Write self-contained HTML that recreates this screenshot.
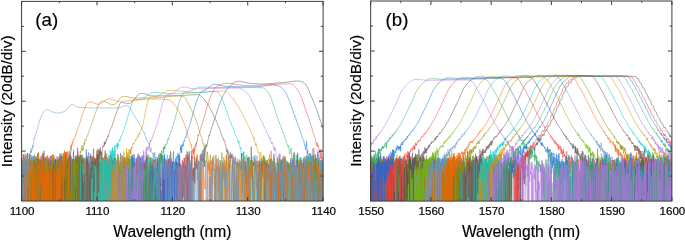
<!DOCTYPE html>
<html><head><meta charset="utf-8"><title>spectra</title>
<style>html,body{margin:0;padding:0;background:#fff;}body{width:685px;height:241px;overflow:hidden;}</style></head>
<body>
<svg width="685" height="241" viewBox="0 0 685 241" style="display:block;will-change:transform;font-family:'Liberation Sans',sans-serif" fill="#000">
<defs><clipPath id="ca"><rect x="21.6" y="1.4" width="301.5" height="199.6"/></clipPath><clipPath id="cb"><rect x="370.65" y="1.0" width="301.25" height="200.1"/></clipPath></defs>
<rect width="685" height="241" fill="#fff"/>
<polyline clip-path="url(#ca)" fill="none" stroke="#515151" stroke-width="0.5" stroke-linejoin="round" points="20.6,159.7 20.9,161.2 21.2,164.7 21.5,216 21.8,187.5 22.1,216 22.4,160.1 22.7,168.1 23,174.2 23.3,156.5 23.6,154.7 23.9,163.9 24.2,166.1 24.5,164.7 24.8,171 25.1,189.1 25.4,166.1 25.7,216 26,169.3 26.3,160.1 26.6,160.7 26.9,175.3 27.2,164.7 27.5,153.1 27.8,181.2 28.1,171.9 28.4,216 28.7,186.9 29,157.9 29.3,153.6 29.6,166.2 29.9,165.5 30.2,216 30.5,161.4 30.8,159.8 31.1,170 31.4,166.6 31.7,167.5 32,161.2 32.3,177.7 32.6,175.7 32.9,216 33.2,161.1 33.5,185.8 33.8,188.5 34.1,162.3 34.4,184.4 34.7,160.5 35,192.7 35.3,191.2 35.6,172.3 35.9,177 36.2,170.2 36.5,170.1 36.8,168.6 37.1,165.6 37.4,176.1 37.7,153.2 38,177.4 38.3,161 38.6,187.9 38.9,171.4 39.2,172.1 39.5,187.8 39.8,216 40.1,164.9 40.4,167.5 40.7,161.9 41,168.1 41.3,160 41.6,164.3 41.9,162.4 42.2,215.1 42.5,170.1 42.8,162.7 43.1,216 43.4,158.5 43.7,174.7 44,165.4 44.3,173.5 44.6,178.1 44.9,216 45.2,157.3 45.5,165.7 45.8,169 46.1,216 46.4,162.7 46.7,160.8 47,166.6 47.3,163.8 47.6,184.4 47.9,171.5 48.2,164.8 48.5,163.4 48.8,170.4 49.1,189 49.4,173.5 49.7,166.3 50,163.7 50.3,174.2 50.6,177.2 50.9,156.3 51.2,181.4 51.5,162.9 51.8,216 52.1,216 52.4,183.4 52.7,166.1 53,180.3 53.3,171.8 53.6,157.2 53.9,156.9 54.2,185.3 54.5,165.7 54.8,173.3 55.1,166.2 55.4,159.7 55.7,165.7 56,189 56.3,216 56.6,165.4 56.9,194.6 57.2,162.1 57.5,176.1 57.8,194.2 58.1,177.7 58.4,198.3 58.7,169.9 59,162.1 59.3,156.4 59.6,171.9 59.9,161.9 60.2,158.6 60.5,216 60.8,176.9 61.1,153.7 61.4,176.8 61.7,216 62,162.4 62.3,165.4 62.6,216 62.9,172.9 63.2,153.1 63.5,216 63.8,161.3 64.1,166 64.4,176.4 64.7,216 65,159.8 65.3,154.9 65.6,179.2 65.9,152.4 66.2,155.4 66.5,168.4 66.8,168.9 67.1,164.1 67.4,164.7 67.7,169.7 68,195.8 68.3,163 68.6,161.2 68.9,164.6 69.2,216 69.5,173.8 69.8,194.8 70.1,190.3 70.4,216 70.7,216 71,157.1 71.3,216 71.6,186.8 71.9,164.3 72.2,161.4 72.5,161.1 72.8,173 73.1,190.5 73.4,176.5 73.7,181.5 74,160.1 74.3,176.4 74.6,168.3 74.9,194.1 75.2,160.3 75.5,156 75.8,173.7 76.1,166.5 76.4,161.8 76.7,155.6 77,181.7 77.3,216 77.6,162.5 77.9,159.6 78.2,179.2 78.5,168.6 78.8,179.1 79.1,167.5 79.4,161.6 79.7,179.6 80,163.7 80.3,169.2 80.6,154.8 80.9,166.5 81.2,166.8 81.5,171.6 81.8,184.6 82.1,174 82.4,158.8 82.7,176.8 83,159.3 83.3,173.3 83.6,167.4 83.9,159 84.2,161.1 84.5,161.5 84.8,171.8 85.1,166.5 85.4,216 85.7,168.5 86,163.7 86.3,194 86.6,174.5 86.9,158.6 87.2,165 87.5,162.7 87.8,161.4 88.1,161.9 88.4,216 88.7,176.2 89,165 89.3,180.5 89.6,164.4 89.9,171.8 90.2,158.2 90.5,173.1 90.8,156.2 91.1,216 91.4,161.7 91.7,190.6 92,172.3 92.3,157.7 92.6,165.2 92.9,161.9 93.2,163.1 93.5,148.8 93.8,166 94.1,170.2 94.4,216 94.7,164.3 95,181.2 95.3,163.6 95.6,162.4 95.9,163.9 96.2,170.2 96.5,180.7 96.8,162.2 97.1,165.2 97.4,154.9 97.7,177.5 98,148.8 98.3,163.1 98.6,205 98.9,156.8 99.2,166.2 99.5,166.5 99.8,162.9 100.1,192.9 100.4,173.7 100.7,173 101,180.9 101.3,171.1 101.6,161.4 101.9,165.5 102.2,216 102.5,160 102.8,161.3 103.1,158.8 103.4,167.8 103.7,165.6 104,163.9 104.3,169.9 104.6,216 104.9,176.4 105.2,150.6 105.5,181.3 105.8,156.2 106.1,167.6 106.4,165.5 106.7,170 107,163.2 107.3,162.6 107.6,185.4 107.9,165.5 108.2,167.9 108.5,162.2 108.8,158.3 109.1,155.3 109.4,170.1 109.7,185.2 110,183 110.3,159.9 110.6,180.7 110.9,183 111.2,174.4 111.5,162.5 111.8,178.3 112.1,179.3 112.4,167.5 112.7,178.3 113,169.2 113.3,160.4 113.6,216 113.9,159.6 114.2,157.9 114.5,216 114.8,216 115.1,172.2 115.4,167 115.7,158.3 116,165 116.3,216 116.6,216 116.9,174 117.2,175.1 117.5,166.8 117.8,157.5 118.1,158.7 118.4,171.4 118.7,172.5 119,191 119.3,199.1 119.6,165.5 119.9,216 120.2,216 120.5,167.2 120.8,193 121.1,216 121.4,164.3 121.7,162 122,168.4 122.3,156.5 122.6,169.8 122.9,166.3 123.2,173 123.5,160.2 123.8,169 124.1,172.3 124.4,157 124.7,216 125,161.1 125.3,216 125.6,174.8 125.9,173.9 126.2,163.4 126.5,173 126.8,159.2 127.1,165.2 127.4,156.9 127.7,165.4 128,156.6 128.3,216 128.6,174.7 128.9,194.6 129.2,170.5 129.5,166.6 129.8,178.5 130.1,216 130.4,178.5 130.7,216 131,166.5 131.3,158.4 131.6,213 131.9,155.3 132.2,166.7 132.5,164.8 132.8,216 133.1,163.8 133.4,170.8 133.7,158.5 134,163.1 134.3,162.8 134.6,163.1 134.9,167.7 135.2,191.2 135.5,216 135.8,169.5 136.1,216 136.4,161.4 136.7,159.1 137,157.8 137.3,175.1 137.6,169.3 137.9,165.1 138.2,172.9 138.5,170.1 138.8,170 139.1,179.3 139.4,155.5 139.7,176.7 140,177.9 140.3,168.1 140.6,157.6 140.9,163.6 141.2,170.7 141.5,164.9 141.8,164.1 142.1,167.5 142.4,173.5 142.7,160 143,154.9 143.3,216 143.6,162.3 143.9,167.6 144.2,164.5 144.5,165.9 144.8,171.3 145.1,163.8 145.4,173.4 145.7,216 146,162.1 146.3,167.2 146.6,161.5 146.9,154.5 147.2,204.4 147.5,216 147.8,190.7 148.1,216 148.4,171.7 148.7,216 149,216 149.3,216 149.6,170.4 149.9,187.3 150.2,161.1 150.5,185.3 150.8,157.2 151.1,164.4 151.4,175.6 151.7,167.4 152,159.3 152.3,158.2 152.6,190.9 152.9,166.7 153.2,160.4 153.5,173.4 153.8,178.7 154.1,160 154.4,159.8 154.7,162.6 155,159.2 155.3,162.5 155.6,161.4 155.9,157.4 156.2,161.7 156.5,173.1 156.8,184.2 157.1,172.6 157.4,162.6 157.7,186.7 158,216 158.3,185.4 158.6,159.1 158.9,161.6 159.2,190 159.5,216 159.8,157.2 160.1,153 160.4,216 160.7,183.4 161,186 161.3,154.6 161.6,159 161.9,163 162.2,155.6 162.5,161.5 162.8,216 163.1,159.2 163.4,180.2 163.7,170.1 164,216 164.3,172.2 164.6,216 164.9,167.2 165.2,172.9 165.5,164.7 165.8,169.6 166.1,216 166.4,159.7 166.7,179.7 167,166.9 167.3,161.2 167.6,163.6 167.9,186.6 168.2,165.3 168.5,158.7 168.8,177.4 169.1,174.8 169.4,160.6 169.7,160.2 170,216 170.3,165.1 170.6,151.5 170.9,155.6 171.2,184.7 171.5,164.1 171.8,171.9 172.1,176.8 172.4,162.3 172.7,163.9 173,172.3 173.3,177.1 173.6,182.2 173.9,170 174.2,191.1 174.5,185 174.8,170.3 175.1,216 175.4,168.9 175.7,175.6 176,162.1 176.3,216 176.6,162.8 176.9,167.5 177.2,216 177.5,176.9 177.8,163.8 178.1,162.6 178.4,180.3 178.7,175.4 179,178.7 179.3,216 179.6,216 179.9,165.4 180.2,173.8 180.5,216 180.8,216 181.1,179.2 181.4,166.4 181.7,216 182,169.4 182.3,172.4 182.6,216 182.9,161.1 183.2,197.1 183.5,163.7 183.8,167.3 184.1,157.7 184.4,160.4 184.7,216 185,177.4 185.3,165.1 185.6,169.9 185.9,216 186.2,192 186.5,165.7 186.8,171.6 187.1,151.5 187.4,216 187.7,161.8 188,154.6 188.3,216 188.6,175.3 188.9,168.9 189.2,151.3 189.5,216 189.8,168.9 190.1,175.4 190.4,216 190.7,165.7 191,170.7 191.3,177 191.6,155.9 191.9,158.4 192.2,216 192.5,173.8 192.8,168.9 193.1,168.5 193.4,180.7 193.7,167.7 194,216 194.3,157.1 194.6,161.7 194.9,183.2 195.2,162.8 195.5,168.9 195.8,169.1 196.1,161.5 196.4,158.2 196.7,168.7 197,159.1 197.3,169.5 197.6,164.5 197.9,169.7 198.2,165.7 198.5,164.6 198.8,160.8 199.1,166.6 199.4,216 199.7,187.1 200,156.4 200.3,155 200.6,157 200.9,216 201.2,153.2 201.5,158.9 201.8,160.9 202.1,159.2 202.4,161.1 202.7,150.3 203,150.1 203.3,162.5 203.6,155.4 203.9,152.4 204.2,148.8 204.5,166.9 204.8,148.2 205.1,145.9 205.4,149.5 205.7,147.7 206,144.3 206.3,144.9 206.6,147 206.9,145.5 207.2,144 207.5,143.4 207.8,140.5 208.1,140 208.4,138.5 208.7,136.9 209,135.2 209.3,135.4 209.6,135.8 209.9,132.8 210.2,132.7 210.5,131.1 210.8,130.9 211.1,129.6 211.4,128.8 211.7,127.8 212,126.5 212.3,126.1 212.6,125 212.9,124 213.2,123.3 214.2,120.5 215.2,117.1 216.2,114.3 217.2,111 218.2,107.9 219.2,104.9 220.2,102.2 221.2,99.7 222.2,97.6 223.2,95.6 224.2,93.8 225.2,92 226.2,90.4 227.2,89 228.2,87.8 229.2,86.8 230.2,85.9 231.2,85 232.2,84.1 233.2,83.3 234.2,82.6 235.2,82.1 236.2,81.6 237.2,81.4 238.2,81.3 239.2,81.3 240.2,81.4 241.2,81.6 242.2,81.8 243.2,82 244.2,82.2 245.2,82.4 246.2,82.7 247.2,82.9 248.2,83.1 249.2,83.2 250.2,83.3 251.2,83.4 252.2,83.5 253.2,83.6 254.2,83.7 255.2,83.7 256.2,83.8 257.2,83.9 258.2,83.9 259.2,83.9 260.2,84 261.2,84 262.2,84 263.2,84 264.2,84 265.2,83.9 266.2,83.9 267.2,83.8 268.2,83.8 269.2,83.7 270.2,83.6 271.2,83.6 272.2,83.5 273.2,83.4 274.2,83.3 275.2,83.2 276.2,83.1 277.2,83 278.2,82.9 279.2,82.9 280.2,82.8 281.2,82.7 282.2,82.6 283.2,82.5 284.2,82.4 285.2,82.3 286.2,82.1 287.2,82 288.2,81.9 289.2,81.8 290.2,81.6 291.2,81.5 292.2,81.4 293.2,81.3 294.2,81.2 295.2,81.1 296.2,81.1 297.2,81 298.2,81 299.2,81 300.2,81.2 301.2,81.5 302.2,82 303.2,82.6 304.2,83.2 305.2,84 306.2,85.3 307.2,87 308.2,89.1 309.2,91.4 310.2,93.8 311.2,96.1 312.2,98.4 313.2,100.9 314.2,103.3 315.2,106 316.2,108.7 317.2,111.4 318.2,114.2 319.2,117.2 320.2,120.1 321.2,122.7 321.7,124 322.2,125.3 322.7,126.9 323.2,128.5 323.7,130.2"/>
<polyline clip-path="url(#ca)" fill="none" stroke="#F14040" stroke-width="0.5" stroke-linejoin="round" points="20.6,216 20.9,216 21.2,161.5 21.5,216 21.8,216 22.1,194.1 22.4,216 22.7,161.2 23,172.6 23.3,154.3 23.6,181.4 23.9,155.5 24.2,216 24.5,180.5 24.8,216 25.1,216 25.4,216 25.7,169.1 26,160.6 26.3,216 26.6,216 26.9,216 27.2,216 27.5,216 27.8,160 28.1,162.4 28.4,216 28.7,216 29,216 29.3,216 29.6,165.4 29.9,216 30.2,164.5 30.5,167.5 30.8,168.4 31.1,168.1 31.4,216 31.7,163.2 32,162.8 32.3,173.7 32.6,216 32.9,160.6 33.2,159.2 33.5,216 33.8,165 34.1,187.7 34.4,154.6 34.7,216 35,216 35.3,216 35.6,164.1 35.9,216 36.2,167.5 36.5,216 36.8,160.2 37.1,158.6 37.4,161.8 37.7,216 38,216 38.3,216 38.6,153.3 38.9,216 39.2,216 39.5,188.4 39.8,168.1 40.1,216 40.4,186.5 40.7,198 41,216 41.3,157.2 41.6,157.6 41.9,190.3 42.2,216 42.5,156.8 42.8,154.1 43.1,187 43.4,168 43.7,216 44,173.4 44.3,216 44.6,216 44.9,170.6 45.2,216 45.5,171.8 45.8,184.1 46.1,167.8 46.4,175.4 46.7,216 47,171.1 47.3,216 47.6,159.5 47.9,216 48.2,216 48.5,163.8 48.8,216 49.1,163.2 49.4,159.1 49.7,165.1 50,216 50.3,156.4 50.6,169.9 50.9,216 51.2,155.8 51.5,177 51.8,167.1 52.1,163.6 52.4,216 52.7,163.6 53,216 53.3,216 53.6,216 53.9,155 54.2,167.3 54.5,161.1 54.8,216 55.1,168.3 55.4,216 55.7,216 56,170 56.3,216 56.6,216 56.9,216 57.2,166.7 57.5,159.7 57.8,216 58.1,158 58.4,216 58.7,167 59,173.1 59.3,162.1 59.6,216 59.9,162.6 60.2,180 60.5,216 60.8,216 61.1,216 61.4,174 61.7,216 62,216 62.3,182.5 62.6,198.7 62.9,169.5 63.2,163.9 63.5,216 63.8,216 64.1,176.5 64.4,187.7 64.7,216 65,166.5 65.3,157.7 65.6,216 65.9,216 66.2,165.8 66.5,194.7 66.8,183.5 67.1,177.9 67.4,216 67.7,210.3 68,216 68.3,216 68.6,162.9 68.9,175.8 69.2,216 69.5,160.3 69.8,216 70.1,162.2 70.4,165.3 70.7,216 71,216 71.3,165.6 71.6,178.4 71.9,163.3 72.2,216 72.5,216 72.8,178.1 73.1,174.3 73.4,184.7 73.7,175.3 74,216 74.3,216 74.6,216 74.9,216 75.2,185.3 75.5,216 75.8,216 76.1,216 76.4,175 76.7,216 77,216 77.3,216 77.6,183.9 77.9,151.4 78.2,157.9 78.5,216 78.8,159.2 79.1,156.8 79.4,163.5 79.7,157 80,178.7 80.3,167.9 80.6,216 80.9,216 81.2,195.7 81.5,216 81.8,216 82.1,155.1 82.4,166.7 82.7,216 83,157.7 83.3,159.5 83.6,216 83.9,216 84.2,157.6 84.5,185.3 84.8,179.8 85.1,216 85.4,216 85.7,161.8 86,216 86.3,169.4 86.6,156.9 86.9,169.4 87.2,216 87.5,167.8 87.8,169 88.1,216 88.4,176.3 88.7,216 89,216 89.3,216 89.6,216 89.9,216 90.2,216 90.5,180.2 90.8,156.9 91.1,216 91.4,216 91.7,216 92,216 92.3,156 92.6,216 92.9,216 93.2,216 93.5,154.1 93.8,216 94.1,216 94.4,161.2 94.7,216 95,216 95.3,162.1 95.6,164.2 95.9,216 96.2,216 96.5,216 96.8,216 97.1,216 97.4,216 97.7,157.5 98,162.8 98.3,216 98.6,216 98.9,190 99.2,216 99.5,216 99.8,157.7 100.1,216 100.4,216 100.7,216 101,216 101.3,216 101.6,216 101.9,216 102.2,161.8 102.5,216 102.8,160.8 103.1,216 103.4,216 103.7,180.4 104,216 104.3,165.8 104.6,168.3 104.9,154.8 105.2,216 105.5,216 105.8,216 106.1,216 106.4,216 106.7,153.6 107,216 107.3,168.2 107.6,216 107.9,216 108.2,163 108.5,216 108.8,166.5 109.1,161.1 109.4,161.9 109.7,216 110,216 110.3,216 110.6,216 110.9,216 111.2,156 111.5,216 111.8,216 112.1,216 112.4,159.5 112.7,216 113,173.3 113.3,166.2 113.6,165.2 113.9,216 114.2,216 114.5,168.7 114.8,216 115.1,216 115.4,216 115.7,176 116,216 116.3,216 116.6,216 116.9,216 117.2,216 117.5,162 117.8,182.3 118.1,179.2 118.4,159.7 118.7,216 119,161.5 119.3,176.7 119.6,183.1 119.9,216 120.2,216 120.5,216 120.8,216 121.1,172.8 121.4,176.2 121.7,216 122,162.2 122.3,216 122.6,216 122.9,216 123.2,216 123.5,166.3 123.8,175.1 124.1,216 124.4,162.2 124.7,216 125,216 125.3,158.7 125.6,174.4 125.9,216 126.2,216 126.5,161.7 126.8,216 127.1,216 127.4,216 127.7,216 128,166.6 128.3,216 128.6,216 128.9,216 129.2,157 129.5,161 129.8,185.7 130.1,216 130.4,216 130.7,178.6 131,216 131.3,216 131.6,216 131.9,216 132.2,216 132.5,184.5 132.8,216 133.1,154.1 133.4,171.5 133.7,169.4 134,164.4 134.3,216 134.6,216 134.9,216 135.2,170.2 135.5,170.9 135.8,158.6 136.1,160.3 136.4,163.4 136.7,162.4 137,178.1 137.3,165.2 137.6,216 137.9,216 138.2,164 138.5,216 138.8,159.8 139.1,156.9 139.4,216 139.7,165.9 140,179.3 140.3,216 140.6,172.3 140.9,168.9 141.2,162.7 141.5,216 141.8,179.5 142.1,216 142.4,162.6 142.7,216 143,164.1 143.3,216 143.6,180.3 143.9,216 144.2,216 144.5,161.7 144.8,216 145.1,216 145.4,160.3 145.7,216 146,156.2 146.3,216 146.6,216 146.9,155 147.2,216 147.5,157.1 147.8,171.4 148.1,169 148.4,216 148.7,178.1 149,216 149.3,162.8 149.6,216 149.9,216 150.2,216 150.5,216 150.8,163.1 151.1,167.1 151.4,216 151.7,216 152,216 152.3,165.3 152.6,164.8 152.9,216 153.2,216 153.5,216 153.8,216 154.1,169.5 154.4,216 154.7,172.9 155,165.3 155.3,162.8 155.6,216 155.9,166.6 156.2,216 156.5,216 156.8,178.1 157.1,161.4 157.4,159.7 157.7,216 158,216 158.3,174.8 158.6,216 158.9,168.3 159.2,162.7 159.5,216 159.8,216 160.1,216 160.4,216 160.7,216 161,174.2 161.3,216 161.6,216 161.9,216 162.2,216 162.5,168.9 162.8,216 163.1,216 163.4,166.1 163.7,216 164,216 164.3,216 164.6,216 164.9,168.7 165.2,158.4 165.5,181.6 165.8,216 166.1,159.8 166.4,216 166.7,177 167,171.9 167.3,216 167.6,216 167.9,183.2 168.2,159.5 168.5,169.9 168.8,216 169.1,177.6 169.4,164.3 169.7,157.8 170,166.2 170.3,176.9 170.6,160.4 170.9,165.2 171.2,185.6 171.5,216 171.8,187.6 172.1,164.4 172.4,216 172.7,216 173,171.1 173.3,216 173.6,216 173.9,216 174.2,216 174.5,201.3 174.8,184.5 175.1,170.9 175.4,216 175.7,216 176,216 176.3,161.7 176.6,166.6 176.9,169.2 177.2,216 177.5,216 177.8,172.1 178.1,216 178.4,216 178.7,163.7 179,216 179.3,216 179.6,157.9 179.9,216 180.2,182.8 180.5,163.2 180.8,216 181.1,216 181.4,216 181.7,216 182,216 182.3,159.8 182.6,174.8 182.9,166.7 183.2,175.8 183.5,172.3 183.8,216 184.1,216 184.4,166.4 184.7,183.5 185,158.1 185.3,216 185.6,174.9 185.9,154.6 186.2,216 186.5,216 186.8,170.4 187.1,156.3 187.4,216 187.7,171.2 188,176.6 188.3,216 188.6,175.1 188.9,157.1 189.2,165.2 189.5,216 189.8,177.1 190.1,162.8 190.4,216 190.7,170.5 191,164.3 191.3,216 191.6,150.6 191.9,181 192.2,156.1 192.5,156.3 192.8,157.4 193.1,149.5 193.4,152.2 193.7,154.5 194,147.4 194.3,148 194.6,151.2 194.9,151.4 195.2,144.8 195.5,145.7 195.8,147.2 196.1,142.6 196.4,144.6 196.7,142.4 197,141.5 197.3,141.8 197.6,137.9 197.9,134.9 198.2,136.1 198.5,135.3 198.8,134.8 199.1,133.7 199.4,132.5 199.7,131.4 200,130.9 200.3,129.7 200.6,128.8 200.9,127.6 201.2,126.5 201.5,125.5 201.8,125 202.1,124 203.1,120.5 204.1,117.4 205.1,113.9 206.1,110.3 207.1,106.8 208.1,103.4 209.1,100.4 210.1,97.7 211.1,95.4 212.1,93.1 213.1,91 214.1,89.2 215.1,87.8 216.1,86.9 217.1,86.4 218.1,85.8 219.1,85.3 220.1,84.9 221.1,84.5 222.1,84.1 223.1,83.8 224.1,83.6 225.1,83.4 226.1,83.3 227.1,83.3 228.1,83.3 229.1,83.4 230.1,83.5 231.1,83.7 232.1,83.8 233.1,84 234.1,84.2 235.1,84.4 236.1,84.6 237.1,84.7 238.1,84.8 239.1,84.9 240.1,85 241.1,85.1 242.1,85.2 243.1,85.3 244.1,85.3 245.1,85.4 246.1,85.5 247.1,85.5 248.1,85.6 249.1,85.6 250.1,85.6 251.1,85.6 252.1,85.6 253.1,85.6 254.1,85.5 255.1,85.5 256.1,85.5 257.1,85.4 258.1,85.4 259.1,85.3 260.1,85.2 261.1,85.2 262.1,85.1 263.1,85 264.1,85 265.1,84.9 266.1,84.8 267.1,84.8 268.1,84.7 269.1,84.6 270.1,84.6 271.1,84.5 272.1,84.4 273.1,84.4 274.1,84.3 275.1,84.3 276.1,84.2 277.1,84.2 278.1,84.2 279.1,84.1 280.1,84.1 281.1,84 282.1,84 283.1,84 284.1,83.9 285.1,83.9 286.1,83.9 287.1,83.8 288.1,83.8 289.1,83.8 290.1,83.8 291.1,83.8 292.1,84.1 293.1,84.8 294.1,85.7 295.1,86.7 296.1,87.9 297.1,89.1 298.1,90.6 299.1,92.3 300.1,94.4 301.1,96.8 302.1,99.4 303.1,102.1 304.1,105 305.1,108 306.1,111.1 307.1,113.8 308.1,116.7 309.1,119.6 310.1,122.9 310.6,124.2 311.1,125.9 311.6,126.6 312.1,129.2 312.6,130.8 313.1,132.1 313.6,133.3 314.1,135.5 314.6,136.9 315.1,138.1 315.6,140 316.1,144.4 316.6,145.4 317.1,142.5 317.6,146.7 318.1,144.8 318.6,146.7 319.1,148.6 319.6,153.1 320.1,149.6 320.6,159.1 321.1,149.3 321.6,156 322.1,157 322.6,166.8 323.1,172.9 323.6,168.8 324.1,178.8"/>
<polyline clip-path="url(#ca)" fill="none" stroke="#1A6FDF" stroke-width="0.5" stroke-linejoin="round" points="20.6,216 20.9,216 21.2,165.1 21.5,216 21.8,216 22.1,216 22.4,164.2 22.7,216 23,216 23.3,170.2 23.6,216 23.9,216 24.2,216 24.5,181 24.8,191.1 25.1,216 25.4,216 25.7,171.3 26,216 26.3,216 26.6,216 26.9,170.5 27.2,216 27.5,166.5 27.8,216 28.1,165.7 28.4,216 28.7,165.5 29,179.3 29.3,167.6 29.6,216 29.9,164.9 30.2,216 30.5,216 30.8,216 31.1,216 31.4,216 31.7,216 32,216 32.3,216 32.6,178 32.9,216 33.2,216 33.5,167.9 33.8,156.3 34.1,216 34.4,216 34.7,166.3 35,216 35.3,164.3 35.6,216 35.9,216 36.2,216 36.5,163.8 36.8,216 37.1,192.1 37.4,216 37.7,167.6 38,174.5 38.3,168.6 38.6,155.9 38.9,216 39.2,162.1 39.5,168.9 39.8,163 40.1,216 40.4,162.1 40.7,216 41,159.1 41.3,163.5 41.6,183.3 41.9,167.5 42.2,168.3 42.5,174.8 42.8,152.9 43.1,216 43.4,216 43.7,216 44,216 44.3,182.8 44.6,165.6 44.9,162.3 45.2,173.1 45.5,175.9 45.8,216 46.1,162 46.4,159.1 46.7,193.9 47,164.8 47.3,216 47.6,183 47.9,176.9 48.2,163.2 48.5,216 48.8,178.4 49.1,162.9 49.4,170.4 49.7,165.5 50,216 50.3,216 50.6,216 50.9,216 51.2,216 51.5,161.7 51.8,173.8 52.1,216 52.4,216 52.7,183.7 53,163 53.3,166.3 53.6,216 53.9,216 54.2,175.6 54.5,162.9 54.8,216 55.1,216 55.4,168 55.7,179.6 56,159.8 56.3,169.7 56.6,162.9 56.9,216 57.2,216 57.5,216 57.8,216 58.1,173.2 58.4,216 58.7,169.9 59,216 59.3,163.5 59.6,164.9 59.9,216 60.2,216 60.5,216 60.8,165.4 61.1,166 61.4,157.4 61.7,216 62,179.3 62.3,216 62.6,216 62.9,216 63.2,216 63.5,176.8 63.8,216 64.1,216 64.4,160.1 64.7,216 65,179.8 65.3,216 65.6,216 65.9,216 66.2,171.2 66.5,216 66.8,171.2 67.1,158.1 67.4,161.9 67.7,216 68,216 68.3,164.5 68.6,216 68.9,216 69.2,157.8 69.5,173.3 69.8,165.3 70.1,216 70.4,152.5 70.7,151.4 71,216 71.3,164.7 71.6,216 71.9,170.1 72.2,159.9 72.5,160.2 72.8,216 73.1,170.9 73.4,152.2 73.7,162.8 74,158.9 74.3,167.4 74.6,216 74.9,216 75.2,216 75.5,216 75.8,216 76.1,216 76.4,165.3 76.7,216 77,170.2 77.3,216 77.6,147.7 77.9,216 78.2,177.8 78.5,156.9 78.8,216 79.1,180.2 79.4,178.1 79.7,167.7 80,216 80.3,156.9 80.6,161.1 80.9,178.1 81.2,160.4 81.5,216 81.8,216 82.1,216 82.4,169.2 82.7,216 83,216 83.3,169.6 83.6,216 83.9,172.3 84.2,216 84.5,176.2 84.8,206.1 85.1,172.1 85.4,216 85.7,216 86,216 86.3,149.4 86.6,216 86.9,216 87.2,216 87.5,159.4 87.8,160.5 88.1,164.2 88.4,216 88.7,162.5 89,216 89.3,160.5 89.6,216 89.9,216 90.2,216 90.5,216 90.8,153.8 91.1,216 91.4,216 91.7,216 92,216 92.3,216 92.6,216 92.9,173.2 93.2,216 93.5,216 93.8,199.6 94.1,216 94.4,216 94.7,192.9 95,162.8 95.3,166.9 95.6,170.1 95.9,163.9 96.2,216 96.5,161.8 96.8,216 97.1,216 97.4,216 97.7,167.4 98,216 98.3,168.8 98.6,216 98.9,216 99.2,172.9 99.5,216 99.8,161.5 100.1,216 100.4,216 100.7,161.5 101,216 101.3,164.6 101.6,194.3 101.9,185.2 102.2,181.4 102.5,216 102.8,158.3 103.1,170.2 103.4,168.2 103.7,165.9 104,164 104.3,176.5 104.6,216 104.9,216 105.2,216 105.5,216 105.8,163.8 106.1,216 106.4,216 106.7,169.6 107,216 107.3,216 107.6,216 107.9,186.5 108.2,216 108.5,216 108.8,216 109.1,175.9 109.4,159.1 109.7,216 110,172.4 110.3,216 110.6,216 110.9,216 111.2,216 111.5,216 111.8,175.9 112.1,216 112.4,160.5 112.7,166.4 113,168.8 113.3,216 113.6,173.3 113.9,216 114.2,216 114.5,216 114.8,216 115.1,163.2 115.4,163.8 115.7,166.5 116,160.3 116.3,216 116.6,216 116.9,216 117.2,216 117.5,166.2 117.8,153.9 118.1,216 118.4,169.9 118.7,196.8 119,185.6 119.3,190.9 119.6,167.9 119.9,216 120.2,216 120.5,153.1 120.8,216 121.1,216 121.4,216 121.7,172 122,169.1 122.3,178.2 122.6,159 122.9,216 123.2,165.1 123.5,216 123.8,216 124.1,216 124.4,166.2 124.7,216 125,216 125.3,216 125.6,216 125.9,216 126.2,185.7 126.5,216 126.8,216 127.1,216 127.4,190.5 127.7,216 128,185.7 128.3,159.6 128.6,216 128.9,216 129.2,176.8 129.5,216 129.8,159.1 130.1,216 130.4,216 130.7,173.7 131,216 131.3,216 131.6,216 131.9,156.2 132.2,160.7 132.5,158 132.8,216 133.1,207.1 133.4,164.4 133.7,216 134,216 134.3,154.5 134.6,174.8 134.9,175 135.2,216 135.5,216 135.8,216 136.1,216 136.4,181.3 136.7,216 137,216 137.3,157.3 137.6,174.8 137.9,216 138.2,156.3 138.5,166.9 138.8,178.7 139.1,216 139.4,160.1 139.7,190.7 140,162.1 140.3,158.4 140.6,216 140.9,157.4 141.2,166.2 141.5,192.9 141.8,216 142.1,156.7 142.4,176.6 142.7,169.1 143,216 143.3,169.2 143.6,164.6 143.9,159.5 144.2,216 144.5,216 144.8,216 145.1,216 145.4,178.8 145.7,216 146,182.1 146.3,161.3 146.6,158.3 146.9,205 147.2,216 147.5,216 147.8,216 148.1,216 148.4,216 148.7,216 149,216 149.3,166 149.6,172.4 149.9,177.9 150.2,216 150.5,165.8 150.8,216 151.1,216 151.4,171.3 151.7,216 152,216 152.3,164.7 152.6,216 152.9,216 153.2,216 153.5,173 153.8,216 154.1,216 154.4,216 154.7,216 155,168.4 155.3,168.8 155.6,216 155.9,187.3 156.2,167.9 156.5,216 156.8,197.4 157.1,216 157.4,157.1 157.7,216 158,216 158.3,216 158.6,168.2 158.9,181.6 159.2,216 159.5,158.4 159.8,184.7 160.1,176.7 160.4,216 160.7,216 161,216 161.3,190.6 161.6,216 161.9,216 162.2,167.6 162.5,178 162.8,216 163.1,216 163.4,163.1 163.7,216 164,156.1 164.3,216 164.6,154 164.9,173 165.2,216 165.5,172.5 165.8,190.9 166.1,216 166.4,194.7 166.7,193.1 167,216 167.3,166.6 167.6,216 167.9,194.2 168.2,166.6 168.5,196.3 168.8,216 169.1,164.9 169.4,216 169.7,175.2 170,216 170.3,216 170.6,216 170.9,157.9 171.2,216 171.5,162.1 171.8,216 172.1,170.9 172.4,216 172.7,161 173,169.5 173.3,153.5 173.6,151.1 173.9,216 174.2,161.8 174.5,216 174.8,216 175.1,169 175.4,158.7 175.7,159.8 176,167.6 176.3,156.1 176.6,216 176.9,179.1 177.2,162.1 177.5,216 177.8,152.9 178.1,159.6 178.4,160 178.7,154.7 179,166.7 179.3,155.6 179.6,166.3 179.9,153.9 180.2,152 180.5,147.3 180.8,150.6 181.1,144.9 181.4,149 181.7,152.9 182,145.8 182.3,146.4 182.6,146.8 182.9,143.4 183.2,145.9 183.5,143.8 183.8,141.4 184.1,140.5 184.4,141.4 184.7,139.5 185,138.8 185.3,137.5 185.6,137.4 185.9,138 186.2,135.7 186.5,133.6 186.8,134.1 187.1,132.8 187.4,131.4 187.7,131 188,130.4 188.3,129.1 188.6,128.2 188.9,127.5 189.2,126.3 189.5,125.7 189.8,124.8 190.1,123.7 191.1,120.3 192.1,117 193.1,113.5 194.1,109.5 195.1,105.8 196.1,102.5 197.1,99.7 198.1,97.4 199.1,95.2 200.1,93.4 201.1,91.9 202.1,91.1 203.1,90.6 204.1,90.3 205.1,89.9 206.1,89.4 207.1,88.8 208.1,88 209.1,87.1 210.1,86.3 211.1,85.5 212.1,84.9 213.1,84.5 214.1,84.4 215.1,84.4 216.1,84.5 217.1,84.7 218.1,84.8 219.1,85 220.1,85.2 221.1,85.5 222.1,85.7 223.1,85.9 224.1,86.1 225.1,86.2 226.1,86.4 227.1,86.5 228.1,86.5 229.1,86.5 230.1,86.5 231.1,86.6 232.1,86.6 233.1,86.6 234.1,86.6 235.1,86.6 236.1,86.7 237.1,86.7 238.1,86.7 239.1,86.7 240.1,86.7 241.1,86.7 242.1,86.7 243.1,86.7 244.1,86.8 245.1,86.8 246.1,86.8 247.1,86.8 248.1,86.8 249.1,86.8 250.1,86.8 251.1,86.8 252.1,86.8 253.1,86.8 254.1,86.8 255.1,86.8 256.1,86.8 257.1,86.7 258.1,86.7 259.1,86.5 260.1,86.4 261.1,86.3 262.1,86.2 263.1,86 264.1,85.9 265.1,85.7 266.1,85.6 267.1,85.4 268.1,85.3 269.1,85.2 270.1,85.1 271.1,85.1 272.1,85 273.1,85 274.1,85.1 275.1,85.2 276.1,85.3 277.1,85.5 278.1,85.8 279.1,86.2 280.1,86.7 281.1,87.4 282.1,88.2 283.1,89.1 284.1,90.1 285.1,91.6 286.1,93.3 287.1,95.4 288.1,97.7 289.1,100.2 290.1,102.9 291.1,105.7 292.1,108.6 293.1,111.5 294.1,114.3 295.1,116.9 296.1,119.2 297.1,122.4 297.6,123.7 298.1,125.3 298.6,126.5 299.1,127.9 299.6,129 300.1,131.3 300.6,131.8 301.1,133.4 301.6,135.2 302.1,137.5 302.6,139 303.1,139.7 303.6,140.4 304.1,142.7 304.6,145.4 305.1,145.1 305.6,149.7 306.1,146.9 306.6,141.3 307.1,153.9 307.6,149.8 308.1,160.2 308.6,155.4 309.1,154.8 309.6,153 310.1,160.2 310.6,153.9 311.1,177.2 311.6,167.6 312.1,166.2 312.6,166.3 313.1,171.6 313.6,154.5 314.1,191.5 314.6,159.9 315.1,166.2 315.6,154.6 316.1,193.1 316.6,163.9 317.1,165.9 317.6,151.9 318.1,169 318.6,161.6 319.1,158.1 319.6,164.1 320.1,216 320.6,160.4 321.1,163.2 321.6,216 322.1,167.2 322.6,166 323.1,159.7 323.6,161.4 324.1,175.8"/>
<polyline clip-path="url(#ca)" fill="none" stroke="#37AD6B" stroke-width="0.5" stroke-linejoin="round" points="20.6,162.2 20.9,216 21.2,163.7 21.5,216 21.8,216 22.1,216 22.4,165.5 22.7,177.3 23,166.7 23.3,216 23.6,176.1 23.9,216 24.2,158.1 24.5,158.9 24.8,172.5 25.1,216 25.4,216 25.7,168.8 26,174.6 26.3,216 26.6,166.8 26.9,165 27.2,169.5 27.5,172.8 27.8,177.7 28.1,201.5 28.4,216 28.7,216 29,161.1 29.3,216 29.6,183.2 29.9,164.7 30.2,154.7 30.5,216 30.8,159.9 31.1,160.6 31.4,163.5 31.7,156.8 32,216 32.3,162.9 32.6,216 32.9,170.1 33.2,216 33.5,216 33.8,216 34.1,170.4 34.4,216 34.7,216 35,216 35.3,216 35.6,216 35.9,177.7 36.2,165.2 36.5,216 36.8,216 37.1,168 37.4,216 37.7,216 38,174.1 38.3,163.8 38.6,216 38.9,216 39.2,216 39.5,216 39.8,216 40.1,192.7 40.4,216 40.7,166.9 41,216 41.3,174.4 41.6,170.6 41.9,172.5 42.2,175.8 42.5,174.2 42.8,216 43.1,216 43.4,155.7 43.7,158.7 44,160.4 44.3,165.5 44.6,216 44.9,157 45.2,216 45.5,216 45.8,166.2 46.1,216 46.4,160.7 46.7,216 47,161.4 47.3,170.4 47.6,216 47.9,160 48.2,162 48.5,165.9 48.8,164.2 49.1,216 49.4,163 49.7,163 50,161 50.3,167.9 50.6,216 50.9,170.4 51.2,216 51.5,216 51.8,216 52.1,184.7 52.4,216 52.7,176.9 53,171.7 53.3,185.5 53.6,211.4 53.9,176.8 54.2,168.5 54.5,216 54.8,216 55.1,163.8 55.4,198.9 55.7,216 56,163.4 56.3,163.1 56.6,216 56.9,216 57.2,216 57.5,216 57.8,216 58.1,216 58.4,164.9 58.7,216 59,216 59.3,163.7 59.6,216 59.9,179.8 60.2,216 60.5,216 60.8,167.8 61.1,161.3 61.4,163.4 61.7,156.4 62,216 62.3,216 62.6,216 62.9,189.3 63.2,162.5 63.5,171.5 63.8,216 64.1,160.7 64.4,173.5 64.7,182.1 65,216 65.3,174.6 65.6,170.4 65.9,216 66.2,216 66.5,216 66.8,173.6 67.1,159.1 67.4,162.2 67.7,162.8 68,157.9 68.3,168.1 68.6,160.8 68.9,163.5 69.2,179.3 69.5,216 69.8,216 70.1,172.3 70.4,216 70.7,216 71,161.5 71.3,216 71.6,164.4 71.9,191.6 72.2,216 72.5,169 72.8,166.7 73.1,216 73.4,170.4 73.7,216 74,184.4 74.3,175.4 74.6,216 74.9,185.3 75.2,159.4 75.5,216 75.8,216 76.1,216 76.4,216 76.7,216 77,216 77.3,184.4 77.6,174 77.9,216 78.2,187.3 78.5,158.3 78.8,172.8 79.1,178.6 79.4,166.6 79.7,216 80,163.9 80.3,156.6 80.6,216 80.9,216 81.2,216 81.5,216 81.8,176.4 82.1,160.8 82.4,168 82.7,157.3 83,169.9 83.3,182.3 83.6,216 83.9,171.2 84.2,216 84.5,216 84.8,216 85.1,157.9 85.4,163.9 85.7,186.2 86,216 86.3,216 86.6,216 86.9,158.5 87.2,168.1 87.5,168.5 87.8,216 88.1,163 88.4,152.7 88.7,216 89,216 89.3,178.4 89.6,162.9 89.9,175 90.2,181.8 90.5,158.8 90.8,216 91.1,216 91.4,216 91.7,165.1 92,163.4 92.3,216 92.6,216 92.9,216 93.2,172.9 93.5,163.6 93.8,216 94.1,216 94.4,216 94.7,216 95,167.8 95.3,181.8 95.6,174.6 95.9,189.1 96.2,176.3 96.5,216 96.8,216 97.1,175.2 97.4,173.5 97.7,162.8 98,216 98.3,216 98.6,216 98.9,216 99.2,164.9 99.5,216 99.8,170.3 100.1,169.6 100.4,169.6 100.7,168.6 101,216 101.3,161.7 101.6,157.9 101.9,164.6 102.2,158 102.5,170.2 102.8,216 103.1,162.5 103.4,188.8 103.7,216 104,157.7 104.3,216 104.6,160.9 104.9,216 105.2,216 105.5,164.6 105.8,177 106.1,173.3 106.4,172.2 106.7,160.9 107,169.5 107.3,216 107.6,185 107.9,167.5 108.2,216 108.5,168.4 108.8,216 109.1,185.9 109.4,179.3 109.7,164.1 110,216 110.3,200.3 110.6,167.4 110.9,151.9 111.2,172.5 111.5,165.2 111.8,216 112.1,149.2 112.4,203.6 112.7,216 113,173.6 113.3,216 113.6,216 113.9,216 114.2,216 114.5,156.5 114.8,216 115.1,154.4 115.4,171.6 115.7,216 116,174.7 116.3,165 116.6,181.5 116.9,168.7 117.2,216 117.5,216 117.8,188.3 118.1,157 118.4,216 118.7,190.8 119,216 119.3,216 119.6,171.9 119.9,216 120.2,161.2 120.5,162.8 120.8,216 121.1,216 121.4,166.5 121.7,171.7 122,216 122.3,216 122.6,159.7 122.9,185.6 123.2,172.2 123.5,216 123.8,158.9 124.1,216 124.4,177.3 124.7,216 125,216 125.3,201.9 125.6,171.5 125.9,166.5 126.2,216 126.5,162.7 126.8,216 127.1,216 127.4,193.6 127.7,216 128,216 128.3,157.1 128.6,216 128.9,216 129.2,168.7 129.5,216 129.8,162.3 130.1,216 130.4,183 130.7,168.4 131,155.5 131.3,159.5 131.6,216 131.9,165 132.2,176.3 132.5,216 132.8,216 133.1,157.7 133.4,216 133.7,216 134,216 134.3,216 134.6,216 134.9,174.3 135.2,172 135.5,163.4 135.8,216 136.1,216 136.4,173.3 136.7,185.7 137,216 137.3,216 137.6,216 137.9,216 138.2,159.5 138.5,168 138.8,216 139.1,161.8 139.4,216 139.7,170.2 140,186.1 140.3,216 140.6,161 140.9,216 141.2,216 141.5,216 141.8,216 142.1,216 142.4,191.5 142.7,180.3 143,216 143.3,170.9 143.6,172.9 143.9,167.1 144.2,216 144.5,216 144.8,169.7 145.1,216 145.4,216 145.7,216 146,171.3 146.3,161.5 146.6,216 146.9,216 147.2,166.9 147.5,159.4 147.8,175.9 148.1,216 148.4,166.3 148.7,154.7 149,171.2 149.3,165.7 149.6,157.3 149.9,216 150.2,164 150.5,158.5 150.8,161.9 151.1,173 151.4,216 151.7,216 152,216 152.3,216 152.6,216 152.9,180 153.2,187.5 153.5,216 153.8,216 154.1,170.1 154.4,216 154.7,163.5 155,168.9 155.3,163.3 155.6,182.3 155.9,175.4 156.2,167.4 156.5,167.3 156.8,177.7 157.1,174.1 157.4,179.3 157.7,172.5 158,185.9 158.3,184.9 158.6,211.2 158.9,154.6 159.2,171.5 159.5,162.5 159.8,174.7 160.1,159.1 160.4,153.3 160.7,164.4 161,156.9 161.3,157.4 161.6,150.5 161.9,155.7 162.2,155 162.5,154.7 162.8,164.6 163.1,149.2 163.4,147.2 163.7,153.1 164,147.6 164.3,149 164.6,145.4 164.9,148.9 165.2,146.1 165.5,144.1 165.8,144.7 166.1,144.6 166.4,144.2 166.7,144.3 167,142.5 167.3,143.2 167.6,139.4 167.9,139.8 168.2,139.7 168.5,140.2 168.8,137.1 169.1,136.1 169.4,135.9 169.7,134.8 170,134 170.3,133.7 170.6,132.9 170.9,131.8 171.2,130.5 171.5,130.3 171.8,129.8 172.1,128.2 172.4,127.3 172.7,126.4 173,125.4 173.3,124.8 173.6,123.7 174.6,120.3 175.6,116.9 176.6,113 177.6,108.7 178.6,104.6 179.6,101.1 180.6,98.5 181.6,96.1 182.6,94.1 183.6,92.8 184.6,92.2 185.6,91.9 186.6,91.7 187.6,91.5 188.6,91.4 189.6,91.1 190.6,90.8 191.6,90.4 192.6,90 193.6,89.5 194.6,88.9 195.6,88.5 196.6,88 197.6,87.6 198.6,87.3 199.6,87.1 200.6,87 201.6,87 202.6,87 203.6,87.1 204.6,87.1 205.6,87.1 206.6,87.2 207.6,87.2 208.6,87.3 209.6,87.3 210.6,87.4 211.6,87.4 212.6,87.4 213.6,87.5 214.6,87.5 215.6,87.5 216.6,87.5 217.6,87.5 218.6,87.5 219.6,87.5 220.6,87.5 221.6,87.5 222.6,87.6 223.6,87.5 224.6,87.6 225.6,87.6 226.6,87.6 227.6,87.5 228.6,87.6 229.6,87.6 230.6,87.6 231.6,87.6 232.6,87.6 233.6,87.6 234.6,87.6 235.6,87.6 236.6,87.6 237.6,87.6 238.6,87.6 239.6,87.6 240.6,87.6 241.6,87.6 242.6,87.6 243.6,87.6 244.6,87.6 245.6,87.6 246.6,87.6 247.6,87.6 248.6,87.6 249.6,87.6 250.6,87.6 251.6,87.6 252.6,87.6 253.6,87.6 254.6,87.6 255.6,87.6 256.6,87.6 257.6,87.7 258.6,87.7 259.6,87.7 260.6,87.7 261.6,87.7 262.6,87.8 263.6,88.1 264.6,88.7 265.6,89.5 266.6,90.5 267.6,91.6 268.6,92.8 269.6,94.5 270.6,96.8 271.6,99.5 272.6,102.5 273.6,105.6 274.6,109 275.6,112 276.6,115 277.6,117.9 278.6,120.7 279.5,123.1 280,124.6 280.5,125.6 281,126.9 281.5,127.9 282,129.7 282.5,130.7 283,132.5 283.5,134.1 284,135.1 284.5,137 285,138.4 285.5,138.3 286,139.6 286.5,142.7 287,144.3 287.5,144.6 288,147.1 288.5,145.6 289,149.1 289.5,153.8 290,153.8 290.5,151 291,147.8 291.5,153 292,167.5 292.5,164.9 293,158.1 293.5,161.9 294,160.7 294.5,152.3 295,216 295.5,181.2 296,168.4 296.5,168.4 297,167 297.5,161.3 298,173.9 298.5,160.4 299,171.5 299.5,168.6 300,216 300.5,167.7 301,178.6 301.5,166.5 302,170.2 302.5,216 303,216 303.5,158 304,216 304.5,177.6 305,190.2 305.5,160.1 306,167.5 306.5,216 307,160.5 307.5,161.2 308,216 308.5,158.6 309,162 309.5,194.9 310,216 310.5,185.4 311,162.8 311.5,180.8 312,155.9 312.5,182.9 313,156.4 313.5,181.5 314,159 314.5,216 315,172.3 315.5,158.8 316,180.2 316.5,157.8 317,216 317.5,170.1 318,216 318.5,158 319,154.5 319.5,163.6 320,177 320.5,160.7 321,216 321.5,216 322,165.7 322.5,216 323,216 323.5,167 324,163.8"/>
<polyline clip-path="url(#ca)" fill="none" stroke="#B177DE" stroke-width="0.5" stroke-linejoin="round" points="20.6,216 20.9,216 21.2,216 21.5,216 21.8,216 22.1,216 22.4,216 22.7,216 23,162.6 23.3,216 23.6,156.6 23.9,162.2 24.2,216 24.5,158.5 24.8,162.3 25.1,161.3 25.4,181.4 25.7,216 26,216 26.3,176.7 26.6,216 26.9,216 27.2,155.9 27.5,170.7 27.8,216 28.1,216 28.4,164.9 28.7,216 29,179.2 29.3,216 29.6,216 29.9,172.6 30.2,167.4 30.5,216 30.8,171.8 31.1,216 31.4,216 31.7,216 32,216 32.3,157.5 32.6,167 32.9,216 33.2,187.7 33.5,216 33.8,216 34.1,216 34.4,177.3 34.7,216 35,179.9 35.3,166 35.6,216 35.9,180.1 36.2,176.4 36.5,216 36.8,216 37.1,162.7 37.4,187.2 37.7,216 38,161 38.3,216 38.6,216 38.9,216 39.2,216 39.5,216 39.8,216 40.1,159.9 40.4,216 40.7,155.8 41,216 41.3,216 41.6,192.3 41.9,216 42.2,167.3 42.5,216 42.8,216 43.1,167.1 43.4,216 43.7,168 44,162.6 44.3,165.7 44.6,159.8 44.9,216 45.2,161.1 45.5,216 45.8,216 46.1,216 46.4,156.5 46.7,216 47,157.5 47.3,216 47.6,164.4 47.9,170.5 48.2,216 48.5,216 48.8,167.5 49.1,167.9 49.4,170.5 49.7,163.6 50,216 50.3,156.3 50.6,164.4 50.9,216 51.2,155.4 51.5,197.6 51.8,171.2 52.1,159.8 52.4,216 52.7,216 53,216 53.3,216 53.6,216 53.9,160.1 54.2,216 54.5,187.2 54.8,216 55.1,165.3 55.4,216 55.7,216 56,216 56.3,156.3 56.6,216 56.9,216 57.2,216 57.5,167.6 57.8,164.8 58.1,216 58.4,179.5 58.7,216 59,174.4 59.3,216 59.6,216 59.9,164.1 60.2,163.5 60.5,216 60.8,181.8 61.1,216 61.4,216 61.7,161.3 62,216 62.3,216 62.6,163 62.9,216 63.2,216 63.5,167.7 63.8,216 64.1,216 64.4,216 64.7,184.3 65,216 65.3,178.9 65.6,216 65.9,216 66.2,163.1 66.5,216 66.8,216 67.1,216 67.4,180 67.7,216 68,216 68.3,168.6 68.6,216 68.9,216 69.2,164.8 69.5,154.3 69.8,216 70.1,216 70.4,160.5 70.7,216 71,216 71.3,216 71.6,169.5 71.9,176.8 72.2,216 72.5,162.8 72.8,167 73.1,216 73.4,216 73.7,216 74,216 74.3,216 74.6,216 74.9,170 75.2,216 75.5,216 75.8,178.2 76.1,164 76.4,169.6 76.7,216 77,216 77.3,160.4 77.6,207.5 77.9,216 78.2,179.6 78.5,216 78.8,216 79.1,168.1 79.4,216 79.7,216 80,166.8 80.3,162 80.6,216 80.9,216 81.2,216 81.5,216 81.8,171.3 82.1,166.8 82.4,216 82.7,216 83,216 83.3,216 83.6,216 83.9,172.3 84.2,216 84.5,216 84.8,216 85.1,163.5 85.4,166.4 85.7,171.5 86,180.5 86.3,167.8 86.6,216 86.9,164.8 87.2,216 87.5,159.5 87.8,164.6 88.1,161.6 88.4,216 88.7,152.5 89,168.9 89.3,175.6 89.6,216 89.9,173.5 90.2,216 90.5,160.3 90.8,170.2 91.1,216 91.4,160 91.7,169.3 92,170.7 92.3,216 92.6,173.4 92.9,216 93.2,216 93.5,179.9 93.8,216 94.1,216 94.4,216 94.7,216 95,158.6 95.3,216 95.6,216 95.9,158.8 96.2,216 96.5,216 96.8,198 97.1,216 97.4,163.1 97.7,216 98,216 98.3,183.9 98.6,216 98.9,161.1 99.2,175 99.5,216 99.8,216 100.1,194.9 100.4,216 100.7,178.3 101,176 101.3,216 101.6,177.4 101.9,165.2 102.2,216 102.5,216 102.8,165.9 103.1,163.7 103.4,163.8 103.7,157.5 104,216 104.3,216 104.6,177.1 104.9,216 105.2,172.3 105.5,166 105.8,182.8 106.1,168.5 106.4,191.1 106.7,175.2 107,216 107.3,157.8 107.6,216 107.9,216 108.2,216 108.5,216 108.8,216 109.1,216 109.4,158.7 109.7,172.6 110,216 110.3,204.1 110.6,162.9 110.9,164.9 111.2,174.8 111.5,164.2 111.8,216 112.1,164.8 112.4,216 112.7,216 113,216 113.3,182.6 113.6,216 113.9,174.9 114.2,216 114.5,166.9 114.8,216 115.1,168.1 115.4,216 115.7,216 116,161.5 116.3,162.7 116.6,216 116.9,216 117.2,159.8 117.5,190.9 117.8,216 118.1,216 118.4,216 118.7,164.8 119,159.6 119.3,216 119.6,216 119.9,216 120.2,216 120.5,173.6 120.8,216 121.1,163.6 121.4,155.5 121.7,161.2 122,216 122.3,216 122.6,216 122.9,216 123.2,157.6 123.5,183.1 123.8,216 124.1,169.3 124.4,216 124.7,216 125,216 125.3,216 125.6,216 125.9,168.1 126.2,216 126.5,163.5 126.8,216 127.1,216 127.4,158.8 127.7,216 128,216 128.3,216 128.6,216 128.9,186.7 129.2,165 129.5,172.2 129.8,189.4 130.1,216 130.4,185 130.7,165.7 131,216 131.3,216 131.6,216 131.9,216 132.2,190.2 132.5,216 132.8,216 133.1,216 133.4,168.6 133.7,216 134,165.7 134.3,216 134.6,216 134.9,165.9 135.2,216 135.5,161.7 135.8,216 136.1,188.9 136.4,216 136.7,216 137,173 137.3,216 137.6,154.7 137.9,216 138.2,153.1 138.5,162.4 138.8,170.2 139.1,216 139.4,155.7 139.7,162.5 140,158.1 140.3,216 140.6,216 140.9,178.4 141.2,161.4 141.5,158.8 141.8,156 142.1,203.1 142.4,216 142.7,157.2 143,182.4 143.3,161.4 143.6,150.5 143.9,162.6 144.2,156.1 144.5,155.9 144.8,156.5 145.1,153.9 145.4,152.7 145.7,153.7 146,148.4 146.3,149.3 146.6,155.4 146.9,146.9 147.2,149.5 147.5,149.7 147.8,150.8 148.1,146.3 148.4,147.4 148.7,148.5 149,147.8 149.3,143.4 149.6,145.2 149.9,144.6 150.2,140 150.5,142 150.8,140.8 151.1,140.7 151.4,140.1 151.7,140.4 152,137.5 152.3,137.5 152.6,137.6 152.9,136.1 153.2,134 153.5,134.2 153.8,133.5 154.1,133 154.4,132 154.7,130.6 155,129.6 155.3,129 155.6,127.8 155.9,127.5 156.2,126.4 156.5,125.3 156.8,124.1 157.1,123.6 158.1,120.1 159.1,117.1 160.1,113 161.1,108.8 162.1,104.9 163.1,101.7 164.1,99 165.1,96.7 166.1,95.4 167.1,95 168.1,94.6 169.1,94.4 170.1,94.2 171.1,93.9 172.1,93.6 173.1,93.1 174.1,92.4 175.1,91.7 176.1,90.9 177.1,90.1 178.1,89.3 179.1,88.5 180.1,87.9 181.1,87.4 182.1,87.1 183.1,87 184.1,87 185.1,87.2 186.1,87.3 187.1,87.6 188.1,87.8 189.1,88.1 190.1,88.3 191.1,88.5 192.1,88.7 193.1,88.8 194.1,88.8 195.1,88.8 196.1,88.8 197.1,88.8 198.1,88.8 199.1,88.8 200.1,88.8 201.1,88.8 202.1,88.7 203.1,88.7 204.1,88.7 205.1,88.7 206.1,88.7 207.1,88.6 208.1,88.6 209.1,88.6 210.1,88.6 211.1,88.5 212.1,88.5 213.1,88.5 214.1,88.5 215.1,88.4 216.1,88.4 217.1,88.4 218.1,88.3 219.1,88.3 220.1,88.3 221.1,88.3 222.1,88.2 223.1,88.2 224.1,88.2 225.1,88.2 226.1,88.1 227.1,88.1 228.1,88.1 229.1,88.1 230.1,88.1 231.1,88.1 232.1,88 233.1,88 234.1,88 235.1,88 236.1,88 237.1,88 238.1,88 239.1,88.1 240.1,88.4 241.1,88.8 242.1,89.3 243.1,89.9 244.1,90.6 245.1,91.3 246.1,92.1 247.1,93 248.1,94.2 249.1,95.6 250.1,97.2 251.1,99 252.1,101 253.1,103 254.1,105.2 255.1,107.4 256.1,109.7 257.1,111.8 258.1,114.1 259.1,116.2 260.1,118.2 261.1,120.2 262.1,122.3 262.6,122.9 263.1,124.5 263.6,125.9 264.1,126.5 264.6,128.2 265.1,128.6 265.6,129.1 266.1,129.6 266.6,132.2 267.1,132.6 267.6,134.6 268.1,134.7 268.6,135.1 269.1,137.7 269.6,137 270.1,139.1 270.6,137.9 271.1,142.9 271.6,144 272.1,142 272.6,143.5 273.1,145 273.6,149 274.1,148 274.6,151 275.1,146.8 275.6,149.8 276.1,155.4 276.6,157.7 277.1,164.8 277.6,159.2 278.1,156.9 278.6,155.7 279.1,153.5 279.6,164.2 280.1,153.9 280.6,165.3 281.1,163.9 281.6,158.7 282.1,173.7 282.6,163.2 283.1,159.1 283.6,186 284.1,165.8 284.6,158.3 285.1,167.4 285.6,158.8 286.1,175.7 286.6,163 287.1,166.7 287.6,163.5 288.1,183.3 288.6,168.2 289.1,166.3 289.6,175 290.1,173.3 290.6,162.8 291.1,163.6 291.6,179.4 292.1,216 292.6,216 293.1,180.1 293.6,155.6 294.1,167.6 294.6,156.7 295.1,168.3 295.6,169.1 296.1,216 296.6,160.3 297.1,161.6 297.6,170.9 298.1,209.2 298.6,216 299.1,162.8 299.6,160.6 300.1,170 300.6,180.6 301.1,160.7 301.6,216 302.1,216 302.6,216 303.1,172.3 303.6,159.3 304.1,216 304.6,160.5 305.1,156.4 305.6,161.5 306.1,157.4 306.6,187.6 307.1,216 307.6,172.9 308.1,162.6 308.6,168.9 309.1,175.1 309.6,164.2 310.1,216 310.6,164.3 311.1,216 311.6,158.8 312.1,153.7 312.6,148.7 313.1,216 313.6,216 314.1,164.8 314.6,216 315.1,155.4 315.6,164.2 316.1,216 316.6,204.3 317.1,216 317.6,176.1 318.1,150.2 318.6,175.7 319.1,163.7 319.6,216 320.1,161.4 320.6,185.4 321.1,177.1 321.6,170.4 322.1,185.9 322.6,160.1 323.1,195 323.6,216 324.1,216"/>
<polyline clip-path="url(#ca)" fill="none" stroke="#CC9900" stroke-width="0.5" stroke-linejoin="round" points="20.6,159.6 20.9,216 21.2,216 21.5,175.1 21.8,168.8 22.1,162 22.4,216 22.7,216 23,182 23.3,184.8 23.6,216 23.9,174.6 24.2,160.2 24.5,164.2 24.8,216 25.1,216 25.4,216 25.7,216 26,216 26.3,216 26.6,216 26.9,173.8 27.2,166.3 27.5,216 27.8,170.2 28.1,194.6 28.4,159 28.7,216 29,216 29.3,216 29.6,216 29.9,216 30.2,216 30.5,160 30.8,167.5 31.1,164.3 31.4,178.4 31.7,216 32,216 32.3,164.1 32.6,216 32.9,216 33.2,216 33.5,164.1 33.8,216 34.1,167.7 34.4,169.1 34.7,216 35,182.6 35.3,216 35.6,216 35.9,170.6 36.2,173.7 36.5,174.9 36.8,200 37.1,165.7 37.4,168.4 37.7,189.4 38,216 38.3,152.1 38.6,154.9 38.9,216 39.2,159.1 39.5,216 39.8,161.4 40.1,216 40.4,201.6 40.7,216 41,166.1 41.3,164.2 41.6,182 41.9,216 42.2,185.1 42.5,216 42.8,158.7 43.1,216 43.4,216 43.7,216 44,216 44.3,170.9 44.6,216 44.9,172.2 45.2,216 45.5,161.7 45.8,216 46.1,166.7 46.4,216 46.7,156.1 47,216 47.3,167.8 47.6,216 47.9,161.5 48.2,216 48.5,216 48.8,170.5 49.1,216 49.4,216 49.7,172 50,216 50.3,216 50.6,191 50.9,216 51.2,216 51.5,167.2 51.8,170.2 52.1,160.6 52.4,216 52.7,216 53,154 53.3,165.8 53.6,167.9 53.9,216 54.2,216 54.5,166.8 54.8,216 55.1,216 55.4,179.7 55.7,216 56,168.6 56.3,216 56.6,216 56.9,216 57.2,216 57.5,216 57.8,171.5 58.1,216 58.4,216 58.7,173.9 59,184.9 59.3,188 59.6,153.2 59.9,216 60.2,216 60.5,170.6 60.8,216 61.1,165.8 61.4,216 61.7,158.4 62,216 62.3,216 62.6,166.1 62.9,216 63.2,165.5 63.5,167.4 63.8,165.7 64.1,216 64.4,165.4 64.7,204.8 65,176.7 65.3,216 65.6,171.1 65.9,165.7 66.2,174 66.5,170.4 66.8,181.3 67.1,216 67.4,170.5 67.7,216 68,216 68.3,171 68.6,163.5 68.9,157.6 69.2,161.9 69.5,184.9 69.8,216 70.1,173.7 70.4,216 70.7,216 71,216 71.3,161 71.6,161.8 71.9,216 72.2,182.2 72.5,167.3 72.8,158.7 73.1,159.4 73.4,216 73.7,173.5 74,216 74.3,216 74.6,187 74.9,216 75.2,216 75.5,216 75.8,155.4 76.1,216 76.4,192.4 76.7,163.5 77,164.8 77.3,216 77.6,159.3 77.9,159.4 78.2,176.9 78.5,173.7 78.8,216 79.1,168.3 79.4,173.9 79.7,161.5 80,216 80.3,163.4 80.6,216 80.9,159.2 81.2,161.1 81.5,216 81.8,192 82.1,216 82.4,216 82.7,216 83,165.1 83.3,216 83.6,216 83.9,199.1 84.2,216 84.5,188.5 84.8,167.1 85.1,163.9 85.4,161.9 85.7,216 86,216 86.3,216 86.6,216 86.9,166.5 87.2,167.4 87.5,216 87.8,190.7 88.1,165 88.4,216 88.7,216 89,174.7 89.3,183.4 89.6,216 89.9,161.1 90.2,216 90.5,216 90.8,179 91.1,157.8 91.4,216 91.7,165.5 92,216 92.3,167.4 92.6,216 92.9,216 93.2,167.6 93.5,154 93.8,216 94.1,216 94.4,216 94.7,156.7 95,193.4 95.3,216 95.6,165.4 95.9,168.3 96.2,216 96.5,160.7 96.8,175.2 97.1,164.4 97.4,216 97.7,168.5 98,164.5 98.3,216 98.6,150.5 98.9,159.2 99.2,177.8 99.5,216 99.8,216 100.1,216 100.4,171.7 100.7,216 101,216 101.3,160.8 101.6,216 101.9,156.3 102.2,216 102.5,216 102.8,216 103.1,158.1 103.4,178.9 103.7,216 104,161 104.3,170.5 104.6,216 104.9,216 105.2,216 105.5,195.9 105.8,170.4 106.1,159.2 106.4,153.6 106.7,163.3 107,216 107.3,216 107.6,169.4 107.9,216 108.2,182.6 108.5,216 108.8,194 109.1,162.9 109.4,169.4 109.7,216 110,216 110.3,216 110.6,216 110.9,158 111.2,196.7 111.5,153.9 111.8,166.5 112.1,168.8 112.4,216 112.7,216 113,164.9 113.3,216 113.6,158.1 113.9,162.4 114.2,162.4 114.5,174.6 114.8,216 115.1,160.1 115.4,216 115.7,180.4 116,163.6 116.3,216 116.6,216 116.9,216 117.2,160.5 117.5,156.3 117.8,216 118.1,159.5 118.4,155 118.7,155.6 119,159.8 119.3,216 119.6,216 119.9,216 120.2,163.6 120.5,156.7 120.8,157 121.1,171.3 121.4,162.8 121.7,178.5 122,216 122.3,190.9 122.6,157.2 122.9,155.1 123.2,163.8 123.5,164.3 123.8,151.1 124.1,159.5 124.4,166.2 124.7,216 125,169.8 125.3,158.3 125.6,166 125.9,157 126.2,163.7 126.5,148.4 126.8,161.4 127.1,153.3 127.4,162.5 127.7,155 128,152.2 128.3,154.3 128.6,168.3 128.9,149.2 129.2,151 129.5,157 129.8,154 130.1,149.7 130.4,153.9 130.7,148.7 131,154.1 131.3,148.8 131.6,146.6 131.9,148.7 132.2,146.7 132.5,145.5 132.8,143.2 133.1,143 133.4,143.9 133.7,143.2 134,143.5 134.3,142.9 134.6,142.4 134.9,141.9 135.2,139.6 135.5,140.3 135.8,140.5 136.1,139.9 136.4,138.7 136.7,137.7 137,138.1 137.3,138 137.6,136.5 137.9,135.5 138.2,136.5 138.5,135.5 138.8,136.1 139.1,132.8 139.4,134.4 139.7,133.9 140,132.5 140.3,132.2 140.6,131 140.9,131.1 141.2,130 141.5,129.2 141.8,128.4 142.1,127.1 142.4,126.8 142.7,125.9 143,124.3 143.3,123.2 144.3,117.9 145.3,112.7 146.3,107.8 147.3,103.9 148.3,100.1 149.3,97.4 150.3,96.9 151.3,96.8 152.3,96.7 153.3,96.7 154.3,96.7 155.3,96.6 156.3,96.5 157.3,96.2 158.3,95.9 159.3,95.4 160.3,94.9 161.3,94.3 162.3,93.6 163.3,93 164.3,92.4 165.3,91.8 166.3,91.3 167.3,90.8 168.3,90.5 169.3,90.3 170.3,90.3 171.3,90.3 172.3,90.4 173.3,90.4 174.3,90.5 175.3,90.6 176.3,90.7 177.3,90.8 178.3,90.9 179.3,91 180.3,91.2 181.3,91.3 182.3,91.4 183.3,91.6 184.3,91.7 185.3,91.8 186.3,92 187.3,92.1 188.3,92.2 189.3,92.3 190.3,92.4 191.3,92.4 192.3,92.5 193.3,92.5 194.3,92.5 195.3,92.5 196.3,92.5 197.3,92.5 198.3,92.4 199.3,92.4 200.3,92.3 201.3,92.3 202.3,92.2 203.3,92.2 204.3,92.1 205.3,92.1 206.3,92 207.3,91.9 208.3,91.8 209.3,91.8 210.3,91.7 211.3,91.6 212.3,91.5 213.3,91.5 214.3,91.4 215.3,91.3 216.3,91.3 217.3,91.2 218.3,91.2 219.3,91.1 220.3,91.1 221.3,91.1 222.3,91 223.3,91 224.3,91 225.3,91 226.3,91.5 227.3,92.3 228.3,93.2 229.3,94.3 230.3,95.3 231.3,96.4 232.3,97.6 233.3,98.8 234.3,100.2 235.3,101.7 236.3,103.2 237.3,104.8 238.3,106.5 239.3,108.3 240.3,110.1 241.3,111.7 242.3,113.8 243.3,115.5 244.3,117.6 245.3,119 246.3,121.6 247.1,123.3 247.6,124.2 248.1,125.5 248.6,126.1 249.1,127.1 249.6,128 250.1,128.9 250.6,131.4 251.1,132 251.6,133.7 252.1,135 252.6,135.4 253.1,135.4 253.6,139.2 254.1,137.5 254.6,140.4 255.1,142.9 255.6,145.6 256.1,143.5 256.6,146 257.1,148 257.6,150.8 258.1,150.9 258.6,152.9 259.1,152.3 259.6,168.5 260.1,154.2 260.6,152.2 261.1,153.8 261.6,180.8 262.1,159.4 262.6,159.2 263.1,155.1 263.6,157.1 264.1,156.9 264.6,168.7 265.1,160.3 265.6,174.1 266.1,179.2 266.6,162.3 267.1,166.7 267.6,183.2 268.1,160.9 268.6,158.6 269.1,181.4 269.6,168.9 270.1,170.3 270.6,192.4 271.1,172 271.6,163.3 272.1,167.1 272.6,216 273.1,162.5 273.6,169.1 274.1,166.9 274.6,162.5 275.1,161.7 275.6,183.8 276.1,173.7 276.6,196.6 277.1,171.1 277.6,216 278.1,158.4 278.6,216 279.1,169.1 279.6,193.2 280.1,193 280.6,216 281.1,162.5 281.6,216 282.1,171.7 282.6,176.4 283.1,216 283.6,165.8 284.1,171.9 284.6,169 285.1,160.2 285.6,161.8 286.1,216 286.6,216 287.1,173.3 287.6,164.9 288.1,216 288.6,175.9 289.1,216 289.6,216 290.1,187.5 290.6,216 291.1,216 291.6,162 292.1,163 292.6,158.2 293.1,160.3 293.6,216 294.1,168 294.6,167.4 295.1,181.6 295.6,216 296.1,173 296.6,216 297.1,216 297.6,154.8 298.1,193.9 298.6,171.9 299.1,216 299.6,216 300.1,169.7 300.6,164.3 301.1,216 301.6,172 302.1,173.8 302.6,216 303.1,167.4 303.6,171.8 304.1,162.8 304.6,168.4 305.1,160.6 305.6,171.2 306.1,216 306.6,155.3 307.1,170.8 307.6,155.8 308.1,169.4 308.6,172.5 309.1,167.1 309.6,159.3 310.1,161.2 310.6,183.7 311.1,159.3 311.6,164.6 312.1,216 312.6,216 313.1,177.3 313.6,216 314.1,161.9 314.6,216 315.1,216 315.6,164.5 316.1,216 316.6,164.5 317.1,166.9 317.6,216 318.1,173.4 318.6,172 319.1,216 319.6,216 320.1,216 320.6,216 321.1,216 321.6,161.7 322.1,170.1 322.6,216 323.1,170.9 323.6,170.7 324.1,172.6"/>
<polyline clip-path="url(#ca)" fill="none" stroke="#00CBCC" stroke-width="0.5" stroke-linejoin="round" points="20.6,155.1 20.9,216 21.2,163.2 21.5,216 21.8,174.5 22.1,216 22.4,171.4 22.7,216 23,216 23.3,163.1 23.6,216 23.9,162.7 24.2,216 24.5,166 24.8,173.4 25.1,216 25.4,164 25.7,177.1 26,159 26.3,167.7 26.6,161.6 26.9,216 27.2,160.5 27.5,216 27.8,216 28.1,216 28.4,216 28.7,216 29,188.9 29.3,190.1 29.6,216 29.9,182.3 30.2,165.4 30.5,216 30.8,216 31.1,163.2 31.4,172.4 31.7,216 32,167.9 32.3,172.4 32.6,155.8 32.9,165 33.2,166 33.5,216 33.8,216 34.1,216 34.4,216 34.7,216 35,162.5 35.3,216 35.6,158.3 35.9,216 36.2,216 36.5,164.4 36.8,216 37.1,216 37.4,173 37.7,216 38,185.5 38.3,216 38.6,183.8 38.9,216 39.2,168 39.5,216 39.8,190.2 40.1,216 40.4,172.1 40.7,216 41,216 41.3,216 41.6,216 41.9,216 42.2,165.6 42.5,216 42.8,216 43.1,216 43.4,216 43.7,164 44,216 44.3,178.8 44.6,216 44.9,216 45.2,216 45.5,174.5 45.8,216 46.1,216 46.4,216 46.7,172.9 47,216 47.3,159.6 47.6,216 47.9,216 48.2,160.7 48.5,175.3 48.8,216 49.1,216 49.4,168.5 49.7,162 50,216 50.3,216 50.6,164.9 50.9,216 51.2,177.3 51.5,186.8 51.8,216 52.1,216 52.4,216 52.7,216 53,216 53.3,187.5 53.6,216 53.9,216 54.2,161.5 54.5,170.6 54.8,216 55.1,167.8 55.4,216 55.7,216 56,216 56.3,216 56.6,166.1 56.9,165.5 57.2,164.6 57.5,216 57.8,216 58.1,216 58.4,182.6 58.7,216 59,216 59.3,171.8 59.6,171.2 59.9,216 60.2,216 60.5,216 60.8,192 61.1,216 61.4,161.7 61.7,156 62,216 62.3,216 62.6,216 62.9,157.3 63.2,216 63.5,170.5 63.8,167.2 64.1,165.3 64.4,177 64.7,158.2 65,172.5 65.3,192.3 65.6,216 65.9,216 66.2,216 66.5,164.8 66.8,216 67.1,186.4 67.4,216 67.7,216 68,184.4 68.3,159.2 68.6,216 68.9,158.4 69.2,216 69.5,216 69.8,216 70.1,166 70.4,216 70.7,216 71,166.1 71.3,165.3 71.6,216 71.9,173.2 72.2,161.2 72.5,172.9 72.8,216 73.1,216 73.4,216 73.7,156 74,180 74.3,216 74.6,216 74.9,174.7 75.2,168.6 75.5,216 75.8,216 76.1,216 76.4,166 76.7,162.2 77,178.2 77.3,185.7 77.6,191.3 77.9,216 78.2,216 78.5,171.6 78.8,181.7 79.1,174.8 79.4,216 79.7,167.7 80,216 80.3,162.3 80.6,216 80.9,179.6 81.2,216 81.5,216 81.8,216 82.1,193 82.4,216 82.7,163.3 83,187.1 83.3,169 83.6,216 83.9,172.9 84.2,216 84.5,216 84.8,216 85.1,216 85.4,167.5 85.7,216 86,216 86.3,216 86.6,172.3 86.9,164.1 87.2,216 87.5,163.8 87.8,178.3 88.1,184.6 88.4,216 88.7,216 89,162.6 89.3,163.9 89.6,155.9 89.9,216 90.2,161.5 90.5,216 90.8,216 91.1,216 91.4,216 91.7,176.5 92,160.1 92.3,180.8 92.6,216 92.9,160.7 93.2,173.9 93.5,216 93.8,160.2 94.1,189.8 94.4,166 94.7,216 95,216 95.3,171.8 95.6,216 95.9,186.5 96.2,164.3 96.5,170.8 96.8,216 97.1,216 97.4,216 97.7,159.1 98,174.1 98.3,177.2 98.6,216 98.9,170.9 99.2,165.2 99.5,216 99.8,157.6 100.1,164.2 100.4,216 100.7,216 101,153.7 101.3,165.2 101.6,216 101.9,216 102.2,161.4 102.5,216 102.8,179.9 103.1,216 103.4,216 103.7,216 104,216 104.3,161.7 104.6,163.7 104.9,159.3 105.2,216 105.5,158 105.8,166 106.1,157.9 106.4,179.8 106.7,163.2 107,216 107.3,157.6 107.6,166.1 107.9,185.9 108.2,170.5 108.5,164.9 108.8,216 109.1,163.5 109.4,216 109.7,166.1 110,161 110.3,150.4 110.6,158.1 110.9,195.9 111.2,156.2 111.5,172.3 111.8,167.7 112.1,162.8 112.4,152.5 112.7,147.1 113,152.3 113.3,162.5 113.6,153 113.9,150.2 114.2,171.9 114.5,153.9 114.8,145 115.1,155.1 115.4,152.7 115.7,152.5 116,145.4 116.3,145.8 116.6,145.6 116.9,143.1 117.2,147.2 117.5,149.3 117.8,143.7 118.1,146.9 118.4,142.3 118.7,141.8 119,141.6 119.3,139.7 119.6,139.7 119.9,141.1 120.2,139.8 120.5,137.6 120.8,138 121.1,136.2 121.4,136.2 121.7,135 122,135.1 122.3,133.7 122.6,133.8 122.9,132.4 123.2,131 123.5,130.7 123.8,130 124.1,128.5 124.4,127.7 124.7,127.5 125,126.2 125.3,125.2 125.6,124.6 125.9,123.5 126.9,120 127.9,116.2 128.9,112.9 129.9,109.7 130.9,106.9 131.9,103.6 132.9,100.8 133.9,99.5 134.9,99.5 135.9,99.5 136.9,99.5 137.9,99.5 138.9,99.5 139.9,99.4 140.9,99.4 141.9,99.2 142.9,98.7 143.9,98.1 144.9,97.4 145.9,96.7 146.9,95.9 147.9,95.1 148.9,94.4 149.9,93.7 150.9,93.1 151.9,92.6 152.9,92.3 153.9,92.2 154.9,92.2 155.9,92.2 156.9,92.3 157.9,92.4 158.9,92.5 159.9,92.6 160.9,92.8 161.9,92.9 162.9,93 163.9,93.1 164.9,93.3 165.9,93.4 166.9,93.5 167.9,93.6 168.9,93.6 169.9,93.7 170.9,93.7 171.9,93.7 172.9,93.7 173.9,93.7 174.9,93.7 175.9,93.7 176.9,93.6 177.9,93.6 178.9,93.6 179.9,93.5 180.9,93.5 181.9,93.5 182.9,93.4 183.9,93.4 184.9,93.3 185.9,93.3 186.9,93.2 187.9,93.2 188.9,93.1 189.9,93.1 190.9,93 191.9,92.9 192.9,92.9 193.9,92.8 194.9,92.8 195.9,92.7 196.9,92.7 197.9,92.6 198.9,92.5 199.9,92.5 200.9,92.4 201.9,92.4 202.9,92.3 203.9,92.2 204.9,92.1 205.9,92 206.9,92 207.9,91.9 208.9,91.8 209.9,91.7 210.9,91.6 211.9,91.6 212.9,91.5 213.9,91.4 214.9,91.4 215.9,91.4 216.9,91.7 217.9,92.5 218.9,93.6 219.9,94.9 220.9,96.4 221.9,98.3 222.9,100.7 223.9,103.4 224.9,106.2 225.9,109.2 226.9,112.1 227.9,115.1 228.9,117.6 229.9,120.3 230.9,122.8 231.4,124.1 231.9,125.7 232.4,126.6 232.9,127.8 233.4,129.2 233.9,130.4 234.4,131.7 234.9,133.3 235.4,134.8 235.9,135.6 236.4,136.9 236.9,137.7 237.4,138.4 237.9,141.2 238.4,143.2 238.9,140.8 239.4,144.8 239.9,146 240.4,149.2 240.9,147.7 241.4,158.9 241.9,153.8 242.4,153.4 242.9,157.1 243.4,154.1 243.9,151.7 244.4,155.8 244.9,162 245.4,163 245.9,173.4 246.4,155.2 246.9,154.5 247.4,160.4 247.9,159.2 248.4,160.2 248.9,163.9 249.4,204.1 249.9,181 250.4,164.7 250.9,160.5 251.4,177.6 251.9,156.2 252.4,216 252.9,172.1 253.4,164.2 253.9,156.4 254.4,166.9 254.9,216 255.4,163.8 255.9,172.8 256.4,170.7 256.9,216 257.4,171.9 257.9,216 258.4,178.3 258.9,216 259.4,162.1 259.9,163.2 260.4,216 260.9,186.5 261.4,161.4 261.9,167.9 262.4,216 262.9,216 263.4,216 263.9,216 264.4,158.7 264.9,216 265.4,160.7 265.9,170.2 266.4,162.5 266.9,216 267.4,172.3 267.9,190.7 268.4,216 268.9,177.6 269.4,166.8 269.9,162.8 270.4,159 270.9,216 271.4,171.5 271.9,171.6 272.4,216 272.9,161.2 273.4,159.1 273.9,216 274.4,194.3 274.9,167.9 275.4,173.8 275.9,216 276.4,171.9 276.9,216 277.4,171.1 277.9,165.9 278.4,162.6 278.9,216 279.4,160.3 279.9,216 280.4,161.6 280.9,173.1 281.4,160.1 281.9,194.5 282.4,170.8 282.9,158.5 283.4,216 283.9,216 284.4,160.1 284.9,216 285.4,173.5 285.9,160 286.4,216 286.9,216 287.4,161.7 287.9,216 288.4,168.4 288.9,169 289.4,162.7 289.9,163.3 290.4,181.1 290.9,216 291.4,163.6 291.9,216 292.4,192.9 292.9,168.1 293.4,152.7 293.9,167.7 294.4,172.8 294.9,216 295.4,216 295.9,216 296.4,154.9 296.9,216 297.4,185.9 297.9,216 298.4,216 298.9,216 299.4,157.9 299.9,167 300.4,157 300.9,216 301.4,176.4 301.9,216 302.4,164.3 302.9,159.9 303.4,163.7 303.9,162.5 304.4,176 304.9,216 305.4,216 305.9,216 306.4,155.3 306.9,216 307.4,216 307.9,216 308.4,216 308.9,216 309.4,158.1 309.9,162.1 310.4,216 310.9,155.8 311.4,165.8 311.9,174.8 312.4,177 312.9,175.8 313.4,164.4 313.9,216 314.4,166.7 314.9,216 315.4,154.6 315.9,173.9 316.4,184.2 316.9,168.7 317.4,190 317.9,216 318.4,179.5 318.9,188.3 319.4,216 319.9,216 320.4,166.9 320.9,166.7 321.4,185.8 321.9,156.3 322.4,216 322.9,216 323.4,216 323.9,216"/>
<polyline clip-path="url(#ca)" fill="none" stroke="#7D4E4E" stroke-width="0.5" stroke-linejoin="round" points="20.6,177.9 20.9,216 21.2,166 21.5,167 21.8,216 22.1,216 22.4,191.7 22.7,168.8 23,216 23.3,181.2 23.6,194.7 23.9,216 24.2,216 24.5,173.1 24.8,161.6 25.1,216 25.4,168.9 25.7,171.6 26,216 26.3,216 26.6,216 26.9,180.2 27.2,168.5 27.5,216 27.8,216 28.1,186.5 28.4,216 28.7,216 29,162.5 29.3,216 29.6,216 29.9,182.9 30.2,159.6 30.5,216 30.8,179.4 31.1,216 31.4,216 31.7,216 32,216 32.3,170.1 32.6,178.3 32.9,216 33.2,186.8 33.5,216 33.8,216 34.1,216 34.4,160.6 34.7,216 35,170 35.3,162.3 35.6,187.8 35.9,168.7 36.2,156.3 36.5,216 36.8,216 37.1,163.4 37.4,190.9 37.7,159.2 38,216 38.3,184.8 38.6,167.7 38.9,216 39.2,159.7 39.5,185.6 39.8,216 40.1,216 40.4,216 40.7,160.3 41,216 41.3,160.4 41.6,216 41.9,170.7 42.2,216 42.5,197.6 42.8,163.4 43.1,216 43.4,216 43.7,163.3 44,150.8 44.3,216 44.6,216 44.9,216 45.2,216 45.5,216 45.8,172.6 46.1,216 46.4,174.2 46.7,178.9 47,167.9 47.3,159.3 47.6,216 47.9,216 48.2,177.8 48.5,169.2 48.8,157.6 49.1,190 49.4,216 49.7,216 50,169 50.3,216 50.6,163.6 50.9,160.7 51.2,199.5 51.5,169.1 51.8,191.9 52.1,168.7 52.4,216 52.7,216 53,158.7 53.3,216 53.6,216 53.9,164.4 54.2,216 54.5,216 54.8,216 55.1,159.7 55.4,216 55.7,158.8 56,178.8 56.3,216 56.6,183.9 56.9,216 57.2,164.3 57.5,216 57.8,163.2 58.1,170 58.4,159.6 58.7,172.1 59,176.9 59.3,216 59.6,216 59.9,216 60.2,216 60.5,216 60.8,154.9 61.1,172.7 61.4,216 61.7,160.7 62,188.1 62.3,216 62.6,186.4 62.9,216 63.2,170.4 63.5,216 63.8,163.3 64.1,216 64.4,179.7 64.7,216 65,152.2 65.3,216 65.6,156.7 65.9,216 66.2,163.5 66.5,216 66.8,216 67.1,160.3 67.4,216 67.7,169.4 68,216 68.3,156 68.6,163.1 68.9,216 69.2,216 69.5,163.1 69.8,155.2 70.1,216 70.4,216 70.7,156.1 71,216 71.3,216 71.6,216 71.9,216 72.2,216 72.5,159.4 72.8,189.1 73.1,216 73.4,216 73.7,176.1 74,216 74.3,216 74.6,216 74.9,216 75.2,181.5 75.5,216 75.8,157.7 76.1,216 76.4,216 76.7,216 77,159.8 77.3,216 77.6,216 77.9,158.4 78.2,163.9 78.5,179.5 78.8,216 79.1,155.2 79.4,216 79.7,157.3 80,216 80.3,216 80.6,216 80.9,216 81.2,216 81.5,216 81.8,154.6 82.1,216 82.4,174.4 82.7,216 83,216 83.3,181.8 83.6,188.7 83.9,216 84.2,175.7 84.5,173.7 84.8,186.2 85.1,216 85.4,216 85.7,216 86,216 86.3,159.3 86.6,177.6 86.9,216 87.2,156.2 87.5,165.5 87.8,216 88.1,170.4 88.4,162.7 88.7,163.2 89,216 89.3,174.7 89.6,216 89.9,216 90.2,167.6 90.5,216 90.8,197.4 91.1,161.3 91.4,165.1 91.7,178.8 92,167.4 92.3,170.9 92.6,158.1 92.9,164.1 93.2,161.8 93.5,216 93.8,173.3 94.1,191.7 94.4,158.3 94.7,159.1 95,165.1 95.3,158.3 95.6,164 95.9,166.3 96.2,158.8 96.5,160.3 96.8,150.6 97.1,216 97.4,154.8 97.7,170.3 98,154.8 98.3,167.7 98.6,192.7 98.9,150.7 99.2,157.2 99.5,149.7 99.8,158.7 100.1,158.4 100.4,147.4 100.7,155.4 101,151.9 101.3,154.8 101.6,151.5 101.9,159.4 102.2,150.5 102.5,149.3 102.8,146.2 103.1,145.5 103.4,147 103.7,146 104,145.6 104.3,141.7 104.6,145.4 104.9,142.3 105.2,142.6 105.5,143.9 105.8,140.7 106.1,139.4 106.4,139.6 106.7,140.5 107,138 107.3,137.3 107.6,137.4 107.9,135.7 108.2,136.8 108.5,136.2 108.8,134.3 109.1,133.4 109.4,132.1 109.7,131.4 110,131.4 110.3,129.9 110.6,128.9 110.9,128.4 111.2,128 111.5,127.2 111.8,126.6 112.1,126 112.4,124.8 112.7,124.1 113.7,120.8 114.7,117.8 115.7,114.8 116.7,112 117.7,109.5 118.7,106.7 119.7,104.1 120.7,102.6 121.7,102.5 122.7,102.7 123.7,102.8 124.7,103 125.7,103.2 126.7,103.4 127.7,103.5 128.7,103.6 129.7,103.4 130.7,102.9 131.7,102.1 132.7,101.1 133.7,99.9 134.7,98.7 135.7,97.4 136.7,96.2 137.7,95 138.7,94.2 139.7,93.6 140.7,93.3 141.7,93.3 142.7,93.5 143.7,93.6 144.7,93.9 145.7,94.2 146.7,94.5 147.7,94.8 148.7,95.2 149.7,95.4 150.7,95.7 151.7,95.8 152.7,95.9 153.7,95.9 154.7,95.9 155.7,95.9 156.7,95.9 157.7,95.9 158.7,95.9 159.7,95.9 160.7,95.9 161.7,95.8 162.7,95.8 163.7,95.8 164.7,95.8 165.7,95.8 166.7,95.8 167.7,95.7 168.7,95.7 169.7,95.7 170.7,95.7 171.7,95.7 172.7,95.6 173.7,95.6 174.7,95.6 175.7,95.6 176.7,95.6 177.7,95.6 178.7,95.5 179.7,95.5 180.7,95.5 181.7,95.5 182.7,95.4 183.7,95.4 184.7,95.3 185.7,95.3 186.7,95.2 187.7,95.1 188.7,95.1 189.7,95 190.7,95 191.7,94.9 192.7,94.9 193.7,94.8 194.7,94.8 195.7,94.7 196.7,94.7 197.7,94.7 198.7,94.7 199.7,95.1 200.7,95.8 201.7,96.7 202.7,97.7 203.7,98.7 204.7,99.9 205.7,101.2 206.7,102.6 207.7,104.2 208.7,105.9 209.7,107.6 210.7,109.6 211.7,111.5 212.7,113.5 213.7,115.7 214.7,117.7 215.7,119.6 216.7,121.9 217.2,123.2 217.7,124.2 218.2,125.3 218.7,126.8 219.2,128.1 219.7,129.1 220.2,130.9 220.7,132.1 221.2,133.2 221.7,135.7 222.2,136.2 222.7,137 223.2,139.6 223.7,138.9 224.2,141.1 224.7,141.2 225.2,144.6 225.7,144.8 226.2,147.6 226.7,152.2 227.2,148.9 227.7,154.5 228.2,151.2 228.7,159.9 229.2,155.6 229.7,158.7 230.2,152.5 230.7,162 231.2,154.4 231.7,158.2 232.2,153.9 232.7,170.5 233.2,157.6 233.7,158.4 234.2,160.6 234.7,162.9 235.2,156.7 235.7,164.5 236.2,161.8 236.7,216 237.2,165 237.7,161.9 238.2,168.2 238.7,216 239.2,216 239.7,161.1 240.2,170 240.7,168.5 241.2,160.4 241.7,153.2 242.2,192.4 242.7,167.6 243.2,162.2 243.7,156.6 244.2,170.6 244.7,167.6 245.2,182.3 245.7,161.3 246.2,165.3 246.7,216 247.2,165 247.7,157.5 248.2,216 248.7,157.2 249.2,166.8 249.7,182.6 250.2,216 250.7,182.2 251.2,146.7 251.7,167.5 252.2,166.9 252.7,189.5 253.2,162.2 253.7,165.7 254.2,162.5 254.7,160.4 255.2,163.7 255.7,169.6 256.2,160.7 256.7,171.7 257.2,177.3 257.7,216 258.2,216 258.7,164.1 259.2,160.5 259.7,175.2 260.2,177.1 260.7,216 261.2,216 261.7,163.2 262.2,172.7 262.7,160.6 263.2,177.3 263.7,156.3 264.2,170 264.7,216 265.2,161.1 265.7,216 266.2,163.7 266.7,169.8 267.2,159.8 267.7,172.9 268.2,179.5 268.7,164.1 269.2,169.9 269.7,216 270.2,216 270.7,164.6 271.2,159.1 271.7,216 272.2,170.6 272.7,169.3 273.2,216 273.7,216 274.2,157.8 274.7,173.3 275.2,216 275.7,170.5 276.2,216 276.7,174.6 277.2,216 277.7,173.1 278.2,163 278.7,191.4 279.2,216 279.7,216 280.2,164.7 280.7,216 281.2,160.1 281.7,216 282.2,216 282.7,216 283.2,170.5 283.7,216 284.2,171.5 284.7,216 285.2,216 285.7,169.6 286.2,216 286.7,185.2 287.2,161.8 287.7,169.8 288.2,168.6 288.7,163.2 289.2,166.4 289.7,165 290.2,181.2 290.7,158.5 291.2,176.4 291.7,199.1 292.2,216 292.7,160.4 293.2,164.7 293.7,216 294.2,171.1 294.7,216 295.2,165.5 295.7,216 296.2,160.3 296.7,159.9 297.2,166.6 297.7,152.9 298.2,216 298.7,178.5 299.2,179.6 299.7,175.5 300.2,163.8 300.7,216 301.2,160.6 301.7,216 302.2,163 302.7,165.5 303.2,216 303.7,216 304.2,161.4 304.7,216 305.2,168.5 305.7,166.9 306.2,181.7 306.7,166.5 307.2,163 307.7,216 308.2,216 308.7,216 309.2,216 309.7,216 310.2,168.7 310.7,162.1 311.2,168.7 311.7,194.8 312.2,216 312.7,170.6 313.2,157.3 313.7,216 314.2,216 314.7,216 315.2,163 315.7,158.5 316.2,216 316.7,168.7 317.2,174 317.7,216 318.2,160.2 318.7,216 319.2,216 319.7,172.1 320.2,216 320.7,174.9 321.2,172 321.7,216 322.2,216 322.7,216 323.2,188.9 323.7,159.9"/>
<polyline clip-path="url(#ca)" fill="none" stroke="#8E8E00" stroke-width="0.5" stroke-linejoin="round" points="20.6,216 20.9,216 21.2,216 21.5,216 21.8,216 22.1,216 22.4,216 22.7,216 23,169.4 23.3,169.8 23.6,187.6 23.9,181.8 24.2,216 24.5,216 24.8,166.8 25.1,168.8 25.4,159.5 25.7,155.8 26,157.3 26.3,216 26.6,216 26.9,216 27.2,160.7 27.5,175.3 27.8,216 28.1,216 28.4,216 28.7,216 29,161.2 29.3,154.1 29.6,216 29.9,216 30.2,165.4 30.5,167.4 30.8,216 31.1,175.1 31.4,174 31.7,216 32,166.8 32.3,216 32.6,179.1 32.9,160.5 33.2,216 33.5,165 33.8,166 34.1,158.5 34.4,216 34.7,167.9 35,216 35.3,216 35.6,160 35.9,156.6 36.2,167.3 36.5,216 36.8,216 37.1,172.6 37.4,216 37.7,171.6 38,190.4 38.3,189.5 38.6,158.1 38.9,216 39.2,216 39.5,165.1 39.8,158.6 40.1,216 40.4,216 40.7,216 41,216 41.3,216 41.6,159.8 41.9,216 42.2,216 42.5,216 42.8,187.8 43.1,216 43.4,216 43.7,164.9 44,167.4 44.3,216 44.6,161.8 44.9,158.7 45.2,170.4 45.5,216 45.8,164.4 46.1,216 46.4,164.3 46.7,216 47,216 47.3,216 47.6,216 47.9,158.3 48.2,216 48.5,216 48.8,189.2 49.1,216 49.4,216 49.7,216 50,165.1 50.3,216 50.6,216 50.9,186.4 51.2,161.9 51.5,166.5 51.8,179.6 52.1,216 52.4,154.6 52.7,160.4 53,172.9 53.3,216 53.6,216 53.9,216 54.2,216 54.5,216 54.8,216 55.1,216 55.4,216 55.7,216 56,216 56.3,216 56.6,160 56.9,216 57.2,216 57.5,216 57.8,156.2 58.1,168.4 58.4,168 58.7,173.4 59,216 59.3,157.4 59.6,216 59.9,216 60.2,173.3 60.5,166 60.8,184.9 61.1,170.5 61.4,168.4 61.7,176.4 62,156.1 62.3,159.5 62.6,169.2 62.9,181.5 63.2,216 63.5,216 63.8,216 64.1,216 64.4,216 64.7,216 65,167.6 65.3,183.9 65.6,216 65.9,216 66.2,216 66.5,153.8 66.8,216 67.1,169.1 67.4,176.4 67.7,216 68,166.3 68.3,216 68.6,216 68.9,216 69.2,171.9 69.5,155.3 69.8,216 70.1,216 70.4,216 70.7,188.5 71,216 71.3,170.7 71.6,216 71.9,216 72.2,160.3 72.5,159.1 72.8,163.9 73.1,216 73.4,154.3 73.7,150.1 74,216 74.3,160.7 74.6,174.8 74.9,163.5 75.2,164.7 75.5,160.7 75.8,188.4 76.1,163.8 76.4,216 76.7,161.4 77,162.9 77.3,174.6 77.6,162.9 77.9,166.8 78.2,158.3 78.5,158.1 78.8,157 79.1,216 79.4,158.5 79.7,160.9 80,159 80.3,151.3 80.6,151.2 80.9,152.9 81.2,148.1 81.5,147.9 81.8,149.6 82.1,146 82.4,145.2 82.7,151.2 83,150.8 83.3,149.1 83.6,146.8 83.9,145.3 84.2,142.5 84.5,144.7 84.8,140.9 85.1,139.4 85.4,139.7 85.7,140.4 86,140.5 86.3,137.7 86.6,137.6 86.9,137.4 87.2,135.8 87.5,135.4 87.8,135.3 88.1,133.7 88.4,133.1 88.7,132.5 89,131.4 89.3,131.1 89.6,129.9 89.9,129.3 90.2,128 90.5,127.4 90.8,126.6 91.1,125.5 91.4,125 91.7,124.1 92,122.8 93,120.1 94,116.7 95,113.9 96,111.3 97,108.8 98,106.1 99,104 100,102.5 101,101.6 102,101.1 103,101 104,101.2 105,101.5 106,101.9 107,102.4 108,102.9 109,103.5 110,103.9 111,104.3 112,104.6 113,104.6 114,104.6 115,104.1 116,103.2 117,102.2 118,100.9 119,99.7 120,98.5 121,97.4 122,96.7 123,96.3 124,96.3 125,96.4 126,96.5 127,96.7 128,96.9 129,97.1 130,97.3 131,97.5 132,97.8 133,97.9 134,98 135,98 136,98 137,98 138,98 139,98 140,98 141,98 142,98 143,98 144,98 145,98 146,98 147,98 148,98 149,98 150,98 151,98 152,98 153,98 154,97.9 155,97.9 156,97.8 157,97.7 158,97.7 159,97.6 160,97.5 161,97.4 162,97.3 163,97.2 164,97.1 165,97 166,96.9 167,96.8 168,96.7 169,96.6 170,96.5 171,96.4 172,96.3 173,96.3 174,96.2 175,96.1 176,96.1 177,96.1 178,96 179,96 180,96 181,96.1 182,96.3 183,96.6 184,97 185,97.5 186,98.7 187,100.9 188,103 189,105 190,107 191,109 192,111 193,113.2 194,115.6 195,117.7 196,120.2 196.9,123.1 197.4,124.3 197.9,125.7 198.4,126.9 198.9,129.7 199.4,130.3 199.9,132.3 200.4,134.4 200.9,136.2 201.4,137.3 201.9,138.3 202.4,141.1 202.9,144.4 203.4,144.3 203.9,143.5 204.4,150.1 204.9,147.9 205.4,147.8 205.9,153.1 206.4,158 206.9,162 207.4,151.7 207.9,155.2 208.4,160.9 208.9,160.2 209.4,174.6 209.9,167.3 210.4,154.8 210.9,161.3 211.4,162.7 211.9,161.7 212.4,184.4 212.9,167.7 213.4,165.3 213.9,155.7 214.4,185.1 214.9,175.4 215.4,216 215.9,154.9 216.4,177.4 216.9,216 217.4,216 217.9,166.3 218.4,216 218.9,216 219.4,167.1 219.9,216 220.4,167.1 220.9,160.1 221.4,216 221.9,152.5 222.4,216 222.9,165.1 223.4,164 223.9,179.6 224.4,171.8 224.9,160.2 225.4,216 225.9,216 226.4,154.5 226.9,168.8 227.4,168.8 227.9,216 228.4,161.9 228.9,169.8 229.4,159.8 229.9,168.2 230.4,161.5 230.9,164.9 231.4,216 231.9,173.2 232.4,162.2 232.9,188 233.4,216 233.9,171.3 234.4,216 234.9,179.7 235.4,216 235.9,174.1 236.4,169.5 236.9,162.8 237.4,216 237.9,216 238.4,163.5 238.9,188.6 239.4,216 239.9,216 240.4,216 240.9,163.7 241.4,216 241.9,216 242.4,158.5 242.9,165.6 243.4,165.2 243.9,161.7 244.4,216 244.9,162.1 245.4,216 245.9,174.6 246.4,186.7 246.9,165.9 247.4,216 247.9,199.6 248.4,167.3 248.9,157.2 249.4,177.7 249.9,166.5 250.4,160.2 250.9,216 251.4,216 251.9,216 252.4,160.5 252.9,174.7 253.4,177.7 253.9,216 254.4,180.6 254.9,157.6 255.4,167 255.9,168.9 256.4,168.2 256.9,168.5 257.4,164.1 257.9,161.1 258.4,167 258.9,216 259.4,216 259.9,175.7 260.4,165 260.9,216 261.4,162.4 261.9,159 262.4,160.5 262.9,183.7 263.4,216 263.9,216 264.4,156.6 264.9,159.2 265.4,216 265.9,171.5 266.4,177.9 266.9,160.6 267.4,162.1 267.9,175.8 268.4,216 268.9,216 269.4,216 269.9,167.6 270.4,164.2 270.9,158.9 271.4,196.1 271.9,216 272.4,161.2 272.9,187.6 273.4,164.5 273.9,155 274.4,160.7 274.9,173.2 275.4,171.9 275.9,163.6 276.4,181.9 276.9,216 277.4,216 277.9,157.7 278.4,216 278.9,191.7 279.4,171.7 279.9,216 280.4,216 280.9,216 281.4,194.5 281.9,216 282.4,162.6 282.9,161.7 283.4,181.6 283.9,173.1 284.4,158.4 284.9,157.6 285.4,171.7 285.9,170.9 286.4,192.9 286.9,216 287.4,175 287.9,216 288.4,162.5 288.9,193.8 289.4,175 289.9,167.7 290.4,216 290.9,163.1 291.4,216 291.9,216 292.4,165.9 292.9,166 293.4,169 293.9,165.9 294.4,216 294.9,169.5 295.4,184.3 295.9,169.3 296.4,172.5 296.9,216 297.4,216 297.9,175.2 298.4,165.8 298.9,164.4 299.4,216 299.9,169 300.4,159.1 300.9,165.3 301.4,177.8 301.9,183.7 302.4,169 302.9,166.4 303.4,216 303.9,162.8 304.4,188.5 304.9,165.7 305.4,216 305.9,160.7 306.4,176.2 306.9,216 307.4,216 307.9,157.1 308.4,168.5 308.9,162.4 309.4,216 309.9,193.6 310.4,177.5 310.9,170 311.4,191.8 311.9,171.9 312.4,164.7 312.9,154.9 313.4,216 313.9,147.9 314.4,170.8 314.9,159.6 315.4,181 315.9,161.2 316.4,169.4 316.9,216 317.4,166.5 317.9,216 318.4,163.4 318.9,216 319.4,185.7 319.9,175.9 320.4,191.5 320.9,185.5 321.4,216 321.9,216 322.4,169.6 322.9,172.6 323.4,183.3 323.9,166.1"/>
<polyline clip-path="url(#ca)" fill="none" stroke="#FB6501" stroke-width="0.5" stroke-linejoin="round" points="20.6,175.5 20.9,157.5 21.2,161.9 21.5,216 21.8,171.3 22.1,216 22.4,216 22.7,216 23,216 23.3,216 23.6,216 23.9,216 24.2,176.5 24.5,216 24.8,216 25.1,153.6 25.4,216 25.7,216 26,216 26.3,163.5 26.6,216 26.9,194.7 27.2,216 27.5,163.3 27.8,216 28.1,216 28.4,170.2 28.7,172.4 29,165.2 29.3,168.3 29.6,157 29.9,216 30.2,166.4 30.5,166.8 30.8,173.6 31.1,154.7 31.4,158.3 31.7,171.9 32,160.7 32.3,216 32.6,177.6 32.9,216 33.2,161 33.5,216 33.8,216 34.1,172.4 34.4,188.2 34.7,216 35,194 35.3,161.4 35.6,192.6 35.9,216 36.2,216 36.5,216 36.8,216 37.1,165.5 37.4,171.4 37.7,160.8 38,216 38.3,216 38.6,216 38.9,164.8 39.2,216 39.5,216 39.8,216 40.1,169.8 40.4,176 40.7,185.6 41,161.2 41.3,186.1 41.6,216 41.9,155.8 42.2,216 42.5,216 42.8,155.5 43.1,187.4 43.4,174.8 43.7,216 44,216 44.3,216 44.6,172.1 44.9,216 45.2,170.7 45.5,216 45.8,216 46.1,172.9 46.4,216 46.7,216 47,162.3 47.3,216 47.6,155 47.9,165.6 48.2,166.6 48.5,216 48.8,172.1 49.1,182.3 49.4,216 49.7,216 50,216 50.3,165 50.6,216 50.9,216 51.2,178.2 51.5,216 51.8,169 52.1,176.1 52.4,216 52.7,216 53,216 53.3,216 53.6,216 53.9,216 54.2,216 54.5,169.1 54.8,216 55.1,216 55.4,168.5 55.7,163.3 56,167.7 56.3,216 56.6,177.5 56.9,216 57.2,162.5 57.5,216 57.8,188.3 58.1,179.6 58.4,168.3 58.7,216 59,216 59.3,175 59.6,216 59.9,173.5 60.2,216 60.5,216 60.8,161.8 61.1,166.2 61.4,165.7 61.7,158.8 62,161.6 62.3,165.1 62.6,216 62.9,216 63.2,156.1 63.5,216 63.8,157.8 64.1,161.2 64.4,150.2 64.7,177.3 65,155.6 65.3,169.3 65.6,164.8 65.9,151.9 66.2,151.9 66.5,157.7 66.8,151.7 67.1,154.7 67.4,157 67.7,151.8 68,163.3 68.3,161.6 68.6,216 68.9,151.2 69.2,155.2 69.5,152.6 69.8,150.3 70.1,149.7 70.4,147.4 70.7,148.2 71,145 71.3,151 71.6,144.2 71.9,143.5 72.2,145 72.5,141.5 72.8,143.1 73.1,139.5 73.4,139.7 73.7,140 74,139.6 74.3,138.3 74.6,137.8 74.9,137.2 75.2,136.1 75.5,134.7 75.8,134.9 76.1,134.8 76.4,132 76.7,132.1 77,131.1 77.3,130.6 77.6,129.9 77.9,128.5 78.2,127.6 78.5,127.2 78.8,126.4 79.1,125.2 79.4,124.2 79.7,123.4 80.7,119.9 81.7,116.7 82.7,113.7 83.7,110.8 84.7,108.2 85.7,105.7 86.7,103.9 87.7,103 88.7,102.5 89.7,102 90.7,102 91.7,102.2 92.7,102.5 93.7,103 94.7,103.4 95.7,103.8 96.7,104 97.7,104.2 98.7,104.2 99.7,103.9 100.7,103.5 101.7,102.9 102.7,102.4 103.7,101.7 104.7,101 105.7,100.3 106.7,99.7 107.7,99.2 108.7,98.9 109.7,98.7 110.7,98.7 111.7,99.1 112.7,99.4 113.7,99.9 114.7,100.5 115.7,100.9 116.7,101.3 117.7,101.4 118.7,101.4 119.7,101.3 120.7,101.3 121.7,101.3 122.7,101.3 123.7,101.2 124.7,101.1 125.7,101.1 126.7,101 127.7,100.9 128.7,100.9 129.7,100.8 130.7,100.6 131.7,100.6 132.7,100.5 133.7,100.4 134.7,100.3 135.7,100.3 136.7,100.2 137.7,100 138.7,99.9 139.7,99.8 140.7,99.7 141.7,99.6 142.7,99.5 143.7,99.4 144.7,99.3 145.7,99.2 146.7,99.1 147.7,99.1 148.7,99 149.7,99 150.7,99 151.7,99 152.7,99 153.7,99 154.7,99.1 155.7,99 156.7,99.1 157.7,99.1 158.7,99.1 159.7,99.1 160.7,99.2 161.7,99.3 162.7,99.3 163.7,99.3 164.7,99.4 165.7,99.4 166.7,99.5 167.7,99.6 168.7,99.7 169.7,100 170.7,100.7 171.7,101.7 172.7,102.7 173.7,103.7 174.7,105 175.7,106.3 176.7,107.8 177.7,109.4 178.7,111.3 179.7,113.1 180.7,115.2 181.7,117.5 182.7,119.6 183.7,122.3 184.2,123.6 184.7,124.8 185.2,126.5 185.7,128.1 186.2,128.8 186.7,130.8 187.2,132.5 187.7,133.9 188.2,136.8 188.7,137.4 189.2,140.2 189.7,140.7 190.2,142.6 190.7,144.8 191.2,144.1 191.7,148.5 192.2,149.2 192.7,151.7 193.2,152.5 193.7,150.8 194.2,149.3 194.7,157.1 195.2,162 195.7,164.2 196.2,164.6 196.7,155.6 197.2,180 197.7,167.7 198.2,216 198.7,179.8 199.2,173.7 199.7,216 200.2,188.5 200.7,178.8 201.2,216 201.7,183.5 202.2,164.7 202.7,216 203.2,154.4 203.7,169.8 204.2,179 204.7,187.9 205.2,189.2 205.7,160.6 206.2,216 206.7,198.8 207.2,216 207.7,162.5 208.2,169.9 208.7,162.1 209.2,216 209.7,167.5 210.2,161.4 210.7,216 211.2,160.2 211.7,216 212.2,216 212.7,157.2 213.2,170.2 213.7,171 214.2,168.5 214.7,216 215.2,169.8 215.7,205.4 216.2,159.2 216.7,171.5 217.2,159.4 217.7,158.9 218.2,192.9 218.7,161.7 219.2,216 219.7,174.7 220.2,164.6 220.7,163.4 221.2,166.4 221.7,216 222.2,173.9 222.7,162.9 223.2,176.8 223.7,157.4 224.2,158.7 224.7,216 225.2,167.1 225.7,216 226.2,155.3 226.7,157.7 227.2,216 227.7,216 228.2,175.1 228.7,158.3 229.2,216 229.7,164.2 230.2,216 230.7,216 231.2,216 231.7,194 232.2,164.9 232.7,169.3 233.2,160.2 233.7,216 234.2,180.6 234.7,161.3 235.2,216 235.7,216 236.2,216 236.7,175.7 237.2,183.7 237.7,216 238.2,181.2 238.7,166.7 239.2,159.3 239.7,166.8 240.2,174.1 240.7,192.9 241.2,216 241.7,161.6 242.2,177.7 242.7,178.1 243.2,216 243.7,159.7 244.2,216 244.7,160.2 245.2,156.5 245.7,161.6 246.2,216 246.7,171.2 247.2,216 247.7,178.2 248.2,169.7 248.7,216 249.2,216 249.7,176.1 250.2,167.8 250.7,174.3 251.2,177.6 251.7,177.9 252.2,161.7 252.7,171 253.2,216 253.7,189.1 254.2,216 254.7,216 255.2,166.7 255.7,162.3 256.2,178.3 256.7,189.1 257.2,176.9 257.7,163.9 258.2,216 258.7,181.8 259.2,161.6 259.7,216 260.2,161.1 260.7,216 261.2,158.2 261.7,157.6 262.2,164.6 262.7,169.2 263.2,216 263.7,216 264.2,164.4 264.7,168.9 265.2,184.7 265.7,162 266.2,216 266.7,165.9 267.2,171.1 267.7,203.5 268.2,216 268.7,165.7 269.2,216 269.7,154.3 270.2,216 270.7,169.5 271.2,150.8 271.7,161.3 272.2,216 272.7,162.6 273.2,216 273.7,190.1 274.2,181.7 274.7,174.5 275.2,182.1 275.7,166.7 276.2,216 276.7,216 277.2,216 277.7,169.2 278.2,216 278.7,171.7 279.2,216 279.7,159.3 280.2,174.3 280.7,172.1 281.2,216 281.7,173.1 282.2,164.2 282.7,169.1 283.2,157.4 283.7,189.7 284.2,156.2 284.7,216 285.2,166.8 285.7,216 286.2,216 286.7,169.2 287.2,216 287.7,216 288.2,216 288.7,216 289.2,216 289.7,178.9 290.2,216 290.7,165 291.2,216 291.7,216 292.2,179.7 292.7,186.6 293.2,163.9 293.7,161.1 294.2,216 294.7,154.5 295.2,216 295.7,182.7 296.2,179 296.7,216 297.2,216 297.7,213 298.2,185.8 298.7,164 299.2,169.5 299.7,166.6 300.2,160.5 300.7,168 301.2,216 301.7,169.6 302.2,164.7 302.7,216 303.2,216 303.7,216 304.2,156.8 304.7,216 305.2,216 305.7,165.5 306.2,216 306.7,216 307.2,216 307.7,161.9 308.2,216 308.7,163.3 309.2,197.3 309.7,160.4 310.2,216 310.7,165.7 311.2,165.3 311.7,156.7 312.2,184.4 312.7,161 313.2,163.2 313.7,216 314.2,216 314.7,216 315.2,216 315.7,216 316.2,163.6 316.7,164.4 317.2,216 317.7,173.5 318.2,171.5 318.7,167.9 319.2,216 319.7,216 320.2,168.9 320.7,216 321.2,177.8 321.7,160.1 322.2,216 322.7,216 323.2,216 323.7,160.3"/>
<polyline clip-path="url(#ca)" fill="none" stroke="#6699CC" stroke-width="0.5" stroke-linejoin="round" points="20.6,175.2 20.9,216 21.2,216 21.5,165.4 21.8,174.7 22.1,157.9 22.4,216 22.7,179 23,167.5 23.3,216 23.6,183.6 23.9,216 24.2,190 24.5,161.5 24.8,170.2 25.1,175.6 25.4,186.1 25.7,163.1 26,216 26.3,154.1 26.6,163 26.9,162.4 27.2,160.6 27.5,187.4 27.8,157.6 28.1,159.8 28.4,170.7 28.7,165.3 29,165 29.3,173.6 29.6,216 29.9,160 30.2,155.6 30.5,150.9 30.8,153 31.1,148.3 31.4,152.6 31.7,151.1 32,149.6 32.3,149.4 32.6,145.1 32.9,147.8 33.2,144.4 33.5,143.1 33.8,142.3 34.1,138.2 34.4,139.1 34.7,138.8 35,136.3 35.3,136 35.6,134.6 35.9,134.2 36.2,133.7 36.5,130.6 36.8,130.3 37.1,129.5 37.4,129 37.7,127.5 38,126.4 38.3,125.3 38.6,124.8 38.9,123.4 39.9,119.9 40.9,117.2 41.9,114.3 42.9,112.5 43.9,111.6 44.9,110.6 45.9,110.1 46.9,109.7 47.9,109.7 48.9,110.1 49.9,110.8 50.9,111.2 51.9,111.8 52.9,112 53.9,112.4 54.9,112.7 55.9,112.8 56.9,113.1 57.9,113.1 58.9,112.8 59.9,112.8 60.9,112.7 61.9,112.2 62.9,112 63.9,111.7 64.9,111.2 65.9,110.7 66.9,109.5 67.9,108.2 68.9,107 69.9,105.6 70.9,104.5 71.9,104.1 72.9,104.5 73.9,105.2 74.9,105.8 75.9,106.2 76.9,106.9 77.9,107.1 78.9,107.3 79.9,107.4 80.9,107.6 81.9,107.5 82.9,107.6 83.9,107.6 84.9,107.6 85.9,107.7 86.9,107.7 87.9,107.8 88.9,107.8 89.9,107.8 90.9,107.8 91.9,107.9 92.9,107.8 93.9,107.8 94.9,107.9 95.9,107.9 96.9,107.9 97.9,107.9 98.9,107.8 99.9,108 100.9,108.1 101.9,107.9 102.9,108 103.9,108 104.9,108 105.9,108 106.9,108 107.9,107.9 108.9,108 109.9,108 110.9,108 111.9,108 112.9,108 113.9,108.1 114.9,108 115.9,107.9 116.9,108 117.9,108 118.9,107.9 119.9,107.6 120.9,107.3 121.9,107 122.9,106.6 123.9,106.2 124.9,105.8 125.9,105.3 126.9,105.4 127.9,105.9 128.9,106.8 129.9,107.9 130.9,109.4 131.9,111.4 132.9,113.4 133.9,115 134.9,116.7 135.9,118.4 136.9,120 137.9,121.4 138.9,123 139.4,124.3 139.9,124.7 140.4,125.4 140.9,126.1 141.4,127.1 141.9,128.7 142.4,129.7 142.9,130.2 143.4,132.3 143.9,133 144.4,132.4 144.9,136 145.4,136.1 145.9,138.7 146.4,138.1 146.9,141.1 147.4,140.8 147.9,141.7 148.4,143.1 148.9,143 149.4,143.5 149.9,151.6 150.4,151.8 150.9,147.6 151.4,151.6 151.9,152 152.4,154.2 152.9,153.1 153.4,160.3 153.9,153 154.4,157.5 154.9,152.1 155.4,186 155.9,179.5 156.4,169.9 156.9,165.5 157.4,216 157.9,184.8 158.4,172.6 158.9,155 159.4,216 159.9,172.2 160.4,174.3 160.9,164 161.4,173.3 161.9,162.1 162.4,160.3 162.9,179.6 163.4,161 163.9,170.1 164.4,178.7 164.9,164.8 165.4,216 165.9,159.9 166.4,216 166.9,162 167.4,154.7 167.9,177.1 168.4,164.7 168.9,216 169.4,172.9 169.9,154.9 170.4,216 170.9,159 171.4,158.7 171.9,216 172.4,180.5 172.9,170.2 173.4,162.8 173.9,188.5 174.4,162.5 174.9,166.9 175.4,174.3 175.9,216 176.4,177.2 176.9,165.4 177.4,216 177.9,173.4 178.4,156 178.9,216 179.4,190.4 179.9,166.9 180.4,216 180.9,173.7 181.4,164.8 181.9,216 182.4,163.3 182.9,168.5 183.4,183.5 183.9,163.2 184.4,168.8 184.9,216 185.4,181 185.9,216 186.4,216 186.9,163.2 187.4,176.3 187.9,165.4 188.4,161.2 188.9,216 189.4,152.1 189.9,216 190.4,160.2 190.9,216 191.4,166.4 191.9,216 192.4,216 192.9,176.1 193.4,178.3 193.9,216 194.4,201 194.9,216 195.4,174 195.9,161 196.4,216 196.9,216 197.4,154.2 197.9,163 198.4,216 198.9,160.8 199.4,216 199.9,171.5 200.4,216 200.9,216 201.4,168.7 201.9,161.6 202.4,166.1 202.9,156 203.4,174.1 203.9,216 204.4,216 204.9,216 205.4,216 205.9,216 206.4,195.5 206.9,161.2 207.4,163.3 207.9,216 208.4,216 208.9,216 209.4,177 209.9,196.1 210.4,176.4 210.9,216 211.4,167.6 211.9,216 212.4,189.9 212.9,159.2 213.4,216 213.9,216 214.4,216 214.9,164.5 215.4,163.5 215.9,175.7 216.4,168.7 216.9,216 217.4,164.7 217.9,166 218.4,157.4 218.9,216 219.4,216 219.9,160 220.4,216 220.9,171.3 221.4,216 221.9,216 222.4,170.1 222.9,161 223.4,216 223.9,170 224.4,186.5 224.9,178.3 225.4,162.4 225.9,216 226.4,170.4 226.9,216 227.4,174.5 227.9,155.6 228.4,157.6 228.9,164.7 229.4,216 229.9,168.7 230.4,216 230.9,216 231.4,180.6 231.9,178.2 232.4,162.2 232.9,216 233.4,156.1 233.9,216 234.4,160.1 234.9,216 235.4,165.5 235.9,168.8 236.4,216 236.9,158.4 237.4,161.5 237.9,160.7 238.4,216 238.9,182.2 239.4,179.3 239.9,172.6 240.4,160.6 240.9,167.4 241.4,168.2 241.9,161.6 242.4,194 242.9,216 243.4,151.8 243.9,167.4 244.4,161.9 244.9,216 245.4,196.5 245.9,177.9 246.4,171.1 246.9,161.5 247.4,175.2 247.9,216 248.4,174 248.9,160.9 249.4,157.5 249.9,164.2 250.4,162.5 250.9,161.8 251.4,165.5 251.9,216 252.4,216 252.9,177.3 253.4,216 253.9,216 254.4,166 254.9,154.9 255.4,175.3 255.9,216 256.4,216 256.9,155.7 257.4,163.2 257.9,169 258.4,175.4 258.9,216 259.4,216 259.9,216 260.4,161.8 260.9,170.1 261.4,213.7 261.9,216 262.4,216 262.9,216 263.4,216 263.9,161.4 264.4,161.8 264.9,159.2 265.4,160.1 265.9,216 266.4,213.9 266.9,167.1 267.4,216 267.9,200.5 268.4,216 268.9,164.6 269.4,216 269.9,160.5 270.4,166.3 270.9,172.7 271.4,165.1 271.9,177.5 272.4,216 272.9,161.8 273.4,172.4 273.9,153.6 274.4,195.4 274.9,216 275.4,216 275.9,171.7 276.4,216 276.9,162.4 277.4,212.9 277.9,171.3 278.4,170.9 278.9,168.5 279.4,155 279.9,216 280.4,184.6 280.9,163.4 281.4,206.7 281.9,184.4 282.4,161.2 282.9,216 283.4,155.7 283.9,174.6 284.4,178.5 284.9,216 285.4,156.3 285.9,216 286.4,197.1 286.9,190.1 287.4,161 287.9,216 288.4,171.8 288.9,173.9 289.4,216 289.9,216 290.4,160.6 290.9,216 291.4,216 291.9,176.3 292.4,162 292.9,174.6 293.4,167.7 293.9,216 294.4,155.9 294.9,216 295.4,167.3 295.9,216 296.4,160.2 296.9,216 297.4,216 297.9,167.9 298.4,216 298.9,184.2 299.4,216 299.9,216 300.4,164.7 300.9,216 301.4,157.8 301.9,158.1 302.4,216 302.9,216 303.4,168.3 303.9,187.5 304.4,159.1 304.9,158.5 305.4,216 305.9,216 306.4,164.1 306.9,158.4 307.4,216 307.9,216 308.4,179.7 308.9,216 309.4,153.4 309.9,216 310.4,165.1 310.9,165.6 311.4,216 311.9,216 312.4,158.3 312.9,165.8 313.4,155.1 313.9,171.6 314.4,205.5 314.9,216 315.4,180.5 315.9,181 316.4,216 316.9,178.9 317.4,155.5 317.9,174.4 318.4,216 318.9,216 319.4,169.7 319.9,176.2 320.4,179.4 320.9,216 321.4,168.6 321.9,163.6 322.4,216 322.9,171 323.4,169.4 323.9,154.5"/>
<polyline clip-path="url(#cb)" fill="none" stroke="#515151" stroke-width="0.5" stroke-linejoin="round" points="369.65,216.1 369.9,189.8 370.15,216.1 370.4,176.9 370.65,216.1 370.9,190.3 371.15,216.1 371.4,216.1 371.65,216.1 371.9,216.1 372.15,216.1 372.4,168.4 372.65,216.1 372.9,175.5 373.15,216.1 373.4,216.1 373.65,216.1 373.9,216.1 374.15,172.8 374.4,173.7 374.65,170.3 374.9,178.8 375.15,216.1 375.4,216.1 375.65,160.7 375.9,161.1 376.15,216.1 376.4,157.7 376.65,216.1 376.9,164.3 377.15,216.1 377.4,175.7 377.65,185.5 377.9,167.1 378.15,182 378.4,216.1 378.65,162.1 378.9,216.1 379.15,216.1 379.4,216.1 379.65,167.5 379.9,186.8 380.15,216.1 380.4,162.1 380.65,165.1 380.9,216.1 381.15,216.1 381.4,185.1 381.65,216.1 381.9,166.5 382.15,173.3 382.4,183 382.65,172.5 382.9,216.1 383.15,167.7 383.4,163.4 383.65,173.3 383.9,216.1 384.15,185.8 384.4,216.1 384.65,163.9 384.9,164.1 385.15,216.1 385.4,177.9 385.65,216.1 385.9,184.1 386.15,216.1 386.4,162.7 386.65,216.1 386.9,164.3 387.15,216.1 387.4,172.8 387.65,207.5 387.9,216.1 388.15,216.1 388.4,178 388.65,169.3 388.9,172 389.15,170.8 389.4,216.1 389.65,164.7 389.9,216.1 390.15,216.1 390.4,216.1 390.65,176.4 390.9,216.1 391.15,166.5 391.4,177.2 391.65,171 391.9,153.4 392.15,178.9 392.4,216.1 392.65,216.1 392.9,170 393.15,216.1 393.4,172 393.65,174.3 393.9,216.1 394.15,216.1 394.4,216.1 394.65,216.1 394.9,180.7 395.15,216.1 395.4,178.1 395.65,159.7 395.9,216.1 396.15,216.1 396.4,216.1 396.65,184.1 396.9,216.1 397.15,158.2 397.4,216.1 397.65,216.1 397.9,216.1 398.15,171 398.4,161.5 398.65,160 398.9,165.4 399.15,204.3 399.4,216.1 399.65,216.1 399.9,173 400.15,188.8 400.4,216.1 400.65,216.1 400.9,216.1 401.15,175.6 401.4,174.2 401.65,170.1 401.9,216.1 402.15,216.1 402.4,216.1 402.65,216.1 402.9,216.1 403.15,216.1 403.4,185.3 403.65,216.1 403.9,161.7 404.15,169.5 404.4,216.1 404.65,216.1 404.9,216.1 405.15,171.9 405.4,168.7 405.65,168.7 405.9,172.3 406.15,174.2 406.4,216.1 406.65,216.1 406.9,185.1 407.15,173.1 407.4,216.1 407.65,168 407.9,164.6 408.15,216.1 408.4,216.1 408.65,216.1 408.9,216.1 409.15,178.4 409.4,165.1 409.65,164.3 409.9,216.1 410.15,216.1 410.4,161.8 410.65,169.2 410.9,175.2 411.15,216.1 411.4,216.1 411.65,171.1 411.9,202.8 412.15,216.1 412.4,216.1 412.65,171.6 412.9,166.8 413.15,171.4 413.4,186.2 413.65,216.1 413.9,174.3 414.15,216.1 414.4,216.1 414.65,216.1 414.9,216.1 415.15,216.1 415.4,200.5 415.65,170.8 415.9,160 416.15,216.1 416.4,166.2 416.65,216.1 416.9,166.9 417.15,186.1 417.4,216.1 417.65,216.1 417.9,173.8 418.15,171.2 418.4,190.3 418.65,170.4 418.9,161.7 419.15,183.3 419.4,170.7 419.65,216.1 419.9,216.1 420.15,163.3 420.4,166.5 420.65,216.1 420.9,216.1 421.15,169.5 421.4,184.1 421.65,216.1 421.9,216.1 422.15,162.6 422.4,216.1 422.65,216.1 422.9,173 423.15,169.8 423.4,162.6 423.65,216.1 423.9,216.1 424.15,188.1 424.4,216.1 424.65,159.1 424.9,216.1 425.15,165 425.4,216.1 425.65,216.1 425.9,216.1 426.15,216.1 426.4,216.1 426.65,216.1 426.9,172.3 427.15,163.5 427.4,165.7 427.65,164.8 427.9,160.4 428.15,178.2 428.4,165.1 428.65,163.7 428.9,216.1 429.15,183.1 429.4,166.1 429.65,160.9 429.9,216.1 430.15,161.3 430.4,216.1 430.65,216.1 430.9,216.1 431.15,216.1 431.4,216.1 431.65,192.3 431.9,162.9 432.15,169.3 432.4,162.5 432.65,157.3 432.9,160.3 433.15,216.1 433.4,216.1 433.65,182.3 433.9,216.1 434.15,169.9 434.4,216.1 434.65,216.1 434.9,164.4 435.15,171.7 435.4,157.7 435.65,162.7 435.9,216.1 436.15,160.5 436.4,169.9 436.65,168.6 436.9,168.4 437.15,216.1 437.4,216.1 437.65,216.1 437.9,216.1 438.15,216.1 438.4,216.1 438.65,167.5 438.9,175.1 439.15,190.9 439.4,168.7 439.65,216.1 439.9,158.6 440.15,216.1 440.4,179 440.65,188.9 440.9,216.1 441.15,171.8 441.4,216.1 441.65,167.5 441.9,166.7 442.15,216.1 442.4,159.6 442.65,167.8 442.9,216.1 443.15,216.1 443.4,168.8 443.65,216.1 443.9,216.1 444.15,181.9 444.4,170.6 444.65,184 444.9,186.2 445.15,216.1 445.4,216.1 445.65,161.3 445.9,216.1 446.15,178.9 446.4,216.1 446.65,162.9 446.9,216.1 447.15,216.1 447.4,216.1 447.65,216.1 447.9,175.5 448.15,216.1 448.4,158.2 448.65,216.1 448.9,168.4 449.15,216.1 449.4,185.4 449.65,168.1 449.9,194.8 450.15,172.4 450.4,195.8 450.65,173.1 450.9,216.1 451.15,216.1 451.4,177.8 451.65,216.1 451.9,216.1 452.15,216.1 452.4,216.1 452.65,173.6 452.9,170.9 453.15,216.1 453.4,216.1 453.65,216.1 453.9,171.1 454.15,216.1 454.4,197 454.65,216.1 454.9,169.7 455.15,188.1 455.4,216.1 455.65,216.1 455.9,216.1 456.15,216.1 456.4,216.1 456.65,166 456.9,166.8 457.15,174.8 457.4,198.5 457.65,158.3 457.9,216.1 458.15,206.7 458.4,216.1 458.65,216.1 458.9,165.8 459.15,216.1 459.4,216.1 459.65,216.1 459.9,216.1 460.15,216.1 460.4,216.1 460.65,216.1 460.9,179.9 461.15,216.1 461.4,216.1 461.65,158.3 461.9,177.1 462.15,216.1 462.4,185.3 462.65,216.1 462.9,216.1 463.15,160.5 463.4,182.4 463.65,165.5 463.9,216.1 464.15,216.1 464.4,170.5 464.65,162.6 464.9,174.4 465.15,216.1 465.4,167.8 465.65,174.3 465.9,216.1 466.15,216.1 466.4,191.9 466.65,216.1 466.9,216.1 467.15,216.1 467.4,164.3 467.65,176.7 467.9,170.6 468.15,216.1 468.4,168.2 468.65,172 468.9,216.1 469.15,164.3 469.4,216.1 469.65,181.8 469.9,175.6 470.15,216.1 470.4,216.1 470.65,216.1 470.9,188 471.15,216.1 471.4,170.6 471.65,216.1 471.9,216.1 472.15,181.8 472.4,216.1 472.65,179.6 472.9,160.7 473.15,165.6 473.4,159.7 473.65,184.7 473.9,181.7 474.15,216.1 474.4,184.8 474.65,170.9 474.9,168.3 475.15,182.5 475.4,216.1 475.65,166.9 475.9,216.1 476.15,216.1 476.4,179.2 476.65,160.2 476.9,168.1 477.15,161.1 477.4,173.3 477.65,216.1 477.9,216.1 478.15,216.1 478.4,190.6 478.65,216.1 478.9,216.1 479.15,169.3 479.4,169 479.65,159.5 479.9,216.1 480.15,181.3 480.4,162.6 480.65,179.1 480.9,216.1 481.15,216.1 481.4,216.1 481.65,216.1 481.9,178.7 482.15,180 482.4,216.1 482.65,216.1 482.9,151.1 483.15,163.7 483.4,178 483.65,216.1 483.9,165.5 484.15,216.1 484.4,216.1 484.65,171.5 484.9,159.5 485.15,216.1 485.4,216.1 485.65,216.1 485.9,170.7 486.15,216.1 486.4,216.1 486.65,216.1 486.9,171.8 487.15,165.2 487.4,216.1 487.65,162.6 487.9,216.1 488.15,172.6 488.4,190.1 488.65,216.1 488.9,216.1 489.15,216.1 489.4,182.7 489.65,154.5 489.9,161.9 490.15,167.7 490.4,172.6 490.65,216.1 490.9,170.3 491.15,216.1 491.4,172.8 491.65,165.1 491.9,216.1 492.15,216.1 492.4,166.8 492.65,171.6 492.9,196.5 493.15,162.9 493.4,161.9 493.65,216.1 493.9,216.1 494.15,216.1 494.4,180 494.65,157.7 494.9,164.3 495.15,216.1 495.4,163.9 495.65,216.1 495.9,216.1 496.15,216.1 496.4,192.2 496.65,169.1 496.9,172.1 497.15,216.1 497.4,186.7 497.65,216.1 497.9,216.1 498.15,216.1 498.4,216.1 498.65,159.5 498.9,168.6 499.15,216.1 499.4,170.9 499.65,172.3 499.9,216.1 500.15,216.1 500.4,216.1 500.65,162.3 500.9,216.1 501.15,216.1 501.4,216.1 501.65,162.8 501.9,216.1 502.15,216.1 502.4,216.1 502.65,216.1 502.9,181.2 503.15,170.5 503.4,216.1 503.65,216.1 503.9,171.3 504.15,177.9 504.4,166.2 504.65,216.1 504.9,165.2 505.15,163.9 505.4,216.1 505.65,190.7 505.9,172.7 506.15,177.4 506.4,165.2 506.65,162.2 506.9,163.1 507.15,216.1 507.4,161.3 507.65,165.1 507.9,216.1 508.15,216.1 508.4,168.5 508.65,216.1 508.9,216.1 509.15,216.1 509.4,163.5 509.65,216.1 509.9,163.4 510.15,216.1 510.4,216.1 510.65,174.1 510.9,165.7 511.15,158 511.4,174.4 511.65,216.1 511.9,216.1 512.15,160.5 512.4,172.5 512.65,169.8 512.9,170.9 513.15,170.3 513.4,177.8 513.65,171.2 513.9,170.1 514.15,170.8 514.4,163.3 514.65,167.1 514.9,216.1 515.15,216.1 515.4,216.1 515.65,170.4 515.9,160.5 516.15,162.7 516.4,165.9 516.65,172.2 516.9,216.1 517.15,167.2 517.4,162.4 517.65,216.1 517.9,163.8 518.15,164.7 518.4,189.8 518.65,164.6 518.9,164.8 519.15,180 519.4,169.6 519.65,165.8 519.9,171.3 520.15,216.1 520.4,164.5 520.65,216.1 520.9,160 521.15,162.1 521.4,158 521.65,163 521.9,168.5 522.15,164.6 522.4,186 522.65,159.1 522.9,160.8 523.15,163.2 523.4,156 523.65,180.4 523.9,159.9 524.15,168.7 524.4,184.1 524.65,162.3 524.9,166.5 525.15,154 525.4,163.6 525.65,177.6 525.9,153.2 526.15,156.2 526.4,154.7 526.65,155.7 526.9,154.9 527.15,150.1 527.4,152 527.65,157.1 527.9,152 528.15,175.9 528.4,156.8 528.65,156.9 528.9,155.9 529.15,153.5 529.4,153.5 529.65,149.5 529.9,159.3 530.15,153.7 530.4,150.3 530.65,150.5 530.9,154.5 531.15,152.3 531.4,152.8 531.65,151.5 531.9,151.3 532.15,153.7 532.4,151.4 532.65,151.5 532.9,148.2 533.15,145.9 533.4,145.1 533.65,145.7 533.9,146.8 534.15,150.6 534.4,147 534.65,150 534.9,148.6 535.15,147.3 535.4,145.3 535.65,144.6 535.9,145.6 536.15,145.7 536.4,142.7 536.65,143 536.9,144.9 537.15,142.6 537.4,144.5 537.65,142.3 537.9,141.7 538.15,140.4 538.4,141 538.65,141.5 538.9,138.2 539.15,140.4 539.4,138.9 539.65,139.3 539.9,138.7 540.15,138.3 540.4,138.2 540.65,139.7 540.9,140.4 541.15,137.3 541.4,136.5 541.65,136.1 541.9,135 542.15,135.2 542.4,134.9 542.65,135.4 542.9,134.4 543.15,135.2 543.4,134.6 543.65,135.1 543.9,134.9 544.15,135.5 544.4,133.1 544.65,132.4 544.9,131.3 545.15,131.3 545.4,130.5 545.65,130.6 545.9,130.6 546.15,130.9 546.4,130.8 546.65,130.3 546.9,129.7 547.15,129.7 547.4,128.6 547.65,127.5 547.9,127 548.15,126 548.4,126 548.65,125.8 549.15,125.7 549.65,125.6 550.15,124.3 550.65,122.5 551.15,121 551.65,120.3 552.15,120.4 552.65,119.8 553.15,118.4 553.65,116.5 554.15,114.6 554.65,113.8 555.15,113.5 555.65,113 556.15,111.5 556.65,109.4 557.15,107.7 557.65,106.7 558.15,106.5 558.65,105.9 559.15,104.4 559.65,102.4 560.15,100.6 560.65,99.8 561.15,99.6 561.65,99 562.15,97.6 562.65,95.5 563.15,93.8 563.65,92.9 564.15,92.6 564.65,92.1 565.15,90.8 565.65,88.9 566.15,87.3 566.65,86.7 567.15,86.8 567.65,86.7 568.15,85.7 568.65,84.1 569.15,82.8 569.65,82.5 570.15,82.8 570.65,82.8 571.15,82 571.65,80.6 572.15,79.6 572.65,79.4 573.15,79.8 573.65,79.8 574.15,79.2 574.65,78.2 575.15,77.5 575.65,77.4 576.15,77.6 576.65,77.7 577.15,77.2 577.65,76.4 578.15,75.8 578.65,75.8 579.15,75.9 579.65,75.9 580.15,75.7 580.65,75.7 581.15,75.7 581.65,75.7 582.15,75.7 582.65,75.8 583.15,75.8 583.65,75.8 584.15,75.8 584.65,75.8 585.15,75.9 585.65,75.9 586.15,75.9 586.65,75.9 587.15,75.9 587.65,76 588.15,76.1 588.65,76.2 589.15,76.3 589.65,76.2 590.15,76.2 590.65,76.3 591.15,76.4 591.65,76.5 592.15,76.5 592.65,76.5 593.15,76.5 593.65,76.5 594.15,76.5 594.65,76.5 595.15,76.5 595.65,76.5 596.15,76.5 596.65,76.5 597.15,76.5 597.65,76.5 598.15,76.5 598.65,76.5 599.15,76.5 599.65,76.5 600.15,76.5 600.65,76.5 601.15,76.5 601.65,76.4 602.15,76.4 602.65,76.4 603.15,76.4 603.65,76.4 604.15,76.4 604.65,76.4 605.15,76.4 605.65,76.4 606.15,76.4 606.65,76.4 607.15,76.4 607.65,76.4 608.15,76.4 608.65,76.4 609.15,76.4 609.65,76.4 610.15,76.4 610.65,76.3 611.15,76.3 611.65,76.3 612.15,76.3 612.65,76.3 613.15,76.3 613.65,76.3 614.15,76.3 614.65,76.3 615.15,76.3 615.65,76.3 616.15,76.3 616.65,76.3 617.15,76.3 617.65,76.3 618.15,76.3 618.65,76.3 619.15,76.3 619.65,76.2 620.15,76.2 620.65,76.2 621.15,76.2 621.65,76.2 622.15,76.2 622.65,76.2 623.15,76.2 623.65,76.2 624.15,76.2 624.65,76.2 625.15,76.2 625.65,76.2 626.15,76.2 626.65,76.2 627.15,76.2 627.65,76.2 628.15,76.2 628.65,76.2 629.15,76.2 629.65,76.2 630.15,76.2 630.65,76.3 631.15,76.3 631.65,76.3 632.15,76.3 632.65,76.3 633.15,76.4 633.65,76.5 634.15,76.5 634.65,76.4 635.15,76.3 635.65,76.4 636.15,77.3 636.65,78.2 637.15,78.5 637.65,78.2 638.15,78.1 638.65,79.1 639.15,80.8 639.65,82.4 640.15,83 640.65,83 641.15,83.2 641.65,84.3 642.15,86 642.65,87.5 643.15,88 643.65,88 644.15,88.3 644.65,89.5 645.15,91.3 645.65,92.8 646.15,93.5 646.65,93.6 647.15,94 647.65,95.2 648.15,97 648.65,98.7 649.15,99.4 649.65,99.4 650.15,99.8 650.65,101 651.15,102.9 651.65,104.5 652.15,105.2 652.65,105.3 653.15,105.8 653.65,107 654.15,108.9 654.65,110.5 655.15,111.2 655.65,111.3 656.15,111.8 656.65,113.1 657.15,114.9 657.65,116.5 658.15,117.1 658.65,117.2 659.15,117.7 659.65,118.7 660.15,120.6 660.65,122.3 661.15,122.5 661.65,122.8 662.15,123 662.65,123.9 663.15,125.8 663.55,127 663.8,127.4 664.05,127.5 664.3,127.6 664.55,127.2 664.8,127.6 665.05,127.2 665.3,127.7 665.55,128.2 665.8,129.1 666.05,130.4 666.3,130.8 666.55,131.2 666.8,131.4 667.05,132.2 667.3,132 667.55,131.8 667.8,131.5 668.05,131.8 668.3,132.6 668.55,133.1 668.8,133.4 669.05,134.5 669.3,133.9 669.55,136.3 669.8,136 670.05,136.9 670.3,136 670.55,135.2 670.8,137.2 671.05,136.4 671.3,136.7 671.55,136.7 671.8,138 672.05,138.4 672.3,140 672.55,139.1 672.8,139.5"/>
<polyline clip-path="url(#cb)" fill="none" stroke="#F14040" stroke-width="0.5" stroke-linejoin="round" points="369.65,216.1 369.9,216.1 370.15,187.4 370.4,184.4 370.65,216.1 370.9,160.7 371.15,216.1 371.4,173.2 371.65,185.5 371.9,163.6 372.15,216.1 372.4,216.1 372.65,159.2 372.9,179.8 373.15,216.1 373.4,216.1 373.65,216.1 373.9,216.1 374.15,216.1 374.4,216.1 374.65,216.1 374.9,168.4 375.15,216.1 375.4,216.1 375.65,216.1 375.9,216.1 376.15,216.1 376.4,165.3 376.65,216.1 376.9,216.1 377.15,216.1 377.4,216.1 377.65,216.1 377.9,170.6 378.15,159 378.4,160.9 378.65,162.8 378.9,161.5 379.15,167.8 379.4,183.8 379.65,181.5 379.9,216.1 380.15,216.1 380.4,216.1 380.65,216.1 380.9,216.1 381.15,174.3 381.4,216.1 381.65,216.1 381.9,159.2 382.15,216.1 382.4,216.1 382.65,161 382.9,216.1 383.15,164.9 383.4,216.1 383.65,162.4 383.9,175.8 384.15,216.1 384.4,216.1 384.65,172.4 384.9,216.1 385.15,175 385.4,216.1 385.65,172.1 385.9,216.1 386.15,165 386.4,172.1 386.65,165.6 386.9,166.6 387.15,216.1 387.4,216.1 387.65,174.7 387.9,164 388.15,171.5 388.4,216.1 388.65,163.6 388.9,174 389.15,163 389.4,216.1 389.65,216.1 389.9,216.1 390.15,216.1 390.4,162.1 390.65,216.1 390.9,216.1 391.15,216.1 391.4,216.1 391.65,168.4 391.9,163.4 392.15,169.9 392.4,216.1 392.65,181.8 392.9,216.1 393.15,216.1 393.4,216.1 393.65,177.8 393.9,216.1 394.15,175.8 394.4,216.1 394.65,216.1 394.9,187.9 395.15,216.1 395.4,216.1 395.65,216.1 395.9,161.2 396.15,216.1 396.4,158.3 396.65,216.1 396.9,167.3 397.15,164.2 397.4,162.6 397.65,216.1 397.9,216.1 398.15,216.1 398.4,178.9 398.65,157.3 398.9,216.1 399.15,174.1 399.4,172.9 399.65,159.9 399.9,168.9 400.15,160.5 400.4,216.1 400.65,216.1 400.9,211.1 401.15,216.1 401.4,168.3 401.65,201.9 401.9,165.9 402.15,216.1 402.4,216.1 402.65,216.1 402.9,164.5 403.15,216.1 403.4,216.1 403.65,161.6 403.9,216.1 404.15,216.1 404.4,161.1 404.65,216.1 404.9,164.2 405.15,216.1 405.4,216.1 405.65,189.7 405.9,179.4 406.15,216.1 406.4,162.1 406.65,216.1 406.9,216.1 407.15,182.5 407.4,216.1 407.65,216.1 407.9,216.1 408.15,216.1 408.4,174 408.65,216.1 408.9,216.1 409.15,162 409.4,216.1 409.65,216.1 409.9,156.4 410.15,179.5 410.4,216.1 410.65,173.8 410.9,172.7 411.15,216.1 411.4,169.6 411.65,216.1 411.9,216.1 412.15,169.7 412.4,170.1 412.65,174.2 412.9,175.6 413.15,216.1 413.4,216.1 413.65,216.1 413.9,166.9 414.15,173.4 414.4,160.4 414.65,176.2 414.9,216.1 415.15,216.1 415.4,216.1 415.65,216.1 415.9,155.4 416.15,216.1 416.4,216.1 416.65,216.1 416.9,167.3 417.15,185 417.4,216.1 417.65,167.7 417.9,216.1 418.15,176.1 418.4,160.9 418.65,216.1 418.9,216.1 419.15,173.3 419.4,168.9 419.65,168.4 419.9,216.1 420.15,176.5 420.4,191.4 420.65,166.1 420.9,216.1 421.15,216.1 421.4,216.1 421.65,216.1 421.9,216.1 422.15,177.4 422.4,164 422.65,216.1 422.9,159.1 423.15,216.1 423.4,163.9 423.65,171 423.9,216.1 424.15,216.1 424.4,216.1 424.65,173.4 424.9,159.7 425.15,177.9 425.4,160 425.65,199.2 425.9,216.1 426.15,185.9 426.4,216.1 426.65,176.1 426.9,159.6 427.15,185.4 427.4,216.1 427.65,194.4 427.9,166.5 428.15,216.1 428.4,216.1 428.65,216.1 428.9,161.3 429.15,216.1 429.4,163.6 429.65,208.1 429.9,216.1 430.15,180.4 430.4,165.7 430.65,216.1 430.9,216.1 431.15,216.1 431.4,216.1 431.65,164.7 431.9,216.1 432.15,216.1 432.4,216.1 432.65,216.1 432.9,216.1 433.15,216.1 433.4,175.5 433.65,216.1 433.9,157 434.15,160.6 434.4,216.1 434.65,159.6 434.9,187.4 435.15,174.3 435.4,216.1 435.65,171.9 435.9,165 436.15,169.9 436.4,174.4 436.65,165.3 436.9,169.2 437.15,216.1 437.4,216.1 437.65,172.8 437.9,216.1 438.15,158.1 438.4,170.9 438.65,192.2 438.9,177.7 439.15,171.6 439.4,216.1 439.65,216.1 439.9,216.1 440.15,165.5 440.4,177.7 440.65,216.1 440.9,165.2 441.15,184.1 441.4,216.1 441.65,216.1 441.9,159 442.15,164.6 442.4,170.7 442.65,170.7 442.9,193 443.15,191.5 443.4,160.5 443.65,216.1 443.9,216.1 444.15,165 444.4,216.1 444.65,216.1 444.9,216.1 445.15,195.4 445.4,216.1 445.65,216.1 445.9,216.1 446.15,180 446.4,167.9 446.65,162.3 446.9,176.4 447.15,216.1 447.4,216.1 447.65,216.1 447.9,157.9 448.15,161.1 448.4,163.5 448.65,167.9 448.9,216.1 449.15,163.3 449.4,201.7 449.65,216.1 449.9,216.1 450.15,174.7 450.4,216.1 450.65,160.1 450.9,162.1 451.15,166.6 451.4,169.9 451.65,166 451.9,216.1 452.15,216.1 452.4,179.8 452.65,216.1 452.9,216.1 453.15,173.8 453.4,216.1 453.65,216.1 453.9,166.2 454.15,163.5 454.4,216.1 454.65,192.8 454.9,174.8 455.15,216.1 455.4,177.6 455.65,216.1 455.9,216.1 456.15,173 456.4,188.2 456.65,158.8 456.9,216.1 457.15,216.1 457.4,175.6 457.65,170 457.9,174.8 458.15,162.4 458.4,173.8 458.65,165.3 458.9,216.1 459.15,164.6 459.4,172 459.65,216.1 459.9,163.9 460.15,166 460.4,216.1 460.65,175.1 460.9,162.2 461.15,216.1 461.4,161.9 461.65,216.1 461.9,162.8 462.15,175.3 462.4,216.1 462.65,188 462.9,216.1 463.15,174.8 463.4,216.1 463.65,164.5 463.9,175.8 464.15,188.7 464.4,216.1 464.65,216.1 464.9,216.1 465.15,176.2 465.4,216.1 465.65,216.1 465.9,216.1 466.15,164.2 466.4,163.1 466.65,216.1 466.9,216.1 467.15,216.1 467.4,216.1 467.65,172.5 467.9,157.9 468.15,216.1 468.4,168.3 468.65,216.1 468.9,160.2 469.15,157.3 469.4,184.2 469.65,172.6 469.9,158.9 470.15,172 470.4,216.1 470.65,173.5 470.9,216.1 471.15,160.8 471.4,171.8 471.65,163.2 471.9,166.7 472.15,168.9 472.4,216.1 472.65,169.4 472.9,202.2 473.15,216.1 473.4,155.5 473.65,216.1 473.9,177.8 474.15,216.1 474.4,216.1 474.65,181.2 474.9,179 475.15,164.2 475.4,216.1 475.65,165.7 475.9,216.1 476.15,164.2 476.4,216.1 476.65,216.1 476.9,204 477.15,216.1 477.4,216.1 477.65,216.1 477.9,165.9 478.15,216.1 478.4,163.8 478.65,169.6 478.9,216.1 479.15,216.1 479.4,169.5 479.65,216.1 479.9,216.1 480.15,171 480.4,164.2 480.65,163.9 480.9,216.1 481.15,216.1 481.4,216.1 481.65,202.8 481.9,173.4 482.15,159.7 482.4,216.1 482.65,216.1 482.9,166.2 483.15,216.1 483.4,216.1 483.65,185.5 483.9,186.3 484.15,216.1 484.4,216.1 484.65,216.1 484.9,216.1 485.15,216.1 485.4,173.5 485.65,158.5 485.9,176.7 486.15,163.2 486.4,166.3 486.65,158 486.9,216.1 487.15,216.1 487.4,216.1 487.65,171.2 487.9,167.1 488.15,216.1 488.4,216.1 488.65,216.1 488.9,216.1 489.15,169.1 489.4,216.1 489.65,165.9 489.9,216.1 490.15,168.6 490.4,167.7 490.65,168.5 490.9,165.3 491.15,216.1 491.4,169.9 491.65,216.1 491.9,216.1 492.15,216.1 492.4,174.3 492.65,216.1 492.9,163.5 493.15,216.1 493.4,216.1 493.65,216.1 493.9,166.2 494.15,216.1 494.4,175.6 494.65,173.5 494.9,216.1 495.15,216.1 495.4,167.5 495.65,168.6 495.9,216.1 496.15,172.9 496.4,181.4 496.65,164 496.9,216.1 497.15,216.1 497.4,164.1 497.65,216.1 497.9,216.1 498.15,177.1 498.4,182.8 498.65,216.1 498.9,187.3 499.15,216.1 499.4,169.3 499.65,216.1 499.9,181.5 500.15,168.3 500.4,178 500.65,216.1 500.9,216.1 501.15,216.1 501.4,216.1 501.65,216.1 501.9,216.1 502.15,216.1 502.4,216.1 502.65,163.5 502.9,216.1 503.15,216.1 503.4,186.3 503.65,166.3 503.9,195.4 504.15,174 504.4,216.1 504.65,167.5 504.9,169.4 505.15,164.2 505.4,173.1 505.65,157.9 505.9,164 506.15,163.1 506.4,162.2 506.65,216.1 506.9,167.2 507.15,164.9 507.4,165 507.65,216.1 507.9,216.1 508.15,216.1 508.4,216.1 508.65,172.5 508.9,216.1 509.15,178 509.4,179.1 509.65,196.8 509.9,216.1 510.15,216.1 510.4,162.3 510.65,216.1 510.9,173.3 511.15,216.1 511.4,216.1 511.65,189.7 511.9,157.3 512.15,168.7 512.4,165.4 512.65,164.6 512.9,162.6 513.15,168.4 513.4,159.7 513.65,169.6 513.9,216.1 514.15,174 514.4,173.1 514.65,158.4 514.9,216.1 515.15,216.1 515.4,171.3 515.65,169.7 515.9,174.7 516.15,216.1 516.4,172.1 516.65,167.5 516.9,216.1 517.15,173.2 517.4,169 517.65,168.2 517.9,156.7 518.15,216.1 518.4,162.5 518.65,162.8 518.9,216.1 519.15,159.7 519.4,216.1 519.65,164.1 519.9,178.6 520.15,169.3 520.4,159.9 520.65,157.2 520.9,161.5 521.15,160.4 521.4,162.4 521.65,156.4 521.9,158.4 522.15,216.1 522.4,153.8 522.65,168 522.9,202.5 523.15,167.6 523.4,160.8 523.65,161 523.9,168 524.15,155.3 524.4,159.7 524.65,156.6 524.9,151.5 525.15,156 525.4,177.5 525.65,163.3 525.9,159 526.15,154.6 526.4,151.9 526.65,156.9 526.9,154.6 527.15,152.2 527.4,151 527.65,150 527.9,150 528.15,155.7 528.4,151 528.65,155.2 528.9,151.9 529.15,149.8 529.4,149.3 529.65,149.8 529.9,150.6 530.15,146.1 530.4,147.1 530.65,152.3 530.9,144.9 531.15,146.5 531.4,151.9 531.65,145.8 531.9,146.4 532.15,146.2 532.4,147.9 532.65,146.5 532.9,144.4 533.15,143.2 533.4,143.2 533.65,141.9 533.9,144.2 534.15,145.6 534.4,145 534.65,142.9 534.9,142 535.15,141.6 535.4,141.3 535.65,140.3 535.9,140.1 536.15,139.2 536.4,138.7 536.65,138.8 536.9,139.8 537.15,140.4 537.4,139.6 537.65,137.7 537.9,138.8 538.15,139.1 538.4,138.2 538.65,137.3 538.9,135.7 539.15,135 539.4,136 539.65,135.6 539.9,135.6 540.15,137.7 540.4,135.6 540.65,135.5 540.9,134.9 541.15,134.8 541.4,133.8 541.65,132.7 541.9,132.2 542.15,131.1 542.4,130.8 542.65,131.1 542.9,131.1 543.15,131.3 543.4,130.5 543.65,131.3 543.9,131.2 544.15,130.7 544.4,129.8 544.65,128.4 544.9,127.7 545.15,127.2 545.4,127.4 545.65,126.3 545.9,126.5 546.15,127.1 546.65,126.4 547.15,125.5 547.65,123.1 548.15,122 548.65,121.5 549.15,121.4 549.65,120.7 550.15,119.6 550.65,117.6 551.15,115.8 551.65,115 552.15,114.8 552.65,114.1 553.15,112.7 553.65,110.6 554.15,108.9 554.65,107.9 555.15,107.6 555.65,107 556.15,105.6 556.65,103.6 557.15,101.8 557.65,100.9 558.15,100.7 558.65,100.2 559.15,98.8 559.65,96.7 560.15,95 560.65,94.1 561.15,93.8 561.65,93.2 562.15,91.9 562.65,89.9 563.15,88.3 563.65,87.6 564.15,87.6 564.65,87.4 565.15,86.4 565.65,84.8 566.15,83.5 566.65,83.1 567.15,83.3 567.65,83.3 568.15,82.5 568.65,81.1 569.15,80 569.65,79.8 570.15,80.1 570.65,80.2 571.15,79.5 571.65,78.5 572.15,77.7 572.65,77.6 573.15,77.8 573.65,77.9 574.15,77.4 574.65,76.6 575.15,76 575.65,75.9 576.15,76.1 576.65,76 577.15,75.7 577.65,75.6 578.15,75.6 578.65,75.6 579.15,75.6 579.65,75.7 580.15,75.7 580.65,75.7 581.15,75.6 581.65,75.7 582.15,75.7 582.65,75.8 583.15,75.8 583.65,75.8 584.15,75.8 584.65,75.8 585.15,75.9 585.65,76.1 586.15,76.1 586.65,76.1 587.15,76 587.65,76.1 588.15,76.3 588.65,76.4 589.15,76.4 589.65,76.4 590.15,76.4 590.65,76.4 591.15,76.4 591.65,76.4 592.15,76.4 592.65,76.4 593.15,76.4 593.65,76.4 594.15,76.4 594.65,76.4 595.15,76.4 595.65,76.4 596.15,76.4 596.65,76.4 597.15,76.4 597.65,76.4 598.15,76.4 598.65,76.3 599.15,76.3 599.65,76.3 600.15,76.3 600.65,76.3 601.15,76.3 601.65,76.3 602.15,76.3 602.65,76.3 603.15,76.3 603.65,76.3 604.15,76.3 604.65,76.3 605.15,76.3 605.65,76.3 606.15,76.3 606.65,76.3 607.15,76.3 607.65,76.2 608.15,76.2 608.65,76.2 609.15,76.2 609.65,76.2 610.15,76.2 610.65,76.2 611.15,76.2 611.65,76.2 612.15,76.2 612.65,76.2 613.15,76.2 613.65,76.2 614.15,76.2 614.65,76.2 615.15,76.2 615.65,76.2 616.15,76.1 616.65,76.1 617.15,76.1 617.65,76.1 618.15,76.1 618.65,76.1 619.15,76.1 619.65,76.1 620.15,76.1 620.65,76.1 621.15,76.1 621.65,76.1 622.15,76.1 622.65,76.1 623.15,76.1 623.65,76.1 624.15,76.1 624.65,76.1 625.15,76.1 625.65,76.1 626.15,76.1 626.65,76.2 627.15,76.2 627.65,76.3 628.15,76.3 628.65,76.3 629.15,76.3 629.65,76.3 630.15,76.5 630.65,77.1 631.15,77.4 631.65,77.2 632.15,77 632.65,77.8 633.15,79.2 633.65,80.6 634.15,81.1 634.65,81.2 635.15,81.5 635.65,82.7 636.15,84.4 636.65,85.8 637.15,86.3 637.65,86.3 638.15,86.5 638.65,87.6 639.15,89.4 639.65,90.9 640.15,91.6 640.65,91.6 641.15,92 641.65,93.3 642.15,95.1 642.65,96.7 643.15,97.4 643.65,97.5 644.15,97.9 644.65,99.1 645.15,100.9 645.65,102.5 646.15,103.2 646.65,103.4 647.15,103.7 647.65,105 648.15,106.9 648.65,108.5 649.15,109.2 649.65,109.4 650.15,109.7 650.65,111 651.15,113 651.65,114.4 652.15,115.1 652.65,115.2 653.15,115.6 653.65,117 654.15,118.8 654.65,120.2 655.15,120.8 655.65,121 656.15,121.1 656.65,122.3 657.15,124.3 657.65,125.5 658.15,125.5 658.55,126.1 658.8,125.9 659.05,126.2 659.3,126.4 659.55,126.8 659.8,127.8 660.05,128.3 660.3,128.9 660.55,129.7 660.8,131 661.05,130.6 661.3,130.7 661.55,130.5 661.8,130.1 662.05,130.9 662.3,130.5 662.55,131.5 662.8,131.8 663.05,132.8 663.3,133.6 663.55,133.9 663.8,134 664.05,135.6 664.3,134.8 664.55,136 664.8,134.9 665.05,134.1 665.3,135.6 665.55,135.8 665.8,136.7 666.05,137.4 666.3,137.5 666.55,137.9 666.8,139.5 667.05,140 667.3,139.2 667.55,138.5 667.8,138.6 668.05,138.1 668.3,138.8 668.55,139.9 668.8,140.1 669.05,142.9 669.3,140.8 669.55,143.1 669.8,143.7 670.05,143.6 670.3,142.6 670.55,143.5 670.8,145 671.05,140.3 671.3,143.7 671.55,146 671.8,147.2 672.05,145.5 672.3,148.8 672.55,147.8 672.8,150.1"/>
<polyline clip-path="url(#cb)" fill="none" stroke="#1A6FDF" stroke-width="0.5" stroke-linejoin="round" points="369.65,216.1 369.9,167.4 370.15,168.2 370.4,216.1 370.65,190.9 370.9,216.1 371.15,179.9 371.4,166.2 371.65,216.1 371.9,216.1 372.15,186.3 372.4,216.1 372.65,165.6 372.9,216.1 373.15,216.1 373.4,216.1 373.65,216.1 373.9,216.1 374.15,172.9 374.4,216.1 374.65,216.1 374.9,216.1 375.15,168.4 375.4,164.6 375.65,164.8 375.9,216.1 376.15,216.1 376.4,193.3 376.65,168.4 376.9,177.3 377.15,216.1 377.4,172.5 377.65,169.6 377.9,216.1 378.15,216.1 378.4,167.8 378.65,172.7 378.9,179.5 379.15,169.7 379.4,216.1 379.65,216.1 379.9,169.6 380.15,216.1 380.4,216.1 380.65,153.3 380.9,216.1 381.15,164.9 381.4,166 381.65,167.1 381.9,174.9 382.15,216.1 382.4,165.4 382.65,174.1 382.9,166.9 383.15,165.4 383.4,156.2 383.65,216.1 383.9,175.7 384.15,156.2 384.4,216.1 384.65,165.3 384.9,169.1 385.15,180.5 385.4,216.1 385.65,216.1 385.9,216.1 386.15,216.1 386.4,216.1 386.65,216.1 386.9,177.1 387.15,216.1 387.4,216.1 387.65,216.1 387.9,216.1 388.15,216.1 388.4,216.1 388.65,216.1 388.9,216.1 389.15,192.9 389.4,216.1 389.65,197.6 389.9,216.1 390.15,166.4 390.4,216.1 390.65,179.5 390.9,216.1 391.15,216.1 391.4,216.1 391.65,161.6 391.9,166.8 392.15,165.4 392.4,181.5 392.65,175.7 392.9,216.1 393.15,163.6 393.4,164.8 393.65,216.1 393.9,207 394.15,216.1 394.4,172.3 394.65,168.5 394.9,160.4 395.15,175.7 395.4,181.1 395.65,169.7 395.9,216.1 396.15,216.1 396.4,178.9 396.65,162.1 396.9,162.7 397.15,175.8 397.4,164.5 397.65,175.4 397.9,216.1 398.15,216.1 398.4,172.5 398.65,184 398.9,190.2 399.15,216.1 399.4,176.8 399.65,216.1 399.9,171.9 400.15,216.1 400.4,216.1 400.65,181.2 400.9,216.1 401.15,187.1 401.4,157.7 401.65,216.1 401.9,166.2 402.15,216.1 402.4,165.8 402.65,216.1 402.9,216.1 403.15,216.1 403.4,165.8 403.65,170.9 403.9,216.1 404.15,216.1 404.4,216.1 404.65,216.1 404.9,170.3 405.15,216.1 405.4,186.6 405.65,184 405.9,176.1 406.15,216.1 406.4,159.6 406.65,216.1 406.9,216.1 407.15,216.1 407.4,216.1 407.65,162.8 407.9,174.2 408.15,175.8 408.4,167.6 408.65,166.8 408.9,216.1 409.15,196.9 409.4,216.1 409.65,175.5 409.9,179.5 410.15,201.7 410.4,170.8 410.65,216.1 410.9,156.3 411.15,165.6 411.4,216.1 411.65,216.1 411.9,162.3 412.15,164.8 412.4,197.8 412.65,216.1 412.9,216.1 413.15,216.1 413.4,216.1 413.65,216.1 413.9,216.1 414.15,216.1 414.4,170.6 414.65,216.1 414.9,171.3 415.15,216.1 415.4,216.1 415.65,216.1 415.9,178.1 416.15,216.1 416.4,216.1 416.65,182.2 416.9,175.1 417.15,216.1 417.4,216.1 417.65,201.9 417.9,170 418.15,216.1 418.4,172 418.65,172.5 418.9,167.3 419.15,160.1 419.4,216.1 419.65,173.4 419.9,216.1 420.15,162.7 420.4,216.1 420.65,216.1 420.9,216.1 421.15,216.1 421.4,177.3 421.65,216.1 421.9,216.1 422.15,171.7 422.4,216.1 422.65,216.1 422.9,216.1 423.15,183.6 423.4,216.1 423.65,163.6 423.9,216.1 424.15,216.1 424.4,161.1 424.65,216.1 424.9,167.8 425.15,168.4 425.4,216.1 425.65,216.1 425.9,216.1 426.15,216.1 426.4,170.2 426.65,216.1 426.9,216.1 427.15,216.1 427.4,216.1 427.65,160.4 427.9,216.1 428.15,216.1 428.4,171 428.65,161.3 428.9,216.1 429.15,174.1 429.4,216.1 429.65,174.7 429.9,166.6 430.15,195.7 430.4,171.7 430.65,216.1 430.9,216.1 431.15,166.2 431.4,168.8 431.65,163.6 431.9,168.9 432.15,181 432.4,173.8 432.65,216.1 432.9,216.1 433.15,216.1 433.4,161.3 433.65,216.1 433.9,216.1 434.15,216.1 434.4,216.1 434.65,216.1 434.9,216.1 435.15,216.1 435.4,171.7 435.65,189.7 435.9,216.1 436.15,216.1 436.4,216.1 436.65,165.3 436.9,161.9 437.15,216.1 437.4,216.1 437.65,216.1 437.9,216.1 438.15,216.1 438.4,160.1 438.65,157 438.9,170.3 439.15,216.1 439.4,158.8 439.65,216.1 439.9,167.5 440.15,216.1 440.4,179.8 440.65,216.1 440.9,174.5 441.15,161.8 441.4,216.1 441.65,216.1 441.9,216.1 442.15,216.1 442.4,157.4 442.65,169.9 442.9,184.3 443.15,166.4 443.4,216.1 443.65,174 443.9,216.1 444.15,188.5 444.4,216.1 444.65,216.1 444.9,216.1 445.15,162.5 445.4,216.1 445.65,158.6 445.9,216.1 446.15,216.1 446.4,159.9 446.65,216.1 446.9,176.9 447.15,216.1 447.4,216.1 447.65,192.5 447.9,216.1 448.15,182.3 448.4,165.5 448.65,216.1 448.9,216.1 449.15,169.7 449.4,171.1 449.65,216.1 449.9,166.5 450.15,167.7 450.4,216.1 450.65,216.1 450.9,172.3 451.15,216.1 451.4,216.1 451.65,216.1 451.9,216.1 452.15,205.4 452.4,159.1 452.65,189.7 452.9,216.1 453.15,216.1 453.4,163.8 453.65,166.8 453.9,216.1 454.15,193.1 454.4,216.1 454.65,156.5 454.9,216.1 455.15,174.1 455.4,216.1 455.65,194.8 455.9,216.1 456.15,163.5 456.4,165.7 456.65,178.6 456.9,172.6 457.15,164.2 457.4,216.1 457.65,172.3 457.9,186.6 458.15,216.1 458.4,216.1 458.65,216.1 458.9,216.1 459.15,170.5 459.4,216.1 459.65,216.1 459.9,216.1 460.15,173.6 460.4,216.1 460.65,216.1 460.9,216.1 461.15,166.5 461.4,216.1 461.65,216.1 461.9,216.1 462.15,174.7 462.4,165.4 462.65,216.1 462.9,192.2 463.15,171.3 463.4,175.3 463.65,181 463.9,164.7 464.15,216.1 464.4,216.1 464.65,216.1 464.9,216.1 465.15,216.1 465.4,165.7 465.65,216.1 465.9,183.3 466.15,170.9 466.4,216.1 466.65,216.1 466.9,216.1 467.15,165.2 467.4,216.1 467.65,177.4 467.9,167.1 468.15,160.8 468.4,216.1 468.65,216.1 468.9,216.1 469.15,216.1 469.4,216.1 469.65,216.1 469.9,216.1 470.15,216.1 470.4,167.6 470.65,216.1 470.9,216.1 471.15,216.1 471.4,173.6 471.65,216.1 471.9,216.1 472.15,216.1 472.4,183.2 472.65,169.9 472.9,216.1 473.15,216.1 473.4,196.4 473.65,216.1 473.9,216.1 474.15,172.7 474.4,185.1 474.65,216.1 474.9,216.1 475.15,216.1 475.4,216.1 475.65,178.8 475.9,216.1 476.15,157.3 476.4,216.1 476.65,216.1 476.9,194.4 477.15,166.6 477.4,180.9 477.65,216.1 477.9,216.1 478.15,216.1 478.4,216.1 478.65,216.1 478.9,216.1 479.15,166.8 479.4,216.1 479.65,216.1 479.9,172.5 480.15,163.8 480.4,216.1 480.65,194.1 480.9,159.2 481.15,216.1 481.4,162 481.65,216.1 481.9,179.2 482.15,216.1 482.4,216.1 482.65,166.1 482.9,216.1 483.15,195.8 483.4,169.9 483.65,216.1 483.9,216.1 484.15,166.6 484.4,184.1 484.65,167.5 484.9,216.1 485.15,216.1 485.4,216.1 485.65,216.1 485.9,166.1 486.15,161.3 486.4,216.1 486.65,172.3 486.9,176.3 487.15,180.3 487.4,164.9 487.65,216.1 487.9,169.8 488.15,216.1 488.4,216.1 488.65,174.4 488.9,214.5 489.15,216.1 489.4,171.9 489.65,166.9 489.9,168.8 490.15,216.1 490.4,216.1 490.65,216.1 490.9,216.1 491.15,170.7 491.4,216.1 491.65,167.2 491.9,216.1 492.15,157.7 492.4,216.1 492.65,178.1 492.9,173.6 493.15,216.1 493.4,166.5 493.65,170.4 493.9,216.1 494.15,168.3 494.4,216.1 494.65,216.1 494.9,173.9 495.15,156.8 495.4,164.9 495.65,167.9 495.9,165.2 496.15,171.6 496.4,216.1 496.65,194.8 496.9,216.1 497.15,159.1 497.4,170.8 497.65,175.4 497.9,173.9 498.15,187 498.4,216.1 498.65,160.6 498.9,186.6 499.15,180.7 499.4,175.1 499.65,216.1 499.9,216.1 500.15,216.1 500.4,216.1 500.65,216.1 500.9,162.6 501.15,216.1 501.4,167.5 501.65,216.1 501.9,199 502.15,216.1 502.4,216.1 502.65,176.7 502.9,216.1 503.15,169.1 503.4,160.9 503.65,163.9 503.9,162.5 504.15,170.9 504.4,160.1 504.65,164.3 504.9,155.1 505.15,216.1 505.4,164.3 505.65,174 505.9,171.1 506.15,216.1 506.4,168.6 506.65,163.5 506.9,162 507.15,158.1 507.4,216.1 507.65,167.9 507.9,163.2 508.15,155.3 508.4,163.8 508.65,157.7 508.9,165.5 509.15,161.8 509.4,216.1 509.65,171 509.9,173.9 510.15,165.8 510.4,158.4 510.65,172 510.9,162.2 511.15,196.2 511.4,162.1 511.65,168.3 511.9,173.5 512.15,165 512.4,165.7 512.65,167.9 512.9,170.8 513.15,157.9 513.4,159.9 513.65,151.2 513.9,168.2 514.15,162.6 514.4,156.6 514.65,162.7 514.9,175.3 515.15,157.4 515.4,151.7 515.65,163.6 515.9,165.6 516.15,156.4 516.4,160.7 516.65,163.4 516.9,158.8 517.15,156.6 517.4,154.2 517.65,153.1 517.9,159.6 518.15,154 518.4,151.4 518.65,148.3 518.9,153.8 519.15,154.1 519.4,150.7 519.65,152.2 519.9,153.9 520.15,154.9 520.4,154.4 520.65,146.8 520.9,156.2 521.15,152.2 521.4,151.7 521.65,151.4 521.9,151.4 522.15,149.2 522.4,150 522.65,158.6 522.9,149.6 523.15,147.2 523.4,147.2 523.65,153.1 523.9,145.8 524.15,146.7 524.4,149.1 524.65,145.8 524.9,147 525.15,146.8 525.4,146 525.65,149.2 525.9,146.1 526.15,147.4 526.4,143.5 526.65,149.5 526.9,144.5 527.15,144.4 527.4,143.1 527.65,142.2 527.9,141.9 528.15,143.3 528.4,142.2 528.65,143.4 528.9,141.4 529.15,140.3 529.4,142.9 529.65,141.6 529.9,140.2 530.15,139 530.4,139.1 530.65,140.4 530.9,140.1 531.15,138.7 531.4,137.5 531.65,139.2 531.9,138.6 532.15,138.5 532.4,137.5 532.65,136 532.9,136.5 533.15,137.2 533.4,136 533.65,136.1 533.9,135 534.15,134.5 534.4,135.3 534.65,134.9 534.9,133.8 535.15,133.6 535.4,133.5 535.65,133.7 535.9,132.4 536.15,132 536.4,131.6 536.65,132.1 536.9,132.3 537.15,130.9 537.4,130.2 537.65,131.4 537.9,130.5 538.15,129.9 538.4,129.5 538.65,128.8 538.9,128.4 539.15,127.7 539.4,128 539.65,127.5 539.9,126.7 540.15,127.4 540.4,126.8 540.65,126.9 541.15,125.5 541.65,124.6 542.15,123.7 542.65,122.6 543.15,122.5 543.65,121.6 544.15,120.5 544.65,119.3 545.15,118 545.65,117.2 546.15,116.5 546.65,115.8 547.15,114.6 547.65,113.1 548.15,111.8 548.65,110.7 549.15,110.1 549.65,109.3 550.15,108.1 550.65,106.6 551.15,105.2 551.65,104.3 552.15,103.5 552.65,102.7 553.15,101.5 553.65,100 554.15,98.7 554.65,97.7 555.15,97 555.65,96.1 556.15,94.8 556.65,93.2 557.15,91.8 557.65,90.8 558.15,90.1 558.65,89.3 559.15,88.3 559.65,87 560.15,86 560.65,85.3 561.15,85 561.65,84.6 562.15,83.8 562.65,82.8 563.15,81.9 563.65,81.4 564.15,81.3 564.65,81.1 565.15,80.5 565.65,79.7 566.15,79 566.65,78.7 567.15,78.6 567.65,78.5 568.15,78 568.65,77.5 569.15,77 569.65,76.8 570.15,76.7 570.65,76.6 571.15,76.2 571.65,75.8 572.15,75.5 572.65,75.5 573.15,75.5 573.65,75.5 574.15,75.5 574.65,75.5 575.15,75.5 575.65,75.5 576.15,75.6 576.65,75.6 577.15,75.6 577.65,75.6 578.15,75.6 578.65,75.7 579.15,75.7 579.65,75.8 580.15,75.8 580.65,75.8 581.15,75.8 581.65,75.9 582.15,76 582.65,76.1 583.15,76.1 583.65,76.2 584.15,76.2 584.65,76.2 585.15,76.3 585.65,76.3 586.15,76.3 586.65,76.3 587.15,76.3 587.65,76.3 588.15,76.3 588.65,76.3 589.15,76.3 589.65,76.3 590.15,76.3 590.65,76.3 591.15,76.3 591.65,76.3 592.15,76.3 592.65,76.3 593.15,76.3 593.65,76.3 594.15,76.3 594.65,76.2 595.15,76.2 595.65,76.2 596.15,76.2 596.65,76.2 597.15,76.2 597.65,76.2 598.15,76.2 598.65,76.2 599.15,76.2 599.65,76.2 600.15,76.2 600.65,76.2 601.15,76.2 601.65,76.2 602.15,76.2 602.65,76.1 603.15,76.1 603.65,76.1 604.15,76.1 604.65,76.1 605.15,76.1 605.65,76.1 606.15,76.1 606.65,76.1 607.15,76.1 607.65,76.1 608.15,76.1 608.65,76.1 609.15,76.1 609.65,76.1 610.15,76.1 610.65,76.1 611.15,76.1 611.65,76.1 612.15,76 612.65,76 613.15,76 613.65,76 614.15,76 614.65,76 615.15,76 615.65,76 616.15,76 616.65,76 617.15,76 617.65,76 618.15,76 618.65,76 619.15,76 619.65,76 620.15,76 620.65,76 621.15,76 621.65,76 622.15,76 622.65,76 623.15,76 623.65,76.1 624.15,76.1 624.65,76.2 625.15,76.2 625.65,76.2 626.15,76.2 626.65,76.3 627.15,76.4 627.65,76.7 628.15,77 628.65,77.2 629.15,77.4 629.65,78 630.15,78.9 630.65,79.9 631.15,80.6 631.65,81.2 632.15,81.8 632.65,82.8 633.15,84 633.65,85.1 634.15,85.8 634.65,86.2 635.15,86.8 635.65,87.8 636.15,89.1 636.65,90.2 637.15,91 637.65,91.6 638.15,92.3 638.65,93.4 639.15,94.8 639.65,96 640.15,96.9 640.65,97.5 641.15,98.1 641.65,99.2 642.15,100.6 642.65,101.8 643.15,102.7 643.65,103.3 644.15,104 644.65,105.2 645.15,106.5 645.65,107.8 646.15,108.7 646.65,109.3 647.15,110.1 647.65,111.1 648.15,112.6 648.65,113.8 649.15,114.8 649.65,115.2 650.15,116.1 650.65,117.1 651.15,118.4 651.65,119.6 652.15,120.5 652.65,121 653.15,121.5 653.65,122.4 654.15,123.7 654.65,124.7 655.15,125.3 655.65,125.8 655.9,126.1 656.15,126.1 656.4,126.5 656.65,127.4 656.9,128.1 657.15,128.3 657.4,128.7 657.65,130.2 657.9,129.6 658.15,130.1 658.4,130.2 658.65,130.1 658.9,130.8 659.15,130.9 659.4,131.6 659.65,131.7 659.9,132.8 660.15,132.9 660.4,133.4 660.65,133.4 660.9,134.1 661.15,133.9 661.4,134.8 661.65,133 661.9,134.7 662.15,135.7 662.4,136 662.65,135.2 662.9,135.6 663.15,136.9 663.4,138.1 663.65,138.5 663.9,138.3 664.15,137.5 664.4,139.4 664.65,138 664.9,138.5 665.15,140.1 665.4,139.5 665.65,139.3 665.9,140.4 666.15,141.1 666.4,142.5 666.65,139.2 666.9,140.9 667.15,140.9 667.4,142.8 667.65,141.9 667.9,142.8 668.15,144.4 668.4,143.9 668.65,145.2 668.9,146.2 669.15,145.5 669.4,144.3 669.65,145.1 669.9,146.1 670.15,146.7 670.4,148.8 670.65,145.1 670.9,147.1 671.15,146.9 671.4,148 671.65,147.9 671.9,150.3 672.15,148 672.4,151.9 672.65,153 672.9,153.7"/>
<polyline clip-path="url(#cb)" fill="none" stroke="#37AD6B" stroke-width="0.5" stroke-linejoin="round" points="369.65,216.1 369.9,179.3 370.15,216.1 370.4,169.5 370.65,175 370.9,160.9 371.15,176.3 371.4,163 371.65,216.1 371.9,199.8 372.15,216.1 372.4,216.1 372.65,216.1 372.9,216.1 373.15,175.4 373.4,161.7 373.65,216.1 373.9,216.1 374.15,164.1 374.4,171.1 374.65,216.1 374.9,172.9 375.15,216.1 375.4,216.1 375.65,216.1 375.9,170.1 376.15,176.4 376.4,178.4 376.65,216.1 376.9,216.1 377.15,169.8 377.4,181.5 377.65,160 377.9,216.1 378.15,165.6 378.4,168.7 378.65,187.5 378.9,216.1 379.15,216.1 379.4,171.6 379.65,168.1 379.9,171.9 380.15,216.1 380.4,216.1 380.65,216.1 380.9,216.1 381.15,216.1 381.4,201.9 381.65,172.9 381.9,216.1 382.15,167.5 382.4,216.1 382.65,216.1 382.9,216.1 383.15,216.1 383.4,181.4 383.65,216.1 383.9,216.1 384.15,191.4 384.4,216.1 384.65,216.1 384.9,166.3 385.15,162.2 385.4,161.8 385.65,216.1 385.9,216.1 386.15,216.1 386.4,216.1 386.65,216.1 386.9,216.1 387.15,180.4 387.4,216.1 387.65,177 387.9,216.1 388.15,172.3 388.4,216.1 388.65,159.8 388.9,216.1 389.15,216.1 389.4,216.1 389.65,162.8 389.9,216.1 390.15,216.1 390.4,178.3 390.65,216.1 390.9,160.3 391.15,169.8 391.4,216.1 391.65,175.5 391.9,216.1 392.15,216.1 392.4,171.3 392.65,216.1 392.9,171.1 393.15,216.1 393.4,162.8 393.65,170.3 393.9,216.1 394.15,216.1 394.4,216.1 394.65,203.1 394.9,172.2 395.15,179.9 395.4,216.1 395.65,216.1 395.9,175.1 396.15,177.7 396.4,159.8 396.65,216.1 396.9,216.1 397.15,216.1 397.4,179.2 397.65,162.7 397.9,216.1 398.15,216.1 398.4,168.8 398.65,216.1 398.9,171.4 399.15,216.1 399.4,162 399.65,169.7 399.9,216.1 400.15,160.3 400.4,158.6 400.65,175.3 400.9,176.4 401.15,216.1 401.4,216.1 401.65,166.2 401.9,216.1 402.15,174.7 402.4,216.1 402.65,216.1 402.9,175.4 403.15,167.6 403.4,168.1 403.65,216.1 403.9,162.5 404.15,166.7 404.4,169.5 404.65,166.9 404.9,168.8 405.15,216.1 405.4,216.1 405.65,216.1 405.9,165.8 406.15,216.1 406.4,178.2 406.65,216.1 406.9,216.1 407.15,216.1 407.4,167.8 407.65,183.8 407.9,216.1 408.15,216.1 408.4,216.1 408.65,159.9 408.9,216.1 409.15,172.3 409.4,195.9 409.65,169.2 409.9,181.4 410.15,216.1 410.4,170.2 410.65,162.3 410.9,163.1 411.15,216.1 411.4,163.9 411.65,166.5 411.9,187.7 412.15,166.9 412.4,216.1 412.65,169.6 412.9,216.1 413.15,170.8 413.4,166.2 413.65,216.1 413.9,216.1 414.15,189.1 414.4,216.1 414.65,172.2 414.9,178.3 415.15,156.7 415.4,216.1 415.65,216.1 415.9,174.6 416.15,216.1 416.4,164.6 416.65,216.1 416.9,188.5 417.15,216.1 417.4,195 417.65,216.1 417.9,166.7 418.15,173.8 418.4,216.1 418.65,169.3 418.9,167.8 419.15,216.1 419.4,216.1 419.65,216.1 419.9,170.4 420.15,184.3 420.4,204 420.65,216.1 420.9,216.1 421.15,207.9 421.4,170.8 421.65,202.5 421.9,216.1 422.15,216.1 422.4,173.8 422.65,216.1 422.9,216.1 423.15,216.1 423.4,216.1 423.65,173.2 423.9,186.8 424.15,180.9 424.4,216.1 424.65,216.1 424.9,216.1 425.15,182.4 425.4,175.2 425.65,160.1 425.9,216.1 426.15,216.1 426.4,216.1 426.65,157.9 426.9,173.5 427.15,167.7 427.4,216.1 427.65,216.1 427.9,167.2 428.15,216.1 428.4,216.1 428.65,171.3 428.9,193.9 429.15,216.1 429.4,216.1 429.65,196.6 429.9,216.1 430.15,165.8 430.4,216.1 430.65,179.5 430.9,216.1 431.15,184.1 431.4,166.1 431.65,167.5 431.9,216.1 432.15,213.7 432.4,216.1 432.65,216.1 432.9,216.1 433.15,216.1 433.4,184.8 433.65,161.6 433.9,216.1 434.15,160.1 434.4,216.1 434.65,216.1 434.9,216.1 435.15,184.9 435.4,216.1 435.65,216.1 435.9,161.7 436.15,163.5 436.4,166.2 436.65,175.7 436.9,184.7 437.15,216.1 437.4,216.1 437.65,186.1 437.9,216.1 438.15,216.1 438.4,186.1 438.65,216.1 438.9,216.1 439.15,216.1 439.4,164.6 439.65,216.1 439.9,216.1 440.15,216.1 440.4,170.1 440.65,183.5 440.9,216.1 441.15,216.1 441.4,164.8 441.65,216.1 441.9,179.8 442.15,159.6 442.4,216.1 442.65,177.3 442.9,216.1 443.15,216.1 443.4,216.1 443.65,216.1 443.9,216.1 444.15,181.5 444.4,216.1 444.65,155.6 444.9,216.1 445.15,216.1 445.4,216.1 445.65,216.1 445.9,167.9 446.15,164.5 446.4,167.1 446.65,216.1 446.9,216.1 447.15,161 447.4,163.3 447.65,216.1 447.9,166.3 448.15,216.1 448.4,161.4 448.65,171.4 448.9,216.1 449.15,216.1 449.4,216.1 449.65,193.8 449.9,216.1 450.15,216.1 450.4,216.1 450.65,216.1 450.9,216.1 451.15,164.9 451.4,193.3 451.65,172.5 451.9,216.1 452.15,216.1 452.4,216.1 452.65,216.1 452.9,174.2 453.15,161.7 453.4,216.1 453.65,158.4 453.9,181.5 454.15,168.6 454.4,216.1 454.65,181.9 454.9,174 455.15,163.8 455.4,216.1 455.65,216.1 455.9,216.1 456.15,216.1 456.4,163.7 456.65,178.5 456.9,157.8 457.15,187.4 457.4,168.7 457.65,216.1 457.9,216.1 458.15,216.1 458.4,159.2 458.65,216.1 458.9,216.1 459.15,197.5 459.4,216.1 459.65,161.3 459.9,216.1 460.15,216.1 460.4,216.1 460.65,162.9 460.9,216.1 461.15,164.6 461.4,216.1 461.65,216.1 461.9,166.4 462.15,216.1 462.4,172.8 462.65,216.1 462.9,216.1 463.15,216.1 463.4,216.1 463.65,216.1 463.9,216.1 464.15,216.1 464.4,167.1 464.65,205.3 464.9,216.1 465.15,216.1 465.4,216.1 465.65,170.8 465.9,172.7 466.15,216.1 466.4,162.8 466.65,170.5 466.9,188.3 467.15,216.1 467.4,216.1 467.65,160.4 467.9,164.1 468.15,165.6 468.4,216.1 468.65,216.1 468.9,216.1 469.15,216.1 469.4,216.1 469.65,216.1 469.9,164.8 470.15,216.1 470.4,175.3 470.65,173.4 470.9,216.1 471.15,216.1 471.4,216.1 471.65,216.1 471.9,166.7 472.15,216.1 472.4,156 472.65,163.1 472.9,178.2 473.15,171.5 473.4,186.4 473.65,162.4 473.9,161.7 474.15,216.1 474.4,170.5 474.65,164.2 474.9,216.1 475.15,172 475.4,173.2 475.65,204.6 475.9,216.1 476.15,165.6 476.4,216.1 476.65,168.4 476.9,166.6 477.15,177.3 477.4,216.1 477.65,216.1 477.9,216.1 478.15,216.1 478.4,173.2 478.65,216.1 478.9,163.9 479.15,216.1 479.4,173.4 479.65,216.1 479.9,216.1 480.15,175.7 480.4,216.1 480.65,160.3 480.9,216.1 481.15,216.1 481.4,170.3 481.65,167 481.9,216.1 482.15,175.1 482.4,216.1 482.65,164 482.9,216.1 483.15,216.1 483.4,170.5 483.65,216.1 483.9,177.4 484.15,216.1 484.4,164.9 484.65,183.4 484.9,216.1 485.15,216.1 485.4,216.1 485.65,216.1 485.9,165.2 486.15,163.8 486.4,162.8 486.65,216.1 486.9,216.1 487.15,184.1 487.4,216.1 487.65,216.1 487.9,163.4 488.15,216.1 488.4,216.1 488.65,216.1 488.9,160.3 489.15,216.1 489.4,216.1 489.65,160.9 489.9,216.1 490.15,216.1 490.4,174.6 490.65,180.2 490.9,216.1 491.15,216.1 491.4,164.8 491.65,163.1 491.9,168.7 492.15,216.1 492.4,167.4 492.65,175.2 492.9,216.1 493.15,216.1 493.4,216.1 493.65,180.6 493.9,216.1 494.15,158.8 494.4,216.1 494.65,216.1 494.9,216.1 495.15,162.9 495.4,216.1 495.65,216.1 495.9,216.1 496.15,168.5 496.4,167.9 496.65,156 496.9,181.5 497.15,177.5 497.4,216.1 497.65,176.1 497.9,178.4 498.15,172.6 498.4,216.1 498.65,161.8 498.9,187.9 499.15,216.1 499.4,216.1 499.65,175.3 499.9,166.2 500.15,163.2 500.4,171.4 500.65,158.9 500.9,216.1 501.15,175.1 501.4,164.7 501.65,165.7 501.9,171.4 502.15,216.1 502.4,216.1 502.65,166.3 502.9,216.1 503.15,163.6 503.4,216.1 503.65,175.9 503.9,216.1 504.15,201.8 504.4,163.9 504.65,172.5 504.9,216.1 505.15,155 505.4,177.3 505.65,163.5 505.9,157.7 506.15,216.1 506.4,168.7 506.65,168.3 506.9,160.5 507.15,162.5 507.4,173.4 507.65,193.5 507.9,216.1 508.15,160.3 508.4,157.7 508.65,164.1 508.9,164.5 509.15,157 509.4,170 509.65,166.5 509.9,152.9 510.15,157.7 510.4,160.5 510.65,216.1 510.9,157.3 511.15,164.7 511.4,155.3 511.65,155.5 511.9,157.9 512.15,155 512.4,150.1 512.65,152.6 512.9,157 513.15,154.8 513.4,157.2 513.65,155.8 513.9,160.3 514.15,151.2 514.4,154.3 514.65,152.2 514.9,156.8 515.15,179.1 515.4,155.5 515.65,151.4 515.9,150.8 516.15,148.4 516.4,151.1 516.65,151.6 516.9,149 517.15,150.1 517.4,148.8 517.65,147 517.9,152.9 518.15,146.9 518.4,158.6 518.65,148.9 518.9,149 519.15,147.8 519.4,145.3 519.65,147.8 519.9,147 520.15,146 520.4,147.8 520.65,148.1 520.9,144.6 521.15,144.2 521.4,144.1 521.65,144.4 521.9,145.3 522.15,142.9 522.4,144.4 522.65,142.1 522.9,144 523.15,143 523.4,142.7 523.65,140.1 523.9,141.2 524.15,139.8 524.4,140.9 524.65,138.7 524.9,139.7 525.15,139.1 525.4,139.2 525.65,140.2 525.9,138.1 526.15,138.4 526.4,137 526.65,138.8 526.9,138 527.15,136.4 527.4,136.2 527.65,137.7 527.9,136.6 528.15,136.6 528.4,135.8 528.65,135.2 528.9,135 529.15,135.2 529.4,134.5 529.65,134.1 529.9,134.1 530.15,132.9 530.4,132.9 530.65,133.7 530.9,132.5 531.15,132 531.4,131.6 531.65,131.9 531.9,131.4 532.15,131.3 532.4,130.6 532.65,130 532.9,129.7 533.15,129.4 533.4,129.1 533.65,128.2 533.9,128.2 534.15,128 534.4,128.1 534.65,127.7 534.9,128 535.15,127.1 535.4,126.4 535.65,126.1 536.15,124.9 536.65,124.6 537.15,124 537.65,123.1 538.15,122.7 538.65,121 539.15,119.9 539.65,119.1 540.15,118.4 540.65,117.5 541.15,116.7 541.65,115.3 542.15,114.1 542.65,113.1 543.15,112.5 543.65,111.6 544.15,110.3 544.65,108.9 545.15,107.6 545.65,106.6 546.15,105.9 546.65,105 547.15,103.9 547.65,102.4 548.15,101.1 548.65,100.1 549.15,99.4 549.65,98.6 550.15,97.4 550.65,95.8 551.15,94.4 551.65,93.4 552.15,92.5 552.65,91.6 553.15,90.4 553.65,89.1 554.15,87.8 554.65,87 555.15,86.6 555.65,86.1 556.15,85.2 556.65,84.2 557.15,83.3 557.65,82.7 558.15,82.5 558.65,82.1 559.15,81.5 559.65,80.6 560.15,79.9 560.65,79.6 561.15,79.5 561.65,79.2 562.15,78.7 562.65,78.1 563.15,77.6 563.65,77.4 564.15,77.3 564.65,77.1 565.15,76.8 565.65,76.3 566.15,75.9 566.65,75.7 567.15,75.6 567.65,75.5 568.15,75.4 568.65,75.4 569.15,75.4 569.65,75.4 570.15,75.4 570.65,75.5 571.15,75.5 571.65,75.5 572.15,75.5 572.65,75.5 573.15,75.6 573.65,75.6 574.15,75.6 574.65,75.6 575.15,75.6 575.65,75.7 576.15,75.8 576.65,75.9 577.15,75.9 577.65,75.9 578.15,76 578.65,76 579.15,76.1 579.65,76.2 580.15,76.2 580.65,76.2 581.15,76.2 581.65,76.2 582.15,76.2 582.65,76.2 583.15,76.2 583.65,76.2 584.15,76.2 584.65,76.2 585.15,76.2 585.65,76.2 586.15,76.2 586.65,76.2 587.15,76.2 587.65,76.2 588.15,76.2 588.65,76.2 589.15,76.2 589.65,76.1 590.15,76.1 590.65,76.1 591.15,76.1 591.65,76.1 592.15,76.1 592.65,76.1 593.15,76.1 593.65,76.1 594.15,76.1 594.65,76.1 595.15,76.1 595.65,76.1 596.15,76.1 596.65,76.1 597.15,76.1 597.65,76.1 598.15,76.1 598.65,76 599.15,76 599.65,76 600.15,76 600.65,76 601.15,76 601.65,76 602.15,76 602.65,76 603.15,76 603.65,76 604.15,76 604.65,76 605.15,76 605.65,76 606.15,76 606.65,76 607.15,76 607.65,75.9 608.15,75.9 608.65,75.9 609.15,75.9 609.65,75.9 610.15,75.9 610.65,75.9 611.15,75.9 611.65,75.9 612.15,75.9 612.65,75.9 613.15,75.9 613.65,75.9 614.15,75.9 614.65,75.9 615.15,75.9 615.65,75.9 616.15,75.9 616.65,75.9 617.15,75.9 617.65,75.9 618.15,76 618.65,76 619.15,76 619.65,76 620.15,76 620.65,76.1 621.15,76.1 621.65,76.2 622.15,76.2 622.65,76.3 623.15,76.4 623.65,76.8 624.15,77.5 624.65,78.2 625.15,78.6 625.65,78.9 626.15,79.5 626.65,80.5 627.15,81.8 627.65,82.9 628.15,83.6 628.65,84.1 629.15,84.7 629.65,85.6 630.15,86.8 630.65,87.9 631.15,88.6 631.65,89.2 632.15,89.9 632.65,90.9 633.15,92.2 633.65,93.4 634.15,94.3 634.65,94.9 635.15,95.7 635.65,96.8 636.15,98.1 636.65,99.3 637.15,100.1 637.65,100.8 638.15,101.5 638.65,102.6 639.15,103.9 639.65,105.2 640.15,106.1 640.65,106.7 641.15,107.5 641.65,108.6 642.15,109.9 642.65,111.2 643.15,112.1 643.65,112.6 644.15,113.4 644.65,114.5 645.15,115.9 645.65,117 646.15,117.9 646.65,118.3 647.15,119.2 647.65,120.3 648.15,121.6 648.65,122.4 649.15,123.2 649.65,123.5 650.15,124.3 650.65,125.3 651,126.3 651.25,126.7 651.5,127 651.75,127.9 652,127.8 652.25,128.3 652.5,128.7 652.75,128.4 653,129.1 653.25,129.2 653.5,129.3 653.75,129.6 654,130.1 654.25,131.2 654.5,131.2 654.75,132.2 655,132.3 655.25,132 655.5,132.6 655.75,133.3 656,133.4 656.25,134.1 656.5,134.3 656.75,132.7 657,134.6 657.25,135.4 657.5,136 657.75,135.5 658,136.2 658.25,136.6 658.5,137.4 658.75,137.2 659,136.7 659.25,137.7 659.5,138.5 659.75,138 660,138.6 660.25,140 660.5,140.3 660.75,139.7 661,139.6 661.25,141.8 661.5,140.5 661.75,142.4 662,140.5 662.25,141 662.5,142.1 662.75,143 663,144.1 663.25,145.2 663.5,143.7 663.75,144.8 664,144.3 664.25,143.5 664.5,145.5 664.75,145.1 665,147.4 665.25,143.7 665.5,145.3 665.75,146.2 666,145.6 666.25,150.5 666.5,149 666.75,148.7 667,148 667.25,150.3 667.5,148.6 667.75,148.9 668,151.9 668.25,149 668.5,150.6 668.75,150.9 669,151.1 669.25,154.1 669.5,151 669.75,151.3 670,155.4 670.25,154.6 670.5,156 670.75,148.1 671,152.2 671.25,156.4 671.5,159.8 671.75,155.4 672,153.8 672.25,159.7 672.5,155.6 672.75,160.1"/>
<polyline clip-path="url(#cb)" fill="none" stroke="#B177DE" stroke-width="0.5" stroke-linejoin="round" points="369.65,167.4 369.9,202.9 370.15,216.1 370.4,216.1 370.65,216.1 370.9,216.1 371.15,157.3 371.4,216.1 371.65,179.6 371.9,191.8 372.15,169.9 372.4,179.5 372.65,216.1 372.9,216.1 373.15,195.6 373.4,216.1 373.65,216.1 373.9,216.1 374.15,216.1 374.4,216.1 374.65,216.1 374.9,216.1 375.15,171.2 375.4,216.1 375.65,160 375.9,216.1 376.15,216.1 376.4,159.8 376.65,216.1 376.9,199.6 377.15,162.5 377.4,216.1 377.65,216.1 377.9,216.1 378.15,171.5 378.4,216.1 378.65,216.1 378.9,216.1 379.15,181.1 379.4,216.1 379.65,161.7 379.9,216.1 380.15,186.8 380.4,165.4 380.65,179.5 380.9,216.1 381.15,184.8 381.4,216.1 381.65,216.1 381.9,216.1 382.15,216.1 382.4,201.3 382.65,216.1 382.9,216.1 383.15,175.4 383.4,172.9 383.65,161.3 383.9,216.1 384.15,216.1 384.4,216.1 384.65,167.5 384.9,170.5 385.15,160 385.4,216.1 385.65,216.1 385.9,163.2 386.15,216.1 386.4,216.1 386.65,216.1 386.9,168.7 387.15,164.5 387.4,216.1 387.65,216.1 387.9,216.1 388.15,159.8 388.4,159.2 388.65,184.5 388.9,216.1 389.15,170.1 389.4,169.7 389.65,216.1 389.9,216.1 390.15,216.1 390.4,157.6 390.65,216.1 390.9,216.1 391.15,184.2 391.4,216.1 391.65,216.1 391.9,171.9 392.15,184.9 392.4,163.3 392.65,216.1 392.9,181 393.15,170.4 393.4,186.2 393.65,216.1 393.9,216.1 394.15,216.1 394.4,174.5 394.65,175.3 394.9,196.3 395.15,162 395.4,216.1 395.65,187.2 395.9,216.1 396.15,176.1 396.4,216.1 396.65,216.1 396.9,166.6 397.15,184.3 397.4,216.1 397.65,172.8 397.9,170.1 398.15,178.4 398.4,216.1 398.65,216.1 398.9,165.3 399.15,160.2 399.4,157.1 399.65,167.7 399.9,216.1 400.15,167.8 400.4,216.1 400.65,161.8 400.9,166.3 401.15,216.1 401.4,172.9 401.65,183.6 401.9,216.1 402.15,216.1 402.4,216.1 402.65,182.3 402.9,216.1 403.15,171.9 403.4,216.1 403.65,216.1 403.9,196.1 404.15,171.5 404.4,216.1 404.65,216.1 404.9,165.8 405.15,216.1 405.4,175.2 405.65,216.1 405.9,216.1 406.15,216.1 406.4,216.1 406.65,216.1 406.9,175.6 407.15,163.3 407.4,162.7 407.65,188.1 407.9,216.1 408.15,216.1 408.4,185.7 408.65,216.1 408.9,184.9 409.15,216.1 409.4,172.7 409.65,163.4 409.9,216.1 410.15,159.9 410.4,165.1 410.65,165.1 410.9,177.9 411.15,216.1 411.4,182.7 411.65,206 411.9,166.1 412.15,181.8 412.4,186.7 412.65,216.1 412.9,216.1 413.15,173.2 413.4,189.2 413.65,161 413.9,216.1 414.15,191.1 414.4,216.1 414.65,183.3 414.9,216.1 415.15,176.8 415.4,216.1 415.65,175.4 415.9,166.6 416.15,190.4 416.4,164.1 416.65,216.1 416.9,169.4 417.15,216.1 417.4,174.5 417.65,216.1 417.9,216.1 418.15,216.1 418.4,170.1 418.65,163.5 418.9,216.1 419.15,203.2 419.4,216.1 419.65,216.1 419.9,161.5 420.15,170.8 420.4,216.1 420.65,216.1 420.9,216.1 421.15,162.4 421.4,168.6 421.65,168.2 421.9,172.5 422.15,165.2 422.4,216.1 422.65,179.7 422.9,216.1 423.15,180.4 423.4,167.4 423.65,216.1 423.9,216.1 424.15,216.1 424.4,157.2 424.65,216.1 424.9,172 425.15,160.6 425.4,216.1 425.65,175.8 425.9,216.1 426.15,216.1 426.4,216.1 426.65,216.1 426.9,180.7 427.15,160.3 427.4,192.9 427.65,216.1 427.9,216.1 428.15,170.8 428.4,216.1 428.65,171.9 428.9,178.5 429.15,216.1 429.4,216.1 429.65,216.1 429.9,216.1 430.15,216.1 430.4,216.1 430.65,193.7 430.9,216.1 431.15,165.3 431.4,216.1 431.65,216.1 431.9,216.1 432.15,216.1 432.4,216.1 432.65,163.5 432.9,216.1 433.15,185.4 433.4,216.1 433.65,170.8 433.9,168.3 434.15,173.3 434.4,169.7 434.65,179.3 434.9,168.9 435.15,216.1 435.4,216.1 435.65,216.1 435.9,180.3 436.15,159.2 436.4,170.8 436.65,164 436.9,216.1 437.15,216.1 437.4,216.1 437.65,186.7 437.9,174 438.15,177.8 438.4,216.1 438.65,216.1 438.9,171.9 439.15,216.1 439.4,170.6 439.65,216.1 439.9,216.1 440.15,170.8 440.4,216.1 440.65,170.4 440.9,198.3 441.15,184.7 441.4,171.7 441.65,216.1 441.9,216.1 442.15,216.1 442.4,216.1 442.65,216.1 442.9,186.8 443.15,168.7 443.4,216.1 443.65,161 443.9,216.1 444.15,168.6 444.4,185 444.65,176.6 444.9,216.1 445.15,216.1 445.4,216.1 445.65,172.1 445.9,216.1 446.15,178.2 446.4,216.1 446.65,170.7 446.9,216.1 447.15,216.1 447.4,163.9 447.65,216.1 447.9,176.3 448.15,216.1 448.4,216.1 448.65,166.3 448.9,162 449.15,173.3 449.4,164.7 449.65,216.1 449.9,216.1 450.15,216.1 450.4,171.2 450.65,186 450.9,216.1 451.15,216.1 451.4,216.1 451.65,160.5 451.9,175.1 452.15,161.3 452.4,178.8 452.65,216.1 452.9,216.1 453.15,164.2 453.4,178.2 453.65,216.1 453.9,161.2 454.15,216.1 454.4,175.1 454.65,200.2 454.9,157 455.15,216.1 455.4,171.3 455.65,181.4 455.9,185.2 456.15,216.1 456.4,164.4 456.65,172.7 456.9,170.5 457.15,162.8 457.4,163.7 457.65,216.1 457.9,216.1 458.15,165.1 458.4,216.1 458.65,163.5 458.9,216.1 459.15,159.4 459.4,168 459.65,171.2 459.9,216.1 460.15,216.1 460.4,216.1 460.65,184.6 460.9,187.1 461.15,197.9 461.4,216.1 461.65,216.1 461.9,197.8 462.15,173.8 462.4,216.1 462.65,188.4 462.9,216.1 463.15,172.4 463.4,159.4 463.65,216.1 463.9,159.5 464.15,164.3 464.4,216.1 464.65,195.7 464.9,176.7 465.15,164.9 465.4,216.1 465.65,181.2 465.9,163.8 466.15,216.1 466.4,216.1 466.65,216.1 466.9,216.1 467.15,216.1 467.4,216.1 467.65,163.2 467.9,160.7 468.15,216.1 468.4,216.1 468.65,179.1 468.9,191.5 469.15,216.1 469.4,173.5 469.65,216.1 469.9,167 470.15,216.1 470.4,216.1 470.65,159.6 470.9,186.1 471.15,216.1 471.4,216.1 471.65,173.6 471.9,170.8 472.15,176.8 472.4,161.8 472.65,216.1 472.9,169 473.15,216.1 473.4,216.1 473.65,163.5 473.9,182.2 474.15,216.1 474.4,216.1 474.65,159.7 474.9,216.1 475.15,216.1 475.4,216.1 475.65,170.8 475.9,216.1 476.15,216.1 476.4,194.9 476.65,216.1 476.9,164.2 477.15,216.1 477.4,164.1 477.65,159.9 477.9,194.8 478.15,216.1 478.4,171.5 478.65,164.8 478.9,216.1 479.15,216.1 479.4,183.3 479.65,202.4 479.9,180.8 480.15,216.1 480.4,213.9 480.65,216.1 480.9,165.9 481.15,177.6 481.4,216.1 481.65,216.1 481.9,216.1 482.15,166.4 482.4,216.1 482.65,216.1 482.9,216.1 483.15,161.6 483.4,216.1 483.65,216.1 483.9,216.1 484.15,216.1 484.4,166.4 484.65,216.1 484.9,170.6 485.15,186.2 485.4,216.1 485.65,169.4 485.9,216.1 486.15,175.9 486.4,216.1 486.65,199.8 486.9,216.1 487.15,216.1 487.4,216.1 487.65,216.1 487.9,168.7 488.15,170.9 488.4,216.1 488.65,216.1 488.9,166.2 489.15,162 489.4,166 489.65,216.1 489.9,216.1 490.15,177.8 490.4,168.6 490.65,160.6 490.9,216.1 491.15,175.1 491.4,162.9 491.65,216.1 491.9,163.8 492.15,216.1 492.4,168.7 492.65,196.3 492.9,216.1 493.15,216.1 493.4,167 493.65,216.1 493.9,216.1 494.15,175.5 494.4,172.1 494.65,216.1 494.9,154.7 495.15,159.5 495.4,168.4 495.65,216.1 495.9,216.1 496.15,216.1 496.4,216.1 496.65,166.8 496.9,171.8 497.15,164.4 497.4,207.8 497.65,157.1 497.9,187.9 498.15,186 498.4,174.6 498.65,170.3 498.9,155.5 499.15,166.3 499.4,184.9 499.65,160.3 499.9,216.1 500.15,154.5 500.4,167.3 500.65,168 500.9,180.4 501.15,166.2 501.4,159.3 501.65,158.1 501.9,167.6 502.15,216.1 502.4,158 502.65,157.9 502.9,158.5 503.15,166.2 503.4,153.7 503.65,159.7 503.9,159.7 504.15,157.1 504.4,154.2 504.65,153.2 504.9,162 505.15,168 505.4,161.7 505.65,159.8 505.9,152 506.15,155.2 506.4,153.3 506.65,165 506.9,149.4 507.15,160.8 507.4,152.5 507.65,150.7 507.9,158.4 508.15,162.6 508.4,152.5 508.65,158.1 508.9,153.4 509.15,152.9 509.4,149.4 509.65,150 509.9,151.2 510.15,149.2 510.4,149.7 510.65,149.2 510.9,148.7 511.15,151.4 511.4,154.4 511.65,147.7 511.9,148.9 512.15,150.2 512.4,149.6 512.65,146 512.9,150.6 513.15,147 513.4,147.9 513.65,148.9 513.9,146 514.15,146.1 514.4,146.4 514.65,146.8 514.9,144.7 515.15,144.5 515.4,143.7 515.65,144.9 515.9,143.1 516.15,142.5 516.4,143.2 516.65,143.7 516.9,144.6 517.15,140.8 517.4,141.2 517.65,140.8 517.9,141.1 518.15,140.9 518.4,139.9 518.65,139.9 518.9,139.1 519.15,140.6 519.4,139.4 519.65,139.7 519.9,138 520.15,138.1 520.4,138.2 520.65,137.5 520.9,137.9 521.15,137 521.4,137.1 521.65,137.6 521.9,136.4 522.15,134.9 522.4,136.1 522.65,136.3 522.9,134.6 523.15,134.8 523.4,134.7 523.65,134.2 523.9,134.2 524.15,133.1 524.4,133.1 524.65,133.3 524.9,131.7 525.15,132.5 525.4,132.7 525.65,131.3 525.9,131.4 526.15,131 526.4,131.1 526.65,130.7 526.9,130 527.15,129.2 527.4,129.3 527.65,129 527.9,129.4 528.15,128.2 528.4,128.1 528.65,127.9 528.9,127.4 529.15,127.3 529.4,127 529.65,127 529.9,126 530.9,124.5 531.9,123.2 532.9,121.2 533.9,119.7 534.9,117.9 535.9,116.1 536.9,113.9 537.9,111.9 538.9,109.9 539.9,107.8 540.9,105.7 541.9,103.6 542.9,101.5 543.9,99.4 544.9,97.3 545.9,95 546.9,92.6 547.9,90.3 548.9,88.3 549.9,86.5 550.9,85 551.9,83.6 552.9,82.4 553.9,81.2 554.9,80.2 555.9,79.3 556.9,78.5 557.9,77.8 558.9,77.2 559.9,76.6 560.9,76 561.9,75.5 562.9,75.3 563.9,75.3 564.9,75.3 565.9,75.4 566.9,75.4 567.9,75.4 568.9,75.5 569.9,75.6 570.9,75.7 571.9,75.8 572.9,75.9 573.9,76 574.9,76.1 575.9,76.1 576.9,76.1 577.9,76.1 578.9,76.1 579.9,76.1 580.9,76.1 581.9,76.1 582.9,76.1 583.9,76 584.9,76 585.9,76 586.9,76 587.9,76 588.9,76 589.9,76 590.9,76 591.9,75.9 592.9,75.9 593.9,75.9 594.9,75.9 595.9,75.9 596.9,75.9 597.9,75.9 598.9,75.9 599.9,75.9 600.9,75.8 601.9,75.8 602.9,75.8 603.9,75.8 604.9,75.8 605.9,75.8 606.9,75.8 607.9,75.8 608.9,75.8 609.9,75.8 610.9,75.8 611.9,75.9 612.9,75.9 613.9,76 614.9,76.1 615.9,76.4 616.9,77.2 617.9,78.2 618.9,79.5 619.9,81.4 620.9,83.1 621.9,84.8 622.9,86.4 623.9,88.1 624.9,89.9 625.9,91.8 626.9,93.8 627.9,95.7 628.9,97.7 629.9,99.6 630.9,101.5 631.9,103.5 632.9,105.5 633.9,107.5 634.9,109.5 635.9,111.6 636.9,113.5 637.9,115.5 638.9,117.4 639.9,119.4 640.9,120.9 641.9,122.8 642.9,124.5 643.9,125.8 644.15,126.5 644.4,127 644.65,127.8 644.9,127.8 645.15,127.5 645.4,128.7 645.65,128.4 645.9,129.3 646.15,129.1 646.4,129.7 646.65,130.4 646.9,130.7 647.15,130.8 647.4,131.4 647.65,131.2 647.9,131.6 648.15,133.4 648.4,132.6 648.65,132.9 648.9,133 649.15,133.9 649.4,133.8 649.65,134.8 649.9,135.2 650.15,135.5 650.4,136 650.65,135.4 650.9,135.6 651.15,135 651.4,136.9 651.65,137.7 651.9,139.3 652.15,137.2 652.4,138 652.65,138.5 652.9,136.6 653.15,139.1 653.4,139.5 653.65,140.2 653.9,141.2 654.15,139.3 654.4,140.7 654.65,140.9 654.9,140.9 655.15,144.1 655.4,143 655.65,143.4 655.9,141.5 656.15,144 656.4,145.3 656.65,144.7 656.9,144.4 657.15,145.4 657.4,143.8 657.65,143.5 657.9,145.7 658.15,148.4 658.4,145.2 658.65,150.4 658.9,150.2 659.15,147.1 659.4,146 659.65,146.4 659.9,149 660.15,147.5 660.4,152.2 660.65,152.1 660.9,148.8 661.15,151.9 661.4,153.1 661.65,151.1 661.9,147.7 662.15,149.8 662.4,148.4 662.65,152.4 662.9,153 663.15,150.4 663.4,160.8 663.65,152.3 663.9,168.4 664.15,155.5 664.4,153.6 664.65,154.7 664.9,152.9 665.15,154.5 665.4,163.7 665.65,162.5 665.9,148.9 666.15,166.4 666.4,159.4 666.65,159.9 666.9,157.1 667.15,155.3 667.4,181.3 667.65,160.3 667.9,152.3 668.15,153.5 668.4,158.1 668.65,155.3 668.9,155.5 669.15,173.5 669.4,159.1 669.65,177.2 669.9,156.9 670.15,152.4 670.4,160.9 670.65,168.2 670.9,156 671.15,216.1 671.4,167.3 671.65,216.1 671.9,158 672.15,163.7 672.4,152.4 672.65,157.3 672.9,183.4"/>
<polyline clip-path="url(#cb)" fill="none" stroke="#CC9900" stroke-width="0.5" stroke-linejoin="round" points="369.65,216.1 369.9,162.5 370.15,163.6 370.4,158.4 370.65,167 370.9,216.1 371.15,216.1 371.4,172.1 371.65,172.6 371.9,216.1 372.15,216.1 372.4,216.1 372.65,162.5 372.9,216.1 373.15,156.6 373.4,177.8 373.65,176.7 373.9,216.1 374.15,216.1 374.4,216.1 374.65,216.1 374.9,191.3 375.15,176 375.4,165.2 375.65,163.1 375.9,216.1 376.15,216.1 376.4,216.1 376.65,160.9 376.9,216.1 377.15,216.1 377.4,216.1 377.65,166.3 377.9,167.3 378.15,216.1 378.4,156.6 378.65,165.4 378.9,216.1 379.15,165 379.4,216.1 379.65,175.5 379.9,216.1 380.15,163.8 380.4,172.3 380.65,181.3 380.9,216.1 381.15,171.5 381.4,188.8 381.65,216.1 381.9,216.1 382.15,216.1 382.4,176.8 382.65,216.1 382.9,216.1 383.15,216.1 383.4,216.1 383.65,158.4 383.9,216.1 384.15,169.9 384.4,216.1 384.65,216.1 384.9,216.1 385.15,216.1 385.4,167.8 385.65,170.1 385.9,166.9 386.15,216.1 386.4,216.1 386.65,166.3 386.9,161.2 387.15,170.8 387.4,176.7 387.65,216.1 387.9,216.1 388.15,216.1 388.4,216.1 388.65,216.1 388.9,168.6 389.15,176.7 389.4,159.7 389.65,180.8 389.9,172.7 390.15,172.4 390.4,180.4 390.65,216.1 390.9,165.5 391.15,216.1 391.4,216.1 391.65,216.1 391.9,158.8 392.15,169.1 392.4,177.8 392.65,216.1 392.9,162.1 393.15,216.1 393.4,216.1 393.65,193.6 393.9,216.1 394.15,216.1 394.4,216.1 394.65,168.1 394.9,175.6 395.15,165.3 395.4,216.1 395.65,216.1 395.9,216.1 396.15,166.8 396.4,216.1 396.65,160.5 396.9,168.6 397.15,216.1 397.4,169.6 397.65,178.1 397.9,184.4 398.15,167.7 398.4,170.3 398.65,195.2 398.9,170.9 399.15,165.4 399.4,216.1 399.65,186.5 399.9,216.1 400.15,172.9 400.4,216.1 400.65,216.1 400.9,216.1 401.15,165.6 401.4,216.1 401.65,216.1 401.9,216.1 402.15,216.1 402.4,196.6 402.65,170.5 402.9,161.2 403.15,170.6 403.4,216.1 403.65,216.1 403.9,216.1 404.15,216.1 404.4,170 404.65,159.7 404.9,170.6 405.15,216.1 405.4,186.4 405.65,216.1 405.9,216.1 406.15,216.1 406.4,216.1 406.65,173.3 406.9,216.1 407.15,216.1 407.4,174.1 407.65,216.1 407.9,156.5 408.15,216.1 408.4,216.1 408.65,216.1 408.9,216.1 409.15,173.3 409.4,216.1 409.65,161.1 409.9,216.1 410.15,216.1 410.4,165.6 410.65,158.5 410.9,208.1 411.15,216.1 411.4,166.1 411.65,166.5 411.9,216.1 412.15,216.1 412.4,159.7 412.65,216.1 412.9,159.9 413.15,184.9 413.4,216.1 413.65,162.7 413.9,174.6 414.15,160.2 414.4,216.1 414.65,187.2 414.9,169.2 415.15,167.4 415.4,170.5 415.65,216.1 415.9,182.8 416.15,216.1 416.4,216.1 416.65,216.1 416.9,216.1 417.15,216.1 417.4,176.4 417.65,216.1 417.9,216.1 418.15,167.6 418.4,216.1 418.65,216.1 418.9,165.1 419.15,175.5 419.4,159.2 419.65,182.6 419.9,176.1 420.15,158.6 420.4,216.1 420.65,216.1 420.9,216.1 421.15,160.6 421.4,165.5 421.65,216.1 421.9,216.1 422.15,216.1 422.4,165.6 422.65,216.1 422.9,162.2 423.15,216.1 423.4,165.7 423.65,216.1 423.9,216.1 424.15,216.1 424.4,216.1 424.65,216.1 424.9,216.1 425.15,166.1 425.4,165 425.65,170.8 425.9,188.9 426.15,216.1 426.4,159.6 426.65,216.1 426.9,169.6 427.15,181.2 427.4,216.1 427.65,216.1 427.9,164.3 428.15,216.1 428.4,216.1 428.65,216.1 428.9,182.3 429.15,190 429.4,166.2 429.65,216.1 429.9,216.1 430.15,164.7 430.4,216.1 430.65,216.1 430.9,216.1 431.15,216.1 431.4,216.1 431.65,158.5 431.9,169.2 432.15,216.1 432.4,216.1 432.65,170.9 432.9,216.1 433.15,216.1 433.4,155.6 433.65,165.5 433.9,216.1 434.15,216.1 434.4,216.1 434.65,191.6 434.9,182.9 435.15,216.1 435.4,216.1 435.65,216.1 435.9,173.3 436.15,212 436.4,216.1 436.65,216.1 436.9,166.8 437.15,170.8 437.4,180.9 437.65,162.2 437.9,173.8 438.15,170.2 438.4,174.6 438.65,182.8 438.9,216.1 439.15,185.4 439.4,187.2 439.65,216.1 439.9,216.1 440.15,216.1 440.4,216.1 440.65,164.6 440.9,180 441.15,181.1 441.4,170.6 441.65,173 441.9,216.1 442.15,216.1 442.4,168.1 442.65,167.3 442.9,216.1 443.15,169.3 443.4,216.1 443.65,166.1 443.9,160.9 444.15,167 444.4,163.5 444.65,216.1 444.9,177.5 445.15,192.4 445.4,163.5 445.65,216.1 445.9,216.1 446.15,216.1 446.4,165.9 446.65,216.1 446.9,216.1 447.15,161.3 447.4,161.7 447.65,158.5 447.9,216.1 448.15,171.1 448.4,216.1 448.65,216.1 448.9,160 449.15,216.1 449.4,216.1 449.65,216.1 449.9,154 450.15,216.1 450.4,216.1 450.65,216.1 450.9,167.8 451.15,216.1 451.4,216.1 451.65,201.4 451.9,174.7 452.15,216.1 452.4,216.1 452.65,172.4 452.9,216.1 453.15,216.1 453.4,161.2 453.65,163.4 453.9,170.6 454.15,155.2 454.4,188.3 454.65,216.1 454.9,160.2 455.15,216.1 455.4,216.1 455.65,216.1 455.9,216.1 456.15,170.5 456.4,186 456.65,178 456.9,179.4 457.15,164 457.4,216.1 457.65,216.1 457.9,216.1 458.15,216.1 458.4,167.9 458.65,216.1 458.9,162.4 459.15,216.1 459.4,216.1 459.65,216.1 459.9,159.9 460.15,216.1 460.4,176.7 460.65,216.1 460.9,173.9 461.15,165.4 461.4,216.1 461.65,216.1 461.9,160.2 462.15,216.1 462.4,216.1 462.65,180.1 462.9,216.1 463.15,175.8 463.4,159.3 463.65,168.4 463.9,216.1 464.15,166.1 464.4,216.1 464.65,168.9 464.9,216.1 465.15,169.1 465.4,216.1 465.65,216.1 465.9,160.8 466.15,179.6 466.4,216.1 466.65,216.1 466.9,176.9 467.15,216.1 467.4,162.5 467.65,216.1 467.9,168.9 468.15,160.9 468.4,166.1 468.65,216.1 468.9,216.1 469.15,216.1 469.4,216.1 469.65,216.1 469.9,172.8 470.15,216.1 470.4,216.1 470.65,216.1 470.9,158.7 471.15,216.1 471.4,216.1 471.65,216.1 471.9,216.1 472.15,162.7 472.4,216.1 472.65,172.8 472.9,163.6 473.15,216.1 473.4,191 473.65,177 473.9,181.7 474.15,216.1 474.4,216.1 474.65,168.5 474.9,216.1 475.15,216.1 475.4,216.1 475.65,168.4 475.9,159.4 476.15,169.7 476.4,216.1 476.65,176.8 476.9,169.2 477.15,159.7 477.4,172.5 477.65,216.1 477.9,216.1 478.15,176.7 478.4,216.1 478.65,171.4 478.9,185.1 479.15,181.5 479.4,216.1 479.65,216.1 479.9,174.9 480.15,216.1 480.4,171 480.65,216.1 480.9,159.9 481.15,166 481.4,216.1 481.65,162.2 481.9,179.7 482.15,162.8 482.4,174 482.65,187.8 482.9,216.1 483.15,216.1 483.4,170.7 483.65,161.4 483.9,172.7 484.15,216.1 484.4,164.4 484.65,167.8 484.9,216.1 485.15,171.1 485.4,168.4 485.65,216.1 485.9,159.1 486.15,216.1 486.4,156.7 486.65,164.3 486.9,175.8 487.15,216.1 487.4,216.1 487.65,166.3 487.9,172.2 488.15,165.6 488.4,155.6 488.65,164.3 488.9,161.3 489.15,163.1 489.4,168.5 489.65,158.6 489.9,156.3 490.15,183.4 490.4,157 490.65,157.6 490.9,216.1 491.15,160.5 491.4,216.1 491.65,158.8 491.9,216.1 492.15,159.9 492.4,158.5 492.65,165.5 492.9,161.2 493.15,156.9 493.4,154.2 493.65,167 493.9,160.9 494.15,166.6 494.4,161.2 494.65,160.7 494.9,157.8 495.15,156.8 495.4,169.8 495.65,175.1 495.9,158.4 496.15,159.8 496.4,155.4 496.65,160.8 496.9,161.1 497.15,162.1 497.4,158.7 497.65,153.7 497.9,154.1 498.15,156.1 498.4,154.6 498.65,158.5 498.9,156.9 499.15,161.4 499.4,152.8 499.65,157.5 499.9,153.5 500.15,150.3 500.4,161.3 500.65,154.5 500.9,158.8 501.15,151.9 501.4,159.1 501.65,151 501.9,148.2 502.15,154.9 502.4,150.4 502.65,150.2 502.9,150.4 503.15,149.4 503.4,146.5 503.65,146.8 503.9,152.8 504.15,148.3 504.4,150 504.65,149.5 504.9,147.6 505.15,148.4 505.4,144.5 505.65,146.3 505.9,144.3 506.15,146.4 506.4,144.8 506.65,145.7 506.9,145.2 507.15,144.4 507.4,144.4 507.65,142.3 507.9,143.5 508.15,145 508.4,143.4 508.65,142.9 508.9,141.9 509.15,142 509.4,140.4 509.65,140.8 509.9,140.4 510.15,140.6 510.4,141.4 510.65,140.4 510.9,140.8 511.15,140.1 511.4,141.4 511.65,140.3 511.9,138.4 512.15,139.3 512.4,138.3 512.65,138.3 512.9,136.3 513.15,137.2 513.4,137.9 513.65,136.9 513.9,136.3 514.15,135.9 514.4,136.1 514.65,135.8 514.9,135.6 515.15,134.2 515.4,135.1 515.65,133.8 515.9,133.6 516.15,133.4 516.4,132.7 516.65,133.8 516.9,132.2 517.15,132.1 517.4,131.2 517.65,131.4 517.9,131.1 518.15,131.1 518.4,130.2 518.65,130.1 518.9,130.6 519.15,130.2 519.4,129.6 519.65,128.8 519.9,129.3 520.15,128.7 520.4,128.1 520.65,127.8 520.9,127 521.15,126.7 521.4,126.6 521.65,126.5 521.9,125.9 522.9,124.6 523.9,122.9 524.9,121.6 525.9,119.5 526.9,117.9 527.9,115.8 528.9,114 529.9,111.9 530.9,109.9 531.9,107.8 532.9,105.7 533.9,103.6 534.9,101.5 535.9,99.4 536.9,97.3 537.9,95 538.9,92.6 539.9,90.3 540.9,88.3 541.9,86.5 542.9,85 543.9,83.6 544.9,82.3 545.9,81.2 546.9,80.2 547.9,79.3 548.9,78.5 549.9,77.7 550.9,77.1 551.9,76.5 552.9,75.9 553.9,75.4 554.9,75.2 555.9,75.2 556.9,75.2 557.9,75.3 558.9,75.3 559.9,75.3 560.9,75.4 561.9,75.4 562.9,75.5 563.9,75.7 564.9,75.8 565.9,75.9 566.9,76 567.9,76 568.9,76 569.9,76 570.9,76 571.9,76 572.9,76 573.9,76 574.9,76 575.9,76 576.9,75.9 577.9,75.9 578.9,75.9 579.9,75.9 580.9,75.9 581.9,75.9 582.9,75.9 583.9,75.9 584.9,75.9 585.9,75.8 586.9,75.8 587.9,75.8 588.9,75.8 589.9,75.8 590.9,75.8 591.9,75.8 592.9,75.8 593.9,75.7 594.9,75.7 595.9,75.7 596.9,75.7 597.9,75.7 598.9,75.7 599.9,75.7 600.9,75.7 601.9,75.7 602.9,75.7 603.9,75.7 604.9,75.8 605.9,75.8 606.9,75.9 607.9,75.9 608.9,76 609.9,76.6 610.9,77.4 611.9,78.5 612.9,80.1 613.9,81.9 614.9,83.6 615.9,85.2 616.9,86.9 617.9,88.7 618.9,90.5 619.9,92.4 620.9,94.3 621.9,96.3 622.9,98.2 623.9,100.2 624.9,102.1 625.9,104.1 626.9,106.2 627.9,108.1 628.9,110.1 629.9,112.1 630.9,114.2 631.9,116.1 632.9,118.1 633.9,119.7 634.9,121.7 635.9,123.1 636.9,124.9 637.6,126 637.85,126.5 638.1,126.3 638.35,127.2 638.6,128.1 638.85,128 639.1,128.1 639.35,128.8 639.6,129.1 639.85,128.9 640.1,129.6 640.35,130.2 640.6,129.8 640.85,130.4 641.1,130.8 641.35,132.3 641.6,132.4 641.85,131.9 642.1,132.7 642.35,133.1 642.6,132.8 642.85,133.9 643.1,134.2 643.35,134.2 643.6,134.7 643.85,135.2 644.1,135.8 644.35,134.6 644.6,135.9 644.85,136.2 645.1,136.4 645.35,136.6 645.6,137.9 645.85,137.8 646.1,138.3 646.35,138.1 646.6,139.5 646.85,140.2 647.1,138.9 647.35,138 647.6,140 647.85,139.9 648.1,141.8 648.35,142 648.6,141.7 648.85,142.7 649.1,142.3 649.35,142.9 649.6,144.8 649.85,144.4 650.1,143.5 650.35,146.2 650.6,144.9 650.85,145.9 651.1,145.9 651.35,146 651.6,145.1 651.85,147.6 652.1,148 652.35,147 652.6,148 652.85,148.4 653.1,149.8 653.35,147.9 653.6,150.6 653.85,149.5 654.1,150.6 654.35,148.5 654.6,149.5 654.85,153.9 655.1,151.3 655.35,149.3 655.6,149.6 655.85,153.8 656.1,152.9 656.35,156.8 656.6,156 656.85,157.1 657.1,152.6 657.35,152.8 657.6,152.6 657.85,154.7 658.1,155.5 658.35,156.1 658.6,158.6 658.85,168.4 659.1,163.2 659.35,152 659.6,151.1 659.85,155.6 660.1,159.2 660.35,158.5 660.6,175.9 660.85,158.5 661.1,163.2 661.35,157.6 661.6,160 661.85,159.1 662.1,158.4 662.35,162.7 662.6,165.3 662.85,178.8 663.1,170 663.35,163.8 663.6,167.5 663.85,155.6 664.1,164.4 664.35,152.2 664.6,197.7 664.85,156.3 665.1,169 665.35,168.2 665.6,167.5 665.85,162.9 666.1,171.6 666.35,162.8 666.6,161.5 666.85,176.6 667.1,174.4 667.35,160.2 667.6,170.9 667.85,162.9 668.1,163.5 668.35,167.3 668.6,179.5 668.85,168.2 669.1,174.2 669.35,170.6 669.6,185.1 669.85,165 670.1,179.9 670.35,163.5 670.6,157.9 670.85,163.9 671.1,179.3 671.35,185 671.6,172.8 671.85,216.1 672.1,191 672.35,167.4 672.6,216.1 672.85,216.1"/>
<polyline clip-path="url(#cb)" fill="none" stroke="#00CBCC" stroke-width="0.5" stroke-linejoin="round" points="369.65,169.5 369.9,216.1 370.15,161.7 370.4,216.1 370.65,177 370.9,216.1 371.15,216.1 371.4,216.1 371.65,216.1 371.9,175.2 372.15,167.7 372.4,185.5 372.65,173 372.9,216.1 373.15,216.1 373.4,164.3 373.65,216.1 373.9,165.6 374.15,216.1 374.4,216.1 374.65,216.1 374.9,216.1 375.15,180.2 375.4,216.1 375.65,164.3 375.9,176.2 376.15,166.7 376.4,174.7 376.65,158.6 376.9,180.6 377.15,216.1 377.4,216.1 377.65,216.1 377.9,188 378.15,208.7 378.4,159.1 378.65,190.2 378.9,184.2 379.15,161.9 379.4,165 379.65,166.7 379.9,216.1 380.15,216.1 380.4,216.1 380.65,163.1 380.9,161.6 381.15,216.1 381.4,167.2 381.65,164 381.9,195.7 382.15,187.1 382.4,165.3 382.65,175.1 382.9,216.1 383.15,184.1 383.4,184 383.65,216.1 383.9,216.1 384.15,216.1 384.4,216.1 384.65,216.1 384.9,216.1 385.15,216.1 385.4,216.1 385.65,216.1 385.9,167.8 386.15,216.1 386.4,161.4 386.65,216.1 386.9,216.1 387.15,186.3 387.4,175.9 387.65,180.9 387.9,174.5 388.15,216.1 388.4,178 388.65,194.8 388.9,216.1 389.15,216.1 389.4,216.1 389.65,216.1 389.9,171.4 390.15,216.1 390.4,160.3 390.65,216.1 390.9,216.1 391.15,216.1 391.4,216.1 391.65,170.3 391.9,216.1 392.15,182.9 392.4,216.1 392.65,216.1 392.9,216.1 393.15,188.5 393.4,216.1 393.65,168.1 393.9,169 394.15,216.1 394.4,175.3 394.65,216.1 394.9,216.1 395.15,216.1 395.4,202.4 395.65,166.3 395.9,216.1 396.15,216.1 396.4,216.1 396.65,163 396.9,216.1 397.15,216.1 397.4,216.1 397.65,216.1 397.9,216.1 398.15,216.1 398.4,183.4 398.65,162.2 398.9,216.1 399.15,216.1 399.4,173 399.65,198.2 399.9,165.6 400.15,216.1 400.4,158.5 400.65,207.8 400.9,163.5 401.15,216.1 401.4,216.1 401.65,178.6 401.9,216.1 402.15,160.8 402.4,216.1 402.65,170.9 402.9,216.1 403.15,179.6 403.4,216.1 403.65,173.4 403.9,173.1 404.15,216.1 404.4,181.3 404.65,216.1 404.9,216.1 405.15,164.1 405.4,163.1 405.65,159.1 405.9,213.9 406.15,168.1 406.4,216.1 406.65,216.1 406.9,216.1 407.15,216.1 407.4,216.1 407.65,166 407.9,164.7 408.15,216.1 408.4,178.2 408.65,171.6 408.9,170 409.15,216.1 409.4,187.5 409.65,170 409.9,216.1 410.15,171.9 410.4,216.1 410.65,190.6 410.9,163.4 411.15,173.9 411.4,180 411.65,216.1 411.9,170.9 412.15,161.9 412.4,164 412.65,216.1 412.9,167.8 413.15,216.1 413.4,175.6 413.65,216.1 413.9,216.1 414.15,216.1 414.4,216.1 414.65,216.1 414.9,163.8 415.15,216.1 415.4,165 415.65,169.6 415.9,173.9 416.15,165 416.4,173.6 416.65,216.1 416.9,216.1 417.15,216.1 417.4,216.1 417.65,168.1 417.9,163.7 418.15,216.1 418.4,216.1 418.65,193 418.9,216.1 419.15,169.2 419.4,216.1 419.65,216.1 419.9,216.1 420.15,216.1 420.4,168.7 420.65,216.1 420.9,159.2 421.15,190.7 421.4,216.1 421.65,174.1 421.9,216.1 422.15,216.1 422.4,185.5 422.65,166.5 422.9,216.1 423.15,216.1 423.4,176.1 423.65,216.1 423.9,159.7 424.15,169.5 424.4,216.1 424.65,216.1 424.9,166.9 425.15,172.7 425.4,171.1 425.65,165.3 425.9,166.6 426.15,216.1 426.4,216.1 426.65,172.8 426.9,166.9 427.15,216.1 427.4,216.1 427.65,186 427.9,216.1 428.15,160.3 428.4,216.1 428.65,163.8 428.9,216.1 429.15,216.1 429.4,216.1 429.65,170.9 429.9,216.1 430.15,179.5 430.4,216.1 430.65,216.1 430.9,174.6 431.15,216.1 431.4,164.2 431.65,216.1 431.9,216.1 432.15,216.1 432.4,216.1 432.65,167.8 432.9,216.1 433.15,216.1 433.4,156 433.65,167 433.9,216.1 434.15,216.1 434.4,177.1 434.65,173.3 434.9,216.1 435.15,216.1 435.4,163.7 435.65,187.8 435.9,216.1 436.15,164.8 436.4,181.3 436.65,161.9 436.9,216.1 437.15,158 437.4,216.1 437.65,159.4 437.9,216.1 438.15,216.1 438.4,216.1 438.65,167.3 438.9,165.9 439.15,216.1 439.4,201.8 439.65,161.3 439.9,180.7 440.15,216.1 440.4,164.4 440.65,216.1 440.9,216.1 441.15,216.1 441.4,183.4 441.65,216.1 441.9,216.1 442.15,216.1 442.4,216.1 442.65,216.1 442.9,172.4 443.15,216.1 443.4,181.2 443.65,172.2 443.9,216.1 444.15,158.4 444.4,216.1 444.65,216.1 444.9,170.4 445.15,171.8 445.4,216.1 445.65,216.1 445.9,216.1 446.15,216.1 446.4,181.8 446.65,216.1 446.9,216.1 447.15,159.2 447.4,216.1 447.65,177 447.9,216.1 448.15,216.1 448.4,216.1 448.65,216.1 448.9,165.6 449.15,170.9 449.4,216.1 449.65,187.2 449.9,216.1 450.15,216.1 450.4,170.8 450.65,216.1 450.9,177.6 451.15,216.1 451.4,216.1 451.65,216.1 451.9,216.1 452.15,159.1 452.4,163 452.65,216.1 452.9,216.1 453.15,178.6 453.4,166.9 453.65,216.1 453.9,216.1 454.15,178.9 454.4,203.3 454.65,216.1 454.9,162.6 455.15,193.2 455.4,171.8 455.65,173.6 455.9,170.2 456.15,216.1 456.4,160.4 456.65,216.1 456.9,175.6 457.15,163.8 457.4,173.5 457.65,216.1 457.9,163.4 458.15,216.1 458.4,178.3 458.65,184.4 458.9,216.1 459.15,183.5 459.4,216.1 459.65,180.2 459.9,216.1 460.15,158.7 460.4,163.1 460.65,216.1 460.9,216.1 461.15,163.5 461.4,164.5 461.65,216.1 461.9,162.8 462.15,185.1 462.4,216.1 462.65,216.1 462.9,170.4 463.15,169.3 463.4,155 463.65,173.3 463.9,216.1 464.15,161.3 464.4,167.6 464.65,178.6 464.9,181.6 465.15,216.1 465.4,172.7 465.65,216.1 465.9,177.1 466.15,176.4 466.4,216.1 466.65,188.1 466.9,170.8 467.15,216.1 467.4,216.1 467.65,216.1 467.9,189.9 468.15,163.1 468.4,183.1 468.65,216.1 468.9,216.1 469.15,216.1 469.4,163.4 469.65,216.1 469.9,216.1 470.15,216.1 470.4,216.1 470.65,186 470.9,216.1 471.15,195.9 471.4,177.3 471.65,161.4 471.9,216.1 472.15,161.8 472.4,216.1 472.65,216.1 472.9,160.8 473.15,170.7 473.4,216.1 473.65,216.1 473.9,216.1 474.15,216.1 474.4,162.3 474.65,216.1 474.9,163.9 475.15,216.1 475.4,168.9 475.65,216.1 475.9,216.1 476.15,180.5 476.4,216.1 476.65,167.7 476.9,184.7 477.15,156.8 477.4,216.1 477.65,216.1 477.9,216.1 478.15,216.1 478.4,216.1 478.65,216.1 478.9,161.9 479.15,158.3 479.4,161.4 479.65,216.1 479.9,159.4 480.15,164.2 480.4,164.6 480.65,154.3 480.9,181.3 481.15,165.6 481.4,156.7 481.65,158.4 481.9,189.7 482.15,158.3 482.4,160.9 482.65,162.9 482.9,180.3 483.15,177.2 483.4,181.6 483.65,216.1 483.9,157 484.15,164.2 484.4,168.5 484.65,216.1 484.9,216.1 485.15,158.3 485.4,174.2 485.65,162.2 485.9,216.1 486.15,160.2 486.4,158.9 486.65,166.9 486.9,178.2 487.15,155.9 487.4,157.3 487.65,157.9 487.9,163.1 488.15,160.2 488.4,156.9 488.65,169.7 488.9,161.9 489.15,170 489.4,162.1 489.65,164.5 489.9,156.8 490.15,154.9 490.4,165.4 490.65,150.1 490.9,157 491.15,155 491.4,162.1 491.65,154.3 491.9,158.7 492.15,158.1 492.4,161.3 492.65,151.7 492.9,151.4 493.15,153.3 493.4,151.6 493.65,155.4 493.9,157.5 494.15,153.9 494.4,157.4 494.65,153 494.9,151.2 495.15,149.3 495.4,151.9 495.65,152.9 495.9,157.8 496.15,150.2 496.4,152.4 496.65,149.1 496.9,148.4 497.15,151 497.4,147.5 497.65,146.2 497.9,148.3 498.15,147.9 498.4,148.5 498.65,149.1 498.9,150.1 499.15,146 499.4,147.3 499.65,145.6 499.9,144.5 500.15,146.8 500.4,144.4 500.65,146.3 500.9,144.8 501.15,143.7 501.4,143.8 501.65,145.1 501.9,143.2 502.15,142.3 502.4,146 502.65,144.3 502.9,143.7 503.15,145.3 503.4,141.8 503.65,143.9 503.9,144.8 504.15,142.5 504.4,139.2 504.65,139.7 504.9,139.8 505.15,138.6 505.4,140 505.65,138.2 505.9,139.3 506.15,138.9 506.4,137.7 506.65,137.5 506.9,137.5 507.15,137.3 507.4,136.3 507.65,137 507.9,135.4 508.15,135.3 508.4,135.5 508.65,135.6 508.9,134.8 509.15,134.7 509.4,134.3 509.65,134.8 509.9,133.7 510.15,132.5 510.4,133.2 510.65,133.3 510.9,132 511.15,131.5 511.4,131.9 511.65,131.7 511.9,131.5 512.15,130.4 512.4,130.3 512.65,131.1 512.9,129.6 513.15,129.6 513.4,129.5 513.65,129.1 513.9,128.6 514.15,128.4 514.4,128 514.65,127.9 514.9,127.5 515.15,127.2 515.4,126.7 515.65,126.8 515.9,125.8 516.9,124.8 517.9,122.9 518.9,121.4 519.9,119.6 520.9,117.9 521.9,115.9 522.9,113.9 523.9,112 524.9,110 525.9,107.7 526.9,105.7 527.9,103.6 528.9,101.5 529.9,99.4 530.9,97.3 531.9,95 532.9,92.6 533.9,90.4 534.9,88.3 535.9,86.5 536.9,85 537.9,83.6 538.9,82.3 539.9,81.2 540.9,80.2 541.9,79.3 542.9,78.5 543.9,77.7 544.9,77.1 545.9,76.5 546.9,75.9 547.9,75.4 548.9,75.2 549.9,75.2 550.9,75.2 551.9,75.3 552.9,75.3 553.9,75.3 554.9,75.4 555.9,75.4 556.9,75.5 557.9,75.7 558.9,75.8 559.9,75.9 560.9,76 561.9,76 562.9,76 563.9,76 564.9,76 565.9,76 566.9,76 567.9,76 568.9,76 569.9,75.9 570.9,75.9 571.9,75.9 572.9,75.9 573.9,75.9 574.9,75.9 575.9,75.9 576.9,75.9 577.9,75.8 578.9,75.8 579.9,75.8 580.9,75.8 581.9,75.8 582.9,75.8 583.9,75.8 584.9,75.8 585.9,75.7 586.9,75.7 587.9,75.7 588.9,75.7 589.9,75.7 590.9,75.7 591.9,75.7 592.9,75.7 593.9,75.7 594.9,75.7 595.9,75.8 596.9,75.8 597.9,75.9 598.9,75.9 599.9,76 600.9,76.6 601.9,77.4 602.9,78.5 603.9,80.1 604.9,81.9 605.9,83.6 606.9,85.2 607.9,86.9 608.9,88.6 609.9,90.5 610.9,92.4 611.9,94.3 612.9,96.3 613.9,98.3 614.9,100.2 615.9,102.1 616.9,104.2 617.9,106.1 618.9,108.1 619.9,110.1 620.9,112.1 621.9,114.1 622.9,116.1 623.9,118.1 624.9,119.7 625.9,121.5 626.9,122.8 627.9,125.2 628.6,126 628.85,126.4 629.1,126.7 629.35,126.6 629.6,127.6 629.85,128 630.1,128 630.35,128.4 630.6,129.3 630.85,129.4 631.1,129.6 631.35,130.2 631.6,130.2 631.85,130.9 632.1,130.8 632.35,131.9 632.6,132.8 632.85,132.1 633.1,132.5 633.35,133.6 633.6,133.3 633.85,134.1 634.1,133.8 634.35,134.7 634.6,134.3 634.85,134.7 635.1,134.8 635.35,136 635.6,136.3 635.85,136.7 636.1,136.9 636.35,136.9 636.6,137 636.85,138.5 637.1,138.2 637.35,137.9 637.6,139.1 637.85,139.5 638.1,139.7 638.35,141 638.6,140.8 638.85,142 639.1,140.5 639.35,140.4 639.6,143.3 639.85,141.9 640.1,141.8 640.35,141.8 640.6,143.2 640.85,144.6 641.1,142.9 641.35,144.4 641.6,144.5 641.85,145.8 642.1,144.6 642.35,145 642.6,144.3 642.85,143.6 643.1,146.1 643.35,146.9 643.6,146.3 643.85,147.6 644.1,148.9 644.35,146 644.6,147.5 644.85,148.4 645.1,153 645.35,148.4 645.6,146.8 645.85,149.5 646.1,149.7 646.35,151.8 646.6,149.7 646.85,153 647.1,154.3 647.35,153.9 647.6,154.6 647.85,151 648.1,157 648.35,152.3 648.6,149.7 648.85,161.5 649.1,153.5 649.35,151.9 649.6,157.2 649.85,156.4 650.1,153.8 650.35,153.1 650.6,158 650.85,156.5 651.1,154.8 651.35,168.5 651.6,157.5 651.85,159.3 652.1,157.2 652.35,160.2 652.6,156.3 652.85,160.8 653.1,169.6 653.35,155.6 653.6,154.3 653.85,154.9 654.1,159.2 654.35,161.4 654.6,160.2 654.85,163.9 655.1,162.1 655.35,177.6 655.6,158.2 655.85,172.5 656.1,175.9 656.35,160.6 656.6,166.7 656.85,216.1 657.1,178.3 657.35,216.1 657.6,162.1 657.85,162.5 658.1,170.9 658.35,158.1 658.6,167.7 658.85,176.7 659.1,181.5 659.35,155.3 659.6,172.7 659.85,216.1 660.1,180.1 660.35,216.1 660.6,156.7 660.85,161.2 661.1,159.4 661.35,160.6 661.6,216.1 661.85,160.8 662.1,176.4 662.35,171.4 662.6,156.7 662.85,216.1 663.1,162.8 663.35,163.8 663.6,162.5 663.85,155.7 664.1,166.8 664.35,174 664.6,168.7 664.85,191.6 665.1,216.1 665.35,216.1 665.6,162.8 665.85,216.1 666.1,171.5 666.35,216.1 666.6,176.4 666.85,186.7 667.1,169.7 667.35,164.3 667.6,170.5 667.85,216.1 668.1,163.2 668.35,177 668.6,166.3 668.85,184.1 669.1,168.2 669.35,216.1 669.6,216.1 669.85,216.1 670.1,216.1 670.35,216.1 670.6,172.5 670.85,216.1 671.1,216.1 671.35,216.1 671.6,161.3 671.85,170.9 672.1,216.1 672.35,171.2 672.6,174.4 672.85,216.1"/>
<polyline clip-path="url(#cb)" fill="none" stroke="#7D4E4E" stroke-width="0.5" stroke-linejoin="round" points="369.65,160.3 369.9,216.1 370.15,216.1 370.4,216.1 370.65,216.1 370.9,194.6 371.15,158.9 371.4,162.6 371.65,166 371.9,216.1 372.15,216.1 372.4,216.1 372.65,216.1 372.9,176.6 373.15,216.1 373.4,168.5 373.65,158.8 373.9,203.7 374.15,191.4 374.4,216.1 374.65,179.9 374.9,169.3 375.15,184.9 375.4,194.4 375.65,176.4 375.9,200.6 376.15,216.1 376.4,216.1 376.65,216.1 376.9,216.1 377.15,172.7 377.4,216.1 377.65,216.1 377.9,216.1 378.15,216.1 378.4,216.1 378.65,216.1 378.9,164.7 379.15,182.3 379.4,186.7 379.65,169.2 379.9,216.1 380.15,187.6 380.4,216.1 380.65,216.1 380.9,168.3 381.15,216.1 381.4,216.1 381.65,216.1 381.9,179.6 382.15,166.6 382.4,216.1 382.65,216.1 382.9,188.5 383.15,216.1 383.4,216.1 383.65,168.7 383.9,172.4 384.15,216.1 384.4,216.1 384.65,167 384.9,169.7 385.15,187.6 385.4,216.1 385.65,164.9 385.9,172.3 386.15,165.4 386.4,172.4 386.65,170.7 386.9,216.1 387.15,216.1 387.4,216.1 387.65,216.1 387.9,179.6 388.15,178.4 388.4,216.1 388.65,170.9 388.9,174.8 389.15,216.1 389.4,163 389.65,164.9 389.9,216.1 390.15,170.3 390.4,163.5 390.65,216.1 390.9,216.1 391.15,184.8 391.4,184.1 391.65,178.2 391.9,216.1 392.15,184.7 392.4,172.9 392.65,167.6 392.9,182 393.15,172.3 393.4,216.1 393.65,216.1 393.9,181.9 394.15,180.9 394.4,216.1 394.65,171.1 394.9,176.3 395.15,216.1 395.4,216.1 395.65,178.6 395.9,216.1 396.15,158.4 396.4,204.3 396.65,170.9 396.9,161.5 397.15,216.1 397.4,216.1 397.65,158.7 397.9,216.1 398.15,216.1 398.4,216.1 398.65,203.6 398.9,183.9 399.15,216.1 399.4,216.1 399.65,216.1 399.9,155.5 400.15,174.7 400.4,166.2 400.65,179 400.9,172.2 401.15,168.1 401.4,216.1 401.65,174.2 401.9,178.7 402.15,216.1 402.4,167.9 402.65,175.6 402.9,197.4 403.15,168.7 403.4,216.1 403.65,166.3 403.9,176.7 404.15,216.1 404.4,164.3 404.65,161.4 404.9,216.1 405.15,170 405.4,176.3 405.65,170.6 405.9,186.2 406.15,160.7 406.4,163.3 406.65,216.1 406.9,216.1 407.15,173.8 407.4,216.1 407.65,216.1 407.9,170.2 408.15,216.1 408.4,216.1 408.65,216.1 408.9,196.3 409.15,216.1 409.4,166.4 409.65,158.5 409.9,216.1 410.15,216.1 410.4,216.1 410.65,168 410.9,176.6 411.15,172.2 411.4,216.1 411.65,216.1 411.9,216.1 412.15,172.6 412.4,168.4 412.65,216.1 412.9,216.1 413.15,216.1 413.4,165.9 413.65,216.1 413.9,216.1 414.15,216.1 414.4,159.4 414.65,173.6 414.9,216.1 415.15,216.1 415.4,216.1 415.65,216.1 415.9,177.8 416.15,165.8 416.4,172.2 416.65,174.6 416.9,191.9 417.15,176.8 417.4,216.1 417.65,161.3 417.9,216.1 418.15,216.1 418.4,216.1 418.65,216.1 418.9,186.5 419.15,216.1 419.4,172.9 419.65,216.1 419.9,216.1 420.15,216.1 420.4,174.6 420.65,158.4 420.9,193.9 421.15,177.7 421.4,216.1 421.65,163.6 421.9,216.1 422.15,169.8 422.4,216.1 422.65,216.1 422.9,216.1 423.15,187.3 423.4,171.3 423.65,216.1 423.9,183.8 424.15,178.9 424.4,216.1 424.65,171.5 424.9,175.8 425.15,216.1 425.4,216.1 425.65,216.1 425.9,216.1 426.15,178.1 426.4,169.8 426.65,176.2 426.9,177.4 427.15,216.1 427.4,216.1 427.65,178.4 427.9,216.1 428.15,165.7 428.4,216.1 428.65,216.1 428.9,167 429.15,216.1 429.4,216.1 429.65,216.1 429.9,162.5 430.15,190.1 430.4,196.3 430.65,216.1 430.9,160.2 431.15,204.9 431.4,216.1 431.65,216.1 431.9,216.1 432.15,185.1 432.4,216.1 432.65,178.2 432.9,178.6 433.15,184.2 433.4,216.1 433.65,216.1 433.9,158.9 434.15,216.1 434.4,159.5 434.65,174.9 434.9,170.8 435.15,171.9 435.4,174.1 435.65,171.4 435.9,216.1 436.15,216.1 436.4,216.1 436.65,170 436.9,216.1 437.15,216.1 437.4,216.1 437.65,175 437.9,216.1 438.15,216.1 438.4,187.2 438.65,162.3 438.9,216.1 439.15,181.8 439.4,216.1 439.65,164.4 439.9,165.5 440.15,216.1 440.4,205 440.65,216.1 440.9,216.1 441.15,167.6 441.4,160.9 441.65,216.1 441.9,216.1 442.15,216.1 442.4,178.6 442.65,166.2 442.9,163.2 443.15,183.6 443.4,165.6 443.65,202.8 443.9,216.1 444.15,165.2 444.4,216.1 444.65,216.1 444.9,216.1 445.15,216.1 445.4,183.1 445.65,216.1 445.9,172.8 446.15,216.1 446.4,168.6 446.65,216.1 446.9,165.6 447.15,169.7 447.4,216.1 447.65,216.1 447.9,216.1 448.15,162.5 448.4,169.4 448.65,197 448.9,216.1 449.15,216.1 449.4,160.4 449.65,216.1 449.9,216.1 450.15,176.4 450.4,216.1 450.65,216.1 450.9,216.1 451.15,216.1 451.4,174.6 451.65,216.1 451.9,216.1 452.15,216.1 452.4,216.1 452.65,181.8 452.9,167.2 453.15,216.1 453.4,216.1 453.65,159.2 453.9,157 454.15,158.7 454.4,160.3 454.65,216.1 454.9,184.3 455.15,164.7 455.4,172.3 455.65,172.4 455.9,216.1 456.15,216.1 456.4,172.2 456.65,216.1 456.9,216.1 457.15,175.4 457.4,172 457.65,159.6 457.9,172.3 458.15,216.1 458.4,169.2 458.65,165.4 458.9,216.1 459.15,179.5 459.4,216.1 459.65,216.1 459.9,165.1 460.15,155.7 460.4,163.3 460.65,166.9 460.9,168.6 461.15,216.1 461.4,216.1 461.65,216.1 461.9,216.1 462.15,216.1 462.4,182.9 462.65,170.3 462.9,160.8 463.15,216.1 463.4,216.1 463.65,216.1 463.9,171.4 464.15,216.1 464.4,180.5 464.65,166.5 464.9,216.1 465.15,195.1 465.4,177.4 465.65,216.1 465.9,173.5 466.15,183.2 466.4,158.7 466.65,216.1 466.9,216.1 467.15,176.9 467.4,172.8 467.65,151 467.9,172.9 468.15,172.5 468.4,197 468.65,161.7 468.9,172.3 469.15,161.9 469.4,216.1 469.65,157.1 469.9,172.2 470.15,158.8 470.4,167.2 470.65,216.1 470.9,208.7 471.15,166 471.4,216.1 471.65,162.5 471.9,165.3 472.15,160.2 472.4,216.1 472.65,169.1 472.9,163.6 473.15,216.1 473.4,216.1 473.65,216.1 473.9,161.2 474.15,162.1 474.4,157.8 474.65,157.8 474.9,159.1 475.15,216.1 475.4,157 475.65,153.8 475.9,216.1 476.15,156.1 476.4,160.6 476.65,156.1 476.9,162.8 477.15,159.1 477.4,159.8 477.65,193.5 477.9,161.1 478.15,177.6 478.4,170.8 478.65,162.1 478.9,160.3 479.15,155.6 479.4,172.3 479.65,153.9 479.9,149.4 480.15,151.7 480.4,161.5 480.65,154.4 480.9,160.1 481.15,164.6 481.4,151.3 481.65,154.5 481.9,154.8 482.15,155.8 482.4,154.5 482.65,149 482.9,151 483.15,149.3 483.4,153.3 483.65,152.2 483.9,152.8 484.15,151.3 484.4,151 484.65,151.1 484.9,153 485.15,149.6 485.4,151.1 485.65,152.7 485.9,149 486.15,150.8 486.4,146.8 486.65,146.4 486.9,149.2 487.15,148 487.4,145.9 487.65,146.3 487.9,149.3 488.15,146.6 488.4,144.9 488.65,145.6 488.9,148.2 489.15,144.7 489.4,143.7 489.65,146.7 489.9,144.3 490.15,143.5 490.4,144.7 490.65,141.7 490.9,145.1 491.15,142.4 491.4,141.1 491.65,145.3 491.9,143.2 492.15,140.5 492.4,142.5 492.65,142.1 492.9,139.9 493.15,139.8 493.4,139.6 493.65,138 493.9,138.8 494.15,137.6 494.4,138.2 494.65,137.4 494.9,137.6 495.15,137.4 495.4,137.4 495.65,136 495.9,136.7 496.15,136.3 496.4,136.9 496.65,136.8 496.9,135.5 497.15,135 497.4,135.3 497.65,135.1 497.9,134.5 498.15,133.6 498.4,134.2 498.65,132.9 498.9,132.9 499.15,132.6 499.4,132.9 499.65,132.4 499.9,133 500.15,131.5 500.4,130.5 500.65,131 500.9,130.3 501.15,129.9 501.4,130.7 501.65,130.4 501.9,129.1 502.15,129.7 502.4,128.7 502.65,128 502.9,127.9 503.15,127.5 503.4,127.4 503.65,127 503.9,126.5 504.15,126.2 505.15,124.8 506.15,123.1 507.15,121.6 508.15,119.7 509.15,118 510.15,116.2 511.15,114.3 512.15,112.3 513.15,110.3 514.15,108 515.15,106 516.15,103.9 517.15,101.8 518.15,99.7 519.15,97.6 520.15,95.3 521.15,93 522.15,90.7 523.15,88.6 524.15,86.8 525.15,85.2 526.15,83.8 527.15,82.6 528.15,81.4 529.15,80.4 530.15,79.5 531.15,78.7 532.15,77.9 533.15,77.3 534.15,76.7 535.15,76.1 536.15,75.6 537.15,75.3 538.15,75.3 539.15,75.3 540.15,75.4 541.15,75.4 542.15,75.4 543.15,75.5 544.15,75.5 545.15,75.6 546.15,75.7 547.15,75.9 548.15,76 549.15,76.1 550.15,76.1 551.15,76.1 552.15,76.1 553.15,76.1 554.15,76.1 555.15,76.1 556.15,76.1 557.15,76.1 558.15,76.1 559.15,76 560.15,76 561.15,76 562.15,76 563.15,76 564.15,76 565.15,76 566.15,76 567.15,76 568.15,75.9 569.15,75.9 570.15,75.9 571.15,75.9 572.15,75.9 573.15,75.9 574.15,75.9 575.15,75.9 576.15,75.9 577.15,75.8 578.15,75.8 579.15,75.8 580.15,75.8 581.15,75.8 582.15,75.8 583.15,75.8 584.15,75.8 585.15,75.8 586.15,75.8 587.15,75.8 588.15,75.9 589.15,75.9 590.15,76 591.15,76.1 592.15,76.3 593.15,77 594.15,77.9 595.15,79.1 596.15,80.9 597.15,82.7 598.15,84.4 599.15,86 600.15,87.7 601.15,89.5 602.15,91.3 603.15,93.3 604.15,95.2 605.15,97.2 606.15,99.1 607.15,101.1 608.15,103 609.15,105 610.15,107 611.15,109.1 612.15,111 613.15,113.1 614.15,114.9 615.15,116.8 616.15,118.7 617.15,120.8 618.15,122.6 619.15,124 620.15,126 620.4,125.9 620.65,126.3 620.9,126.6 621.15,127.1 621.4,127.4 621.65,127.7 621.9,128.4 622.15,128.5 622.4,128.8 622.65,129.6 622.9,130.2 623.15,129.9 623.4,131.1 623.65,131 623.9,131.5 624.15,131.7 624.4,132.3 624.65,131.9 624.9,132.6 625.15,132.8 625.4,133.4 625.65,133.6 625.9,134.5 626.15,134.5 626.4,134.6 626.65,135.6 626.9,134.8 627.15,135.3 627.4,135.2 627.65,134.8 627.9,136.3 628.15,137.5 628.4,138.8 628.65,138.7 628.9,138 629.15,139 629.4,139.3 629.65,137.4 629.9,138.7 630.15,140.7 630.4,139.6 630.65,141.3 630.9,141.4 631.15,141.6 631.4,141.4 631.65,142.5 631.9,143.7 632.15,142 632.4,143 632.65,143.3 632.9,143.8 633.15,142.9 633.4,144.3 633.65,144.9 633.9,145 634.15,147.4 634.4,145.4 634.65,145 634.9,151.1 635.15,145.7 635.4,147.9 635.65,145.7 635.9,149.8 636.15,150.5 636.4,149.8 636.65,150.2 636.9,146.1 637.15,147.3 637.4,150.9 637.65,146 637.9,150.3 638.15,150.6 638.4,154.7 638.65,148.2 638.9,150.3 639.15,148.8 639.4,152.7 639.65,150.5 639.9,165.5 640.15,150.9 640.4,158.9 640.65,153.3 640.9,151.9 641.15,151 641.4,158.6 641.65,155.3 641.9,153.7 642.15,153.8 642.4,154.9 642.65,165.1 642.9,157.5 643.15,151.2 643.4,155.5 643.65,156.2 643.9,157.3 644.15,173.6 644.4,153.1 644.65,149 644.9,157.9 645.15,156.8 645.4,157 645.65,164.8 645.9,159.3 646.15,180.5 646.4,157.2 646.65,171.9 646.9,165.2 647.15,171 647.4,158.1 647.65,154.8 647.9,163.5 648.15,159.8 648.4,162.5 648.65,155.5 648.9,162.3 649.15,162.8 649.4,164.5 649.65,158 649.9,168.1 650.15,216.1 650.4,216.1 650.65,216.1 650.9,161.8 651.15,160.5 651.4,160.1 651.65,167.2 651.9,216.1 652.15,166.5 652.4,216.1 652.65,170.6 652.9,173 653.15,161 653.4,154.2 653.65,175.4 653.9,156.9 654.15,216.1 654.4,216.1 654.65,165.6 654.9,180.4 655.15,162.7 655.4,159.3 655.65,160.6 655.9,216.1 656.15,177.3 656.4,169.3 656.65,216.1 656.9,174.8 657.15,216.1 657.4,216.1 657.65,177.4 657.9,163.7 658.15,174.4 658.4,159.8 658.65,173.1 658.9,169.9 659.15,161.5 659.4,189.2 659.65,162.5 659.9,171.6 660.15,179.7 660.4,216.1 660.65,216.1 660.9,216.1 661.15,216.1 661.4,174.3 661.65,216.1 661.9,179.4 662.15,168.1 662.4,165.2 662.65,216.1 662.9,216.1 663.15,175.2 663.4,216.1 663.65,164.1 663.9,182.5 664.15,216.1 664.4,216.1 664.65,216.1 664.9,216.1 665.15,216.1 665.4,216.1 665.65,199.1 665.9,216.1 666.15,216.1 666.4,169.7 666.65,213.6 666.9,216.1 667.15,216.1 667.4,216.1 667.65,216.1 667.9,171.8 668.15,216.1 668.4,216.1 668.65,216.1 668.9,170.5 669.15,159.7 669.4,180.8 669.65,216.1 669.9,163.7 670.15,216.1 670.4,162.2 670.65,216.1 670.9,181.3 671.15,216.1 671.4,205.5 671.65,216.1 671.9,169.1 672.15,168.5 672.4,216.1 672.65,216.1 672.9,178.6"/>
<polyline clip-path="url(#cb)" fill="none" stroke="#8E8E00" stroke-width="0.5" stroke-linejoin="round" points="369.65,174.4 369.9,216.1 370.15,171.6 370.4,216.1 370.65,216.1 370.9,168.5 371.15,170.7 371.4,216.1 371.65,216.1 371.9,180.4 372.15,164.9 372.4,170.1 372.65,216.1 372.9,216.1 373.15,162 373.4,216.1 373.65,216.1 373.9,192.9 374.15,182.8 374.4,216.1 374.65,216.1 374.9,216.1 375.15,162.9 375.4,216.1 375.65,162.5 375.9,182.5 376.15,169 376.4,216.1 376.65,165.8 376.9,216.1 377.15,169.7 377.4,216.1 377.65,216.1 377.9,167.7 378.15,216.1 378.4,216.1 378.65,170.4 378.9,178.1 379.15,177.4 379.4,216.1 379.65,172.7 379.9,216.1 380.15,216.1 380.4,156.4 380.65,182.5 380.9,216.1 381.15,162.1 381.4,216.1 381.65,216.1 381.9,171.4 382.15,159.2 382.4,216.1 382.65,216.1 382.9,177.2 383.15,173.9 383.4,167 383.65,175.3 383.9,216.1 384.15,168.7 384.4,216.1 384.65,200.9 384.9,216.1 385.15,216.1 385.4,178.2 385.65,216.1 385.9,216.1 386.15,186.7 386.4,171.1 386.65,216.1 386.9,216.1 387.15,216.1 387.4,216.1 387.65,180.4 387.9,216.1 388.15,201.4 388.4,161.6 388.65,216.1 388.9,180.6 389.15,216.1 389.4,216.1 389.65,216.1 389.9,177.9 390.15,216.1 390.4,164.6 390.65,172.8 390.9,164.7 391.15,165.5 391.4,190 391.65,163.5 391.9,216.1 392.15,216.1 392.4,160 392.65,170.9 392.9,216.1 393.15,216.1 393.4,167.3 393.65,158.3 393.9,216.1 394.15,216.1 394.4,161.1 394.65,170.7 394.9,164.3 395.15,161.3 395.4,176.6 395.65,216.1 395.9,216.1 396.15,216.1 396.4,216.1 396.65,216.1 396.9,216.1 397.15,216.1 397.4,216.1 397.65,216.1 397.9,162.8 398.15,166 398.4,181.4 398.65,170 398.9,216.1 399.15,216.1 399.4,216.1 399.65,189 399.9,216.1 400.15,164.1 400.4,169.1 400.65,182.3 400.9,182.9 401.15,216.1 401.4,165 401.65,216.1 401.9,192.9 402.15,216.1 402.4,161.1 402.65,188.9 402.9,166.3 403.15,216.1 403.4,216.1 403.65,172.6 403.9,216.1 404.15,216.1 404.4,166.1 404.65,216.1 404.9,188.5 405.15,216.1 405.4,216.1 405.65,166.6 405.9,188.1 406.15,216.1 406.4,177.7 406.65,167.9 406.9,216.1 407.15,216.1 407.4,216.1 407.65,216.1 407.9,175.9 408.15,216.1 408.4,216.1 408.65,216.1 408.9,164.5 409.15,216.1 409.4,216.1 409.65,195.8 409.9,157.2 410.15,216.1 410.4,216.1 410.65,216.1 410.9,216.1 411.15,216.1 411.4,183.7 411.65,216.1 411.9,216.1 412.15,216.1 412.4,216.1 412.65,177.7 412.9,216.1 413.15,194 413.4,216.1 413.65,216.1 413.9,216.1 414.15,216.1 414.4,182.4 414.65,216.1 414.9,179 415.15,216.1 415.4,216.1 415.65,179.9 415.9,159.8 416.15,216.1 416.4,165.9 416.65,155.3 416.9,216.1 417.15,216.1 417.4,161.7 417.65,178.9 417.9,173.3 418.15,166.8 418.4,216.1 418.65,216.1 418.9,216.1 419.15,216.1 419.4,216.1 419.65,216.1 419.9,216.1 420.15,216.1 420.4,169 420.65,175.2 420.9,216.1 421.15,216.1 421.4,216.1 421.65,170.1 421.9,216.1 422.15,216.1 422.4,216.1 422.65,168.3 422.9,216.1 423.15,192 423.4,161.6 423.65,216.1 423.9,169.4 424.15,164 424.4,178.2 424.65,179.3 424.9,197.6 425.15,216.1 425.4,216.1 425.65,216.1 425.9,166 426.15,164.8 426.4,155.3 426.65,171.9 426.9,184.1 427.15,216.1 427.4,178.7 427.65,197.9 427.9,171.4 428.15,216.1 428.4,216.1 428.65,193.7 428.9,181.3 429.15,216.1 429.4,171.6 429.65,177.8 429.9,157.6 430.15,216.1 430.4,216.1 430.65,168.5 430.9,216.1 431.15,216.1 431.4,216.1 431.65,166.3 431.9,216.1 432.15,216.1 432.4,174 432.65,216.1 432.9,216.1 433.15,178 433.4,216.1 433.65,216.1 433.9,216.1 434.15,181.7 434.4,170.6 434.65,168.7 434.9,216.1 435.15,216.1 435.4,216.1 435.65,216.1 435.9,162.2 436.15,216.1 436.4,183.7 436.65,181.8 436.9,166.2 437.15,216.1 437.4,160.6 437.65,216.1 437.9,169.9 438.15,173.1 438.4,178.1 438.65,216.1 438.9,216.1 439.15,170.6 439.4,180 439.65,216.1 439.9,170.3 440.15,216.1 440.4,216.1 440.65,166.5 440.9,216.1 441.15,168.1 441.4,173.9 441.65,175.3 441.9,178.9 442.15,216.1 442.4,216.1 442.65,166.8 442.9,216.1 443.15,216.1 443.4,216.1 443.65,158.3 443.9,216.1 444.15,216.1 444.4,216.1 444.65,216.1 444.9,155.7 445.15,216.1 445.4,168.6 445.65,216.1 445.9,216.1 446.15,167.2 446.4,188.1 446.65,216.1 446.9,178.4 447.15,216.1 447.4,168.8 447.65,162.4 447.9,160.4 448.15,178.7 448.4,163.3 448.65,177.7 448.9,183.1 449.15,216.1 449.4,216.1 449.65,216.1 449.9,216.1 450.15,176.4 450.4,182.3 450.65,166.3 450.9,159 451.15,166 451.4,216.1 451.65,156.7 451.9,152.5 452.15,216.1 452.4,216.1 452.65,171.3 452.9,159.4 453.15,166.4 453.4,167.6 453.65,161.1 453.9,162.1 454.15,216.1 454.4,216.1 454.65,155.9 454.9,166.6 455.15,159.7 455.4,216.1 455.65,184.6 455.9,216.1 456.15,210.5 456.4,170.1 456.65,216.1 456.9,163.1 457.15,166 457.4,174.7 457.65,159.9 457.9,216.1 458.15,163.2 458.4,162.8 458.65,162.5 458.9,216.1 459.15,156.8 459.4,164.3 459.65,160.7 459.9,170.8 460.15,160.4 460.4,161.8 460.65,170.7 460.9,162.4 461.15,165.5 461.4,172.3 461.65,184.2 461.9,166.5 462.15,169.7 462.4,173.6 462.65,164.8 462.9,165 463.15,156.8 463.4,159.9 463.65,157.9 463.9,161.7 464.15,168.3 464.4,165.8 464.65,162.4 464.9,157 465.15,154.7 465.4,159.7 465.65,156.7 465.9,159.7 466.15,162.9 466.4,169.3 466.65,162.6 466.9,159.6 467.15,155 467.4,162.9 467.65,155.2 467.9,152.1 468.15,157.6 468.4,159 468.65,156.4 468.9,154 469.15,153.3 469.4,150.9 469.65,153.4 469.9,157.7 470.15,149 470.4,153.4 470.65,165.4 470.9,155.1 471.15,149.7 471.4,153.1 471.65,149.8 471.9,153.4 472.15,152.1 472.4,151.2 472.65,150.2 472.9,150.8 473.15,147.9 473.4,152.3 473.65,147.5 473.9,147.5 474.15,146.5 474.4,149 474.65,147.1 474.9,146.5 475.15,147.8 475.4,147.3 475.65,148.5 475.9,145.4 476.15,146.4 476.4,143.5 476.65,143.7 476.9,142.9 477.15,143 477.4,143.3 477.65,142.6 477.9,142.5 478.15,143.8 478.4,141 478.65,142.1 478.9,142.8 479.15,143.7 479.4,140.6 479.65,139.9 479.9,140.4 480.15,140.3 480.4,139.9 480.65,140.1 480.9,139.5 481.15,139 481.4,139 481.65,138.1 481.9,138.8 482.15,137.6 482.4,137.4 482.65,137 482.9,136.3 483.15,136.8 483.4,136.7 483.65,136.5 483.9,134.9 484.15,136.2 484.4,134.9 484.65,133.7 484.9,134 485.15,133.5 485.4,133.1 485.65,133.1 485.9,133.5 486.15,132.2 486.4,131.8 486.65,131.8 486.9,131.8 487.15,131.7 487.4,131.3 487.65,130.6 487.9,130.4 488.15,130.1 488.4,130.7 488.65,129.7 488.9,128.9 489.15,128.3 489.4,128.3 489.65,128.3 489.9,127.8 490.15,127.2 490.4,126.9 490.65,126.8 490.9,126.1 491.15,125.9 492.15,124.6 493.15,123 494.15,121.8 495.15,119.5 496.15,117.7 497.15,116 498.15,113.9 499.15,111.9 500.15,109.8 501.15,107.7 502.15,105.5 503.15,103.5 504.15,101.4 505.15,99.3 506.15,97.1 507.15,94.8 508.15,92.5 509.15,90.2 510.15,88.2 511.15,86.5 512.15,85 513.15,83.6 514.15,82.4 515.15,81.3 516.15,80.3 517.15,79.4 518.15,78.6 519.15,77.9 520.15,77.3 521.15,76.7 522.15,76.1 523.15,75.7 524.15,75.5 525.15,75.5 526.15,75.5 527.15,75.6 528.15,75.6 529.15,75.7 530.15,75.7 531.15,75.8 532.15,75.9 533.15,76 534.15,76.1 535.15,76.2 536.15,76.3 537.15,76.3 538.15,76.3 539.15,76.3 540.15,76.3 541.15,76.3 542.15,76.3 543.15,76.3 544.15,76.3 545.15,76.2 546.15,76.2 547.15,76.2 548.15,76.2 549.15,76.2 550.15,76.2 551.15,76.2 552.15,76.2 553.15,76.2 554.15,76.2 555.15,76.1 556.15,76.1 557.15,76.1 558.15,76.1 559.15,76.1 560.15,76.1 561.15,76.1 562.15,76.1 563.15,76.1 564.15,76 565.15,76 566.15,76 567.15,76 568.15,76 569.15,76 570.15,76 571.15,76 572.15,76 573.15,76 574.15,76.1 575.15,76.1 576.15,76.2 577.15,76.2 578.15,76.3 579.15,76.7 580.15,77.5 581.15,78.5 582.15,80 583.15,81.8 584.15,83.6 585.15,85.2 586.15,86.9 587.15,88.6 588.15,90.4 589.15,92.3 590.15,94.3 591.15,96.2 592.15,98.2 593.15,100.1 594.15,102 595.15,104 596.15,106 597.15,108.1 598.15,110 599.15,112.1 600.15,114 601.15,116 602.15,117.8 603.15,119.7 604.15,121.4 605.15,123.3 606.15,124.8 606.85,125.9 607.1,126.5 607.35,126.9 607.6,127.5 607.85,127.4 608.1,127.7 608.35,128.7 608.6,129.2 608.85,128.9 609.1,130.2 609.35,129.7 609.6,130.2 609.85,131 610.1,130.8 610.35,131.3 610.6,131.7 610.85,131.9 611.1,132.3 611.35,132.7 611.6,133.8 611.85,133.5 612.1,133.9 612.35,134.5 612.6,134.1 612.85,135 613.1,135.5 613.35,135.6 613.6,135.6 613.85,135.9 614.1,136.7 614.35,138 614.6,136.3 614.85,137.6 615.1,138.5 615.35,138.8 615.6,139.2 615.85,138.7 616.1,139.3 616.35,139.3 616.6,140.1 616.85,143.2 617.1,141.4 617.35,141 617.6,141.7 617.85,140.9 618.1,141.3 618.35,144.1 618.6,142 618.85,144.1 619.1,142.9 619.35,143.8 619.6,144.6 619.85,145.3 620.1,144.3 620.35,148.5 620.6,144.7 620.85,144.8 621.1,149.9 621.35,146.4 621.6,149.5 621.85,145.9 622.1,149.1 622.35,148.6 622.6,145.8 622.85,149 623.1,149.9 623.35,153.4 623.6,151.5 623.85,147.4 624.1,149 624.35,148.8 624.6,149.6 624.85,151.4 625.1,147.8 625.35,153.6 625.6,151.8 625.85,155.7 626.1,159.6 626.35,157.8 626.6,158.5 626.85,154.7 627.1,153.7 627.35,154.4 627.6,161.1 627.85,154.8 628.1,163.3 628.35,156.3 628.6,154.6 628.85,155.2 629.1,159.1 629.35,168.6 629.6,156.2 629.85,153.8 630.1,154.4 630.35,159.1 630.6,158.2 630.85,152.4 631.1,155.1 631.35,153.6 631.6,154 631.85,168.9 632.1,160.2 632.35,159.9 632.6,165.4 632.85,155.5 633.1,156.6 633.35,169.4 633.6,159 633.85,156 634.1,176 634.35,173.2 634.6,187 634.85,164.1 635.1,158.6 635.35,174.9 635.6,176.6 635.85,168.5 636.1,216.1 636.35,170.2 636.6,155.1 636.85,162.1 637.1,172.9 637.35,158.6 637.6,176 637.85,158.4 638.1,173.9 638.35,166 638.6,163.3 638.85,176.8 639.1,163.4 639.35,188.9 639.6,166.8 639.85,163.9 640.1,216.1 640.35,216.1 640.6,216.1 640.85,160.2 641.1,178.7 641.35,162.7 641.6,216.1 641.85,216.1 642.1,170.9 642.35,163.3 642.6,216.1 642.85,216.1 643.1,165.3 643.35,160.6 643.6,179.9 643.85,160.8 644.1,216.1 644.35,182.5 644.6,165.8 644.85,185.8 645.1,159.5 645.35,163 645.6,159.2 645.85,216.1 646.1,216.1 646.35,216.1 646.6,201.6 646.85,216.1 647.1,184.8 647.35,183.6 647.6,216.1 647.85,216.1 648.1,159.9 648.35,192.3 648.6,216.1 648.85,216.1 649.1,182.7 649.35,216.1 649.6,165.6 649.85,177.6 650.1,216.1 650.35,166.3 650.6,216.1 650.85,165.2 651.1,164.4 651.35,167.4 651.6,163.5 651.85,216.1 652.1,158.3 652.35,216.1 652.6,216.1 652.85,163.9 653.1,165.4 653.35,216.1 653.6,172 653.85,216.1 654.1,216.1 654.35,176.7 654.6,178.1 654.85,168.6 655.1,180.4 655.35,163.1 655.6,216.1 655.85,168.5 656.1,216.1 656.35,161.9 656.6,216.1 656.85,216.1 657.1,161.2 657.35,156 657.6,216.1 657.85,178.2 658.1,186.6 658.35,174.2 658.6,176.2 658.85,180.6 659.1,216.1 659.35,194.2 659.6,216.1 659.85,188.3 660.1,216.1 660.35,187 660.6,164.1 660.85,210.3 661.1,165.2 661.35,216.1 661.6,165.2 661.85,180 662.1,216.1 662.35,216.1 662.6,170.6 662.85,216.1 663.1,162.9 663.35,216.1 663.6,216.1 663.85,216.1 664.1,165.8 664.35,216.1 664.6,167.2 664.85,216.1 665.1,181.2 665.35,216.1 665.6,185.7 665.85,181.6 666.1,164.4 666.35,167.3 666.6,216.1 666.85,216.1 667.1,154.5 667.35,174 667.6,216.1 667.85,216.1 668.1,176.8 668.35,216.1 668.6,216.1 668.85,163.1 669.1,216.1 669.35,186.1 669.6,216.1 669.85,216.1 670.1,216.1 670.35,216.1 670.6,174.8 670.85,216.1 671.1,165.9 671.35,216.1 671.6,196 671.85,216.1 672.1,216.1 672.35,163.3 672.6,169.1 672.85,191.3"/>
<polyline clip-path="url(#cb)" fill="none" stroke="#FB6501" stroke-width="0.5" stroke-linejoin="round" points="369.65,174.4 369.9,216.1 370.15,169.1 370.4,216.1 370.65,175.1 370.9,171 371.15,216.1 371.4,175.5 371.65,216.1 371.9,216.1 372.15,182.3 372.4,216.1 372.65,166.9 372.9,216.1 373.15,177.1 373.4,216.1 373.65,164.6 373.9,173 374.15,216.1 374.4,171.8 374.65,169.6 374.9,216.1 375.15,216.1 375.4,216.1 375.65,216.1 375.9,189.4 376.15,197.8 376.4,216.1 376.65,216.1 376.9,177.3 377.15,167.7 377.4,175.2 377.65,216.1 377.9,159.2 378.15,216.1 378.4,182.6 378.65,177.8 378.9,216.1 379.15,171.4 379.4,187.2 379.65,216.1 379.9,170.6 380.15,165.2 380.4,183 380.65,216.1 380.9,166.4 381.15,171.9 381.4,216.1 381.65,164.5 381.9,216.1 382.15,216.1 382.4,216.1 382.65,158.6 382.9,216.1 383.15,216.1 383.4,172.1 383.65,216.1 383.9,216.1 384.15,216.1 384.4,178.2 384.65,216.1 384.9,197.6 385.15,216.1 385.4,216.1 385.65,175.2 385.9,164.7 386.15,216.1 386.4,198.8 386.65,168.2 386.9,178.1 387.15,166.8 387.4,166.8 387.65,216.1 387.9,216.1 388.15,178.8 388.4,183.2 388.65,169.6 388.9,216.1 389.15,169.7 389.4,176 389.65,216.1 389.9,157.1 390.15,216.1 390.4,166.1 390.65,180.5 390.9,160 391.15,158.8 391.4,169.3 391.65,216.1 391.9,168.1 392.15,216.1 392.4,216.1 392.65,172.4 392.9,157.3 393.15,216.1 393.4,216.1 393.65,194.7 393.9,216.1 394.15,216.1 394.4,169.8 394.65,216.1 394.9,216.1 395.15,216.1 395.4,216.1 395.65,183.2 395.9,216.1 396.15,216.1 396.4,216.1 396.65,199.1 396.9,216.1 397.15,216.1 397.4,216.1 397.65,180.5 397.9,216.1 398.15,216.1 398.4,216.1 398.65,171.8 398.9,172.9 399.15,216.1 399.4,163.8 399.65,216.1 399.9,216.1 400.15,190.6 400.4,216.1 400.65,216.1 400.9,174.8 401.15,216.1 401.4,159.2 401.65,165.1 401.9,161.7 402.15,216.1 402.4,216.1 402.65,158.9 402.9,160.5 403.15,176.5 403.4,179.5 403.65,216.1 403.9,185.2 404.15,165.8 404.4,216.1 404.65,216.1 404.9,170.5 405.15,216.1 405.4,174.6 405.65,178.2 405.9,163.3 406.15,175.2 406.4,216.1 406.65,174.4 406.9,216.1 407.15,216.1 407.4,216.1 407.65,216.1 407.9,163.9 408.15,173.6 408.4,213.8 408.65,171 408.9,175 409.15,200.3 409.4,216.1 409.65,157.8 409.9,172.2 410.15,216.1 410.4,157.2 410.65,216.1 410.9,216.1 411.15,177.5 411.4,200.6 411.65,216.1 411.9,216.1 412.15,216.1 412.4,216.1 412.65,216.1 412.9,216.1 413.15,216.1 413.4,216.1 413.65,158.4 413.9,168.2 414.15,216.1 414.4,158.2 414.65,216.1 414.9,168.3 415.15,216.1 415.4,157.2 415.65,216.1 415.9,174.8 416.15,216.1 416.4,176.9 416.65,216.1 416.9,216.1 417.15,177 417.4,216.1 417.65,216.1 417.9,168.2 418.15,174.1 418.4,216.1 418.65,216.1 418.9,216.1 419.15,216.1 419.4,216.1 419.65,164.7 419.9,166.8 420.15,216.1 420.4,216.1 420.65,216.1 420.9,216.1 421.15,216.1 421.4,184.6 421.65,216.1 421.9,172.9 422.15,216.1 422.4,216.1 422.65,216.1 422.9,216.1 423.15,216.1 423.4,163 423.65,216.1 423.9,216.1 424.15,216.1 424.4,216.1 424.65,216.1 424.9,168.5 425.15,180.3 425.4,216.1 425.65,170.6 425.9,166 426.15,162.6 426.4,168.9 426.65,216.1 426.9,216.1 427.15,180.8 427.4,165.8 427.65,187.4 427.9,216.1 428.15,170.5 428.4,216.1 428.65,169.2 428.9,180.9 429.15,179.9 429.4,216.1 429.65,168.1 429.9,161.6 430.15,216.1 430.4,168.1 430.65,216.1 430.9,216.1 431.15,175.3 431.4,158.9 431.65,216.1 431.9,170.7 432.15,216.1 432.4,216.1 432.65,216.1 432.9,169.8 433.15,171 433.4,177.7 433.65,216.1 433.9,171.6 434.15,216.1 434.4,216.1 434.65,216.1 434.9,216.1 435.15,170.4 435.4,216.1 435.65,173.4 435.9,216.1 436.15,204.3 436.4,168 436.65,216.1 436.9,174.8 437.15,216.1 437.4,216.1 437.65,160.6 437.9,164.8 438.15,177.7 438.4,181.3 438.65,216.1 438.9,173.3 439.15,216.1 439.4,216.1 439.65,162.7 439.9,171.2 440.15,216.1 440.4,216.1 440.65,171.5 440.9,216.1 441.15,216.1 441.4,216.1 441.65,216.1 441.9,200.7 442.15,216.1 442.4,181.2 442.65,165.9 442.9,184.5 443.15,216.1 443.4,164.5 443.65,171 443.9,164.5 444.15,166.2 444.4,216.1 444.65,216.1 444.9,174.4 445.15,167.6 445.4,168.9 445.65,216.1 445.9,164.3 446.15,216.1 446.4,207.9 446.65,164.4 446.9,158.4 447.15,162.3 447.4,216.1 447.65,158.6 447.9,170.3 448.15,159.3 448.4,216.1 448.65,171.4 448.9,169.3 449.15,160.6 449.4,216.1 449.65,157.2 449.9,174.5 450.15,216.1 450.4,216.1 450.65,156.8 450.9,216.1 451.15,191.8 451.4,165 451.65,162.7 451.9,183.7 452.15,169.2 452.4,216.1 452.65,157.2 452.9,176 453.15,156.3 453.4,174.2 453.65,154.2 453.9,168 454.15,153 454.4,177.9 454.65,157.4 454.9,157.4 455.15,165.3 455.4,165 455.65,216.1 455.9,172 456.15,160 456.4,166.5 456.65,159.2 456.9,155.1 457.15,160.1 457.4,166.1 457.65,156.6 457.9,168.1 458.15,152.5 458.4,159 458.65,154.8 458.9,157.1 459.15,153.1 459.4,157.1 459.65,166.7 459.9,153 460.15,158.7 460.4,161.2 460.65,167.8 460.9,156.5 461.15,154.4 461.4,151.9 461.65,153.9 461.9,153.4 462.15,153.9 462.4,151 462.65,152 462.9,159.1 463.15,153.8 463.4,154.1 463.65,152.5 463.9,155.6 464.15,152.1 464.4,154.7 464.65,149.5 464.9,149.7 465.15,149.3 465.4,152.6 465.65,154 465.9,149.1 466.15,150.9 466.4,147.6 466.65,148.2 466.9,148.2 467.15,148.1 467.4,149.4 467.65,148.1 467.9,145.6 468.15,147 468.4,147.9 468.65,147.6 468.9,146.1 469.15,142.9 469.4,145 469.65,143.7 469.9,143 470.15,141.4 470.4,142.1 470.65,142.8 470.9,142 471.15,142.5 471.4,141.1 471.65,141 471.9,141.9 472.15,143.1 472.4,141.6 472.65,142.5 472.9,140.8 473.15,140.1 473.4,139.8 473.65,139.9 473.9,140.7 474.15,139.2 474.4,139.5 474.65,139.2 474.9,138.7 475.15,137.8 475.4,137.6 475.65,137 475.9,137.3 476.15,137.2 476.4,136.7 476.65,136.5 476.9,135.6 477.15,135.3 477.4,135 477.65,135.2 477.9,134.9 478.15,134.2 478.4,135.1 478.65,132.8 478.9,133.2 479.15,132.9 479.4,132.8 479.65,131.5 479.9,132.3 480.15,132.4 480.4,131.5 480.65,130.9 480.9,130 481.15,130.6 481.4,130.7 481.65,130.2 481.9,129.9 482.15,129.3 482.4,128.4 482.65,128.7 482.9,128.1 483.15,128.2 483.4,128.1 483.65,127.4 483.9,127.1 484.15,126.7 484.4,126.5 485.4,124.6 486.4,123.2 487.4,121.8 488.4,119.9 489.4,118.1 490.4,116.1 491.4,114.1 492.4,112.1 493.4,110.1 494.4,108 495.4,105.8 496.4,103.8 497.4,101.7 498.4,99.6 499.4,97.4 500.4,95.1 501.4,92.8 502.4,90.5 503.4,88.5 504.4,86.7 505.4,85.2 506.4,83.9 507.4,82.6 508.4,81.5 509.4,80.5 510.4,79.6 511.4,78.8 512.4,78.1 513.4,77.5 514.4,76.9 515.4,76.3 516.4,75.8 517.4,75.6 518.4,75.6 519.4,75.6 520.4,75.7 521.4,75.7 522.4,75.8 523.4,75.8 524.4,75.9 525.4,76 526.4,76.1 527.4,76.2 528.4,76.3 529.4,76.4 530.4,76.4 531.4,76.4 532.4,76.4 533.4,76.4 534.4,76.4 535.4,76.4 536.4,76.4 537.4,76.4 538.4,76.3 539.4,76.3 540.4,76.3 541.4,76.3 542.4,76.3 543.4,76.3 544.4,76.3 545.4,76.3 546.4,76.3 547.4,76.2 548.4,76.2 549.4,76.2 550.4,76.2 551.4,76.2 552.4,76.2 553.4,76.2 554.4,76.2 555.4,76.2 556.4,76.2 557.4,76.1 558.4,76.1 559.4,76.1 560.4,76.1 561.4,76.1 562.4,76.1 563.4,76.1 564.4,76.1 565.4,76.1 566.4,76.1 567.4,76.1 568.4,76.2 569.4,76.2 570.4,76.3 571.4,76.4 572.4,76.8 573.4,77.5 574.4,78.6 575.4,79.9 576.4,81.7 577.4,83.5 578.4,85.2 579.4,86.8 580.4,88.5 581.4,90.3 582.4,92.2 583.4,94.1 584.4,96.1 585.4,98.1 586.4,100 587.4,101.9 588.4,103.9 589.4,105.9 590.4,107.9 591.4,109.9 592.4,112 593.4,113.9 594.4,115.9 595.4,117.9 596.4,119.7 597.4,121.4 598.4,123.2 599.4,124.9 600.15,125.6 600.4,126.4 600.65,126.5 600.9,127.1 601.15,127.3 601.4,127.8 601.65,128.2 601.9,128.9 602.15,129 602.4,129.5 602.65,129.4 602.9,130.5 603.15,130.7 603.4,130.6 603.65,131.2 603.9,131.8 604.15,131 604.4,132.5 604.65,132.6 604.9,132.1 605.15,134.1 605.4,134 605.65,134.2 605.9,135.2 606.15,135.9 606.4,135.1 606.65,135.5 606.9,136.2 607.15,135.8 607.4,136.5 607.65,137.4 607.9,138.7 608.15,137.5 608.4,138 608.65,139.5 608.9,138.2 609.15,139.2 609.4,139.7 609.65,140.2 609.9,139.8 610.15,141.7 610.4,140.6 610.65,142.8 610.9,141.5 611.15,141.6 611.4,141.9 611.65,141.8 611.9,142.5 612.15,142.2 612.4,143.2 612.65,143.9 612.9,144.4 613.15,141.6 613.4,143.4 613.65,143.7 613.9,144.2 614.15,145.7 614.4,144.2 614.65,145.8 614.9,148.1 615.15,146.3 615.4,151.6 615.65,144.8 615.9,149.5 616.15,147.7 616.4,152.3 616.65,152.3 616.9,151.4 617.15,148.3 617.4,149.8 617.65,154.4 617.9,152.4 618.15,149 618.4,155.9 618.65,154.1 618.9,149.7 619.15,155.1 619.4,154.4 619.65,153.7 619.9,154.5 620.15,155.9 620.4,152 620.65,152 620.9,154.2 621.15,155.9 621.4,155 621.65,155.5 621.9,153.8 622.15,157.8 622.4,157.8 622.65,160.5 622.9,156.8 623.15,158.3 623.4,163.8 623.65,160.2 623.9,167.8 624.15,155.9 624.4,154.3 624.65,171.8 624.9,157.7 625.15,159.4 625.4,160.6 625.65,183.8 625.9,177.7 626.15,163.9 626.4,169.4 626.65,178.2 626.9,154 627.15,176.8 627.4,184.8 627.65,165.9 627.9,166.9 628.15,166.8 628.4,177.5 628.65,161.1 628.9,165.7 629.15,169 629.4,216.1 629.65,165.5 629.9,167 630.15,216.1 630.4,159.6 630.65,175.1 630.9,216.1 631.15,167.9 631.4,158.1 631.65,166.9 631.9,157.5 632.15,158.8 632.4,159.8 632.65,216.1 632.9,175.4 633.15,173.1 633.4,163.1 633.65,168 633.9,216.1 634.15,180.9 634.4,162.4 634.65,165.3 634.9,178.6 635.15,194.1 635.4,160.8 635.65,177.7 635.9,156.9 636.15,169.7 636.4,152.3 636.65,167.8 636.9,158.2 637.15,216.1 637.4,162 637.65,216.1 637.9,216.1 638.15,173.7 638.4,174.2 638.65,181.6 638.9,216.1 639.15,216.1 639.4,167.7 639.65,216.1 639.9,216.1 640.15,184.4 640.4,216.1 640.65,216.1 640.9,166.2 641.15,163.3 641.4,174.7 641.65,168.9 641.9,216.1 642.15,157.6 642.4,216.1 642.65,216.1 642.9,180 643.15,175.6 643.4,170.6 643.65,216.1 643.9,156.8 644.15,216.1 644.4,179.3 644.65,216.1 644.9,165.5 645.15,216.1 645.4,216.1 645.65,163 645.9,216.1 646.15,216.1 646.4,216.1 646.65,182 646.9,216.1 647.15,216.1 647.4,160.7 647.65,162 647.9,163.1 648.15,177 648.4,168.8 648.65,216.1 648.9,216.1 649.15,155.9 649.4,170.4 649.65,184.2 649.9,216.1 650.15,216.1 650.4,216.1 650.65,216.1 650.9,178.6 651.15,216.1 651.4,216.1 651.65,169.9 651.9,178.4 652.15,175.6 652.4,193.6 652.65,162.6 652.9,185.6 653.15,169 653.4,161.8 653.65,164.8 653.9,160.9 654.15,163 654.4,159.9 654.65,170.4 654.9,166.8 655.15,159.9 655.4,161.9 655.65,176.4 655.9,179.3 656.15,166.5 656.4,169.7 656.65,207 656.9,216.1 657.15,216.1 657.4,179.2 657.65,180.3 657.9,167.7 658.15,216.1 658.4,165.3 658.65,216.1 658.9,165.3 659.15,179.5 659.4,216.1 659.65,216.1 659.9,216.1 660.15,216.1 660.4,157.4 660.65,172.6 660.9,169 661.15,157.5 661.4,154.6 661.65,216.1 661.9,177.1 662.15,216.1 662.4,216.1 662.65,171.6 662.9,216.1 663.15,216.1 663.4,216.1 663.65,170.9 663.9,216.1 664.15,216.1 664.4,216.1 664.65,216.1 664.9,216.1 665.15,162.6 665.4,160.6 665.65,178.8 665.9,177.9 666.15,187.8 666.4,178.6 666.65,173.6 666.9,216.1 667.15,216.1 667.4,168.7 667.65,169.1 667.9,216.1 668.15,197.1 668.4,165.1 668.65,177.6 668.9,216.1 669.15,216.1 669.4,165.3 669.65,169.5 669.9,216.1 670.15,216.1 670.4,216.1 670.65,216.1 670.9,216.1 671.15,163.9 671.4,159.7 671.65,180.6 671.9,165.9 672.15,216.1 672.4,159.7 672.65,216.1 672.9,216.1"/>
<polyline clip-path="url(#cb)" fill="none" stroke="#6699CC" stroke-width="0.5" stroke-linejoin="round" points="369.65,175.2 369.9,181.8 370.15,216.1 370.4,216.1 370.65,163.6 370.9,163.7 371.15,216.1 371.4,163.3 371.65,158.1 371.9,157.5 372.15,171.5 372.4,216.1 372.65,158.1 372.9,171.4 373.15,159.5 373.4,216.1 373.65,216.1 373.9,170.8 374.15,190.8 374.4,168.2 374.65,162.2 374.9,216.1 375.15,169.3 375.4,216.1 375.65,216.1 375.9,216.1 376.15,164.7 376.4,165.8 376.65,216.1 376.9,216.1 377.15,216.1 377.4,161.7 377.65,171.3 377.9,195.8 378.15,179 378.4,216.1 378.65,216.1 378.9,216.1 379.15,216.1 379.4,172.5 379.65,216.1 379.9,182.7 380.15,156.2 380.4,179.8 380.65,216.1 380.9,216.1 381.15,216.1 381.4,179.3 381.65,160.5 381.9,165.6 382.15,175.6 382.4,196.9 382.65,168.6 382.9,216.1 383.15,164.5 383.4,169.9 383.65,174.5 383.9,174.3 384.15,173.8 384.4,179.8 384.65,169.1 384.9,216.1 385.15,216.1 385.4,216.1 385.65,160 385.9,170.9 386.15,165 386.4,172.4 386.65,175.3 386.9,216.1 387.15,216.1 387.4,216.1 387.65,216.1 387.9,174.5 388.15,160.1 388.4,162.7 388.65,158.1 388.9,173.1 389.15,190.8 389.4,216.1 389.65,216.1 389.9,169.7 390.15,216.1 390.4,185.7 390.65,216.1 390.9,179.6 391.15,216.1 391.4,216.1 391.65,183.4 391.9,176.1 392.15,176.9 392.4,168.3 392.65,216.1 392.9,167 393.15,216.1 393.4,159 393.65,216.1 393.9,216.1 394.15,216.1 394.4,216.1 394.65,216.1 394.9,216.1 395.15,162.1 395.4,216.1 395.65,173.4 395.9,216.1 396.15,166.3 396.4,216.1 396.65,168.8 396.9,216.1 397.15,173.7 397.4,169.5 397.65,167.6 397.9,160.7 398.15,174.4 398.4,174 398.65,216.1 398.9,177.1 399.15,216.1 399.4,165.3 399.65,216.1 399.9,175.9 400.15,216.1 400.4,164.8 400.65,216.1 400.9,167.1 401.15,216.1 401.4,161.2 401.65,216.1 401.9,216.1 402.15,216.1 402.4,216.1 402.65,216.1 402.9,182.2 403.15,174.8 403.4,194.9 403.65,216.1 403.9,168 404.15,155.4 404.4,164.5 404.65,171.6 404.9,162.8 405.15,170.6 405.4,208.7 405.65,216.1 405.9,216.1 406.15,216.1 406.4,216.1 406.65,170.6 406.9,183.5 407.15,216.1 407.4,174 407.65,216.1 407.9,216.1 408.15,216.1 408.4,182.8 408.65,216.1 408.9,192.1 409.15,216.1 409.4,216.1 409.65,216.1 409.9,199.2 410.15,216.1 410.4,176.1 410.65,166.6 410.9,170.4 411.15,172.5 411.4,216.1 411.65,176.5 411.9,216.1 412.15,216.1 412.4,182.2 412.65,216.1 412.9,216.1 413.15,216.1 413.4,173.8 413.65,196.3 413.9,216.1 414.15,216.1 414.4,164.5 414.65,216.1 414.9,160.2 415.15,216.1 415.4,216.1 415.65,180.5 415.9,216.1 416.15,184.6 416.4,177 416.65,175.3 416.9,216.1 417.15,174.5 417.4,216.1 417.65,157.7 417.9,164.4 418.15,216.1 418.4,163.5 418.65,216.1 418.9,185 419.15,166.4 419.4,216.1 419.65,169.4 419.9,182.6 420.15,176 420.4,216.1 420.65,216.1 420.9,216.1 421.15,216.1 421.4,216.1 421.65,216.1 421.9,216.1 422.15,216.1 422.4,216.1 422.65,165.4 422.9,173.4 423.15,164.1 423.4,216.1 423.65,216.1 423.9,216.1 424.15,216.1 424.4,216.1 424.65,216.1 424.9,187.3 425.15,216.1 425.4,216.1 425.65,169.7 425.9,167 426.15,216.1 426.4,169.1 426.65,164.9 426.9,216.1 427.15,162.1 427.4,216.1 427.65,168 427.9,167.8 428.15,176.4 428.4,216.1 428.65,164.2 428.9,167.2 429.15,157.5 429.4,161.1 429.65,195.2 429.9,175.3 430.15,170.6 430.4,216.1 430.65,166 430.9,216.1 431.15,169.1 431.4,174.5 431.65,155.9 431.9,190.7 432.15,160.5 432.4,167.2 432.65,169.2 432.9,162.5 433.15,162.8 433.4,159.9 433.65,216.1 433.9,168.1 434.15,163 434.4,165.5 434.65,165.8 434.9,165.8 435.15,216.1 435.4,216.1 435.65,154.1 435.9,177.3 436.15,161.2 436.4,165.9 436.65,216.1 436.9,163 437.15,161.6 437.4,175.7 437.65,167.8 437.9,153.4 438.15,168 438.4,175.2 438.65,198.9 438.9,159.3 439.15,168.5 439.4,164.1 439.65,169.8 439.9,158.3 440.15,216.1 440.4,216.1 440.65,169.2 440.9,162.7 441.15,216.1 441.4,159.8 441.65,163.5 441.9,171.7 442.15,159.5 442.4,168.3 442.65,163.2 442.9,161.4 443.15,159.9 443.4,168.1 443.65,171.3 443.9,157.6 444.15,153.7 444.4,159.1 444.65,159 444.9,156.3 445.15,178.9 445.4,155.4 445.65,165.3 445.9,157.7 446.15,152.5 446.4,156 446.65,154.3 446.9,158.5 447.15,161.1 447.4,154.5 447.65,156 447.9,149.3 448.15,149.9 448.4,154.8 448.65,152.1 448.9,151.9 449.15,157.8 449.4,151.7 449.65,153.3 449.9,149.2 450.15,151.1 450.4,149.6 450.65,148.3 450.9,150.7 451.15,151.5 451.4,151.7 451.65,152 451.9,148.7 452.15,147.3 452.4,148.7 452.65,148 452.9,149.4 453.15,145.8 453.4,147.5 453.65,147.4 453.9,146.4 454.15,146.4 454.4,146.3 454.65,145.1 454.9,145 455.15,148.4 455.4,146.3 455.65,143.8 455.9,143.9 456.15,144 456.4,142.1 456.65,142.4 456.9,144.7 457.15,141.3 457.4,141.9 457.65,141.6 457.9,141.2 458.15,140 458.4,140.9 458.65,140.9 458.9,139.3 459.15,139.7 459.4,138.7 459.65,140 459.9,138.8 460.15,138.8 460.4,139.3 460.65,138.6 460.9,138.1 461.15,137.2 461.4,136.7 461.65,136 461.9,137.2 462.15,135 462.4,135.6 462.65,134.4 462.9,134.7 463.15,134.1 463.4,134.5 463.65,134.6 463.9,133.6 464.15,133.5 464.4,134.8 464.65,132.7 464.9,132.2 465.15,132.5 465.4,131.9 465.65,132.4 465.9,131.8 466.15,131.2 466.4,130.6 466.65,130.4 466.9,130.7 467.15,130.1 467.4,129 467.65,129.1 467.9,128.8 468.15,128.5 468.4,128 468.65,127.9 468.9,128.1 469.15,127.2 469.4,126.8 469.65,126.4 470.65,124.8 471.65,123.3 472.65,121.6 473.65,119.7 474.65,117.9 475.65,116 476.65,114.1 477.65,112 478.65,110 479.65,107.8 480.65,105.7 481.65,103.7 482.65,101.5 483.65,99.5 484.65,97.3 485.65,94.9 486.65,92.6 487.65,90.4 488.65,88.4 489.65,86.8 490.65,85.3 491.65,83.9 492.65,82.7 493.65,81.6 494.65,80.7 495.65,79.8 496.65,79 497.65,78.3 498.65,77.7 499.65,77.1 500.65,76.5 501.65,76.1 502.65,76 503.65,76 504.65,76 505.65,76.1 506.65,76.1 507.65,76.2 508.65,76.2 509.65,76.3 510.65,76.4 511.65,76.5 512.65,76.6 513.65,76.7 514.65,76.8 515.65,76.8 516.65,76.8 517.65,76.8 518.65,76.8 519.65,76.8 520.65,76.8 521.65,76.8 522.65,76.8 523.65,76.7 524.65,76.7 525.65,76.7 526.65,76.7 527.65,76.7 528.65,76.7 529.65,76.7 530.65,76.7 531.65,76.7 532.65,76.6 533.65,76.6 534.65,76.6 535.65,76.6 536.65,76.6 537.65,76.6 538.65,76.6 539.65,76.6 540.65,76.6 541.65,76.6 542.65,76.5 543.65,76.5 544.65,76.5 545.65,76.5 546.65,76.5 547.65,76.5 548.65,76.5 549.65,76.5 550.65,76.5 551.65,76.5 552.65,76.5 553.65,76.6 554.65,76.6 555.65,76.7 556.65,76.8 557.65,77.1 558.65,77.9 559.65,78.9 560.65,80.2 561.65,82.1 562.65,83.8 563.65,85.5 564.65,87.1 565.65,88.8 566.65,90.6 567.65,92.5 568.65,94.4 569.65,96.4 570.65,98.4 571.65,100.3 572.65,102.3 573.65,104.2 574.65,106.2 575.65,108.3 576.65,110.2 577.65,112.2 578.65,114.2 579.65,116 580.65,118.2 581.65,119.9 582.65,121.8 583.65,123.5 584.65,125 585.2,125.9 585.45,126.3 585.7,126.9 585.95,127.3 586.2,127.7 586.45,128.1 586.7,128.6 586.95,128.6 587.2,129.1 587.45,129.2 587.7,130.1 587.95,130.2 588.2,130.7 588.45,130.8 588.7,131.1 588.95,131.6 589.2,131.8 589.45,132.8 589.7,132.9 589.95,133.6 590.2,133.7 590.45,133.6 590.7,134.7 590.95,133.9 591.2,135.4 591.45,135.3 591.7,136.2 591.95,135.5 592.2,136 592.45,136.6 592.7,137 592.95,137.2 593.2,137.2 593.45,139.2 593.7,138.6 593.95,139.1 594.2,138.7 594.45,139.7 594.7,140.2 594.95,140 595.2,139.9 595.45,140.4 595.7,142 595.95,141.9 596.2,140.8 596.45,142.5 596.7,143.6 596.95,141.1 597.2,141.7 597.45,145.2 597.7,144.2 597.95,143.5 598.2,145.8 598.45,144.2 598.7,143.9 598.95,144.6 599.2,148.2 599.45,145 599.7,147 599.95,145.8 600.2,147.2 600.45,149 600.7,150.6 600.95,147 601.2,142.6 601.45,148.4 601.7,149.8 601.95,149.8 602.2,149.1 602.45,150.8 602.7,148.9 602.95,148.3 603.2,152.5 603.45,151 603.7,152.6 603.95,157.6 604.2,155.2 604.45,150.5 604.7,152.7 604.95,156.7 605.2,151.8 605.45,164.5 605.7,154.1 605.95,152.3 606.2,175.3 606.45,156.4 606.7,157.6 606.95,152.2 607.2,160.2 607.45,179.2 607.7,160.1 607.95,153.3 608.2,163.4 608.45,157.3 608.7,165.7 608.95,160 609.2,155.1 609.45,159.9 609.7,154.3 609.95,161.1 610.2,158.4 610.45,162.8 610.7,157.2 610.95,216.1 611.2,162.6 611.45,159.8 611.7,170 611.95,156.8 612.2,156.5 612.45,163.7 612.7,168.8 612.95,170.9 613.2,162.1 613.45,160.6 613.7,175.6 613.95,163.9 614.2,186.5 614.45,159.3 614.7,164.2 614.95,171.2 615.2,166.8 615.45,169.5 615.7,162.2 615.95,173.6 616.2,164.1 616.45,164.6 616.7,167.9 616.95,173.3 617.2,160 617.45,184 617.7,163 617.95,216.1 618.2,160.3 618.45,155.5 618.7,157.6 618.95,161.6 619.2,216.1 619.45,164.2 619.7,160.6 619.95,216.1 620.2,174.5 620.45,163.9 620.7,169.8 620.95,175.5 621.2,216.1 621.45,185.1 621.7,216.1 621.95,216.1 622.2,155.7 622.45,168.3 622.7,167.5 622.95,216.1 623.2,216.1 623.45,206.3 623.7,216.1 623.95,164.2 624.2,169.5 624.45,198.3 624.7,216.1 624.95,216.1 625.2,172.6 625.45,170.1 625.7,184.7 625.95,165.7 626.2,159.6 626.45,216.1 626.7,174.1 626.95,161.7 627.2,162.5 627.45,172.5 627.7,216.1 627.95,167.9 628.2,163.3 628.45,216.1 628.7,216.1 628.95,161 629.2,171.5 629.45,173.9 629.7,189.4 629.95,216.1 630.2,216.1 630.45,216.1 630.7,156.1 630.95,162.1 631.2,216.1 631.45,216.1 631.7,165.4 631.95,166.4 632.2,169.4 632.45,216.1 632.7,216.1 632.95,168.3 633.2,216.1 633.45,216.1 633.7,183 633.95,216.1 634.2,216.1 634.45,216.1 634.7,216.1 634.95,216.1 635.2,216.1 635.45,177.6 635.7,157.8 635.95,169.5 636.2,192.4 636.45,161.5 636.7,160.5 636.95,178.7 637.2,169.2 637.45,158 637.7,176 637.95,170.8 638.2,167.7 638.45,216.1 638.7,165.2 638.95,216.1 639.2,177.1 639.45,216.1 639.7,216.1 639.95,182.7 640.2,167.1 640.45,176.4 640.7,165.3 640.95,216.1 641.2,216.1 641.45,216.1 641.7,216.1 641.95,177.9 642.2,160.6 642.45,216.1 642.7,157 642.95,171.4 643.2,216.1 643.45,159.9 643.7,168.4 643.95,166.8 644.2,216.1 644.45,216.1 644.7,216.1 644.95,216.1 645.2,216.1 645.45,216.1 645.7,171.9 645.95,216.1 646.2,216.1 646.45,160.7 646.7,170.3 646.95,196.7 647.2,216.1 647.45,216.1 647.7,216.1 647.95,187.1 648.2,166.1 648.45,169 648.7,174.7 648.95,216.1 649.2,160.7 649.45,170.9 649.7,216.1 649.95,169 650.2,163.2 650.45,168 650.7,194.7 650.95,184.5 651.2,166.2 651.45,216.1 651.7,216.1 651.95,167.7 652.2,216.1 652.45,216.1 652.7,216.1 652.95,216.1 653.2,181.1 653.45,157.1 653.7,216.1 653.95,167.6 654.2,163.9 654.45,216.1 654.7,177.3 654.95,167.8 655.2,171.1 655.45,216.1 655.7,216.1 655.95,158.8 656.2,164.3 656.45,216.1 656.7,216.1 656.95,216.1 657.2,165.3 657.45,172.7 657.7,216.1 657.95,216.1 658.2,216.1 658.45,216.1 658.7,162.8 658.95,192.1 659.2,172.8 659.45,174.7 659.7,216.1 659.95,216.1 660.2,216.1 660.45,216.1 660.7,216.1 660.95,161.3 661.2,216.1 661.45,216.1 661.7,208.5 661.95,216.1 662.2,172.7 662.45,216.1 662.7,216.1 662.95,175.1 663.2,189 663.45,216.1 663.7,216.1 663.95,216.1 664.2,216.1 664.45,216.1 664.7,189.3 664.95,165.3 665.2,162.4 665.45,216.1 665.7,161.1 665.95,167.2 666.2,216.1 666.45,164.9 666.7,216.1 666.95,216.1 667.2,216.1 667.45,216.1 667.7,216.1 667.95,172.5 668.2,165 668.45,216.1 668.7,216.1 668.95,216.1 669.2,166.6 669.45,216.1 669.7,216.1 669.95,216.1 670.2,169.6 670.45,216.1 670.7,216.1 670.95,216.1 671.2,216.1 671.45,181.2 671.7,216.1 671.95,216.1 672.2,167.4 672.45,188.6 672.7,169.1"/>
<polyline clip-path="url(#cb)" fill="none" stroke="#6FB802" stroke-width="0.5" stroke-linejoin="round" points="369.65,216.1 369.9,216.1 370.15,216.1 370.4,157 370.65,216.1 370.9,216.1 371.15,159.1 371.4,216.1 371.65,216.1 371.9,216.1 372.15,177.3 372.4,171.1 372.65,216.1 372.9,216.1 373.15,171.8 373.4,179.9 373.65,216.1 373.9,216.1 374.15,216.1 374.4,216.1 374.65,216.1 374.9,216.1 375.15,171.2 375.4,160 375.65,169.9 375.9,184.7 376.15,216.1 376.4,158.4 376.65,216.1 376.9,183.2 377.15,159 377.4,216.1 377.65,164.6 377.9,190.1 378.15,179.1 378.4,216.1 378.65,216.1 378.9,155.8 379.15,192.3 379.4,159.6 379.65,216.1 379.9,184.5 380.15,216.1 380.4,176.9 380.65,191.6 380.9,184.4 381.15,167.1 381.4,216.1 381.65,216.1 381.9,161.4 382.15,216.1 382.4,216.1 382.65,165.1 382.9,159.9 383.15,167.9 383.4,174.2 383.65,181.6 383.9,216.1 384.15,216.1 384.4,191.7 384.65,216.1 384.9,216.1 385.15,216.1 385.4,158.2 385.65,216.1 385.9,216.1 386.15,216.1 386.4,185.1 386.65,216.1 386.9,216.1 387.15,165.7 387.4,174.4 387.65,216.1 387.9,167.4 388.15,216.1 388.4,216.1 388.65,216.1 388.9,181.2 389.15,167.4 389.4,216.1 389.65,171.2 389.9,170.6 390.15,165.2 390.4,216.1 390.65,167.1 390.9,216.1 391.15,216.1 391.4,193.7 391.65,186.9 391.9,171.5 392.15,216.1 392.4,189.9 392.65,167.7 392.9,216.1 393.15,166.2 393.4,166.9 393.65,216.1 393.9,216.1 394.15,188 394.4,216.1 394.65,181.7 394.9,158.4 395.15,163.4 395.4,215.2 395.65,216.1 395.9,216.1 396.15,216.1 396.4,186 396.65,176 396.9,154.6 397.15,183.7 397.4,216.1 397.65,161 397.9,216.1 398.15,164.2 398.4,170.3 398.65,182.7 398.9,216.1 399.15,216.1 399.4,185.8 399.65,216.1 399.9,179.1 400.15,216.1 400.4,216.1 400.65,216.1 400.9,169.9 401.15,170.2 401.4,167.6 401.65,171.6 401.9,216.1 402.15,178.8 402.4,166.1 402.65,177 402.9,166.1 403.15,216.1 403.4,216.1 403.65,175.9 403.9,162.8 404.15,216.1 404.4,216.1 404.65,168.3 404.9,163.4 405.15,216.1 405.4,198.4 405.65,176.5 405.9,216.1 406.15,216.1 406.4,178.5 406.65,216.1 406.9,216.1 407.15,160.5 407.4,175.4 407.65,170.3 407.9,187.2 408.15,216.1 408.4,216.1 408.65,216.1 408.9,166 409.15,191.4 409.4,168.7 409.65,216.1 409.9,171.3 410.15,166.2 410.4,166.7 410.65,168.5 410.9,216.1 411.15,166.5 411.4,167.8 411.65,216.1 411.9,175.5 412.15,216.1 412.4,216.1 412.65,216.1 412.9,216.1 413.15,174.3 413.4,216.1 413.65,216.1 413.9,216.1 414.15,216.1 414.4,216.1 414.65,170.2 414.9,216.1 415.15,216.1 415.4,216.1 415.65,164 415.9,216.1 416.15,186.7 416.4,216.1 416.65,216.1 416.9,216.1 417.15,171.9 417.4,216.1 417.65,216.1 417.9,185.3 418.15,216.1 418.4,164 418.65,200.1 418.9,188.5 419.15,160.9 419.4,216.1 419.65,185.5 419.9,174.1 420.15,156.9 420.4,216.1 420.65,216.1 420.9,186.5 421.15,216.1 421.4,216.1 421.65,216.1 421.9,156.9 422.15,215.3 422.4,171.3 422.65,216.1 422.9,155.5 423.15,168.2 423.4,166.2 423.65,190.9 423.9,160.6 424.15,171 424.4,178.4 424.65,164.3 424.9,160.3 425.15,173.3 425.4,159.8 425.65,159 425.9,216.1 426.15,162.7 426.4,176.3 426.65,159.2 426.9,167.9 427.15,168.2 427.4,165.9 427.65,163.1 427.9,159.2 428.15,163.4 428.4,164 428.65,166 428.9,158.6 429.15,173.1 429.4,166.9 429.65,157.7 429.9,162.6 430.15,157.6 430.4,164.4 430.65,157.3 430.9,157.2 431.15,160 431.4,159.5 431.65,159.4 431.9,158.6 432.15,157.3 432.4,152.7 432.65,158.2 432.9,152.4 433.15,159.2 433.4,153.8 433.65,160.6 433.9,158.1 434.15,157.1 434.4,160.5 434.65,152.6 434.9,151.3 435.15,151.4 435.4,160.7 435.65,153.5 435.9,152.5 436.15,160.7 436.4,149.8 436.65,149.1 436.9,148.3 437.15,152.7 437.4,150.5 437.65,151.6 437.9,154.2 438.15,151.1 438.4,151.7 438.65,152.2 438.9,148.9 439.15,149.9 439.4,148.7 439.65,147.8 439.9,148.2 440.15,146.5 440.4,146.7 440.65,147.4 440.9,147.1 441.15,146.6 441.4,145.5 441.65,146.7 441.9,146 442.15,146.3 442.4,145.4 442.65,146.4 442.9,147.1 443.15,147.5 443.4,144.2 443.65,143.6 443.9,143.9 444.15,142 444.4,143.4 444.65,143 444.9,140.4 445.15,141.7 445.4,141.2 445.65,140.9 445.9,141.7 446.15,140.9 446.4,139.8 446.65,139.5 446.9,139.6 447.15,140.4 447.4,139.6 447.65,138.5 447.9,138.3 448.15,139.2 448.4,138.3 448.65,137.8 448.9,138.2 449.15,136.6 449.4,137 449.65,136.6 449.9,137.9 450.15,135.8 450.4,135.2 450.65,134.9 450.9,135.3 451.15,134.8 451.4,135 451.65,133.9 451.9,134.2 452.15,134.2 452.4,133.5 452.65,132.5 452.9,132.6 453.15,131.9 453.4,132.3 453.65,132 453.9,132.1 454.15,131.5 454.4,130.9 454.65,130.3 454.9,130.2 455.15,130.1 455.4,129.3 455.65,129.2 455.9,128.3 456.15,127.9 456.4,127.7 456.65,127.9 456.9,127.6 457.15,127.2 457.4,126.5 457.65,126.5 458.65,124.6 459.65,123 460.65,121.5 461.65,119.6 462.65,117.5 463.65,115.8 464.65,113.9 465.65,111.8 466.65,109.8 467.65,107.7 468.65,105.6 469.65,103.4 470.65,101.3 471.65,99.2 472.65,97 473.65,94.6 474.65,92.3 475.65,90.2 476.65,88.3 477.65,86.7 478.65,85.3 479.65,84 480.65,82.8 481.65,81.7 482.65,80.8 483.65,79.9 484.65,79.2 485.65,78.5 486.65,77.9 487.65,77.3 488.65,76.8 489.65,76.5 490.65,76.4 491.65,76.4 492.65,76.4 493.65,76.5 494.65,76.5 495.65,76.6 496.65,76.6 497.65,76.7 498.65,76.8 499.65,76.9 500.65,77 501.65,77.1 502.65,77.2 503.65,77.2 504.65,77.2 505.65,77.2 506.65,77.2 507.65,77.2 508.65,77.2 509.65,77.2 510.65,77.2 511.65,77.1 512.65,77.1 513.65,77.1 514.65,77.1 515.65,77.1 516.65,77.1 517.65,77.1 518.65,77.1 519.65,77.1 520.65,77 521.65,77 522.65,77 523.65,77 524.65,77 525.65,77 526.65,77 527.65,77 528.65,77 529.65,76.9 530.65,76.9 531.65,76.9 532.65,76.9 533.65,76.9 534.65,76.9 535.65,76.9 536.65,76.9 537.65,76.9 538.65,76.9 539.65,76.9 540.65,77 541.65,77 542.65,77.1 543.65,77.2 544.65,77.3 545.65,78 546.65,78.9 547.65,80 548.65,81.7 549.65,83.6 550.65,85.2 551.65,86.9 552.65,88.5 553.65,90.3 554.65,92.1 555.65,94.1 556.65,96 557.65,98 558.65,99.9 559.65,101.9 560.65,103.8 561.65,105.8 562.65,107.9 563.65,109.8 564.65,111.7 565.65,114 566.65,115.8 567.65,117.6 568.65,119.7 569.65,121.4 570.65,123.1 571.65,124.7 572.35,125.9 572.6,126.5 572.85,126.7 573.1,127.3 573.35,127.9 573.6,128 573.85,128.2 574.1,129.1 574.35,129 574.6,129.4 574.85,130.2 575.1,129.8 575.35,131 575.6,130.9 575.85,131.7 576.1,131.6 576.35,132.1 576.6,132.2 576.85,132.8 577.1,132.9 577.35,132.8 577.6,135.4 577.85,133.5 578.1,134.1 578.35,135.2 578.6,135.6 578.85,135.4 579.1,134.6 579.35,136.3 579.6,136.6 579.85,137.8 580.1,136.8 580.35,137.9 580.6,138.4 580.85,138.7 581.1,138.8 581.35,140.1 581.6,139.6 581.85,139.9 582.1,140.5 582.35,139.3 582.6,139.6 582.85,141.7 583.1,141.9 583.35,140.9 583.6,143 583.85,142.9 584.1,143 584.35,142.5 584.6,144.3 584.85,145.4 585.1,145.8 585.35,145.5 585.6,146.3 585.85,145.5 586.1,143.9 586.35,148.2 586.6,145 586.85,145.5 587.1,145.5 587.35,149 587.6,145.4 587.85,145.4 588.1,146 588.35,152.7 588.6,150.4 588.85,148.2 589.1,147.1 589.35,148.1 589.6,151.6 589.85,147.6 590.1,151.2 590.35,149.7 590.6,152.2 590.85,156.2 591.1,153 591.35,154.5 591.6,154.2 591.85,155.1 592.1,154.6 592.35,151.3 592.6,152.7 592.85,155.2 593.1,152.3 593.35,162.6 593.6,155.9 593.85,154.3 594.1,154.2 594.35,154.9 594.6,154.6 594.85,154.9 595.1,159.9 595.35,159.5 595.6,158.3 595.85,158.2 596.1,166.3 596.35,169.3 596.6,159.3 596.85,167.8 597.1,170.7 597.35,169.9 597.6,164.3 597.85,165.6 598.1,160.3 598.35,158.7 598.6,160.3 598.85,156.4 599.1,178.6 599.35,163.6 599.6,160.9 599.85,165 600.1,157.7 600.35,178.7 600.6,161.1 600.85,160.1 601.1,168.7 601.35,153.6 601.6,164.3 601.85,164 602.1,173.4 602.35,159.1 602.6,216.1 602.85,161.4 603.1,175.4 603.35,158.6 603.6,166.6 603.85,174.8 604.1,166.1 604.35,171.9 604.6,201.2 604.85,175.5 605.1,173.2 605.35,160.5 605.6,155.2 605.85,166.1 606.1,171.8 606.35,179.4 606.6,172.1 606.85,216.1 607.1,180.6 607.35,216.1 607.6,178 607.85,159.4 608.1,174.5 608.35,163 608.6,162.6 608.85,168.8 609.1,183.4 609.35,204.5 609.6,216.1 609.85,164.8 610.1,216.1 610.35,216.1 610.6,163.1 610.85,216.1 611.1,168.6 611.35,173.6 611.6,216.1 611.85,216.1 612.1,216.1 612.35,216.1 612.6,216.1 612.85,216.1 613.1,167.3 613.35,216.1 613.6,216.1 613.85,216.1 614.1,216.1 614.35,185.7 614.6,163 614.85,161.8 615.1,216.1 615.35,177 615.6,216.1 615.85,216.1 616.1,216.1 616.35,216.1 616.6,182.9 616.85,179.5 617.1,165.8 617.35,168.7 617.6,198 617.85,166 618.1,157.8 618.35,164.6 618.6,164.6 618.85,164.4 619.1,216.1 619.35,216.1 619.6,216.1 619.85,216.1 620.1,165.5 620.35,216.1 620.6,216.1 620.85,216.1 621.1,185.9 621.35,216.1 621.6,162.6 621.85,216.1 622.1,170.1 622.35,216.1 622.6,216.1 622.85,216.1 623.1,172.6 623.35,216.1 623.6,216.1 623.85,184.9 624.1,216.1 624.35,216.1 624.6,216.1 624.85,216.1 625.1,177.9 625.35,160.8 625.6,168.3 625.85,216.1 626.1,216.1 626.35,216.1 626.6,186.7 626.85,168.9 627.1,216.1 627.35,216.1 627.6,163 627.85,170.3 628.1,166.9 628.35,176.5 628.6,176.9 628.85,216.1 629.1,216.1 629.35,157.2 629.6,175.8 629.85,173.2 630.1,216.1 630.35,163.6 630.6,174.2 630.85,162 631.1,216.1 631.35,216.1 631.6,160.4 631.85,216.1 632.1,164.4 632.35,165.9 632.6,194.1 632.85,216.1 633.1,169.4 633.35,165.9 633.6,216.1 633.85,216.1 634.1,216.1 634.35,216.1 634.6,159.3 634.85,216.1 635.1,216.1 635.35,155.8 635.6,157.4 635.85,175.1 636.1,216.1 636.35,192 636.6,216.1 636.85,216.1 637.1,216.1 637.35,168 637.6,216.1 637.85,163.6 638.1,216.1 638.35,216.1 638.6,175 638.85,216.1 639.1,216.1 639.35,216.1 639.6,190.1 639.85,216.1 640.1,197.4 640.35,216.1 640.6,216.1 640.85,216.1 641.1,172.9 641.35,164 641.6,216.1 641.85,216.1 642.1,216.1 642.35,216.1 642.6,166.9 642.85,216.1 643.1,164.1 643.35,162.1 643.6,177.7 643.85,175.8 644.1,216.1 644.35,167 644.6,216.1 644.85,162.7 645.1,165.4 645.35,216.1 645.6,164.8 645.85,216.1 646.1,166.8 646.35,174.1 646.6,184.4 646.85,216.1 647.1,216.1 647.35,161.5 647.6,216.1 647.85,216.1 648.1,216.1 648.35,170 648.6,162.9 648.85,216.1 649.1,216.1 649.35,165.5 649.6,155.9 649.85,159.1 650.1,168.7 650.35,216.1 650.6,187.7 650.85,166.1 651.1,162.9 651.35,216.1 651.6,216.1 651.85,216.1 652.1,216.1 652.35,216.1 652.6,152.5 652.85,216.1 653.1,216.1 653.35,167.4 653.6,216.1 653.85,167.8 654.1,216.1 654.35,216.1 654.6,173.2 654.85,166 655.1,170.7 655.35,216.1 655.6,216.1 655.85,216.1 656.1,216.1 656.35,216.1 656.6,216.1 656.85,216.1 657.1,216.1 657.35,216.1 657.6,216.1 657.85,164 658.1,216.1 658.35,169.6 658.6,216.1 658.85,216.1 659.1,216.1 659.35,161.3 659.6,160.9 659.85,209.5 660.1,173.1 660.35,216.1 660.6,216.1 660.85,216.1 661.1,178.5 661.35,216.1 661.6,174.1 661.85,216.1 662.1,216.1 662.35,182.8 662.6,182.6 662.85,216.1 663.1,162.5 663.35,216.1 663.6,179.4 663.85,174.7 664.1,216.1 664.35,216.1 664.6,216.1 664.85,216.1 665.1,216.1 665.35,174.5 665.6,216.1 665.85,216.1 666.1,172.4 666.35,174.6 666.6,169.3 666.85,216.1 667.1,168.5 667.35,216.1 667.6,216.1 667.85,167.1 668.1,172.7 668.35,185.4 668.6,216.1 668.85,191.1 669.1,216.1 669.35,161.4 669.6,166.3 669.85,164.6 670.1,216.1 670.35,174.9 670.6,164.7 670.85,216.1 671.1,216.1 671.35,173.7 671.6,191.9 671.85,216.1 672.1,162.3 672.35,216.1 672.6,158.3 672.85,216.1"/>
<polyline clip-path="url(#cb)" fill="none" stroke="#515151" stroke-width="0.5" stroke-linejoin="round" points="369.65,216.1 369.9,216.1 370.15,216.1 370.4,176.8 370.65,161.9 370.9,216.1 371.15,216.1 371.4,169.9 371.65,160.9 371.9,216.1 372.15,216.1 372.4,179 372.65,161.5 372.9,216.1 373.15,216.1 373.4,163 373.65,216.1 373.9,216.1 374.15,216.1 374.4,216.1 374.65,216.1 374.9,181.2 375.15,216.1 375.4,216.1 375.65,216.1 375.9,200.2 376.15,216.1 376.4,169.3 376.65,216.1 376.9,163.6 377.15,216.1 377.4,216.1 377.65,164.9 377.9,216.1 378.15,158.2 378.4,167.8 378.65,181.7 378.9,160.8 379.15,216.1 379.4,168.6 379.65,216.1 379.9,216.1 380.15,183.1 380.4,216.1 380.65,216.1 380.9,171.9 381.15,176.2 381.4,216.1 381.65,163.5 381.9,216.1 382.15,216.1 382.4,216.1 382.65,161.3 382.9,208.6 383.15,216.1 383.4,216.1 383.65,216.1 383.9,169.1 384.15,216.1 384.4,167.6 384.65,189.5 384.9,164.4 385.15,166.4 385.4,171.5 385.65,177 385.9,216.1 386.15,158.6 386.4,164.9 386.65,165.5 386.9,181.3 387.15,216.1 387.4,216.1 387.65,174 387.9,216.1 388.15,170.4 388.4,216.1 388.65,186.4 388.9,171 389.15,170.7 389.4,216.1 389.65,216.1 389.9,216.1 390.15,165.4 390.4,187.9 390.65,162.3 390.9,216.1 391.15,162.4 391.4,216.1 391.65,216.1 391.9,216.1 392.15,180.1 392.4,160.7 392.65,216.1 392.9,194.9 393.15,181.2 393.4,173.2 393.65,216.1 393.9,216.1 394.15,179.6 394.4,216.1 394.65,163.6 394.9,216.1 395.15,216.1 395.4,216.1 395.65,216.1 395.9,216.1 396.15,216.1 396.4,216.1 396.65,172.5 396.9,161.3 397.15,162.2 397.4,216.1 397.65,178.2 397.9,164 398.15,216.1 398.4,191.8 398.65,216.1 398.9,172.8 399.15,161.4 399.4,172.9 399.65,176.6 399.9,159.1 400.15,216.1 400.4,164.7 400.65,216.1 400.9,216.1 401.15,164.4 401.4,216.1 401.65,175.4 401.9,198.2 402.15,216.1 402.4,216.1 402.65,174.4 402.9,216.1 403.15,163.9 403.4,216.1 403.65,216.1 403.9,216.1 404.15,169 404.4,216.1 404.65,167.2 404.9,216.1 405.15,172.2 405.4,161.5 405.65,166.7 405.9,160.8 406.15,200.3 406.4,184.8 406.65,164.3 406.9,186.1 407.15,164.2 407.4,216.1 407.65,173.1 407.9,173.3 408.15,184.2 408.4,176.1 408.65,167.1 408.9,152.6 409.15,167.7 409.4,153.8 409.65,216.1 409.9,173.6 410.15,160.6 410.4,169.5 410.65,158.9 410.9,161.4 411.15,169.6 411.4,165.6 411.65,174.8 411.9,178.2 412.15,178.5 412.4,152.8 412.65,167.1 412.9,158.4 413.15,158.7 413.4,216.1 413.65,159.5 413.9,157.7 414.15,170.1 414.4,156.9 414.65,163 414.9,165.9 415.15,166.2 415.4,153.8 415.65,161.8 415.9,163.2 416.15,164.8 416.4,166.9 416.65,165 416.9,164.7 417.15,154.1 417.4,155.9 417.65,159.8 417.9,162.4 418.15,168.7 418.4,159.6 418.65,155.7 418.9,149.3 419.15,158.9 419.4,158.2 419.65,160.6 419.9,155.1 420.15,154.8 420.4,158.1 420.65,157.3 420.9,161.6 421.15,158.1 421.4,154.6 421.65,153.6 421.9,153.9 422.15,155.9 422.4,167.8 422.65,154 422.9,154 423.15,151.6 423.4,157.7 423.65,161.5 423.9,151.1 424.15,151.1 424.4,153.9 424.65,153 424.9,147.4 425.15,151.8 425.4,153.2 425.65,149 425.9,150.3 426.15,150.6 426.4,148.6 426.65,153.4 426.9,149.8 427.15,149.7 427.4,148.2 427.65,147.6 427.9,149.4 428.15,147.4 428.4,147.4 428.65,145.3 428.9,147.8 429.15,144.8 429.4,144.7 429.65,145.9 429.9,145.9 430.15,145.9 430.4,144.6 430.65,144.3 430.9,143.6 431.15,142.9 431.4,143.8 431.65,141.6 431.9,142.4 432.15,141.8 432.4,142 432.65,142.1 432.9,141.7 433.15,142.2 433.4,141.3 433.65,141.3 433.9,141.6 434.15,140.2 434.4,139.1 434.65,139 434.9,138.4 435.15,140.5 435.4,138.6 435.65,137.2 435.9,138 436.15,138.6 436.4,137.1 436.65,136.1 436.9,136.7 437.15,136.7 437.4,136.1 437.65,136 437.9,137.1 438.15,135.6 438.4,135.4 438.65,134.1 438.9,134.1 439.15,134.2 439.4,134.1 439.65,133 439.9,132.4 440.15,133.4 440.4,132.7 440.65,132.9 440.9,132.2 441.15,132.3 441.4,131.8 441.65,130.7 441.9,130.2 442.15,130.2 442.4,130.2 442.65,130.1 442.9,129.3 443.15,129 443.4,128.9 443.65,128.2 443.9,127.6 444.15,127.6 444.4,127.6 444.65,127 444.9,126.6 445.9,124.8 446.9,122.9 447.9,121.5 448.9,119.5 449.9,117.6 450.9,115.7 451.9,113.8 452.9,111.7 453.9,109.6 454.9,107.5 455.9,105.4 456.9,103.4 457.9,101.2 458.9,99.1 459.9,96.8 460.9,94.4 461.9,92.2 462.9,90.1 463.9,88.2 464.9,86.7 465.9,85.3 466.9,84.1 467.9,82.9 468.9,81.9 469.9,81 470.9,80.1 471.9,79.4 472.9,78.8 473.9,78.2 474.9,77.6 475.9,77.1 476.9,76.8 477.9,76.8 478.9,76.8 479.9,76.9 480.9,76.9 481.9,76.9 482.9,77 483.9,77 484.9,77.1 485.9,77.2 486.9,77.4 487.9,77.5 488.9,77.6 489.9,77.6 490.9,77.6 491.9,77.6 492.9,77.6 493.9,77.6 494.9,77.6 495.9,77.6 496.9,77.6 497.9,77.6 498.9,77.5 499.9,77.5 500.9,77.5 501.9,77.5 502.9,77.5 503.9,77.5 504.9,77.5 505.9,77.5 506.9,77.5 507.9,77.4 508.9,77.4 509.9,77.4 510.9,77.4 511.9,77.4 512.9,77.4 513.9,77.4 514.9,77.4 515.9,77.4 516.9,77.3 517.9,77.3 518.9,77.3 519.9,77.3 520.9,77.3 521.9,77.3 522.9,77.3 523.9,77.3 524.9,77.3 525.9,77.3 526.9,77.4 527.9,77.4 528.9,77.5 529.9,77.5 530.9,77.6 531.9,78.2 532.9,79 533.9,80.1 534.9,81.6 535.9,83.5 536.9,85.2 537.9,86.9 538.9,88.5 539.9,90.3 540.9,92.1 541.9,94 542.9,95.9 543.9,97.9 544.9,99.8 545.9,101.8 546.9,103.7 547.9,105.7 548.9,107.7 549.9,109.8 550.9,111.8 551.9,113.8 552.9,115.7 553.9,117.6 554.9,119.6 555.9,121.3 556.9,123.3 557.9,125 558.6,125.9 558.85,126.2 559.1,126.8 559.35,127.1 559.6,127.6 559.85,128.1 560.1,128.5 560.35,128.7 560.6,129 560.85,129.3 561.1,130.3 561.35,130.9 561.6,130.7 561.85,130.8 562.1,131 562.35,131.1 562.6,131.6 562.85,133 563.1,133.1 563.35,133.5 563.6,133.3 563.85,134.2 564.1,134.3 564.35,135.4 564.6,134.4 564.85,135.5 565.1,136 565.35,136.2 565.6,137.1 565.85,136.6 566.1,137.3 566.35,136.3 566.6,138.8 566.85,139.5 567.1,138.5 567.35,138.6 567.6,139 567.85,138.4 568.1,139.1 568.35,140.2 568.6,140.6 568.85,141.4 569.1,142 569.35,141.3 569.6,141.6 569.85,141.4 570.1,143.5 570.35,143.6 570.6,144.1 570.85,143 571.1,144 571.35,145.3 571.6,144.7 571.85,144.8 572.1,144.9 572.35,146.5 572.6,148.5 572.85,145.4 573.1,143.7 573.35,146.4 573.6,148.1 573.85,145.4 574.1,147.6 574.35,148.6 574.6,147.7 574.85,148.2 575.1,153.4 575.35,150.5 575.6,146.1 575.85,152.4 576.1,148.3 576.35,153.8 576.6,153.7 576.85,151.9 577.1,161.6 577.35,155.1 577.6,148.2 577.85,153.6 578.1,151 578.35,154 578.6,155.7 578.85,153.4 579.1,153.8 579.35,154 579.6,156.7 579.85,157.8 580.1,161.7 580.35,155.4 580.6,159.4 580.85,159.9 581.1,155.6 581.35,153.1 581.6,155 581.85,166.1 582.1,162 582.35,150.9 582.6,165.5 582.85,157.5 583.1,167.7 583.35,165.2 583.6,195.5 583.85,158.9 584.1,181.9 584.35,157.4 584.6,180.8 584.85,154.6 585.1,158.4 585.35,172.5 585.6,194 585.85,155.7 586.1,163.6 586.35,167.8 586.6,163.1 586.85,163.5 587.1,164.9 587.35,168.4 587.6,161.9 587.85,186.2 588.1,181.4 588.35,155 588.6,171.2 588.85,216.1 589.1,169.8 589.35,194.9 589.6,169.3 589.85,166.5 590.1,177.8 590.35,164.6 590.6,158.7 590.85,216.1 591.1,161.7 591.35,167.4 591.6,216.1 591.85,164.3 592.1,183.7 592.35,216.1 592.6,158.5 592.85,162.7 593.1,170.8 593.35,216.1 593.6,216.1 593.85,167.1 594.1,216.1 594.35,163.6 594.6,216.1 594.85,209.8 595.1,216.1 595.35,166.1 595.6,175.9 595.85,216.1 596.1,165 596.35,163.6 596.6,171.7 596.85,216.1 597.1,169.6 597.35,216.1 597.6,216.1 597.85,216.1 598.1,169.2 598.35,171.2 598.6,173.7 598.85,174 599.1,173.6 599.35,165.4 599.6,216.1 599.85,170.5 600.1,216.1 600.35,216.1 600.6,168 600.85,161.5 601.1,216.1 601.35,216.1 601.6,170.2 601.85,162.6 602.1,216.1 602.35,165.8 602.6,170.6 602.85,175.9 603.1,216.1 603.35,178.7 603.6,216.1 603.85,216.1 604.1,163.1 604.35,175.7 604.6,181.2 604.85,216.1 605.1,216.1 605.35,184 605.6,165.1 605.85,178.7 606.1,172.4 606.35,216.1 606.6,216.1 606.85,216.1 607.1,216.1 607.35,169.9 607.6,216.1 607.85,216.1 608.1,216.1 608.35,189.4 608.6,216.1 608.85,163.8 609.1,216.1 609.35,167.9 609.6,216.1 609.85,161.5 610.1,216.1 610.35,216.1 610.6,216.1 610.85,216.1 611.1,176.5 611.35,171.7 611.6,216.1 611.85,172.5 612.1,216.1 612.35,216.1 612.6,179.5 612.85,216.1 613.1,184 613.35,160 613.6,189.5 613.85,216.1 614.1,171.6 614.35,216.1 614.6,216.1 614.85,216.1 615.1,216.1 615.35,169 615.6,216.1 615.85,216.1 616.1,171.5 616.35,216.1 616.6,170.4 616.85,216.1 617.1,157.6 617.35,216.1 617.6,174.8 617.85,216.1 618.1,180.7 618.35,170.2 618.6,216.1 618.85,165 619.1,170.6 619.35,163.8 619.6,190.7 619.85,188.5 620.1,216.1 620.35,216.1 620.6,163.8 620.85,216.1 621.1,216.1 621.35,216.1 621.6,216.1 621.85,163.2 622.1,216.1 622.35,216.1 622.6,175.5 622.85,169.6 623.1,216.1 623.35,172.4 623.6,216.1 623.85,169.4 624.1,216.1 624.35,177 624.6,216.1 624.85,161.5 625.1,216.1 625.35,216.1 625.6,216.1 625.85,216.1 626.1,216.1 626.35,167 626.6,216.1 626.85,216.1 627.1,216.1 627.35,168.6 627.6,216.1 627.85,216.1 628.1,216.1 628.35,216.1 628.6,216.1 628.85,216.1 629.1,216.1 629.35,185.5 629.6,216.1 629.85,216.1 630.1,216.1 630.35,163.5 630.6,216.1 630.85,216.1 631.1,179.4 631.35,216.1 631.6,170.2 631.85,216.1 632.1,168.2 632.35,170.6 632.6,216.1 632.85,174.5 633.1,216.1 633.35,177.1 633.6,216.1 633.85,170.7 634.1,216.1 634.35,167.9 634.6,216.1 634.85,205 635.1,216.1 635.35,216.1 635.6,180.2 635.85,186.7 636.1,203.3 636.35,163.8 636.6,172 636.85,189.8 637.1,216.1 637.35,216.1 637.6,164.1 637.85,171.5 638.1,207.6 638.35,171.3 638.6,213.1 638.85,216.1 639.1,165.5 639.35,216.1 639.6,216.1 639.85,216.1 640.1,175.8 640.35,163.5 640.6,171.9 640.85,182 641.1,161.1 641.35,176 641.6,168.1 641.85,156.9 642.1,216.1 642.35,216.1 642.6,216.1 642.85,216.1 643.1,158.1 643.35,216.1 643.6,161.2 643.85,216.1 644.1,216.1 644.35,216.1 644.6,216.1 644.85,216.1 645.1,164.6 645.35,178.5 645.6,181.5 645.85,158.3 646.1,216.1 646.35,170.9 646.6,216.1 646.85,169.3 647.1,216.1 647.35,172.8 647.6,161.9 647.85,191.3 648.1,187.2 648.35,216.1 648.6,216.1 648.85,176.1 649.1,216.1 649.35,216.1 649.6,159.9 649.85,216.1 650.1,216.1 650.35,158.7 650.6,216.1 650.85,216.1 651.1,177.2 651.35,159.2 651.6,216.1 651.85,216.1 652.1,165 652.35,186.5 652.6,181 652.85,216.1 653.1,179 653.35,158.3 653.6,167.1 653.85,165.7 654.1,216.1 654.35,216.1 654.6,216.1 654.85,216.1 655.1,182.9 655.35,216.1 655.6,173.5 655.85,216.1 656.1,177.4 656.35,174.3 656.6,216.1 656.85,216.1 657.1,187.1 657.35,216.1 657.6,191.2 657.85,216.1 658.1,174.2 658.35,172.4 658.6,216.1 658.85,179.4 659.1,171.6 659.35,172.3 659.6,216.1 659.85,216.1 660.1,174.1 660.35,174.2 660.6,216.1 660.85,172.6 661.1,178.9 661.35,187 661.6,216.1 661.85,178.9 662.1,183.8 662.35,180.3 662.6,216.1 662.85,181.3 663.1,216.1 663.35,176.5 663.6,216.1 663.85,216.1 664.1,165.6 664.35,162.2 664.6,216.1 664.85,216.1 665.1,157.8 665.35,216.1 665.6,168 665.85,216.1 666.1,161 666.35,163 666.6,216.1 666.85,216.1 667.1,179.9 667.35,216.1 667.6,216.1 667.85,216.1 668.1,216.1 668.35,216.1 668.6,162.1 668.85,216.1 669.1,216.1 669.35,216.1 669.6,166.8 669.85,168.9 670.1,185.1 670.35,162.1 670.6,216.1 670.85,170.2 671.1,192.7 671.35,216.1 671.6,163.5 671.85,216.1 672.1,216.1 672.35,166.7 672.6,216.1 672.85,216.1"/>
<polyline clip-path="url(#cb)" fill="none" stroke="#F14040" stroke-width="0.5" stroke-linejoin="round" points="369.65,216.1 369.9,156.5 370.15,161.4 370.4,216.1 370.65,176.5 370.9,164.9 371.15,216.1 371.4,216.1 371.65,180.5 371.9,216.1 372.15,168 372.4,162.6 372.65,216.1 372.9,166.4 373.15,216.1 373.4,216.1 373.65,216.1 373.9,163.1 374.15,176.2 374.4,157.1 374.65,216.1 374.9,216.1 375.15,216.1 375.4,188.7 375.65,216.1 375.9,216.1 376.15,216.1 376.4,169.3 376.65,216.1 376.9,216.1 377.15,216.1 377.4,158.3 377.65,216.1 377.9,169.9 378.15,179.5 378.4,185.1 378.65,216.1 378.9,216.1 379.15,158.5 379.4,216.1 379.65,169.3 379.9,216.1 380.15,216.1 380.4,161 380.65,208.9 380.9,216.1 381.15,173.9 381.4,216.1 381.65,216.1 381.9,176.6 382.15,216.1 382.4,172.4 382.65,164.3 382.9,216.1 383.15,168.1 383.4,216.1 383.65,164.2 383.9,216.1 384.15,163.3 384.4,216.1 384.65,216.1 384.9,161.5 385.15,216.1 385.4,200.1 385.65,161.4 385.9,216.1 386.15,216.1 386.4,191.7 386.65,156.5 386.9,186.6 387.15,183.5 387.4,178.9 387.65,159.4 387.9,216.1 388.15,156.3 388.4,216.1 388.65,159.1 388.9,216.1 389.15,163.6 389.4,165.7 389.65,167.7 389.9,190 390.15,165 390.4,216.1 390.65,155.6 390.9,216.1 391.15,162.7 391.4,158.2 391.65,168.2 391.9,164.7 392.15,216.1 392.4,173.5 392.65,163.3 392.9,216.1 393.15,216.1 393.4,157.9 393.65,175.6 393.9,161.9 394.15,166.8 394.4,192.2 394.65,164.4 394.9,182.6 395.15,161.8 395.4,163.5 395.65,163.6 395.9,161.9 396.15,158.6 396.4,168.8 396.65,162.1 396.9,169.7 397.15,216.1 397.4,172.4 397.65,159 397.9,159.8 398.15,165.7 398.4,166.2 398.65,161 398.9,161 399.15,159.3 399.4,165.8 399.65,216.1 399.9,162.4 400.15,160.8 400.4,165 400.65,216.1 400.9,176.7 401.15,165.1 401.4,166.2 401.65,159.7 401.9,168.2 402.15,164.1 402.4,216.1 402.65,159.3 402.9,183.4 403.15,156.3 403.4,159.8 403.65,216.1 403.9,158.1 404.15,157.1 404.4,163.5 404.65,160.8 404.9,153.5 405.15,156.7 405.4,166.3 405.65,187.4 405.9,174.8 406.15,158.8 406.4,156.6 406.65,155 406.9,157.7 407.15,151.4 407.4,161.7 407.65,155 407.9,154.4 408.15,157.2 408.4,154.6 408.65,152.4 408.9,151.4 409.15,153.6 409.4,154.3 409.65,152.8 409.9,153.1 410.15,152 410.4,150.9 410.65,151.7 410.9,148.6 411.15,149.1 411.4,149.8 411.65,149.8 411.9,149.4 412.15,151.2 412.4,147.7 412.65,148.8 412.9,148.1 413.15,147.2 413.4,148.7 413.65,145.2 413.9,146.3 414.15,148.8 414.4,149.7 414.65,146.4 414.9,149.2 415.15,144.4 415.4,144.7 415.65,142.8 415.9,145.8 416.15,145.6 416.4,144.2 416.65,144.5 416.9,145.1 417.15,142.6 417.4,142.7 417.65,142.4 417.9,141.3 418.15,142.1 418.4,140.2 418.65,140.7 418.9,140.6 419.15,140.1 419.4,140.1 419.65,141.1 419.9,140.7 420.15,140.5 420.4,140.7 420.65,138.5 420.9,138.7 421.15,138.2 421.4,137.9 421.65,136.7 421.9,137.3 422.15,136.5 422.4,136.8 422.65,136.9 422.9,136.1 423.15,135.9 423.4,135.9 423.65,135 423.9,133.9 424.15,133.9 424.4,133.6 424.65,134.5 424.9,133.9 425.15,134 425.4,133.1 425.65,132 425.9,132.7 426.15,132 426.4,132.1 426.65,131.7 426.9,131.2 427.15,130.6 427.4,130.4 427.65,130.2 427.9,130.1 428.15,128.6 428.4,128.9 428.65,128.1 428.9,128 429.15,127.4 429.4,127.3 429.65,127 429.9,126.8 430.15,126.4 431.15,124.8 432.15,122.8 433.15,121.3 434.15,119.7 435.15,117.5 436.15,115.7 437.15,113.7 438.15,111.6 439.15,109.6 440.15,107.4 441.15,105.3 442.15,103.2 443.15,101.1 444.15,98.9 445.15,96.6 446.15,94.2 447.15,92 448.15,90 449.15,88.3 450.15,86.8 451.15,85.4 452.15,84.2 453.15,83.1 454.15,82.1 455.15,81.2 456.15,80.4 457.15,79.7 458.15,79.1 459.15,78.5 460.15,77.9 461.15,77.5 462.15,77.3 463.15,77.3 464.15,77.3 465.15,77.4 466.15,77.4 467.15,77.5 468.15,77.5 469.15,77.6 470.15,77.7 471.15,77.8 472.15,77.9 473.15,78 474.15,78.1 475.15,78.1 476.15,78.1 477.15,78.1 478.15,78.1 479.15,78.1 480.15,78.1 481.15,78.1 482.15,78.1 483.15,78 484.15,78 485.15,78 486.15,78 487.15,78 488.15,78 489.15,78 490.15,78 491.15,78 492.15,77.9 493.15,77.9 494.15,77.9 495.15,77.9 496.15,77.9 497.15,77.9 498.15,77.9 499.15,77.9 500.15,77.9 501.15,77.9 502.15,77.8 503.15,77.8 504.15,77.8 505.15,77.8 506.15,77.8 507.15,77.8 508.15,77.8 509.15,77.8 510.15,77.8 511.15,77.8 512.15,77.9 513.15,77.9 514.15,77.9 515.15,78 516.15,78.1 517.15,78.5 518.15,79.2 519.15,80.2 520.15,81.6 521.15,83.5 522.15,85.2 523.15,86.9 524.15,88.5 525.15,90.2 526.15,92 527.15,93.9 528.15,95.8 529.15,97.8 530.15,99.8 531.15,101.7 532.15,103.7 533.15,105.7 534.15,107.6 535.15,109.6 536.15,111.6 537.15,113.6 538.15,115.6 539.15,117.4 540.15,119.2 541.15,121.1 542.15,123 543.15,124.4 543.85,126.3 544.1,126.4 544.35,126.7 544.6,127.1 544.85,128.1 545.1,127.6 545.35,128.1 545.6,128.6 545.85,129.4 546.1,129.6 546.35,129.9 546.6,130.2 546.85,130.4 547.1,130.4 547.35,131.4 547.6,132 547.85,131.9 548.1,132.2 548.35,133.1 548.6,133.1 548.85,133.4 549.1,134.1 549.35,134.1 549.6,134.8 549.85,134.7 550.1,134.7 550.35,135 550.6,136.7 550.85,135.6 551.1,138.2 551.35,137.2 551.6,137.7 551.85,137.1 552.1,137.4 552.35,139.7 552.6,138.8 552.85,138.6 553.1,139.2 553.35,140.6 553.6,139.8 553.85,141.8 554.1,142.9 554.35,142.6 554.6,143.4 554.85,142.2 555.1,140.3 555.35,142 555.6,142.4 555.85,143.9 556.1,142.3 556.35,144 556.6,145.1 556.85,143.4 557.1,145.6 557.35,146.3 557.6,145.8 557.85,144.1 558.1,147 558.35,150.1 558.6,145.2 558.85,145.8 559.1,146.6 559.35,147.9 559.6,146.7 559.85,148.6 560.1,149.9 560.35,149.8 560.6,146.2 560.85,147 561.1,154.1 561.35,149.8 561.6,149 561.85,153.6 562.1,151.5 562.35,151.9 562.6,153.2 562.85,158.1 563.1,149.1 563.35,153 563.6,151 563.85,155.9 564.1,155.3 564.35,156.4 564.6,154.1 564.85,155.5 565.1,155.8 565.35,157.2 565.6,162.9 565.85,156.4 566.1,163.5 566.35,153.4 566.6,153.1 566.85,151.3 567.1,155.1 567.35,165.3 567.6,160.9 567.85,161 568.1,158.9 568.35,157.1 568.6,169.3 568.85,163.9 569.1,155.8 569.35,173.3 569.6,163.4 569.85,157.3 570.1,164.8 570.35,164.3 570.6,161.3 570.85,165.6 571.1,167.8 571.35,155.2 571.6,165.2 571.85,158.2 572.1,164 572.35,157.4 572.6,158.3 572.85,174.5 573.1,160.6 573.35,165.8 573.6,165.5 573.85,173.2 574.1,181.6 574.35,161.9 574.6,160.8 574.85,170.3 575.1,172.9 575.35,161.9 575.6,162.3 575.85,216.1 576.1,169.7 576.35,164 576.6,172.3 576.85,183.5 577.1,166.6 577.35,159.4 577.6,170.5 577.85,161.2 578.1,216.1 578.35,171.4 578.6,164.8 578.85,159.5 579.1,165.3 579.35,216.1 579.6,177.3 579.85,170.4 580.1,183.7 580.35,216.1 580.6,161.6 580.85,216.1 581.1,167.7 581.35,178.9 581.6,216.1 581.85,216.1 582.1,216.1 582.35,164.8 582.6,184.5 582.85,216.1 583.1,160.8 583.35,204.2 583.6,170.5 583.85,161.7 584.1,172.4 584.35,176.1 584.6,183.6 584.85,216.1 585.1,216.1 585.35,178.4 585.6,216.1 585.85,216.1 586.1,160 586.35,216.1 586.6,175.7 586.85,216.1 587.1,216.1 587.35,177.9 587.6,216.1 587.85,216.1 588.1,176 588.35,160 588.6,216.1 588.85,163.3 589.1,216.1 589.35,172.8 589.6,169.2 589.85,157.3 590.1,216.1 590.35,216.1 590.6,166.8 590.85,216.1 591.1,165.1 591.35,172.3 591.6,216.1 591.85,166 592.1,160.8 592.35,177 592.6,216.1 592.85,179.7 593.1,165.5 593.35,216.1 593.6,166.1 593.85,216.1 594.1,216.1 594.35,159.8 594.6,216.1 594.85,176.2 595.1,216.1 595.35,166.1 595.6,216.1 595.85,162.7 596.1,173.5 596.35,167.5 596.6,176.5 596.85,161.8 597.1,216.1 597.35,216.1 597.6,148.8 597.85,216.1 598.1,216.1 598.35,216.1 598.6,168.9 598.85,186.2 599.1,216.1 599.35,216.1 599.6,166.8 599.85,216.1 600.1,216.1 600.35,216.1 600.6,165.3 600.85,159.7 601.1,216.1 601.35,216.1 601.6,161.5 601.85,216.1 602.1,216.1 602.35,170.6 602.6,216.1 602.85,161.6 603.1,216.1 603.35,159 603.6,216.1 603.85,183.4 604.1,169.3 604.35,170.6 604.6,216.1 604.85,216.1 605.1,159.8 605.35,167.8 605.6,181.6 605.85,216.1 606.1,216.1 606.35,216.1 606.6,216.1 606.85,173 607.1,216.1 607.35,174.5 607.6,216.1 607.85,216.1 608.1,179.7 608.35,216.1 608.6,165.9 608.85,167.1 609.1,182.5 609.35,168.2 609.6,216.1 609.85,188.3 610.1,216.1 610.35,216.1 610.6,216.1 610.85,216.1 611.1,171.3 611.35,216.1 611.6,216.1 611.85,169 612.1,164.9 612.35,216.1 612.6,160.1 612.85,216.1 613.1,179.7 613.35,173.1 613.6,180.7 613.85,168.8 614.1,172.6 614.35,216.1 614.6,187.6 614.85,159.6 615.1,216.1 615.35,216.1 615.6,163.2 615.85,172.3 616.1,167.5 616.35,216.1 616.6,169.8 616.85,166.1 617.1,182.3 617.35,164.5 617.6,216.1 617.85,216.1 618.1,216.1 618.35,216.1 618.6,180.8 618.85,216.1 619.1,179.9 619.35,165.6 619.6,175.8 619.85,167.7 620.1,216.1 620.35,216.1 620.6,177.7 620.85,180.1 621.1,216.1 621.35,216.1 621.6,170.1 621.85,216.1 622.1,206.7 622.35,184 622.6,167.8 622.85,171.9 623.1,216.1 623.35,191.8 623.6,216.1 623.85,216.1 624.1,216.1 624.35,170 624.6,216.1 624.85,216.1 625.1,216.1 625.35,165.7 625.6,216.1 625.85,174.1 626.1,216.1 626.35,160.1 626.6,216.1 626.85,216.1 627.1,216.1 627.35,178.2 627.6,216.1 627.85,173.3 628.1,216.1 628.35,187 628.6,175.5 628.85,164.8 629.1,216.1 629.35,216.1 629.6,216.1 629.85,216.1 630.1,216.1 630.35,216.1 630.6,167.1 630.85,173.7 631.1,216.1 631.35,178.2 631.6,183.6 631.85,157.7 632.1,158.1 632.35,171 632.6,216.1 632.85,169.5 633.1,158.9 633.35,216.1 633.6,216.1 633.85,162 634.1,216.1 634.35,216.1 634.6,168.3 634.85,169 635.1,216.1 635.35,172.7 635.6,216.1 635.85,216.1 636.1,166.4 636.35,216.1 636.6,216.1 636.85,181.7 637.1,211 637.35,216.1 637.6,184.5 637.85,216.1 638.1,216.1 638.35,165.1 638.6,169.9 638.85,216.1 639.1,169.2 639.35,160.6 639.6,216.1 639.85,163.5 640.1,216.1 640.35,164 640.6,216.1 640.85,193.9 641.1,173.3 641.35,216.1 641.6,216.1 641.85,216.1 642.1,216.1 642.35,172.9 642.6,182.7 642.85,216.1 643.1,169.9 643.35,180.1 643.6,174.7 643.85,216.1 644.1,171.5 644.35,216.1 644.6,163.9 644.85,170.5 645.1,216.1 645.35,167.4 645.6,216.1 645.85,216.1 646.1,159.1 646.35,172.5 646.6,168.9 646.85,216.1 647.1,189.3 647.35,170 647.6,216.1 647.85,216.1 648.1,185.5 648.35,216.1 648.6,216.1 648.85,216.1 649.1,168.6 649.35,166.7 649.6,177.3 649.85,176.5 650.1,166.4 650.35,216.1 650.6,173.2 650.85,216.1 651.1,172.7 651.35,164.6 651.6,216.1 651.85,216.1 652.1,216.1 652.35,216.1 652.6,216.1 652.85,158.1 653.1,169.4 653.35,162.3 653.6,178 653.85,216.1 654.1,163.5 654.35,216.1 654.6,173.4 654.85,168.3 655.1,216.1 655.35,216.1 655.6,164.8 655.85,216.1 656.1,189.2 656.35,216.1 656.6,216.1 656.85,172.6 657.1,176.5 657.35,216.1 657.6,161.2 657.85,216.1 658.1,167.8 658.35,216.1 658.6,216.1 658.85,185.1 659.1,216.1 659.35,216.1 659.6,180.8 659.85,216.1 660.1,168.2 660.35,216.1 660.6,175.1 660.85,165.7 661.1,161.2 661.35,159.7 661.6,216.1 661.85,216.1 662.1,170.6 662.35,181 662.6,174 662.85,216.1 663.1,167.9 663.35,216.1 663.6,175.3 663.85,191.1 664.1,176.4 664.35,191.2 664.6,216.1 664.85,175.1 665.1,160.4 665.35,216.1 665.6,216.1 665.85,157.2 666.1,180.5 666.35,173.7 666.6,162.4 666.85,165.9 667.1,158.8 667.35,175.4 667.6,168.3 667.85,216.1 668.1,216.1 668.35,216.1 668.6,216.1 668.85,216.1 669.1,163.7 669.35,216.1 669.6,194 669.85,216.1 670.1,163.9 670.35,216.1 670.6,216.1 670.85,177.8 671.1,216.1 671.35,216.1 671.6,175 671.85,216.1 672.1,161 672.35,216.1 672.6,216.1 672.85,216.1"/>
<polyline clip-path="url(#cb)" fill="none" stroke="#1A6FDF" stroke-width="0.5" stroke-linejoin="round" points="369.65,216.1 369.9,167.7 370.15,216.1 370.4,186.9 370.65,216.1 370.9,216.1 371.15,171 371.4,216.1 371.65,167.7 371.9,181.3 372.15,216.1 372.4,216.1 372.65,170.7 372.9,216.1 373.15,216.1 373.4,216.1 373.65,165.1 373.9,216.1 374.15,191.5 374.4,162 374.65,167.9 374.9,164.9 375.15,171.8 375.4,175.3 375.65,216.1 375.9,216.1 376.15,163.4 376.4,166.2 376.65,166.9 376.9,191.8 377.15,168.4 377.4,162.1 377.65,216.1 377.9,216.1 378.15,168.4 378.4,216.1 378.65,153.1 378.9,162.4 379.15,216.1 379.4,161.7 379.65,174.2 379.9,216.1 380.15,216.1 380.4,162.8 380.65,178.5 380.9,156.7 381.15,163.5 381.4,162.7 381.65,216.1 381.9,169.1 382.15,165.5 382.4,172.2 382.65,216.1 382.9,161 383.15,176.4 383.4,162.3 383.65,159 383.9,157.3 384.15,163.3 384.4,216.1 384.65,159 384.9,180.9 385.15,161.8 385.4,182.2 385.65,160.5 385.9,163.8 386.15,183.2 386.4,176 386.65,163.3 386.9,161 387.15,176.7 387.4,159.6 387.65,164.4 387.9,171.9 388.15,156.5 388.4,172.6 388.65,174.3 388.9,173.6 389.15,153.8 389.4,171.4 389.65,166.3 389.9,160.2 390.15,163.8 390.4,160.6 390.65,165 390.9,151.6 391.15,156.5 391.4,164.3 391.65,165.9 391.9,162.2 392.15,155.1 392.4,153.5 392.65,149.4 392.9,169.9 393.15,150 393.4,160.2 393.65,159.6 393.9,149.9 394.15,157 394.4,154.5 394.65,154 394.9,152.4 395.15,151.3 395.4,152.6 395.65,153 395.9,148.2 396.15,147.5 396.4,148.4 396.65,150.6 396.9,149.9 397.15,145.3 397.4,148.2 397.65,148.5 397.9,147.4 398.15,148.9 398.4,148.3 398.65,146.7 398.9,150.3 399.15,146.2 399.4,147.9 399.65,147.7 399.9,149.2 400.15,146.8 400.4,145.6 400.65,151.3 400.9,144.3 401.15,144.8 401.4,142.7 401.65,142.3 401.9,143 402.15,145.2 402.4,144 402.65,144.3 402.9,142.1 403.15,143 403.4,143.3 403.65,141.2 403.9,141.4 404.15,140.9 404.4,141.4 404.65,140.2 404.9,140.1 405.15,140.4 405.4,139.7 405.65,138.6 405.9,138.9 406.15,139.9 406.4,138.5 406.65,138.6 406.9,138 407.15,136.4 407.4,137.4 407.65,138.1 407.9,136 408.15,135.8 408.4,135.4 408.65,135.5 408.9,134.7 409.15,134.6 409.4,135.2 409.65,135.3 409.9,133.5 410.15,133.3 410.4,133.5 410.65,132.4 410.9,132.9 411.15,132.4 411.4,132.2 411.65,132 411.9,131.3 412.15,131.4 412.4,130 412.65,130.5 412.9,130.8 413.15,130.1 413.4,129.2 413.65,129.1 413.9,129 414.15,128.3 414.4,128.5 414.65,127.4 414.9,127.4 415.15,127.4 415.4,126.4 415.65,126.1 416.65,124.7 417.65,123.1 418.65,121.1 419.65,119.4 420.65,117.2 421.65,115.2 422.65,113.2 423.65,111.1 424.65,109 425.65,107 426.65,104.8 427.65,102.7 428.65,100.6 429.65,98.4 430.65,96 431.65,93.7 432.65,91.6 433.65,89.7 434.65,88.1 435.65,86.7 436.65,85.4 437.65,84.2 438.65,83.2 439.65,82.2 440.65,81.4 441.65,80.7 442.65,80 443.65,79.4 444.65,78.8 445.65,78.3 446.65,77.9 447.65,77.9 448.65,77.9 449.65,77.9 450.65,78 451.65,78 452.65,78.1 453.65,78.1 454.65,78.2 455.65,78.3 456.65,78.4 457.65,78.6 458.65,78.6 459.65,78.7 460.65,78.7 461.65,78.7 462.65,78.7 463.65,78.7 464.65,78.7 465.65,78.7 466.65,78.7 467.65,78.7 468.65,78.6 469.65,78.6 470.65,78.6 471.65,78.6 472.65,78.6 473.65,78.6 474.65,78.6 475.65,78.6 476.65,78.6 477.65,78.5 478.65,78.5 479.65,78.5 480.65,78.5 481.65,78.5 482.65,78.5 483.65,78.5 484.65,78.5 485.65,78.5 486.65,78.5 487.65,78.4 488.65,78.4 489.65,78.4 490.65,78.4 491.65,78.4 492.65,78.4 493.65,78.4 494.65,78.4 495.65,78.4 496.65,78.4 497.65,78.4 498.65,78.5 499.65,78.5 500.65,78.6 501.65,78.7 502.65,78.8 503.65,79.5 504.65,80.4 505.65,81.6 506.65,83.3 507.65,85.1 508.65,86.8 509.65,88.4 510.65,90.1 511.65,91.9 512.65,93.7 513.65,95.7 514.65,97.6 515.65,99.6 516.65,101.5 517.65,103.5 518.65,105.4 519.65,107.4 520.65,109.4 521.65,111.4 522.65,113.4 523.65,115.4 524.65,117.4 525.65,119.5 526.65,121.3 527.65,123.1 528.65,124.5 529.4,125.6 529.65,126.6 529.9,127.1 530.15,127.2 530.4,127.8 530.65,128.1 530.9,129.2 531.15,128.7 531.4,129.1 531.65,129.6 531.9,129.9 532.15,130.6 532.4,131.2 532.65,131.3 532.9,131.2 533.15,131.5 533.4,132.4 533.65,132.4 533.9,132.7 534.15,133.7 534.4,133.5 534.65,134.3 534.9,133.5 535.15,135.7 535.4,135.6 535.65,133.9 535.9,136.3 536.15,137 536.4,136.7 536.65,136.4 536.9,137.3 537.15,137.6 537.4,139 537.65,137.8 537.9,138.7 538.15,138.5 538.4,140.7 538.65,139.6 538.9,140.2 539.15,140.1 539.4,140.9 539.65,141.8 539.9,139.4 540.15,143.1 540.4,142.6 540.65,143.3 540.9,143 541.15,143.1 541.4,145.5 541.65,143.1 541.9,145.7 542.15,142.2 542.4,144.6 542.65,145.6 542.9,145 543.15,145.3 543.4,144.8 543.65,146.8 543.9,146.5 544.15,147 544.4,147.3 544.65,148.3 544.9,146.9 545.15,148.8 545.4,148.8 545.65,150.2 545.9,151.7 546.15,150.2 546.4,150.5 546.65,149.6 546.9,148.8 547.15,152.7 547.4,151 547.65,146.7 547.9,151.2 548.15,156.6 548.4,160.9 548.65,150.1 548.9,152.4 549.15,148.9 549.4,156.4 549.65,155.1 549.9,154.2 550.15,156 550.4,159.3 550.65,163.1 550.9,156.2 551.15,154.5 551.4,152.4 551.65,173 551.9,170.3 552.15,152.9 552.4,167.6 552.65,160.9 552.9,162.3 553.15,161.5 553.4,157.3 553.65,165 553.9,152.9 554.15,161.8 554.4,191.8 554.65,161.6 554.9,157.2 555.15,162.4 555.4,174.9 555.65,164.9 555.9,189.1 556.15,161.4 556.4,153.8 556.65,172.2 556.9,160.8 557.15,159.2 557.4,175.7 557.65,160.7 557.9,159.6 558.15,155 558.4,166.3 558.65,175.8 558.9,153.1 559.15,156.1 559.4,174.4 559.65,161 559.9,216.1 560.15,169.9 560.4,163.4 560.65,184.3 560.9,161.2 561.15,162.1 561.4,216.1 561.65,216.1 561.9,161.8 562.15,159.1 562.4,216.1 562.65,216.1 562.9,187.4 563.15,164.2 563.4,191.5 563.65,162.3 563.9,216.1 564.15,216.1 564.4,162.5 564.65,162.7 564.9,178.3 565.15,180.3 565.4,179.7 565.65,161.8 565.9,216.1 566.15,216.1 566.4,156 566.65,184.2 566.9,216.1 567.15,216.1 567.4,160.5 567.65,179.3 567.9,172.8 568.15,216.1 568.4,187.1 568.65,163.9 568.9,168.7 569.15,216.1 569.4,180 569.65,216.1 569.9,216.1 570.15,197.2 570.4,216.1 570.65,176.2 570.9,216.1 571.15,216.1 571.4,216.1 571.65,216.1 571.9,216.1 572.15,174 572.4,185 572.65,216.1 572.9,162.2 573.15,216.1 573.4,216.1 573.65,184.3 573.9,166.1 574.15,216.1 574.4,182.2 574.65,162.2 574.9,166.9 575.15,162.2 575.4,216.1 575.65,216.1 575.9,216.1 576.15,216.1 576.4,216.1 576.65,165 576.9,163.4 577.15,216.1 577.4,175.1 577.65,216.1 577.9,216.1 578.15,216.1 578.4,216.1 578.65,216.1 578.9,216.1 579.15,216.1 579.4,216.1 579.65,216.1 579.9,216.1 580.15,175.4 580.4,216.1 580.65,216.1 580.9,216.1 581.15,216.1 581.4,216.1 581.65,216.1 581.9,174 582.15,216.1 582.4,170.7 582.65,175.9 582.9,216.1 583.15,164.5 583.4,216.1 583.65,162 583.9,216.1 584.15,168.3 584.4,216.1 584.65,216.1 584.9,216.1 585.15,216.1 585.4,175.2 585.65,216.1 585.9,159.7 586.15,198.4 586.4,216.1 586.65,176.6 586.9,159.6 587.15,216.1 587.4,163.5 587.65,216.1 587.9,216.1 588.15,216.1 588.4,216.1 588.65,216.1 588.9,164.8 589.15,216.1 589.4,216.1 589.65,216.1 589.9,164.8 590.15,175.6 590.4,216.1 590.65,216.1 590.9,216.1 591.15,216.1 591.4,216.1 591.65,179.8 591.9,175.1 592.15,216.1 592.4,171.9 592.65,216.1 592.9,161.6 593.15,191.9 593.4,216.1 593.65,216.1 593.9,171.7 594.15,216.1 594.4,216.1 594.65,171.3 594.9,216.1 595.15,216.1 595.4,184.1 595.65,163.4 595.9,191.9 596.15,216.1 596.4,216.1 596.65,216.1 596.9,158.6 597.15,216.1 597.4,216.1 597.65,158.1 597.9,216.1 598.15,200.6 598.4,216.1 598.65,216.1 598.9,170.1 599.15,216.1 599.4,216.1 599.65,184.9 599.9,216.1 600.15,216.1 600.4,216.1 600.65,216.1 600.9,216.1 601.15,216.1 601.4,216.1 601.65,216.1 601.9,216.1 602.15,216.1 602.4,157 602.65,167.5 602.9,216.1 603.15,216.1 603.4,170.6 603.65,164.7 603.9,216.1 604.15,216.1 604.4,176.7 604.65,158.8 604.9,216.1 605.15,216.1 605.4,216.1 605.65,163.4 605.9,171.3 606.15,172.2 606.4,154.8 606.65,173.9 606.9,216.1 607.15,170.8 607.4,163.6 607.65,216.1 607.9,216.1 608.15,216.1 608.4,198.6 608.65,169.5 608.9,216.1 609.15,168.9 609.4,216.1 609.65,216.1 609.9,216.1 610.15,216.1 610.4,216.1 610.65,216.1 610.9,216.1 611.15,174.4 611.4,216.1 611.65,184.5 611.9,216.1 612.15,168.4 612.4,216.1 612.65,216.1 612.9,216.1 613.15,216.1 613.4,175 613.65,182.7 613.9,177.1 614.15,216.1 614.4,173.2 614.65,167.3 614.9,168.3 615.15,216.1 615.4,168.8 615.65,168 615.9,216.1 616.15,164.3 616.4,159.1 616.65,191.9 616.9,191.1 617.15,170.7 617.4,169 617.65,216.1 617.9,216.1 618.15,216.1 618.4,167.7 618.65,164.3 618.9,216.1 619.15,216.1 619.4,169.3 619.65,177.1 619.9,174.9 620.15,216.1 620.4,216.1 620.65,173.1 620.9,216.1 621.15,161.9 621.4,216.1 621.65,216.1 621.9,159.1 622.15,163.2 622.4,216.1 622.65,216.1 622.9,216.1 623.15,216.1 623.4,175.5 623.65,172.6 623.9,159.4 624.15,216.1 624.4,168.2 624.65,206.3 624.9,216.1 625.15,158.7 625.4,216.1 625.65,216.1 625.9,216.1 626.15,216.1 626.4,216.1 626.65,168.1 626.9,171.9 627.15,185.2 627.4,216.1 627.65,216.1 627.9,164.1 628.15,168.4 628.4,216.1 628.65,160.5 628.9,216.1 629.15,216.1 629.4,216.1 629.65,216.1 629.9,161.1 630.15,216.1 630.4,216.1 630.65,154 630.9,216.1 631.15,216.1 631.4,216.1 631.65,175.6 631.9,167.9 632.15,167.3 632.4,167.8 632.65,216.1 632.9,216.1 633.15,216.1 633.4,172.5 633.65,216.1 633.9,172.5 634.15,216.1 634.4,216.1 634.65,216.1 634.9,165.7 635.15,167.7 635.4,216.1 635.65,169.2 635.9,216.1 636.15,216.1 636.4,216.1 636.65,159.2 636.9,216.1 637.15,216.1 637.4,216.1 637.65,216.1 637.9,216.1 638.15,216.1 638.4,216.1 638.65,216.1 638.9,160.2 639.15,216.1 639.4,216.1 639.65,191.2 639.9,165.8 640.15,216.1 640.4,164.9 640.65,216.1 640.9,184.3 641.15,172.8 641.4,185.7 641.65,182.1 641.9,186.2 642.15,216.1 642.4,169.1 642.65,185.8 642.9,181.7 643.15,216.1 643.4,159.5 643.65,164.6 643.9,174.8 644.15,216.1 644.4,165.4 644.65,167.9 644.9,216.1 645.15,170.5 645.4,163 645.65,216.1 645.9,171.5 646.15,178.2 646.4,171.6 646.65,216.1 646.9,216.1 647.15,216.1 647.4,216.1 647.65,216.1 647.9,216.1 648.15,173.2 648.4,216.1 648.65,180.1 648.9,216.1 649.15,175.7 649.4,216.1 649.65,186.3 649.9,177.6 650.15,169.7 650.4,181 650.65,159.5 650.9,216.1 651.15,216.1 651.4,216.1 651.65,159.5 651.9,200.6 652.15,165 652.4,162.5 652.65,216.1 652.9,216.1 653.15,216.1 653.4,216.1 653.65,216.1 653.9,179 654.15,216.1 654.4,216.1 654.65,216.1 654.9,186 655.15,216.1 655.4,192 655.65,173.8 655.9,216.1 656.15,216.1 656.4,216.1 656.65,216.1 656.9,194.7 657.15,159.1 657.4,193.4 657.65,216.1 657.9,216.1 658.15,216.1 658.4,216.1 658.65,182.9 658.9,216.1 659.15,216.1 659.4,216.1 659.65,216.1 659.9,216.1 660.15,216.1 660.4,165.1 660.65,161.8 660.9,216.1 661.15,216.1 661.4,216.1 661.65,173.5 661.9,165.2 662.15,216.1 662.4,170.6 662.65,216.1 662.9,216.1 663.15,171.2 663.4,163.8 663.65,216.1 663.9,216.1 664.15,216.1 664.4,216.1 664.65,216.1 664.9,177.7 665.15,167.2 665.4,216.1 665.65,216.1 665.9,216.1 666.15,216.1 666.4,168.5 666.65,216.1 666.9,216.1 667.15,216.1 667.4,216.1 667.65,216.1 667.9,176 668.15,156 668.4,157.9 668.65,216.1 668.9,216.1 669.15,216.1 669.4,164.9 669.65,216.1 669.9,168.3 670.15,178.2 670.4,170.3 670.65,216.1 670.9,216.1 671.15,174.5 671.4,216.1 671.65,190.9 671.9,183.9 672.15,163 672.4,216.1 672.65,216.1 672.9,216.1"/>
<polyline clip-path="url(#cb)" fill="none" stroke="#37AD6B" stroke-width="0.5" stroke-linejoin="round" points="369.65,168.8 369.9,216.1 370.15,163.3 370.4,161.5 370.65,154.3 370.9,167.8 371.15,172.8 371.4,156.9 371.65,156.1 371.9,161 372.15,158.5 372.4,167.3 372.65,159.5 372.9,161.1 373.15,159.4 373.4,162.4 373.65,154.9 373.9,154.7 374.15,158.9 374.4,156.5 374.65,164.7 374.9,154 375.15,161.9 375.4,152.3 375.65,151.1 375.9,154.8 376.15,157.6 376.4,160.4 376.65,161.4 376.9,154.8 377.15,153.7 377.4,159.9 377.65,155.6 377.9,151.7 378.15,157.5 378.4,149.4 378.65,152.3 378.9,148.6 379.15,153.4 379.4,151.6 379.65,148.8 379.9,152.3 380.15,154.4 380.4,149.6 380.65,149 380.9,149.5 381.15,151.1 381.4,148.7 381.65,150.6 381.9,147.9 382.15,148.5 382.4,146 382.65,148.7 382.9,146.4 383.15,147.3 383.4,146.5 383.65,148.6 383.9,147.9 384.15,146.1 384.4,147 384.65,145.6 384.9,143.2 385.15,144.9 385.4,145 385.65,144.9 385.9,146.5 386.15,141.9 386.4,144.3 386.65,148.3 386.9,141.9 387.15,142.6 387.4,141.4 387.65,140.8 387.9,141.6 388.15,140.2 388.4,140.2 388.65,139.7 388.9,141.4 389.15,141.3 389.4,139.8 389.65,137.8 389.9,139 390.15,137.7 390.4,138.4 390.65,138.6 390.9,137 391.15,137.5 391.4,136.8 391.65,136.2 391.9,136.1 392.15,135.2 392.4,136.5 392.65,135 392.9,135.1 393.15,135.5 393.4,134.3 393.65,133.5 393.9,134.4 394.15,133.7 394.4,133.8 394.65,133 394.9,133.7 395.15,132.2 395.4,131.3 395.65,131.6 395.9,132 396.15,131.3 396.4,130.7 396.65,130.7 396.9,130.2 397.15,129.3 397.4,128.9 397.65,129 397.9,128.2 398.15,127.8 398.4,127.9 398.65,127.2 398.9,126.4 399.15,126.4 399.4,126.3 400.4,124.7 401.4,123 402.4,120.9 403.4,119.1 404.4,117.1 405.4,115.1 406.4,113.1 407.4,111 408.4,108.9 409.4,106.8 410.4,104.7 411.4,102.6 412.4,100.4 413.4,98.2 414.4,95.8 415.4,93.5 416.4,91.5 417.4,89.7 418.4,88.2 419.4,86.9 420.4,85.6 421.4,84.5 422.4,83.5 423.4,82.6 424.4,81.8 425.4,81.1 426.4,80.5 427.4,79.9 428.4,79.3 429.4,78.8 430.4,78.6 431.4,78.6 432.4,78.6 433.4,78.7 434.4,78.7 435.4,78.8 436.4,78.8 437.4,78.9 438.4,79 439.4,79.1 440.4,79.2 441.4,79.3 442.4,79.4 443.4,79.4 444.4,79.4 445.4,79.4 446.4,79.4 447.4,79.4 448.4,79.4 449.4,79.4 450.4,79.4 451.4,79.4 452.4,79.3 453.4,79.3 454.4,79.3 455.4,79.3 456.4,79.3 457.4,79.3 458.4,79.3 459.4,79.3 460.4,79.3 461.4,79.2 462.4,79.2 463.4,79.2 464.4,79.2 465.4,79.2 466.4,79.2 467.4,79.2 468.4,79.2 469.4,79.2 470.4,79.1 471.4,79.1 472.4,79.1 473.4,79.1 474.4,79.1 475.4,79.1 476.4,79.1 477.4,79.1 478.4,79.1 479.4,79.1 480.4,79.1 481.4,79.1 482.4,79.2 483.4,79.2 484.4,79.3 485.4,79.4 486.4,79.8 487.4,80.5 488.4,81.6 489.4,82.9 490.4,84.8 491.4,86.5 492.4,88.2 493.4,89.8 494.4,91.5 495.4,93.3 496.4,95.2 497.4,97.1 498.4,99.1 499.4,101 500.4,103 501.4,104.9 502.4,106.9 503.4,108.9 504.4,110.8 505.4,113 506.4,114.9 507.4,117 508.4,119 509.4,120.8 510.4,122.5 511.4,124.5 512.3,126.1 512.55,126.6 512.8,126.7 513.05,127.6 513.3,127.6 513.55,128.3 513.8,128 514.05,128.7 514.3,129.5 514.55,130.1 514.8,130 515.05,130.7 515.3,130.3 515.55,131.6 515.8,131.6 516.05,131.6 516.3,132.3 516.55,132.1 516.8,132.7 517.05,133.4 517.3,134.2 517.55,133.9 517.8,134.6 518.05,134.7 518.3,134.7 518.55,135.7 518.8,136.5 519.05,137.8 519.3,135.6 519.55,137.8 519.8,138.2 520.05,139 520.3,139.3 520.55,138.5 520.8,139.2 521.05,140.3 521.3,140.9 521.55,139.9 521.8,140 522.05,140.8 522.3,140.2 522.55,142.4 522.8,142.2 523.05,143 523.3,142.7 523.55,143.8 523.8,141 524.05,146.1 524.3,144 524.55,144.4 524.8,144.4 525.05,143.7 525.3,144.8 525.55,145.3 525.8,146.4 526.05,147.6 526.3,144.5 526.55,145.6 526.8,146 527.05,147.4 527.3,149 527.55,147.6 527.8,147.7 528.05,147 528.3,147.9 528.55,147.6 528.8,149.3 529.05,148.3 529.3,163.2 529.55,150.4 529.8,147.4 530.05,147.5 530.3,149.7 530.55,153.5 530.8,155.7 531.05,149.5 531.3,158.3 531.55,154.1 531.8,149.6 532.05,149.8 532.3,151 532.55,157.2 532.8,156.8 533.05,156 533.3,155.5 533.55,155.1 533.8,156.5 534.05,156.8 534.3,155.3 534.55,161.6 534.8,150 535.05,156.8 535.3,154.7 535.55,158.5 535.8,159.4 536.05,155.6 536.3,169.7 536.55,155.9 536.8,157.8 537.05,164.5 537.3,160.2 537.55,216.1 537.8,162.2 538.05,163.5 538.3,162.4 538.55,165.8 538.8,171.9 539.05,160.8 539.3,163.6 539.55,166.2 539.8,167 540.05,164.4 540.3,168.3 540.55,171.5 540.8,165.3 541.05,165.3 541.3,172.9 541.55,167.1 541.8,160 542.05,162.6 542.3,162.3 542.55,171.5 542.8,164.7 543.05,216.1 543.3,171.3 543.55,195.2 543.8,170.4 544.05,166.9 544.3,216.1 544.55,168.5 544.8,175.6 545.05,216.1 545.3,164 545.55,159.6 545.8,159.1 546.05,160.7 546.3,216.1 546.55,200 546.8,216.1 547.05,160.1 547.3,167.7 547.55,216.1 547.8,182.9 548.05,216.1 548.3,166 548.55,172 548.8,166.4 549.05,170.3 549.3,216.1 549.55,183.2 549.8,180.4 550.05,168.3 550.3,167 550.55,149.5 550.8,195.5 551.05,170.4 551.3,172.2 551.55,216.1 551.8,216.1 552.05,182.7 552.3,216.1 552.55,216.1 552.8,216.1 553.05,216.1 553.3,216.1 553.55,168.7 553.8,172.9 554.05,216.1 554.3,171.2 554.55,216.1 554.8,178.6 555.05,168.1 555.3,163.4 555.55,178.3 555.8,216.1 556.05,158 556.3,216.1 556.55,216.1 556.8,216.1 557.05,216.1 557.3,159.3 557.55,216.1 557.8,216.1 558.05,172 558.3,166.2 558.55,163 558.8,216.1 559.05,167.8 559.3,216.1 559.55,166.2 559.8,216.1 560.05,170.2 560.3,176.6 560.55,216.1 560.8,170.8 561.05,216.1 561.3,216.1 561.55,216.1 561.8,216.1 562.05,216.1 562.3,161 562.55,216.1 562.8,216.1 563.05,162.5 563.3,216.1 563.55,161.2 563.8,168.4 564.05,216.1 564.3,216.1 564.55,216.1 564.8,216.1 565.05,216.1 565.3,216.1 565.55,170.9 565.8,160.6 566.05,162.8 566.3,169.8 566.55,181.9 566.8,216.1 567.05,163.9 567.3,169.2 567.55,216.1 567.8,167.2 568.05,216.1 568.3,182.7 568.55,216.1 568.8,154.7 569.05,159.3 569.3,181.8 569.55,177.2 569.8,216.1 570.05,166.5 570.3,174.1 570.55,164.9 570.8,216.1 571.05,201.7 571.3,216.1 571.55,216.1 571.8,182.5 572.05,157.8 572.3,216.1 572.55,216.1 572.8,170.5 573.05,159.6 573.3,216.1 573.55,216.1 573.8,171.6 574.05,216.1 574.3,167.3 574.55,216.1 574.8,187.4 575.05,163.8 575.3,216.1 575.55,183.3 575.8,169.5 576.05,156.8 576.3,177.2 576.55,160.4 576.8,177.8 577.05,173.6 577.3,216.1 577.55,216.1 577.8,165.5 578.05,216.1 578.3,216.1 578.55,216.1 578.8,216.1 579.05,216.1 579.3,216.1 579.55,216.1 579.8,216.1 580.05,216.1 580.3,164.7 580.55,216.1 580.8,178.3 581.05,216.1 581.3,216.1 581.55,173.1 581.8,169 582.05,161.7 582.3,174.1 582.55,181.5 582.8,216.1 583.05,216.1 583.3,216.1 583.55,172 583.8,216.1 584.05,166.3 584.3,180.3 584.55,216.1 584.8,171.3 585.05,160 585.3,186.1 585.55,216.1 585.8,169 586.05,216.1 586.3,216.1 586.55,166.2 586.8,183.9 587.05,216.1 587.3,216.1 587.55,167.1 587.8,191.2 588.05,166.5 588.3,180.5 588.55,170.1 588.8,160.7 589.05,162.6 589.3,185.8 589.55,177.8 589.8,216.1 590.05,165.4 590.3,159.4 590.55,216.1 590.8,152.8 591.05,216.1 591.3,182.6 591.55,216.1 591.8,216.1 592.05,216.1 592.3,161 592.55,216.1 592.8,174.3 593.05,176.1 593.3,154.8 593.55,176.1 593.8,174.2 594.05,165.6 594.3,164 594.55,216.1 594.8,176.8 595.05,165.8 595.3,184.5 595.55,216.1 595.8,216.1 596.05,216.1 596.3,172.3 596.55,216.1 596.8,195.9 597.05,164.2 597.3,216.1 597.55,171.7 597.8,169.7 598.05,162.8 598.3,216.1 598.55,216.1 598.8,170.6 599.05,216.1 599.3,164.9 599.55,171.1 599.8,170.2 600.05,216.1 600.3,216.1 600.55,179.5 600.8,169.3 601.05,169.6 601.3,181.4 601.55,164.4 601.8,216.1 602.05,174.7 602.3,188.2 602.55,216.1 602.8,184.1 603.05,165.2 603.3,167.9 603.55,216.1 603.8,216.1 604.05,216.1 604.3,156.5 604.55,216.1 604.8,173.3 605.05,216.1 605.3,216.1 605.55,216.1 605.8,166.5 606.05,188.3 606.3,216.1 606.55,157.9 606.8,167.1 607.05,189.3 607.3,166.6 607.55,201.5 607.8,176.5 608.05,167.3 608.3,216.1 608.55,167.5 608.8,161.8 609.05,171.4 609.3,170.5 609.55,159.8 609.8,169.5 610.05,216.1 610.3,216.1 610.55,177.4 610.8,216.1 611.05,216.1 611.3,216.1 611.55,178.9 611.8,169.5 612.05,216.1 612.3,167.9 612.55,216.1 612.8,216.1 613.05,175.7 613.3,164.8 613.55,216.1 613.8,185 614.05,216.1 614.3,216.1 614.55,162.6 614.8,159.8 615.05,216.1 615.3,164.4 615.55,216.1 615.8,216.1 616.05,216.1 616.3,175.2 616.55,216.1 616.8,216.1 617.05,216.1 617.3,173.4 617.55,163.1 617.8,171.3 618.05,216.1 618.3,158.9 618.55,183.6 618.8,176.5 619.05,200.5 619.3,176.2 619.55,166.7 619.8,216.1 620.05,161.5 620.3,216.1 620.55,216.1 620.8,166.4 621.05,171.2 621.3,216.1 621.55,171.9 621.8,216.1 622.05,216.1 622.3,216.1 622.55,216.1 622.8,216.1 623.05,216.1 623.3,165.5 623.55,166.5 623.8,173.5 624.05,216.1 624.3,166.9 624.55,216.1 624.8,216.1 625.05,216.1 625.3,171.9 625.55,216.1 625.8,216.1 626.05,168.9 626.3,169.5 626.55,216.1 626.8,166.4 627.05,216.1 627.3,184.7 627.55,216.1 627.8,202.5 628.05,179.1 628.3,167 628.55,169.7 628.8,162.1 629.05,172.6 629.3,216.1 629.55,190.3 629.8,216.1 630.05,164.6 630.3,188.9 630.55,216.1 630.8,216.1 631.05,182.6 631.3,216.1 631.55,187.8 631.8,163 632.05,216.1 632.3,170.9 632.55,216.1 632.8,216.1 633.05,216.1 633.3,171.6 633.55,216.1 633.8,216.1 634.05,163 634.3,180.2 634.55,163.5 634.8,187.5 635.05,180.5 635.3,216.1 635.55,216.1 635.8,189.6 636.05,216.1 636.3,178.3 636.55,216.1 636.8,216.1 637.05,216.1 637.3,171.2 637.55,175.8 637.8,216.1 638.05,199.8 638.3,167.8 638.55,166.3 638.8,168.1 639.05,155.7 639.3,163.9 639.55,216.1 639.8,168.6 640.05,187 640.3,181.4 640.55,179.9 640.8,216.1 641.05,166.5 641.3,167.1 641.55,172.5 641.8,170.4 642.05,216.1 642.3,216.1 642.55,216.1 642.8,169.9 643.05,216.1 643.3,175.2 643.55,198.9 643.8,216.1 644.05,166.1 644.3,216.1 644.55,165.6 644.8,162.8 645.05,200.1 645.3,216.1 645.55,216.1 645.8,216.1 646.05,216.1 646.3,216.1 646.55,216.1 646.8,216.1 647.05,216.1 647.3,216.1 647.55,216.1 647.8,216.1 648.05,216.1 648.3,216.1 648.55,169.5 648.8,216.1 649.05,216.1 649.3,216.1 649.55,168.4 649.8,178.6 650.05,216.1 650.3,216.1 650.55,173 650.8,216.1 651.05,216.1 651.3,216.1 651.55,216.1 651.8,216.1 652.05,216.1 652.3,216.1 652.55,216.1 652.8,167.3 653.05,216.1 653.3,216.1 653.55,170.7 653.8,164.6 654.05,216.1 654.3,161.4 654.55,176.5 654.8,216.1 655.05,191.3 655.3,216.1 655.55,160 655.8,159.3 656.05,216.1 656.3,216.1 656.55,169.8 656.8,216.1 657.05,176.2 657.3,172.8 657.55,162.9 657.8,161.1 658.05,216.1 658.3,160.9 658.55,216.1 658.8,178.1 659.05,187.6 659.3,186.3 659.55,216.1 659.8,216.1 660.05,216.1 660.3,216.1 660.55,216.1 660.8,177.9 661.05,162.8 661.3,216.1 661.55,180 661.8,194.4 662.05,162.8 662.3,216.1 662.55,216.1 662.8,170.6 663.05,216.1 663.3,216.1 663.55,216.1 663.8,216.1 664.05,216.1 664.3,188.9 664.55,216.1 664.8,216.1 665.05,166.1 665.3,168 665.55,216.1 665.8,216.1 666.05,182.2 666.3,158.8 666.55,216.1 666.8,184.4 667.05,166.3 667.3,216.1 667.55,216.1 667.8,216.1 668.05,162.1 668.3,162.7 668.55,194.7 668.8,174.3 669.05,216.1 669.3,216.1 669.55,160 669.8,216.1 670.05,216.1 670.3,216.1 670.55,176.9 670.8,216.1 671.05,167.9 671.3,216.1 671.55,177.8 671.8,216.1 672.05,216.1 672.3,164.9 672.55,175.8 672.8,179.2"/>
<polyline clip-path="url(#cb)" fill="none" stroke="#B177DE" stroke-width="0.5" stroke-linejoin="round" points="369.65,144.9 369.9,143.8 370.15,144.7 370.4,144.9 370.65,145.3 370.9,143.7 371.15,146.1 371.4,143.9 371.65,142.3 371.9,143.2 372.15,143.1 372.4,143.8 372.65,142.5 372.9,143.1 373.15,144.3 373.4,141.2 373.65,139.4 373.9,141 374.15,140.5 374.4,140.1 374.65,139.9 374.9,138.8 375.15,139.1 375.4,138.9 375.65,139.5 375.9,137.8 376.15,136.4 376.4,138.5 376.65,136.9 376.9,137.1 377.15,136.9 377.4,135.3 377.65,135.9 377.9,136.1 378.15,135.7 378.4,134.6 378.65,134.8 378.9,134.3 379.15,133.4 379.4,134 379.65,133.3 379.9,133 380.15,132.6 380.4,131.7 380.65,132.1 380.9,131.1 381.15,131.2 381.4,131.1 381.65,130.9 381.9,130.4 382.15,129.9 382.4,129.8 382.65,129.5 382.9,128.9 383.15,128.4 383.4,127.8 383.65,127.9 383.9,127.3 384.15,126.9 384.4,126.3 384.65,126.2 385.65,124.1 386.65,122.2 387.65,120.7 388.65,118.5 389.65,116.7 390.65,114.6 391.65,112.5 392.65,110.5 393.65,108.3 394.65,106.3 395.65,104.1 396.65,102 397.65,99.8 398.65,97.4 399.65,95.1 400.65,93 401.65,91.1 402.65,89.6 403.65,88.2 404.65,86.9 405.65,85.7 406.65,84.7 407.65,83.8 408.65,82.9 409.65,82.2 410.65,81.5 411.65,80.9 412.65,80.3 413.65,79.8 414.65,79.5 415.65,79.5 416.65,79.5 417.65,79.6 418.65,79.6 419.65,79.6 420.65,79.7 421.65,79.7 422.65,79.8 423.65,79.9 424.65,80.1 425.65,80.2 426.65,80.2 427.65,80.3 428.65,80.3 429.65,80.3 430.65,80.3 431.65,80.3 432.65,80.3 433.65,80.3 434.65,80.3 435.65,80.3 436.65,80.2 437.65,80.2 438.65,80.2 439.65,80.2 440.65,80.2 441.65,80.2 442.65,80.2 443.65,80.2 444.65,80.2 445.65,80.1 446.65,80.1 447.65,80.1 448.65,80.1 449.65,80.1 450.65,80.1 451.65,80.1 452.65,80.1 453.65,80.1 454.65,80.1 455.65,80 456.65,80 457.65,80 458.65,80 459.65,80 460.65,80 461.65,80 462.65,80 463.65,80 464.65,80 465.65,80 466.65,80.1 467.65,80.1 468.65,80.2 469.65,80.3 470.65,80.4 471.65,81.1 472.65,82 473.65,83.2 474.65,84.9 475.65,86.7 476.65,88.4 477.65,90 478.65,91.7 479.65,93.5 480.65,95.3 481.65,97.3 482.65,99.2 483.65,101.1 484.65,103.1 485.65,105 486.65,107 487.65,109.1 488.65,110.9 489.65,113.1 490.65,115 491.65,117.2 492.65,119 493.65,121 494.65,122.8 495.65,124.8 496.45,125.7 496.7,126.4 496.95,126.8 497.2,126.9 497.45,127.8 497.7,127.9 497.95,129 498.2,129.1 498.45,129.5 498.7,130.1 498.95,130 499.2,130.4 499.45,131.6 499.7,131.7 499.95,131.7 500.2,132.3 500.45,132.6 500.7,132.9 500.95,133.6 501.2,133.7 501.45,133.8 501.7,134.4 501.95,135.2 502.2,135.4 502.45,135.5 502.7,136 502.95,135.7 503.2,136.3 503.45,137.2 503.7,137.6 503.95,138.4 504.2,138.4 504.45,137.6 504.7,139.1 504.95,140.1 505.2,138.5 505.45,138.7 505.7,139.3 505.95,140.3 506.2,140 506.45,141.6 506.7,143 506.95,142.4 507.2,141 507.45,141.6 507.7,142.4 507.95,143.9 508.2,143.8 508.45,141.5 508.7,142.7 508.95,145.6 509.2,145.2 509.45,144.3 509.7,145.1 509.95,147.9 510.2,145.7 510.45,147.8 510.7,146.3 510.95,147.6 511.2,146.2 511.45,148.3 511.7,147.4 511.95,147.2 512.2,148 512.45,147.2 512.7,150.6 512.95,149.9 513.2,153.6 513.45,148.7 513.7,153.7 513.95,154.2 514.2,159.8 514.45,152.4 514.7,160.2 514.95,153 515.2,149.2 515.45,155.1 515.7,148.6 515.95,154.7 516.2,152.4 516.45,151.7 516.7,154.1 516.95,164.3 517.2,155.4 517.45,157.2 517.7,154.8 517.95,154.7 518.2,155.7 518.45,157 518.7,162.6 518.95,165.7 519.2,156.6 519.45,155.4 519.7,194.6 519.95,160.2 520.2,166 520.45,170.7 520.7,159.1 520.95,154.1 521.2,165.3 521.45,160.1 521.7,153.4 521.95,156.5 522.2,158.9 522.45,216.1 522.7,171 522.95,216.1 523.2,168.3 523.45,160.1 523.7,155.3 523.95,163.6 524.2,175.5 524.45,164.6 524.7,167.1 524.95,160.4 525.2,216.1 525.45,162.8 525.7,186 525.95,164.9 526.2,169.1 526.45,167.5 526.7,165.6 526.95,168.7 527.2,216.1 527.45,216.1 527.7,164.9 527.95,176.6 528.2,166.9 528.45,216.1 528.7,173.8 528.95,202.8 529.2,161 529.45,162.4 529.7,181.8 529.95,174.5 530.2,174.1 530.45,171 530.7,174.2 530.95,162.3 531.2,162.4 531.45,216.1 531.7,165.5 531.95,169.2 532.2,162 532.45,216.1 532.7,173.3 532.95,216.1 533.2,216.1 533.45,178 533.7,169.3 533.95,168.6 534.2,177.3 534.45,163.7 534.7,179.9 534.95,174.9 535.2,216.1 535.45,165.6 535.7,192.3 535.95,166.4 536.2,168 536.45,216.1 536.7,216.1 536.95,190.8 537.2,216.1 537.45,216.1 537.7,216.1 537.95,216.1 538.2,169.4 538.45,216.1 538.7,180.8 538.95,189.9 539.2,182.3 539.45,216.1 539.7,216.1 539.95,216.1 540.2,174.8 540.45,164.2 540.7,169.5 540.95,166.8 541.2,216.1 541.45,167 541.7,216.1 541.95,167.9 542.2,216.1 542.45,161.8 542.7,182.5 542.95,216.1 543.2,216.1 543.45,216.1 543.7,163.9 543.95,168.7 544.2,171.1 544.45,168.8 544.7,216.1 544.95,216.1 545.2,216.1 545.45,216.1 545.7,171.9 545.95,216.1 546.2,165.9 546.45,164.2 546.7,181.3 546.95,171.8 547.2,216.1 547.45,216.1 547.7,216.1 547.95,216.1 548.2,216.1 548.45,162.7 548.7,216.1 548.95,156.6 549.2,160.1 549.45,216.1 549.7,216.1 549.95,181 550.2,216.1 550.45,177.9 550.7,216.1 550.95,166.2 551.2,166 551.45,216.1 551.7,216.1 551.95,216.1 552.2,216.1 552.45,216.1 552.7,216.1 552.95,191.6 553.2,216.1 553.45,216.1 553.7,216.1 553.95,162.4 554.2,190 554.45,176.7 554.7,216.1 554.95,216.1 555.2,173.7 555.45,164.7 555.7,216.1 555.95,216.1 556.2,216.1 556.45,180.3 556.7,216.1 556.95,216.1 557.2,216.1 557.45,167.9 557.7,216.1 557.95,182.8 558.2,174.5 558.45,216.1 558.7,216.1 558.95,180.8 559.2,216.1 559.45,216.1 559.7,216.1 559.95,168.3 560.2,167.9 560.45,168.9 560.7,216.1 560.95,169.1 561.2,168.9 561.45,163.3 561.7,216.1 561.95,187.1 562.2,216.1 562.45,165.6 562.7,216.1 562.95,216.1 563.2,216.1 563.45,178.6 563.7,204.6 563.95,168.2 564.2,216.1 564.45,216.1 564.7,216.1 564.95,216.1 565.2,216.1 565.45,163 565.7,216.1 565.95,216.1 566.2,216.1 566.45,216.1 566.7,165.4 566.95,216.1 567.2,173.4 567.45,178.9 567.7,216.1 567.95,183.9 568.2,216.1 568.45,216.1 568.7,216.1 568.95,161.4 569.2,216.1 569.45,216.1 569.7,216.1 569.95,216.1 570.2,216.1 570.45,189.1 570.7,216.1 570.95,216.1 571.2,165.9 571.45,161 571.7,216.1 571.95,216.1 572.2,216.1 572.45,216.1 572.7,216.1 572.95,216.1 573.2,188.9 573.45,182.9 573.7,216.1 573.95,161.5 574.2,216.1 574.45,216.1 574.7,161 574.95,154.6 575.2,216.1 575.45,216.1 575.7,163.7 575.95,216.1 576.2,216.1 576.45,169.4 576.7,216.1 576.95,216.1 577.2,163.9 577.45,216.1 577.7,162.4 577.95,160.7 578.2,216.1 578.45,185.1 578.7,163.1 578.95,176.6 579.2,179.5 579.45,200.8 579.7,216.1 579.95,169.5 580.2,216.1 580.45,216.1 580.7,160.3 580.95,174.4 581.2,166.7 581.45,180.5 581.7,216.1 581.95,162.2 582.2,216.1 582.45,170.3 582.7,162.3 582.95,169.7 583.2,216.1 583.45,151.8 583.7,174.6 583.95,157.2 584.2,216.1 584.45,216.1 584.7,216.1 584.95,169.2 585.2,161.1 585.45,167.6 585.7,166.4 585.95,216.1 586.2,216.1 586.45,216.1 586.7,216.1 586.95,162.3 587.2,216.1 587.45,193.7 587.7,170.4 587.95,216.1 588.2,216.1 588.45,216.1 588.7,216.1 588.95,171.4 589.2,162.3 589.45,216.1 589.7,216.1 589.95,169.1 590.2,216.1 590.45,180.1 590.7,216.1 590.95,189.8 591.2,216.1 591.45,216.1 591.7,216.1 591.95,170.7 592.2,216.1 592.45,216.1 592.7,216.1 592.95,177.7 593.2,216.1 593.45,216.1 593.7,216.1 593.95,216.1 594.2,162.2 594.45,175.6 594.7,185.9 594.95,216.1 595.2,216.1 595.45,216.1 595.7,216.1 595.95,168 596.2,168 596.45,166.3 596.7,216.1 596.95,163.7 597.2,164.6 597.45,216.1 597.7,216.1 597.95,216.1 598.2,216.1 598.45,171.7 598.7,216.1 598.95,216.1 599.2,216.1 599.45,169 599.7,160.4 599.95,165.8 600.2,216.1 600.45,216.1 600.7,216.1 600.95,172.3 601.2,166.3 601.45,165.4 601.7,216.1 601.95,160.7 602.2,216.1 602.45,216.1 602.7,164.6 602.95,216.1 603.2,172.6 603.45,216.1 603.7,166 603.95,166.5 604.2,173.2 604.45,163.8 604.7,216.1 604.95,207.4 605.2,164.4 605.45,181.9 605.7,189.8 605.95,216.1 606.2,188.2 606.45,183.9 606.7,161 606.95,170.8 607.2,181.3 607.45,164.9 607.7,194.7 607.95,216.1 608.2,216.1 608.45,216.1 608.7,216.1 608.95,191.6 609.2,216.1 609.45,164.3 609.7,216.1 609.95,169.9 610.2,216.1 610.45,170.3 610.7,171.4 610.95,170.1 611.2,176.1 611.45,173.6 611.7,168.7 611.95,216.1 612.2,166.1 612.45,216.1 612.7,216.1 612.95,173.5 613.2,179 613.45,190.6 613.7,161 613.95,216.1 614.2,172.1 614.45,216.1 614.7,216.1 614.95,216.1 615.2,216.1 615.45,170.7 615.7,216.1 615.95,216.1 616.2,216.1 616.45,165.8 616.7,167.2 616.95,216.1 617.2,216.1 617.45,174.8 617.7,216.1 617.95,166.8 618.2,180.6 618.45,216.1 618.7,216.1 618.95,216.1 619.2,160.9 619.45,170.3 619.7,216.1 619.95,216.1 620.2,216.1 620.45,216.1 620.7,216.1 620.95,168.3 621.2,154.6 621.45,172.6 621.7,216.1 621.95,205.5 622.2,158.6 622.45,163.2 622.7,216.1 622.95,182.2 623.2,158.9 623.45,216.1 623.7,180.2 623.95,199.9 624.2,167.9 624.45,216.1 624.7,182.6 624.95,216.1 625.2,215.6 625.45,188 625.7,183.7 625.95,174.5 626.2,216.1 626.45,173.7 626.7,165.7 626.95,216.1 627.2,216.1 627.45,173 627.7,216.1 627.95,216.1 628.2,172.4 628.45,216.1 628.7,216.1 628.95,216.1 629.2,163 629.45,188.3 629.7,216.1 629.95,167 630.2,159.7 630.45,216.1 630.7,216.1 630.95,216.1 631.2,216.1 631.45,179.4 631.7,216.1 631.95,216.1 632.2,216.1 632.45,216.1 632.7,216.1 632.95,158.2 633.2,167.2 633.45,216.1 633.7,170.8 633.95,198.1 634.2,216.1 634.45,216.1 634.7,216.1 634.95,216.1 635.2,216.1 635.45,192.7 635.7,216.1 635.95,175.1 636.2,216.1 636.45,160.6 636.7,216.1 636.95,165.4 637.2,216.1 637.45,198.4 637.7,192.2 637.95,216.1 638.2,216.1 638.45,216.1 638.7,157.7 638.95,216.1 639.2,164.8 639.45,168.6 639.7,169.4 639.95,216.1 640.2,175.8 640.45,216.1 640.7,216.1 640.95,182.1 641.2,171.7 641.45,216.1 641.7,216.1 641.95,216.1 642.2,216.1 642.45,179 642.7,216.1 642.95,216.1 643.2,216.1 643.45,216.1 643.7,195.6 643.95,216.1 644.2,173.9 644.45,206.4 644.7,166.5 644.95,164.3 645.2,200.4 645.45,163 645.7,216.1 645.95,164.1 646.2,160.7 646.45,216.1 646.7,216.1 646.95,216.1 647.2,216.1 647.45,216.1 647.7,192.3 647.95,216.1 648.2,216.1 648.45,162.2 648.7,216.1 648.95,216.1 649.2,216.1 649.45,152.3 649.7,163.1 649.95,168.1 650.2,159.3 650.45,169 650.7,216.1 650.95,216.1 651.2,209 651.45,176 651.7,216.1 651.95,216.1 652.2,162.1 652.45,169.7 652.7,156.6 652.95,171.2 653.2,216.1 653.45,216.1 653.7,171.2 653.95,216.1 654.2,166.6 654.45,160.1 654.7,165 654.95,175.9 655.2,216.1 655.45,216.1 655.7,159.1 655.95,216.1 656.2,216.1 656.45,216.1 656.7,206.9 656.95,216.1 657.2,175.6 657.45,216.1 657.7,155.7 657.95,173 658.2,216.1 658.45,216.1 658.7,159.2 658.95,167.1 659.2,216.1 659.45,216.1 659.7,174.3 659.95,216.1 660.2,180.3 660.45,216.1 660.7,159.1 660.95,216.1 661.2,216.1 661.45,169.5 661.7,161.9 661.95,171.8 662.2,165.5 662.45,216.1 662.7,216.1 662.95,176 663.2,163.6 663.45,216.1 663.7,216.1 663.95,216.1 664.2,216.1 664.45,216.1 664.7,187.9 664.95,179.6 665.2,159.9 665.45,165.8 665.7,215 665.95,216.1 666.2,165 666.45,216.1 666.7,216.1 666.95,184.3 667.2,162.2 667.45,168.9 667.7,216.1 667.95,216.1 668.2,178.3 668.45,216.1 668.7,186.8 668.95,216.1 669.2,216.1 669.45,216.1 669.7,170.6 669.95,216.1 670.2,174.2 670.45,216.1 670.7,162.3 670.95,216.1 671.2,177.7 671.45,158.3 671.7,216.1 671.95,194.2 672.2,216.1 672.45,216.1 672.7,165.6"/>
<g stroke="#000" stroke-width="0.18">
<rect x="21.6" y="1.4" width="301.5" height="199.6" fill="none" stroke="#3c3c3c" stroke-width="1"/>
<line x1="21.60" y1="201.0" x2="21.60" y2="197.0" stroke="#3c3c3c" stroke-width="1"/>
<line x1="21.60" y1="1.4" x2="21.60" y2="5.4" stroke="#3c3c3c" stroke-width="1"/>
<line x1="59.29" y1="201.0" x2="59.29" y2="199.2" stroke="#3c3c3c" stroke-width="1"/>
<line x1="59.29" y1="1.4" x2="59.29" y2="3.2" stroke="#3c3c3c" stroke-width="1"/>
<line x1="96.97" y1="201.0" x2="96.97" y2="197.0" stroke="#3c3c3c" stroke-width="1"/>
<line x1="96.97" y1="1.4" x2="96.97" y2="5.4" stroke="#3c3c3c" stroke-width="1"/>
<line x1="134.66" y1="201.0" x2="134.66" y2="199.2" stroke="#3c3c3c" stroke-width="1"/>
<line x1="134.66" y1="1.4" x2="134.66" y2="3.2" stroke="#3c3c3c" stroke-width="1"/>
<line x1="172.35" y1="201.0" x2="172.35" y2="197.0" stroke="#3c3c3c" stroke-width="1"/>
<line x1="172.35" y1="1.4" x2="172.35" y2="5.4" stroke="#3c3c3c" stroke-width="1"/>
<line x1="210.04" y1="201.0" x2="210.04" y2="199.2" stroke="#3c3c3c" stroke-width="1"/>
<line x1="210.04" y1="1.4" x2="210.04" y2="3.2" stroke="#3c3c3c" stroke-width="1"/>
<line x1="247.72" y1="201.0" x2="247.72" y2="197.0" stroke="#3c3c3c" stroke-width="1"/>
<line x1="247.72" y1="1.4" x2="247.72" y2="5.4" stroke="#3c3c3c" stroke-width="1"/>
<line x1="285.41" y1="201.0" x2="285.41" y2="199.2" stroke="#3c3c3c" stroke-width="1"/>
<line x1="285.41" y1="1.4" x2="285.41" y2="3.2" stroke="#3c3c3c" stroke-width="1"/>
<line x1="323.10" y1="201.0" x2="323.10" y2="197.0" stroke="#3c3c3c" stroke-width="1"/>
<line x1="323.10" y1="1.4" x2="323.10" y2="5.4" stroke="#3c3c3c" stroke-width="1"/>
<line x1="21.6" y1="26.35" x2="23.900000000000002" y2="26.35" stroke="#3c3c3c" stroke-width="1"/>
<line x1="323.1" y1="26.35" x2="320.8" y2="26.35" stroke="#3c3c3c" stroke-width="1"/>
<line x1="21.6" y1="51.30" x2="25.700000000000003" y2="51.30" stroke="#3c3c3c" stroke-width="1"/>
<line x1="323.1" y1="51.30" x2="319.0" y2="51.30" stroke="#3c3c3c" stroke-width="1"/>
<line x1="21.6" y1="76.25" x2="23.900000000000002" y2="76.25" stroke="#3c3c3c" stroke-width="1"/>
<line x1="323.1" y1="76.25" x2="320.8" y2="76.25" stroke="#3c3c3c" stroke-width="1"/>
<line x1="21.6" y1="101.20" x2="25.700000000000003" y2="101.20" stroke="#3c3c3c" stroke-width="1"/>
<line x1="323.1" y1="101.20" x2="319.0" y2="101.20" stroke="#3c3c3c" stroke-width="1"/>
<line x1="21.6" y1="126.15" x2="23.900000000000002" y2="126.15" stroke="#3c3c3c" stroke-width="1"/>
<line x1="323.1" y1="126.15" x2="320.8" y2="126.15" stroke="#3c3c3c" stroke-width="1"/>
<line x1="21.6" y1="151.10" x2="25.700000000000003" y2="151.10" stroke="#3c3c3c" stroke-width="1"/>
<line x1="323.1" y1="151.10" x2="319.0" y2="151.10" stroke="#3c3c3c" stroke-width="1"/>
<line x1="21.6" y1="176.05" x2="23.900000000000002" y2="176.05" stroke="#3c3c3c" stroke-width="1"/>
<line x1="323.1" y1="176.05" x2="320.8" y2="176.05" stroke="#3c3c3c" stroke-width="1"/>
<text x="22.10" y="214.6" font-size="11.6" text-anchor="middle">1100</text>
<text x="97.47" y="214.6" font-size="11.6" text-anchor="middle">1110</text>
<text x="172.85" y="214.6" font-size="11.6" text-anchor="middle">1120</text>
<text x="248.22" y="214.6" font-size="11.6" text-anchor="middle">1130</text>
<text x="323.60" y="214.6" font-size="11.6" text-anchor="middle">1140</text>
<rect x="370.65" y="1.0" width="301.25" height="200.1" fill="none" stroke="#3c3c3c" stroke-width="1"/>
<line x1="370.65" y1="201.1" x2="370.65" y2="197.1" stroke="#3c3c3c" stroke-width="1"/>
<line x1="370.65" y1="1.0" x2="370.65" y2="5.0" stroke="#3c3c3c" stroke-width="1"/>
<line x1="400.77" y1="201.1" x2="400.77" y2="199.29999999999998" stroke="#3c3c3c" stroke-width="1"/>
<line x1="400.77" y1="1.0" x2="400.77" y2="2.8" stroke="#3c3c3c" stroke-width="1"/>
<line x1="430.90" y1="201.1" x2="430.90" y2="197.1" stroke="#3c3c3c" stroke-width="1"/>
<line x1="430.90" y1="1.0" x2="430.90" y2="5.0" stroke="#3c3c3c" stroke-width="1"/>
<line x1="461.02" y1="201.1" x2="461.02" y2="199.29999999999998" stroke="#3c3c3c" stroke-width="1"/>
<line x1="461.02" y1="1.0" x2="461.02" y2="2.8" stroke="#3c3c3c" stroke-width="1"/>
<line x1="491.15" y1="201.1" x2="491.15" y2="197.1" stroke="#3c3c3c" stroke-width="1"/>
<line x1="491.15" y1="1.0" x2="491.15" y2="5.0" stroke="#3c3c3c" stroke-width="1"/>
<line x1="521.27" y1="201.1" x2="521.27" y2="199.29999999999998" stroke="#3c3c3c" stroke-width="1"/>
<line x1="521.27" y1="1.0" x2="521.27" y2="2.8" stroke="#3c3c3c" stroke-width="1"/>
<line x1="551.40" y1="201.1" x2="551.40" y2="197.1" stroke="#3c3c3c" stroke-width="1"/>
<line x1="551.40" y1="1.0" x2="551.40" y2="5.0" stroke="#3c3c3c" stroke-width="1"/>
<line x1="581.52" y1="201.1" x2="581.52" y2="199.29999999999998" stroke="#3c3c3c" stroke-width="1"/>
<line x1="581.52" y1="1.0" x2="581.52" y2="2.8" stroke="#3c3c3c" stroke-width="1"/>
<line x1="611.65" y1="201.1" x2="611.65" y2="197.1" stroke="#3c3c3c" stroke-width="1"/>
<line x1="611.65" y1="1.0" x2="611.65" y2="5.0" stroke="#3c3c3c" stroke-width="1"/>
<line x1="641.77" y1="201.1" x2="641.77" y2="199.29999999999998" stroke="#3c3c3c" stroke-width="1"/>
<line x1="641.77" y1="1.0" x2="641.77" y2="2.8" stroke="#3c3c3c" stroke-width="1"/>
<line x1="671.90" y1="201.1" x2="671.90" y2="197.1" stroke="#3c3c3c" stroke-width="1"/>
<line x1="671.90" y1="1.0" x2="671.90" y2="5.0" stroke="#3c3c3c" stroke-width="1"/>
<line x1="370.65" y1="26.01" x2="372.95" y2="26.01" stroke="#3c3c3c" stroke-width="1"/>
<line x1="671.9" y1="26.01" x2="669.6" y2="26.01" stroke="#3c3c3c" stroke-width="1"/>
<line x1="370.65" y1="51.02" x2="374.75" y2="51.02" stroke="#3c3c3c" stroke-width="1"/>
<line x1="671.9" y1="51.02" x2="667.8" y2="51.02" stroke="#3c3c3c" stroke-width="1"/>
<line x1="370.65" y1="76.04" x2="372.95" y2="76.04" stroke="#3c3c3c" stroke-width="1"/>
<line x1="671.9" y1="76.04" x2="669.6" y2="76.04" stroke="#3c3c3c" stroke-width="1"/>
<line x1="370.65" y1="101.05" x2="374.75" y2="101.05" stroke="#3c3c3c" stroke-width="1"/>
<line x1="671.9" y1="101.05" x2="667.8" y2="101.05" stroke="#3c3c3c" stroke-width="1"/>
<line x1="370.65" y1="126.06" x2="372.95" y2="126.06" stroke="#3c3c3c" stroke-width="1"/>
<line x1="671.9" y1="126.06" x2="669.6" y2="126.06" stroke="#3c3c3c" stroke-width="1"/>
<line x1="370.65" y1="151.07" x2="374.75" y2="151.07" stroke="#3c3c3c" stroke-width="1"/>
<line x1="671.9" y1="151.07" x2="667.8" y2="151.07" stroke="#3c3c3c" stroke-width="1"/>
<line x1="370.65" y1="176.09" x2="372.95" y2="176.09" stroke="#3c3c3c" stroke-width="1"/>
<line x1="671.9" y1="176.09" x2="669.6" y2="176.09" stroke="#3c3c3c" stroke-width="1"/>
<text x="371.15" y="214.6" font-size="11.6" text-anchor="middle">1550</text>
<text x="431.40" y="214.6" font-size="11.6" text-anchor="middle">1560</text>
<text x="491.65" y="214.6" font-size="11.6" text-anchor="middle">1570</text>
<text x="551.90" y="214.6" font-size="11.6" text-anchor="middle">1580</text>
<text x="612.15" y="214.6" font-size="11.6" text-anchor="middle">1590</text>
<text x="672.40" y="214.6" font-size="11.6" text-anchor="middle">1600</text>
<text x="35.3" y="26.0" font-size="18.7">(a)</text>
<text x="385.6" y="25.6" font-size="18.7">(b)</text>
<text x="172.4" y="237" font-size="15.6" text-anchor="middle">Wavelength (nm)</text>
<text x="521.0" y="237" font-size="15.6" text-anchor="middle">Wavelength (nm)</text>
<text transform="translate(11.8,101.3) rotate(-90)" font-size="15.4" text-anchor="middle">Intensity (20dB/div)</text>
<text transform="translate(361.3,100.8) rotate(-90)" font-size="15.4" text-anchor="middle">Intensity (20dB/div)</text>
</g>
</svg>
</body></html>
